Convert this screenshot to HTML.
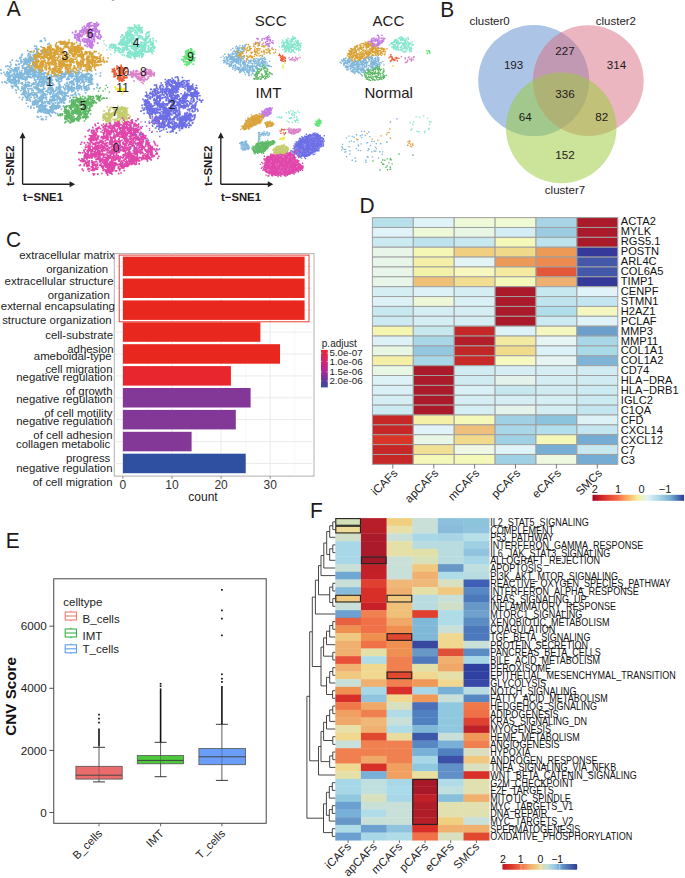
<!DOCTYPE html>
<html><head><meta charset="utf-8"><style>
html,body{margin:0;padding:0;background:#fff;}
body{width:685px;height:878px;overflow:hidden;}
svg{display:block;font-family:"Liberation Sans",sans-serif;}
</style></head><body>
<svg width="685" height="878" viewBox="0 0 685 878">
<text transform="translate(6.8 15.9) scale(0.93 1)" font-size="22.5" fill="#1e1a1a">A</text>
<text transform="translate(440.2 16.5) scale(0.93 1)" font-size="22.5" fill="#1e1a1a">B</text>
<text transform="translate(6.1 247.4) scale(0.93 1)" font-size="22.5" fill="#1e1a1a">C</text>
<text transform="translate(359.4 213.3) scale(0.93 1)" font-size="22.5" fill="#1e1a1a">D</text>
<text transform="translate(5.8 547.8) scale(0.93 1)" font-size="22.5" fill="#1e1a1a">E</text>
<text transform="translate(310.1 517.7) scale(0.93 1)" font-size="22.5" fill="#1e1a1a">F</text>
<path stroke="#80b8dc" stroke-width="1.65" stroke-linecap="square" fill="none" d="M33.2 54.5h0M33.3 52.2h0M34.8 54.4h0M34.7 55.1h0M9.7 81.0h0M13.7 80.4h0M12.0 79.8h0M10.4 79.5h0M8.9 76.8h0M9.5 74.4h0M9.8 75.2h0M8.7 73.3h0M45.1 102.8h0M42.2 103.6h0M44.3 101.5h0M44.6 101.6h0M34.0 101.9h0M32.5 103.6h0M30.2 100.8h0M34.5 100.7h0M22.1 82.9h0M22.5 83.5h0M22.1 83.4h0M22.2 84.2h0M65.9 72.6h0M66.5 72.0h0M62.7 73.4h0M64.2 73.8h0M34.7 84.0h0M32.8 84.6h0M32.3 84.6h0M33.7 84.2h0M27.4 84.6h0M27.8 85.1h0M27.7 82.0h0M26.2 85.0h0M52.4 107.0h0M53.8 106.6h0M51.7 105.7h0M52.7 104.5h0M43.5 95.8h0M43.8 98.0h0M40.0 98.4h0M42.6 97.9h0M19.1 77.4h0M22.1 76.8h0M15.9 76.3h0M18.1 77.7h0M73.4 83.7h0M72.4 84.5h0M71.7 85.6h0M72.6 82.5h0M67.6 85.9h0M66.0 86.1h0M64.6 84.6h0M68.8 85.5h0M55.6 75.3h0M57.3 74.7h0M55.0 74.9h0M56.6 76.6h0M48.9 89.8h0M47.0 90.9h0M50.2 89.3h0M49.1 87.5h0M40.9 90.0h0M42.1 90.8h0M38.9 90.2h0M40.6 91.1h0M7.8 74.2h0M7.7 78.5h0M7.1 76.0h0M6.6 76.1h0M40.4 106.5h0M41.9 105.1h0M41.9 104.4h0M40.5 104.9h0M12.0 74.7h0M13.6 76.8h0M9.9 75.6h0M13.5 73.8h0M55.6 106.6h0M54.7 105.3h0M56.0 106.2h0M52.6 105.6h0M30.6 72.0h0M30.2 72.3h0M31.1 71.4h0M30.4 70.9h0M38.4 106.4h0M40.1 109.0h0M36.8 106.9h0M37.1 106.2h0M23.6 59.4h0M19.7 58.4h0M21.1 59.6h0M21.1 59.5h0M29.6 76.9h0M26.0 78.3h0M26.9 77.1h0M24.3 76.8h0M4.0 72.3h0M6.5 73.7h0M7.2 71.7h0M5.0 74.6h0M37.3 84.5h0M38.1 84.9h0M38.7 84.2h0M39.1 82.7h0M50.5 87.5h0M50.7 87.5h0M52.3 87.3h0M52.9 89.5h0M39.6 71.6h0M40.8 71.8h0M40.9 71.1h0M41.0 69.7h0M15.7 69.1h0M15.1 69.5h0M15.9 68.2h0M14.0 69.8h0M28.4 67.0h0M27.7 70.0h0M26.4 69.6h0M29.5 70.7h0M37.8 52.0h0M37.2 51.4h0M36.9 50.6h0M40.8 50.7h0M46.8 78.1h0M46.8 76.2h0M47.2 77.0h0M46.1 76.8h0M36.1 62.9h0M34.5 62.2h0M35.2 61.8h0M36.9 62.2h0M30.0 70.4h0M27.7 70.0h0M31.2 70.5h0M28.6 69.7h0M53.0 99.4h0M52.8 99.7h0M53.7 99.9h0M52.6 100.4h0M36.0 58.4h0M36.7 57.0h0M35.8 59.3h0M36.6 59.1h0M25.4 78.1h0M25.4 80.6h0M27.0 79.4h0M25.6 79.8h0M28.3 92.4h0M32.1 94.6h0M28.3 90.9h0M28.4 93.0h0M90.9 74.8h0M90.1 76.3h0M91.5 74.6h0M89.4 73.7h0M25.6 58.0h0M25.6 58.9h0M24.5 59.3h0M24.8 59.8h0M81.0 75.6h0M79.4 76.8h0M81.2 75.5h0M81.1 77.7h0M64.7 100.4h0M64.4 103.2h0M63.1 99.1h0M63.9 99.4h0M71.7 75.9h0M71.9 77.7h0M72.9 76.2h0M73.6 75.9h0M34.3 98.1h0M35.5 100.2h0M38.3 101.4h0M35.4 101.0h0M41.8 110.9h0M41.0 111.0h0M40.8 109.3h0M41.0 112.0h0M39.1 81.7h0M36.0 82.1h0M38.5 82.4h0M35.8 81.6h0M51.5 111.0h0M52.1 108.8h0M53.2 110.8h0M51.7 109.5h0M44.3 105.4h0M43.7 107.8h0M44.6 106.4h0M44.7 106.5h0M26.9 63.9h0M29.0 65.0h0M26.3 63.5h0M28.4 62.5h0M28.0 85.2h0M27.3 85.2h0M27.9 86.0h0M28.6 86.4h0M29.1 73.4h0M29.0 73.8h0M28.8 73.5h0M29.6 73.0h0M38.7 75.5h0M39.0 75.8h0M38.7 75.9h0M38.4 76.2h0M56.9 107.8h0M58.0 107.5h0M57.8 106.4h0M56.1 106.2h0M42.5 107.4h0M43.2 108.8h0M44.6 109.1h0M43.2 108.2h0M50.5 81.9h0M51.5 79.9h0M52.1 83.0h0M50.7 79.5h0M21.7 77.7h0M20.9 75.9h0M20.2 78.1h0M20.6 77.8h0M71.2 82.8h0M70.1 82.0h0M70.5 82.4h0M71.6 81.1h0M34.6 80.0h0M35.7 79.9h0M35.6 80.3h0M34.9 79.8h0M52.3 99.8h0M54.4 99.5h0M55.2 99.9h0M55.6 99.5h0M16.2 80.6h0M16.3 82.0h0M16.0 84.2h0M14.1 83.1h0M27.3 62.5h0M26.9 60.4h0M28.0 61.8h0M28.4 64.9h0M74.2 78.6h0M74.9 79.5h0M73.8 79.8h0M76.2 77.8h0M58.5 94.9h0M57.3 96.7h0M55.9 96.4h0M54.8 96.7h0M86.3 74.6h0M87.9 73.4h0M86.0 74.1h0M84.8 76.1h0M60.6 79.4h0M60.1 78.8h0M61.5 80.9h0M58.6 81.0h0M50.0 93.6h0M50.3 92.2h0M51.2 93.2h0M53.4 91.8h0M47.5 82.3h0M46.4 81.3h0M45.3 81.0h0M45.5 81.6h0M47.8 111.4h0M49.2 111.8h0M48.5 110.2h0M49.2 110.6h0M16.0 76.0h0M16.5 74.1h0M17.4 73.1h0M17.6 74.0h0M43.2 79.4h0M40.8 78.7h0M42.9 78.2h0M40.4 76.7h0M20.0 72.7h0M21.6 74.1h0M21.4 73.6h0M21.3 74.2h0M23.7 64.8h0M24.2 63.3h0M23.9 63.9h0M26.3 64.1h0M55.1 76.0h0M54.0 75.2h0M54.8 73.1h0M55.8 74.6h0M60.3 75.9h0M61.2 79.4h0M60.2 79.2h0M61.3 78.3h0M44.1 110.1h0M42.8 107.3h0M44.1 109.3h0M44.7 107.5h0M57.2 93.3h0M56.5 95.0h0M55.9 94.8h0M56.2 93.8h0M66.3 74.1h0M67.0 72.4h0M65.6 71.0h0M66.5 73.9h0M62.1 100.8h0M59.9 100.4h0M62.2 100.2h0M61.7 102.6h0M53.9 107.0h0M54.7 108.8h0M55.3 108.5h0M55.5 108.7h0M34.4 64.8h0M33.6 66.4h0M32.9 64.4h0M35.0 65.9h0M69.6 81.8h0M70.5 83.4h0M73.1 81.1h0M70.5 82.3h0M20.8 76.9h0M23.3 78.3h0M23.2 74.9h0M22.8 78.7h0M77.7 75.3h0M75.7 72.4h0M78.0 74.3h0M77.2 72.7h0M51.6 101.1h0M49.0 101.7h0M48.5 103.6h0M50.1 99.2h0M41.7 78.0h0M39.8 80.1h0M40.3 76.5h0M40.7 78.4h0M35.6 102.1h0M37.3 102.8h0M34.5 104.4h0M35.5 103.3h0M68.5 90.1h0M67.2 88.7h0M70.0 89.2h0M68.3 88.4h0M28.5 53.8h0M28.4 54.6h0M27.9 56.0h0M29.0 53.7h0M32.2 58.2h0M32.7 59.4h0M30.2 60.4h0M29.1 59.5h0M30.4 77.5h0M30.5 76.5h0M33.0 76.5h0M33.1 75.6h0M19.9 74.2h0M21.4 76.1h0M19.7 74.0h0M20.1 74.1h0M90.3 82.2h0M91.4 81.1h0M92.5 79.5h0M91.4 81.5h0M34.4 65.3h0M32.5 67.9h0M34.5 69.3h0M35.2 66.1h0M48.2 79.3h0M46.7 79.2h0M46.9 77.8h0M47.6 78.7h0M25.8 80.2h0M25.7 79.1h0M23.1 79.1h0M24.1 79.2h0M14.2 70.9h0M15.8 71.0h0M14.7 70.7h0M13.2 70.0h0M33.3 60.0h0M33.6 59.5h0M34.0 59.3h0M34.2 58.8h0M56.8 80.6h0M55.7 79.2h0M56.4 80.5h0M58.2 80.0h0M71.8 89.4h0M72.1 88.1h0M71.6 87.1h0M71.8 90.6h0M67.4 89.1h0M69.9 88.6h0M68.2 89.6h0M70.5 87.4h0M84.7 87.8h0M85.8 86.7h0M84.3 88.1h0M85.9 87.9h0M18.0 80.4h0M18.5 79.9h0M19.3 81.4h0M19.1 78.0h0M49.9 103.8h0M51.2 101.7h0M52.4 103.3h0M49.9 100.7h0M57.6 105.5h0M56.1 108.8h0M58.2 108.2h0M60.0 106.9h0M65.2 93.4h0M67.7 93.0h0M65.1 93.4h0M68.0 91.6h0M18.3 69.3h0M18.6 68.7h0M17.3 70.0h0M18.4 68.1h0M53.8 91.0h0M56.0 90.1h0M56.4 89.2h0M56.3 87.2h0M60.8 90.2h0M60.0 91.9h0M60.0 91.5h0M61.9 93.1h0M50.2 80.8h0M48.1 79.8h0M51.6 83.1h0M49.0 83.0h0M49.4 92.6h0M49.9 89.0h0M47.9 92.3h0M50.2 94.3h0M74.2 87.7h0M74.2 88.2h0M74.4 87.5h0M72.8 87.5h0M64.4 94.1h0M65.0 89.8h0M64.8 92.3h0M65.7 94.3h0M51.1 75.0h0M49.9 76.9h0M51.4 75.8h0M55.4 76.7h0M46.2 52.6h0M48.8 52.0h0M48.9 52.1h0M47.6 52.1h0M8.5 77.1h0M7.6 76.0h0M7.5 76.0h0M8.6 74.6h0M25.7 86.3h0M25.7 82.9h0M24.4 85.0h0M25.7 84.7h0M19.1 80.5h0M18.2 81.4h0M18.9 81.6h0M18.9 79.0h0M77.7 78.1h0M77.1 76.1h0M79.5 79.0h0M77.3 80.7h0M15.8 69.5h0M17.0 67.5h0M18.8 67.6h0M18.9 67.3h0M32.4 101.6h0M33.5 104.4h0M33.6 103.2h0M34.5 104.7h0M39.0 69.1h0M39.1 70.7h0M38.8 69.6h0M38.2 69.9h0M36.9 76.7h0M39.7 72.6h0M37.8 72.8h0M35.1 71.3h0M27.6 62.9h0M28.1 60.3h0M27.8 61.2h0M27.3 61.8h0M88.3 80.6h0M88.4 82.1h0M89.8 84.2h0M88.8 84.5h0M69.0 76.0h0M69.3 76.1h0M71.1 75.4h0M71.7 73.6h0M70.7 88.7h0M74.0 87.9h0M73.7 90.7h0M70.8 89.7h0M32.3 94.5h0M33.8 95.8h0M31.1 97.2h0M33.1 95.1h0M36.9 50.0h0M36.9 49.9h0M36.9 48.3h0M35.4 48.9h0M24.4 63.9h0M27.1 59.2h0M24.8 62.5h0M27.6 59.8h0M55.4 105.8h0M56.4 107.4h0M55.5 107.0h0M57.3 106.1h0M73.4 73.7h0M72.7 73.3h0M72.2 71.0h0M70.8 73.0h0M43.2 80.8h0M39.8 79.6h0M43.3 82.2h0M43.5 79.1h0M50.5 88.4h0M49.2 88.2h0M50.4 86.9h0M48.4 87.9h0M30.8 59.9h0M29.2 60.6h0M31.2 59.9h0M30.5 61.1h0M39.5 77.1h0M41.5 74.8h0M40.1 73.3h0M41.1 75.3h0M86.4 74.7h0M86.0 76.7h0M84.0 76.9h0M85.6 74.9h0M38.2 110.6h0M38.8 110.4h0M40.2 109.7h0M39.1 108.7h0M50.8 92.1h0M51.4 91.3h0M53.1 90.2h0M53.7 92.8h0M64.5 98.0h0M64.9 97.7h0M63.4 96.4h0M64.3 97.3h0M46.1 81.1h0M48.5 82.5h0M44.4 82.4h0M48.3 82.4h0M63.0 92.3h0M61.8 94.1h0M66.1 93.0h0M62.1 94.0h0M52.8 84.8h0M52.9 83.4h0M50.1 85.3h0M53.8 84.9h0M36.0 75.2h0M34.5 76.1h0M33.4 75.3h0M32.8 75.8h0M82.0 77.1h0M83.4 76.9h0M84.1 75.9h0M85.4 75.8h0M27.7 61.1h0M25.1 60.3h0M25.0 59.5h0M26.0 62.0h0M50.1 92.7h0M51.0 90.0h0M47.7 92.1h0M48.0 92.0h0M37.6 72.9h0M36.5 72.0h0M36.1 71.6h0M35.2 73.4h0M27.1 97.5h0M25.3 95.7h0M25.4 96.6h0M26.1 97.1h0M26.6 72.1h0M26.6 72.5h0M26.2 71.9h0M25.9 69.4h0M17.2 71.6h0M19.9 72.7h0M18.6 69.7h0M19.7 71.5h0M13.2 71.3h0M10.9 71.9h0M10.2 70.8h0M10.7 71.1h0M31.1 67.7h0M31.5 67.3h0M32.7 65.3h0M30.2 68.4h0M36.1 102.5h0M37.9 103.2h0M39.6 101.4h0M37.3 101.4h0M78.1 73.5h0M79.5 72.6h0M81.4 72.6h0M79.2 72.3h0M9.9 77.7h0M10.8 76.6h0M11.9 75.6h0M9.3 77.4h0M39.0 108.1h0M39.2 109.3h0M39.7 111.3h0M40.4 108.8h0M23.2 68.1h0M22.3 66.4h0M21.8 70.6h0M22.6 68.2h0M41.8 103.4h0M42.4 102.5h0M43.2 103.2h0M41.8 101.2h0M34.7 62.4h0M34.8 62.5h0M34.5 62.8h0M37.8 62.3h0M30.3 94.9h0M29.5 95.7h0M28.4 94.6h0M29.4 93.8h0M34.9 64.4h0M32.9 64.9h0M35.5 61.2h0M34.4 63.6h0M86.9 89.0h0M85.7 88.7h0M86.3 89.5h0M87.5 89.7h0M26.2 77.1h0M26.9 78.3h0M27.1 76.7h0M26.4 78.9h0M42.2 76.8h0M45.2 79.0h0M42.3 79.9h0M41.8 77.3h0M34.3 70.6h0M35.7 70.2h0M34.8 69.5h0M32.9 68.7h0M15.3 78.6h0M13.7 78.9h0M13.4 77.5h0M14.6 77.5h0M69.0 76.3h0M69.1 75.8h0M66.9 73.6h0M68.9 74.4h0M27.2 72.1h0M27.3 71.5h0M27.5 71.0h0M26.4 72.6h0M61.1 92.9h0M60.5 91.4h0M60.8 90.9h0M60.6 92.0h0M27.7 62.5h0M29.7 60.3h0M27.4 60.3h0M28.6 57.8h0M76.9 87.8h0M78.0 90.7h0M78.5 88.5h0M79.1 89.0h0M47.1 101.4h0M49.4 101.8h0M49.5 102.0h0M49.9 99.8h0M92.8 84.0h0M91.2 83.6h0M90.7 84.4h0M91.8 82.4h0M82.5 74.3h0M83.7 74.4h0M82.9 75.2h0M83.3 74.5h0M28.2 100.2h0M29.8 98.9h0M29.6 99.1h0M27.5 98.8h0M58.5 86.5h0M57.3 88.0h0M58.7 86.9h0M60.3 86.3h0M24.7 68.4h0M24.1 67.8h0M24.5 69.8h0M26.6 67.9h0M29.6 86.0h0M28.6 86.3h0M28.6 84.6h0M27.9 84.9h0M32.7 59.0h0M33.5 57.7h0M33.2 55.9h0M34.6 56.8h0M76.1 81.3h0M76.1 81.2h0M76.9 83.7h0M77.6 82.5h0M41.1 81.9h0M42.3 80.8h0M41.2 84.6h0M39.5 79.9h0M32.5 84.5h0M35.6 84.0h0M33.3 83.6h0M33.8 83.3h0M36.7 72.5h0M39.2 74.3h0M35.7 72.5h0M38.3 72.7h0M38.8 57.3h0M38.9 57.1h0M36.8 57.9h0M39.8 56.0h0M44.9 102.3h0M41.4 101.9h0M41.9 102.6h0M42.2 101.4h0M41.6 106.8h0M43.2 105.8h0M39.8 107.5h0M44.1 106.0h0M38.5 77.7h0M37.7 79.5h0M40.2 77.6h0M37.9 78.5h0M19.3 64.0h0M22.0 61.8h0M19.4 64.4h0M18.6 64.3h0M50.9 109.5h0M51.2 109.6h0M51.0 108.6h0M50.2 110.0h0M17.1 77.1h0M15.4 76.1h0M12.6 79.4h0M16.8 76.5h0M85.4 87.2h0M84.1 86.2h0M85.4 87.2h0M86.6 87.7h0M43.1 103.2h0M42.1 103.1h0M42.4 104.3h0M41.3 105.0h0M27.8 70.9h0M26.8 71.5h0M25.5 70.9h0M24.8 73.1h0M58.6 84.0h0M59.1 82.6h0M59.8 81.8h0M59.9 84.7h0M41.8 85.6h0M43.2 83.1h0M43.4 85.0h0M43.3 83.6h0M42.3 89.7h0M43.2 89.2h0M41.9 91.1h0M42.5 89.6h0M44.9 72.7h0M45.4 73.2h0M45.7 73.1h0M44.8 76.2h0M47.5 50.7h0M49.8 49.8h0M48.6 47.8h0M45.9 51.2h0M18.2 75.1h0M16.3 71.5h0M17.2 72.5h0M17.3 73.3h0M16.8 74.6h0M13.2 76.4h0M14.5 74.0h0M15.9 77.7h0M47.3 110.7h0M49.1 110.0h0M49.9 110.5h0M50.7 111.9h0M8.7 69.4h0M10.0 66.4h0M11.1 68.7h0M12.3 69.6h0M50.3 106.9h0M50.0 109.5h0M51.6 107.3h0M52.1 108.8h0M25.2 59.7h0M23.9 59.7h0M25.2 63.2h0M24.3 61.1h0M16.3 81.0h0M15.2 79.6h0M16.2 81.0h0M16.7 81.4h0M82.7 80.1h0M82.1 82.0h0M84.1 82.0h0M82.9 81.7h0M56.9 106.1h0M57.6 105.9h0M58.6 106.1h0M54.4 105.2h0M40.1 99.3h0M39.2 98.3h0M37.0 96.9h0M37.9 98.5h0M58.3 92.7h0M57.7 91.9h0M58.4 89.3h0M59.4 90.4h0M61.5 75.0h0M60.8 72.9h0M59.3 72.6h0M59.5 72.4h0M49.9 107.1h0M51.2 109.3h0M51.7 106.2h0M52.2 107.2h0M16.0 68.0h0M15.3 69.0h0M14.8 68.7h0M15.2 67.8h0M26.0 85.7h0M25.2 84.6h0M26.7 85.8h0M25.7 85.0h0M60.3 78.7h0M62.1 78.1h0M59.3 75.7h0M63.3 77.1h0M65.1 73.1h0M61.8 73.1h0M63.1 74.4h0M65.2 75.3h0M8.8 79.1h0M10.9 81.8h0M10.8 82.5h0M10.4 80.1h0M24.5 87.5h0M23.2 88.1h0M24.8 85.1h0M23.6 85.7h0M52.0 90.8h0M48.0 89.3h0M52.1 88.5h0M48.9 88.3h0M34.6 64.1h0M32.6 63.7h0M34.3 65.1h0M36.4 64.6h0M70.8 73.5h0M73.1 75.5h0M72.1 75.0h0M71.9 73.8h0M71.4 76.3h0M72.1 76.5h0M70.7 76.4h0M72.1 73.6h0M35.3 97.5h0M36.8 95.6h0M36.7 96.4h0M33.7 95.1h0M72.4 81.1h0M76.8 80.3h0M76.2 78.8h0M76.6 81.2h0M30.5 88.5h0M28.0 88.8h0M28.5 89.0h0M29.2 89.0h0M28.9 59.7h0M29.7 60.4h0M29.4 57.5h0M29.9 61.0h0M62.0 92.1h0M63.4 93.2h0M61.4 92.0h0M62.1 95.5h0M48.3 103.2h0M47.5 101.3h0M46.6 101.7h0M47.9 103.3h0M47.1 94.5h0M45.1 93.8h0M43.3 96.3h0M45.2 94.9h0M26.5 86.8h0M25.7 86.6h0M24.8 88.1h0M25.2 87.0h0M37.9 52.6h0M38.0 54.4h0M37.0 53.1h0M38.1 53.3h0M67.9 87.4h0M68.7 87.1h0M64.9 88.7h0M65.6 87.5h0M65.3 95.1h0M68.0 96.0h0M66.5 95.7h0M68.3 96.1h0M38.1 100.5h0M39.4 100.8h0M38.1 100.9h0M37.9 101.7h0M61.1 102.6h0M63.9 102.8h0M60.7 101.4h0M61.9 100.6h0M34.4 72.7h0M33.5 74.4h0M33.1 72.7h0M31.4 71.0h0M30.3 93.5h0M31.6 94.4h0M31.7 92.8h0M30.3 94.2h0M89.9 80.5h0M89.6 77.2h0M90.6 77.1h0M92.4 78.5h0M80.9 86.9h0M80.1 85.8h0M78.8 88.6h0M81.7 89.7h0M8.8 73.0h0M9.0 72.5h0M9.0 73.0h0M10.5 72.5h0M46.4 99.2h0M46.4 97.4h0M45.5 95.6h0M45.0 97.9h0M36.1 93.8h0M36.9 92.9h0M38.3 92.1h0M37.1 95.0h0M50.6 97.0h0M50.7 99.3h0M51.2 101.7h0M49.3 102.5h0M22.2 78.1h0M22.1 79.0h0M21.1 78.7h0M20.1 77.3h0M34.8 104.0h0M36.0 99.8h0M37.7 103.3h0M35.8 104.0h0M30.9 57.9h0M30.6 54.6h0M31.4 58.9h0M30.7 56.9h0M68.1 77.1h0M68.3 78.7h0M69.5 79.0h0M67.3 78.8h0M43.2 70.7h0M39.6 69.9h0M41.2 70.6h0M41.5 72.1h0M24.1 61.5h0M24.7 61.7h0M24.7 62.6h0M26.9 59.7h0M85.2 79.6h0M85.4 78.3h0M86.6 79.3h0M85.0 77.3h0M39.0 105.6h0M40.6 107.0h0M39.9 107.0h0M39.3 105.7h0M27.7 73.4h0M28.7 74.9h0M27.7 75.4h0M27.0 74.8h0M52.9 95.6h0M52.5 96.5h0M52.5 97.5h0M53.8 97.1h0M71.4 88.1h0M72.7 90.1h0M73.9 89.9h0M73.5 90.9h0M63.4 97.4h0M64.1 96.8h0M64.3 97.6h0M63.5 96.9h0M20.2 76.0h0M21.4 75.1h0M21.5 74.0h0M21.0 75.2h0M74.1 84.8h0M72.1 82.7h0M73.9 83.5h0M73.4 82.2h0M18.9 76.4h0M16.2 75.9h0M16.8 76.7h0M17.3 76.7h0M22.3 65.7h0M23.0 65.7h0M23.8 64.3h0M22.4 65.8h0M29.6 65.5h0M29.0 67.4h0M28.6 65.1h0M30.0 63.3h0M35.5 55.5h0M36.7 55.4h0M35.4 56.2h0M36.1 55.2h0M16.0 71.0h0M16.1 69.7h0M15.9 70.9h0M13.4 70.0h0M71.4 75.9h0M70.0 74.3h0M71.7 75.1h0M70.6 73.3h0M22.0 86.8h0M25.5 88.5h0M24.7 87.7h0M23.9 90.1h0M40.7 99.3h0M41.9 100.7h0M42.6 99.1h0M41.8 98.1h0M67.3 79.3h0M68.6 79.5h0M67.7 78.4h0M66.7 79.3h0M61.2 77.1h0M62.7 77.3h0M58.2 74.7h0M61.1 76.4h0M21.8 86.7h0M17.9 87.1h0M16.6 86.4h0M15.8 86.2h0M41.1 95.3h0M42.2 94.8h0M43.3 95.8h0M42.5 98.2h0M85.7 74.5h0M85.6 75.1h0M87.5 73.6h0M86.9 75.0h0M57.3 96.5h0M57.3 98.1h0M54.7 96.2h0M57.6 96.3h0M76.3 95.0h0M75.0 93.6h0M71.9 91.7h0M75.6 92.6h0M63.4 76.6h0M61.7 74.0h0M61.6 76.4h0M61.9 73.9h0M35.1 88.2h0M33.9 86.7h0M36.0 88.6h0M34.4 87.9h0M14.7 74.8h0M17.8 73.1h0M14.5 72.9h0M16.0 71.3h0M42.2 73.9h0M44.2 75.1h0M43.1 74.5h0M44.0 73.1h0M23.4 89.9h0M24.5 90.0h0M20.9 90.7h0M21.8 88.8h0M48.3 113.3h0M47.4 113.1h0M49.2 112.8h0M48.3 111.8h0M8.4 79.9h0M9.9 82.0h0M9.8 80.4h0M9.0 82.0h0M90.8 78.9h0M88.6 80.7h0M89.4 80.5h0M86.2 81.3h0M15.9 82.9h0M14.9 83.4h0M15.0 81.4h0M16.2 84.3h0M54.7 95.4h0M55.5 94.6h0M52.7 94.4h0M54.1 95.2h0M52.8 88.7h0M50.5 89.0h0M50.5 88.8h0M51.2 89.1h0M79.6 79.8h0M76.0 81.4h0M78.0 77.8h0M77.4 79.2h0M41.5 109.1h0M43.6 112.3h0M42.7 111.7h0M43.2 110.5h0M25.3 90.2h0M25.2 91.1h0M26.2 92.1h0M24.4 90.4h0M40.5 97.0h0M42.1 99.1h0M41.9 96.9h0M40.9 99.2h0M31.3 70.9h0M32.7 73.7h0M32.1 70.7h0M29.1 71.5h0M7.7 74.0h0M7.0 72.3h0M8.7 73.8h0M7.8 73.0h0M42.8 92.1h0M43.9 94.4h0M43.3 91.8h0M42.3 92.8h0M38.2 61.4h0M37.6 61.9h0M36.4 60.0h0M37.9 60.4h0M27.7 94.9h0M25.8 96.4h0M26.4 97.5h0M26.5 94.0h0M89.5 80.9h0M88.6 79.0h0M88.8 81.8h0M88.2 79.7h0M76.7 88.4h0M77.2 88.9h0M76.1 88.5h0M78.8 88.4h0M47.4 85.5h0M46.4 82.9h0M45.8 81.9h0M46.5 84.0h0M37.0 87.8h0M37.5 88.4h0M36.7 86.9h0M36.4 86.1h0M31.2 59.1h0M30.0 62.7h0M31.7 60.4h0M31.1 59.7h0M31.7 77.6h0M35.3 76.3h0M34.1 77.8h0M34.4 77.5h0M43.6 89.4h0M43.5 88.4h0M43.5 87.4h0M44.8 88.5h0M26.5 98.0h0M26.6 96.8h0M26.4 100.2h0M26.3 97.1h0M36.6 53.7h0M38.1 52.5h0M36.6 53.0h0M34.8 54.6h0M59.0 99.0h0M61.8 99.1h0M60.2 99.2h0M60.3 97.8h0M25.7 93.1h0M23.5 91.4h0M24.4 93.2h0M24.3 93.9h0M53.7 95.8h0M52.7 96.9h0M54.3 96.7h0M53.7 96.9h0M45.9 105.4h0M45.1 108.1h0M43.4 106.2h0M46.2 105.8h0M49.9 78.5h0M49.5 79.3h0M51.0 76.9h0M48.1 79.5h0M52.6 104.8h0M52.5 105.1h0M53.5 104.1h0M53.6 106.8h0M49.4 85.1h0M48.1 83.5h0M47.7 82.8h0M47.8 82.3h0M40.3 71.1h0M39.4 73.6h0M39.1 73.8h0M37.1 74.7h0M63.2 86.9h0M64.1 88.5h0M61.0 87.3h0M64.4 88.8h0M51.8 76.4h0M51.5 77.9h0M50.0 77.7h0M49.3 78.2h0M69.5 90.5h0M67.8 88.4h0M71.0 87.1h0M69.6 89.3h0M38.4 102.3h0M36.6 104.0h0M37.2 104.3h0M35.8 104.3h0M37.9 76.8h0M37.0 76.8h0M38.3 76.3h0M39.3 76.6h0M53.0 98.1h0M53.4 97.3h0M51.8 96.7h0M54.1 98.2h0M24.3 73.4h0M23.5 75.6h0M24.8 71.8h0M24.8 74.3h0M43.3 82.5h0M42.6 82.9h0M43.4 81.0h0M43.5 82.8h0M79.1 71.2h0M78.1 72.2h0M79.4 68.8h0M78.8 72.7h0M51.7 112.6h0M52.6 112.7h0M49.6 114.6h0M50.7 111.8h0M61.4 99.1h0M62.2 99.0h0M62.4 101.0h0M63.9 98.9h0M34.6 65.9h0M37.1 63.8h0M36.6 67.4h0M36.2 65.6h0M31.2 85.8h0M31.9 84.4h0M32.3 84.1h0M33.9 82.9h0M62.4 100.6h0M63.4 99.6h0M64.9 96.4h0M60.6 99.1h0M83.1 79.8h0M83.8 82.5h0M84.1 84.1h0M83.4 82.5h0M85.4 87.2h0M88.5 89.5h0M88.6 87.3h0M86.8 85.7h0M65.7 99.1h0M63.1 97.3h0M62.7 101.6h0M63.7 100.7h0M84.1 87.5h0M88.4 85.3h0M83.6 85.8h0M86.1 86.9h0M59.8 86.2h0M58.6 88.2h0M60.2 88.6h0M60.0 87.8h0M66.7 86.0h0M68.9 86.9h0M67.4 83.4h0M66.9 85.9h0M64.3 75.6h0M63.1 73.9h0M65.1 76.8h0M64.9 74.0h0M32.0 70.7h0M33.5 74.8h0M33.1 72.8h0M34.5 72.4h0M34.7 73.7h0M35.1 71.6h0M35.1 75.1h0M32.8 71.3h0M76.7 86.4h0M77.8 85.5h0M77.2 84.3h0M77.2 83.3h0M87.0 74.8h0M88.3 74.4h0M86.5 75.0h0M87.2 77.1h0M91.3 77.5h0M89.3 78.0h0M91.2 75.9h0M92.1 75.9h0M41.9 50.9h0M41.3 46.8h0M41.9 50.3h0M42.4 50.3h0M62.0 93.4h0M63.7 96.0h0M61.4 94.0h0M62.4 91.5h0M45.2 111.4h0M46.3 108.9h0M45.2 110.1h0M44.8 109.5h0M33.3 92.5h0M33.7 94.6h0M34.8 93.0h0M32.2 94.6h0M37.9 86.5h0M38.5 82.9h0M39.2 85.4h0M40.3 82.3h0M45.9 91.2h0M43.3 92.1h0M43.3 92.3h0M43.7 93.5h0M39.0 88.8h0M37.4 89.9h0M37.0 89.4h0M38.0 87.7h0M41.0 100.1h0M38.6 101.7h0M39.8 99.0h0M39.6 101.0h0M37.0 88.5h0M36.0 86.3h0M37.1 87.6h0M36.2 87.3h0M45.2 106.5h0M43.9 105.8h0M46.5 105.8h0M41.6 105.7h0M40.8 93.0h0M38.8 91.4h0M40.1 89.5h0M39.2 92.6h0M44.3 82.6h0M41.7 83.5h0M43.6 85.6h0M44.1 84.5h0M36.4 46.3h0M37.1 49.8h0M36.9 50.4h0M34.7 46.1h0M53.7 103.2h0M54.3 100.9h0M55.9 99.4h0M57.1 100.7h0M60.8 91.2h0M59.9 92.1h0M58.6 92.4h0M60.7 91.8h0M29.0 96.9h0M27.7 97.7h0M27.2 97.0h0M28.2 95.9h0M75.4 76.2h0M78.7 74.4h0M76.2 74.7h0M76.4 76.6h0M56.1 108.7h0M58.6 107.0h0M57.5 105.3h0M59.1 107.1h0M83.1 80.4h0M82.2 79.2h0M81.6 81.0h0M86.0 78.8h0M47.8 84.9h0M47.6 85.5h0M49.1 83.5h0M48.5 82.7h0M23.1 93.1h0M21.5 94.4h0M21.7 94.5h0M22.9 94.5h0M37.5 83.7h0M39.0 82.7h0M40.4 81.9h0M39.1 85.4h0M41.1 78.9h0M40.6 79.1h0M41.4 79.6h0M41.5 78.9h0M82.9 77.6h0M84.0 77.3h0M82.5 76.5h0M81.8 75.0h0M75.8 73.8h0M74.8 72.2h0M74.5 71.7h0M71.9 75.2h0M59.2 102.3h0M54.8 105.7h0M55.7 102.9h0M52.7 106.3h0M44.1 112.3h0M46.0 112.1h0M47.1 109.6h0M46.1 109.9h0M29.4 82.8h0M29.5 82.8h0M28.7 82.4h0M28.7 85.1h0M29.9 69.3h0M31.5 69.1h0M29.4 66.6h0M27.7 69.6h0M57.4 96.1h0M57.6 98.9h0M58.3 97.5h0M58.9 96.8h0M17.0 67.7h0M15.3 67.9h0M16.5 65.1h0M15.7 64.6h0M19.0 74.4h0M20.3 73.1h0M19.5 74.0h0M17.6 74.2h0M80.4 87.9h0M81.7 89.0h0M80.7 87.1h0M80.3 87.2h0M76.4 77.5h0M80.9 76.2h0M79.3 77.2h0M77.2 77.3h0M70.0 82.9h0M66.5 83.7h0M68.7 84.9h0M67.1 82.5h0M28.9 72.7h0M31.1 71.0h0M33.2 73.2h0M30.5 72.5h0M21.2 61.6h0M18.3 61.2h0M20.9 61.3h0M21.3 62.9h0M20.1 77.8h0M22.0 77.9h0M18.7 79.6h0M20.6 76.7h0M29.9 56.3h0M29.0 58.9h0M28.4 59.4h0M28.3 60.7h0M80.5 79.3h0M79.2 80.3h0M79.2 80.7h0M80.0 79.2h0M21.7 72.5h0M24.0 73.5h0M23.0 74.2h0M23.9 74.4h0M61.4 78.8h0M59.7 78.1h0M58.2 78.3h0M57.8 76.9h0M31.2 57.2h0M32.6 59.5h0M32.5 60.1h0M30.2 59.2h0M59.9 94.0h0M61.6 94.1h0M59.7 92.9h0M61.0 91.2h0M79.4 85.0h0M77.1 84.4h0M77.7 86.2h0M80.7 83.0h0M71.4 71.5h0M70.3 70.7h0M70.3 71.4h0M69.2 73.7h0M84.9 77.3h0M86.4 77.0h0M83.8 75.9h0M86.2 77.6h0M36.5 53.7h0M38.0 54.5h0M39.1 53.5h0M38.2 55.0h0M38.7 85.2h0M38.7 84.8h0M40.8 86.1h0M37.6 86.7h0M45.8 78.9h0M43.5 77.0h0M43.4 80.9h0M46.8 78.6h0M35.3 95.0h0M34.8 94.6h0M34.8 94.8h0M34.8 93.4h0M37.5 96.2h0M39.8 97.4h0M39.7 98.1h0M41.4 96.5h0M90.0 79.1h0M90.1 78.6h0M90.6 76.6h0M91.9 79.6h0M52.5 80.0h0M51.0 81.7h0M51.2 78.9h0M51.6 80.6h0M56.2 79.3h0M56.5 80.5h0M57.3 80.2h0M56.9 81.1h0M50.8 78.9h0M48.8 74.8h0M49.4 79.7h0M50.0 78.2h0M41.0 53.5h0M42.0 53.8h0M43.2 52.4h0M44.5 52.2h0M59.6 105.8h0M57.7 104.5h0M57.9 102.9h0M58.7 103.4h0M21.2 83.2h0M18.6 83.2h0M18.8 83.5h0M18.6 82.8h0M38.6 70.8h0M42.5 74.1h0M41.3 72.6h0M40.3 74.2h0M78.4 78.8h0M79.1 81.9h0M78.3 80.9h0M80.6 83.2h0M41.4 110.2h0M41.5 111.2h0M42.8 109.0h0M41.2 112.0h0M27.2 66.2h0M25.8 67.5h0M27.4 67.2h0M26.3 68.8h0M45.4 112.1h0M44.9 112.7h0M45.9 112.9h0M45.9 112.0h0M12.0 79.7h0M12.3 80.8h0M9.9 79.5h0M10.8 81.2h0M26.6 73.3h0M27.5 73.3h0M26.3 72.5h0M29.2 73.9h0M42.8 78.4h0M44.6 77.6h0M44.3 76.8h0M44.1 80.8h0M51.9 109.3h0M52.8 109.2h0M54.3 108.0h0M53.1 109.5h0M33.2 90.3h0M31.8 90.4h0M32.3 90.4h0M32.0 88.5h0M18.1 88.0h0M16.6 84.0h0M16.0 84.6h0M17.0 86.4h0M89.6 78.4h0M90.0 78.8h0M88.1 77.7h0M91.0 78.9h0M30.0 76.6h0M30.5 74.3h0M28.7 76.9h0M29.6 77.3h0M32.3 70.4h0M33.1 70.4h0M30.6 72.3h0M31.2 74.3h0M32.0 60.8h0M29.8 61.8h0M32.2 59.1h0M32.4 58.2h0M14.4 82.1h0M13.9 80.7h0M15.0 83.7h0M12.6 82.9h0M79.9 86.4h0M81.6 86.6h0M78.8 86.6h0M79.2 86.9h0M54.9 91.4h0M56.1 89.8h0M58.2 89.7h0M56.0 89.4h0M24.6 95.5h0M24.8 93.2h0M24.3 92.7h0M23.0 93.3h0M96.0 74.0h0M7.4 80.4h0M27.7 50.6h0M31.0 106.4h0M94.0 88.9h0M22.3 54.3h0M33.9 107.9h0M26.3 103.2h0M30.8 108.1h0M12.2 60.2h0M20.1 57.5h0M18.5 89.3h0M85.5 92.9h0M97.9 85.2h0M96.8 87.6h0M11.6 83.5h0M89.3 88.5h0M69.6 102.0h0M72.9 95.1h0M4.7 81.8h0M37.3 116.6h0M10.3 62.2h0M12.4 87.8h0M32.8 105.0h0M100.3 75.8h0M87.1 69.9h0M49.2 43.6h0M37.8 112.4h0M2.2 82.3h0M46.0 119.4h0M65.5 106.6h0M90.8 68.7h0M21.4 57.2h0M86.8 90.5h0M55.5 113.1h0M41.1 40.6h0M7.8 65.8h0M21.6 55.5h0M80.6 69.4h0M46.3 116.8h0M8.2 69.4h0M73.3 99.2h0M6.8 83.1h0M41.3 119.5h0M15.7 90.0h0M9.6 66.9h0M42.2 118.7h0M43.1 119.6h0M70.2 97.8h0M69.9 100.7h0M5.7 82.2h0M61.5 109.2h0M63.4 105.8h0M16.2 90.5h0M50.8 115.9h0M47.8 44.3h0M45.4 40.3h0M11.0 64.4h0M79.6 95.0h0M72.6 71.2h0M97.6 85.4h0M16.4 60.6h0M12.8 86.6h0M57.5 113.6h0M29.5 51.7h0M41.5 41.4h0M44.7 38.4h0M22.2 99.6h0M14.2 85.3h0M16.4 92.7h0M5.9 66.3h0M97.2 84.1h0M84.7 90.4h0M78.6 93.7h0M38.5 117.2h0M0.9 69.9h0M91.5 70.8h0M44.4 38.4h0M86.7 89.7h0M71.1 95.3h0M41.0 116.5h0M11.6 86.1h0M19.4 97.5h0M75.0 94.3h0M66.5 106.3h0M100.6 73.0h0M28.1 106.5h0M22.9 97.6h0M1.4 73.3h0M40.3 41.4h0M31.4 51.6h0M54.4 112.2h0"/>
<path stroke="#5cb864" stroke-width="1.65" stroke-linecap="square" fill="none" d="M73.8 112.5h0M74.9 110.1h0M75.7 112.2h0M75.8 112.4h0M78.8 120.1h0M80.7 117.7h0M77.4 118.2h0M79.9 114.6h0M84.6 114.7h0M84.7 115.2h0M84.1 116.0h0M84.2 114.1h0M85.2 116.4h0M84.0 113.4h0M85.2 114.3h0M85.9 115.6h0M78.6 99.0h0M77.3 98.6h0M77.0 100.4h0M77.0 98.0h0M75.6 103.3h0M74.5 106.5h0M73.4 105.3h0M75.8 104.5h0M82.7 107.7h0M81.7 108.9h0M80.0 105.6h0M83.2 109.1h0M93.2 96.5h0M90.4 96.4h0M91.4 99.5h0M89.4 97.0h0M65.4 115.5h0M66.9 114.0h0M66.0 113.1h0M66.2 116.4h0M77.4 106.2h0M74.6 106.3h0M74.9 106.1h0M76.1 107.4h0M83.3 107.1h0M85.0 106.0h0M86.2 107.3h0M84.5 105.3h0M83.6 110.7h0M84.1 110.7h0M85.8 108.8h0M86.2 109.7h0M65.0 110.1h0M66.4 109.8h0M66.1 110.2h0M64.2 111.3h0M95.5 102.3h0M92.9 100.8h0M96.3 103.0h0M95.2 102.2h0M92.1 102.3h0M91.0 102.8h0M90.6 104.3h0M91.0 103.3h0M87.7 117.3h0M86.3 115.3h0M85.0 116.0h0M88.0 117.1h0M84.4 103.9h0M83.9 99.8h0M83.1 103.6h0M82.6 102.4h0M77.1 110.2h0M76.7 109.9h0M73.4 110.3h0M75.1 110.0h0M93.8 98.0h0M92.5 101.6h0M92.6 100.0h0M92.6 101.5h0M89.8 108.4h0M89.9 106.6h0M86.1 106.3h0M87.9 105.3h0M77.0 111.1h0M77.4 112.2h0M76.4 111.7h0M76.5 112.4h0M68.0 110.6h0M69.1 111.0h0M67.9 113.1h0M68.0 110.3h0M88.4 102.6h0M87.5 101.6h0M87.7 103.4h0M88.2 100.2h0M88.3 98.8h0M88.9 99.0h0M89.2 97.7h0M88.4 101.0h0M69.7 113.8h0M71.3 112.1h0M72.6 116.7h0M68.6 116.2h0M87.8 104.8h0M85.5 106.0h0M88.0 103.6h0M86.5 105.7h0M90.6 100.0h0M90.1 102.5h0M91.8 101.9h0M88.7 101.8h0M77.3 118.5h0M78.8 121.0h0M78.9 119.2h0M78.2 121.0h0M82.8 96.4h0M83.1 99.3h0M79.5 99.2h0M80.5 97.1h0M72.9 115.0h0M71.2 115.1h0M73.1 114.3h0M69.3 115.7h0M79.3 114.1h0M77.9 113.7h0M79.6 111.4h0M77.1 113.8h0M70.9 109.3h0M69.8 107.5h0M71.1 109.2h0M73.2 107.3h0M73.0 121.7h0M73.1 120.2h0M74.3 119.7h0M73.1 119.2h0M75.6 110.2h0M77.0 108.9h0M76.2 109.9h0M76.8 109.8h0M66.7 106.1h0M67.2 106.0h0M64.4 107.1h0M66.2 107.4h0M68.3 113.0h0M65.3 111.7h0M66.4 113.1h0M64.9 113.2h0M85.0 106.8h0M84.5 106.5h0M83.2 107.8h0M83.9 103.7h0M90.8 102.1h0M91.7 102.6h0M90.7 99.6h0M93.4 100.9h0M87.1 107.7h0M86.7 106.3h0M85.3 107.0h0M85.6 107.5h0M67.1 115.5h0M65.4 116.8h0M68.2 116.5h0M67.5 114.4h0M67.8 116.6h0M66.2 117.7h0M69.3 117.2h0M67.9 115.9h0M79.1 102.9h0M80.9 101.4h0M80.2 99.9h0M80.2 102.2h0M66.9 114.3h0M66.9 113.9h0M68.0 114.2h0M67.0 113.6h0M78.1 111.7h0M76.6 111.8h0M78.9 111.6h0M77.7 110.9h0M77.7 101.4h0M74.5 103.5h0M77.7 102.4h0M76.0 99.9h0M68.0 116.2h0M68.2 116.2h0M69.3 117.1h0M68.7 114.8h0M78.1 99.7h0M79.5 99.6h0M81.8 99.1h0M79.2 98.9h0M98.9 98.3h0M99.0 100.0h0M97.5 98.3h0M99.1 100.4h0M85.8 113.0h0M83.3 117.7h0M86.0 114.7h0M86.8 117.3h0M78.4 107.6h0M77.2 104.8h0M79.3 108.2h0M78.7 105.9h0M99.2 99.2h0M101.6 99.0h0M100.1 100.6h0M100.4 97.3h0M77.1 118.7h0M79.0 116.5h0M78.6 118.5h0M79.8 119.0h0M73.7 100.7h0M75.3 103.0h0M75.2 102.6h0M73.4 101.7h0M83.4 102.7h0M84.4 102.0h0M85.0 101.7h0M86.3 101.4h0M72.8 113.5h0M72.3 112.2h0M71.7 113.1h0M72.1 110.6h0M69.5 118.2h0M67.0 115.7h0M67.4 117.3h0M68.5 116.9h0M65.4 110.3h0M66.3 109.9h0M65.9 109.6h0M66.5 111.5h0M72.9 102.1h0M72.3 102.0h0M71.7 103.0h0M74.1 102.6h0M76.6 113.7h0M74.5 112.0h0M76.3 111.2h0M74.5 111.7h0M70.8 106.1h0M69.3 107.4h0M70.1 107.9h0M72.5 107.5h0M86.9 105.4h0M85.7 103.5h0M87.2 103.1h0M86.1 101.9h0M83.9 108.8h0M88.0 110.8h0M87.2 111.2h0M85.4 111.1h0M78.5 100.3h0M80.7 98.3h0M78.1 99.5h0M78.1 99.0h0M83.4 110.0h0M83.7 110.5h0M85.4 111.6h0M85.2 111.4h0M87.7 113.6h0M86.7 117.3h0M86.9 115.4h0M85.7 114.6h0M66.2 119.3h0M66.2 117.6h0M65.0 119.0h0M65.2 118.9h0M76.8 99.0h0M81.0 100.1h0M75.5 101.1h0M80.4 100.4h0M81.1 113.9h0M81.3 115.0h0M78.6 114.4h0M81.9 113.6h0M81.4 109.9h0M80.3 110.4h0M78.7 112.9h0M80.5 111.6h0M92.9 102.3h0M93.6 103.4h0M94.3 100.7h0M94.2 101.4h0M62.4 114.7h0M62.4 113.7h0M62.0 114.8h0M60.3 115.6h0M69.1 118.6h0M71.5 117.3h0M69.4 117.8h0M69.1 117.7h0M85.5 101.1h0M87.1 99.9h0M84.9 97.3h0M85.2 98.4h0M80.1 117.2h0M85.2 115.9h0M82.7 117.0h0M82.9 117.5h0M72.1 121.6h0M68.8 121.4h0M71.1 121.3h0M70.0 122.5h0M85.8 113.9h0M86.2 114.0h0M83.9 113.6h0M86.1 113.7h0M83.2 104.4h0M83.7 105.6h0M83.9 104.4h0M83.7 105.4h0M77.8 105.6h0M77.6 104.8h0M76.2 106.0h0M76.9 106.7h0M90.5 110.2h0M89.5 109.9h0M89.4 110.5h0M88.5 111.5h0M72.4 119.2h0M74.3 120.9h0M74.2 119.0h0M71.9 117.4h0M71.7 101.5h0M73.3 102.4h0M72.0 103.9h0M71.3 105.3h0M68.1 113.7h0M69.1 112.2h0M70.1 115.7h0M69.9 114.6h0M91.4 105.3h0M89.4 103.7h0M89.3 104.5h0M91.3 104.9h0M66.1 109.7h0M64.9 108.7h0M64.8 109.5h0M65.5 110.8h0M74.9 108.5h0M74.5 110.4h0M74.0 110.7h0M75.8 109.2h0M98.5 99.2h0M97.1 98.8h0M98.6 97.0h0M98.2 99.1h0M71.1 108.4h0M71.2 107.8h0M69.3 107.4h0M70.8 109.3h0M76.7 119.9h0M77.5 119.4h0M77.7 119.3h0M75.9 118.8h0M70.9 105.2h0M71.7 105.9h0M71.6 104.3h0M69.1 105.9h0M79.4 100.9h0M77.9 98.9h0M79.5 101.7h0M79.1 98.7h0M72.7 120.3h0M74.1 117.0h0M71.8 116.8h0M72.2 117.5h0M73.8 119.8h0M75.0 118.8h0M72.9 119.3h0M73.2 121.0h0M67.0 119.1h0M66.8 118.6h0M67.5 116.9h0M64.8 118.0h0M73.7 120.0h0M72.4 119.8h0M74.6 119.7h0M73.7 120.1h0M80.8 104.5h0M79.9 104.6h0M80.5 105.5h0M78.7 105.8h0M91.5 102.2h0M89.8 103.6h0M90.6 103.1h0M90.9 103.4h0M73.2 101.7h0M72.2 103.0h0M72.2 102.0h0M71.9 99.9h0M85.0 104.0h0M86.2 100.8h0M85.6 103.6h0M85.6 104.8h0M70.4 118.2h0M70.6 119.6h0M72.6 119.0h0M70.2 117.9h0M89.2 110.8h0M88.6 108.3h0M88.3 112.5h0M88.2 108.7h0M72.3 118.1h0M70.9 119.7h0M68.8 117.6h0M70.2 118.2h0M77.5 110.1h0M76.5 110.0h0M74.9 109.1h0M77.5 108.3h0M78.1 114.0h0M78.4 116.5h0M76.9 118.2h0M77.4 117.6h0M79.0 110.8h0M79.6 112.2h0M79.4 111.2h0M79.5 108.4h0M97.9 97.6h0M99.1 100.5h0M96.8 96.5h0M98.3 96.8h0M83.6 111.4h0M81.4 112.4h0M83.8 112.8h0M83.0 112.0h0M75.2 111.8h0M75.4 111.4h0M75.0 113.1h0M72.4 110.7h0M89.1 104.0h0M88.5 104.0h0M90.8 106.7h0M88.7 105.5h0M91.3 105.6h0M92.3 105.8h0M92.1 105.9h0M91.7 104.3h0M87.3 98.6h0M86.0 101.9h0M83.0 99.8h0M84.1 100.9h0M74.0 103.4h0M73.8 102.7h0M73.5 104.3h0M74.4 104.6h0M75.9 105.8h0M76.0 105.1h0M76.5 107.5h0M78.4 107.9h0M84.2 107.0h0M85.3 107.3h0M83.9 107.2h0M83.5 105.7h0M85.1 117.4h0M84.9 116.2h0M82.8 116.8h0M83.6 117.0h0M84.2 109.8h0M83.7 109.5h0M82.2 109.0h0M85.0 108.5h0M74.6 100.4h0M77.1 100.7h0M77.0 100.8h0M75.8 100.2h0M80.1 111.0h0M78.8 110.0h0M78.1 110.3h0M78.8 110.7h0M66.0 116.8h0M67.6 112.4h0M65.0 116.0h0M67.3 113.2h0M81.7 113.2h0M80.1 113.0h0M80.2 111.0h0M80.3 110.5h0M80.6 118.0h0M78.6 114.9h0M79.8 116.4h0M77.9 116.9h0M90.4 97.6h0M89.0 98.1h0M92.9 98.7h0M90.6 98.1h0M106.7 98.1h0M73.3 97.4h0M65.9 121.6h0M74.0 97.2h0M70.5 122.9h0M60.3 114.0h0M60.3 115.6h0M91.8 96.7h0M76.1 97.3h0M100.8 95.5h0M58.1 115.3h0M84.4 121.0h0M99.9 96.8h0M103.3 98.1h0M85.7 118.8h0M68.0 120.9h0M104.3 98.2h0M96.2 96.3h0M90.5 114.0h0M88.3 96.0h0M65.0 122.6h0M59.7 114.6h0"/>
<path stroke="#d9a338" stroke-width="1.65" stroke-linecap="square" fill="none" d="M77.9 65.9h0M78.4 66.1h0M78.7 67.2h0M77.9 66.8h0M62.5 65.5h0M56.2 67.0h0M58.9 66.2h0M60.1 67.0h0M75.3 52.0h0M74.7 50.2h0M74.4 47.1h0M71.0 50.1h0M42.8 63.1h0M43.1 62.6h0M44.5 61.6h0M42.9 62.5h0M74.3 48.9h0M75.8 51.2h0M74.8 50.7h0M71.9 50.6h0M55.0 69.9h0M53.7 68.6h0M57.2 72.2h0M56.4 68.6h0M54.4 57.3h0M52.9 56.6h0M52.0 56.9h0M52.5 58.4h0M90.1 69.9h0M88.5 68.2h0M88.2 67.1h0M87.6 66.7h0M89.0 60.3h0M88.2 61.3h0M88.2 61.2h0M88.8 61.7h0M92.8 65.3h0M95.0 65.9h0M94.7 67.5h0M94.6 65.7h0M40.2 67.4h0M41.4 67.6h0M39.9 67.3h0M38.6 67.4h0M65.6 58.8h0M68.0 60.4h0M66.0 57.9h0M67.4 59.9h0M71.8 59.9h0M71.9 59.7h0M73.7 61.9h0M71.8 58.8h0M72.0 43.7h0M68.3 42.1h0M71.6 44.5h0M71.3 46.2h0M70.8 48.7h0M68.6 47.5h0M69.9 49.1h0M68.5 47.0h0M63.6 66.1h0M64.2 63.9h0M64.2 65.6h0M64.7 65.2h0M54.3 73.3h0M53.6 73.1h0M54.8 74.3h0M53.1 73.2h0M77.7 49.4h0M76.7 49.9h0M79.5 49.2h0M76.2 46.7h0M75.4 50.7h0M75.4 49.8h0M77.5 50.0h0M77.7 49.2h0M42.1 64.4h0M41.0 63.0h0M37.6 65.2h0M40.0 63.7h0M41.3 64.8h0M38.1 67.4h0M40.6 65.0h0M40.7 66.7h0M37.3 52.0h0M34.7 55.2h0M37.3 56.1h0M40.8 56.7h0M56.3 47.7h0M58.3 47.1h0M56.1 49.5h0M57.6 48.0h0M78.8 46.2h0M77.7 46.3h0M77.4 46.3h0M78.9 45.8h0M51.3 57.2h0M52.1 58.7h0M51.7 55.8h0M52.5 55.5h0M72.9 46.2h0M72.3 45.8h0M71.9 42.7h0M70.9 47.0h0M80.5 62.0h0M80.5 65.0h0M82.2 64.3h0M80.3 63.6h0M72.1 53.3h0M74.8 55.4h0M72.9 54.9h0M74.8 55.7h0M73.2 59.7h0M70.1 60.3h0M69.8 59.9h0M71.8 59.1h0M51.2 53.9h0M52.7 52.9h0M50.7 53.5h0M50.5 55.6h0M75.3 54.3h0M74.7 54.9h0M76.5 53.9h0M74.4 51.6h0M66.2 45.1h0M66.3 45.7h0M65.1 43.8h0M66.4 44.6h0M87.6 62.9h0M89.1 59.6h0M86.7 62.1h0M86.8 59.9h0M53.9 64.9h0M56.1 65.0h0M53.2 64.2h0M56.2 63.0h0M50.1 55.8h0M51.1 53.4h0M50.6 55.2h0M50.7 52.4h0M71.9 50.4h0M76.2 51.8h0M76.0 48.0h0M75.6 51.9h0M71.8 60.4h0M72.3 61.3h0M73.2 59.4h0M72.8 62.3h0M66.7 60.5h0M66.4 61.2h0M65.5 60.7h0M66.2 61.3h0M46.4 50.2h0M48.8 47.6h0M47.6 48.8h0M49.1 48.3h0M74.1 53.7h0M74.7 53.1h0M73.8 55.2h0M73.5 56.3h0M68.7 72.6h0M68.5 72.8h0M67.5 70.9h0M69.1 71.4h0M66.1 67.2h0M66.7 66.1h0M67.2 65.3h0M65.4 65.7h0M39.3 57.2h0M39.3 57.2h0M38.0 57.0h0M39.1 56.7h0M47.0 56.2h0M46.0 55.7h0M47.3 55.7h0M48.9 53.1h0M55.7 52.3h0M55.3 51.3h0M54.6 52.4h0M54.4 52.6h0M39.0 53.6h0M38.1 53.4h0M39.8 55.4h0M39.8 53.9h0M88.6 59.6h0M89.8 60.7h0M87.8 57.9h0M89.7 61.3h0M96.6 62.5h0M94.8 62.8h0M97.6 61.6h0M94.8 62.1h0M77.9 55.3h0M78.0 56.2h0M77.3 54.6h0M79.0 54.3h0M92.0 55.8h0M93.2 56.7h0M91.3 54.2h0M92.4 58.3h0M42.8 47.7h0M43.9 49.4h0M44.5 49.9h0M44.0 49.7h0M45.9 63.3h0M45.9 63.2h0M48.0 63.3h0M45.8 62.7h0M80.9 55.6h0M81.5 58.1h0M81.0 56.3h0M80.9 56.7h0M77.7 56.3h0M80.1 54.9h0M78.3 55.8h0M81.0 54.3h0M74.7 53.2h0M74.5 52.8h0M71.8 52.2h0M73.4 51.1h0M66.3 55.1h0M66.4 54.7h0M64.7 53.9h0M67.3 56.6h0M52.1 63.1h0M48.1 62.4h0M48.3 63.6h0M50.0 62.9h0M54.6 51.3h0M53.7 55.1h0M55.2 54.3h0M55.4 54.0h0M90.4 54.3h0M91.4 55.8h0M89.9 53.8h0M88.1 56.1h0M96.1 58.2h0M96.8 57.0h0M97.5 57.0h0M96.2 59.0h0M62.8 44.2h0M63.3 42.7h0M61.9 44.0h0M61.2 43.5h0M66.4 56.8h0M67.2 55.1h0M66.0 57.1h0M68.0 58.0h0M57.7 46.0h0M55.5 45.2h0M56.0 44.4h0M57.0 46.7h0M69.7 66.4h0M67.6 66.8h0M69.7 66.0h0M70.5 65.9h0M92.0 63.9h0M92.1 62.6h0M93.3 62.4h0M91.3 63.4h0M43.5 62.4h0M41.2 63.4h0M41.1 61.2h0M41.7 64.0h0M94.0 57.8h0M94.7 57.4h0M94.5 57.7h0M93.9 56.0h0M62.3 64.4h0M64.8 64.1h0M63.7 62.3h0M63.3 62.9h0M47.6 47.1h0M48.5 49.4h0M47.7 49.4h0M47.8 48.7h0M43.3 62.8h0M43.7 65.9h0M42.3 63.9h0M41.0 65.6h0M66.9 43.6h0M69.2 40.0h0M68.7 42.1h0M67.9 43.4h0M46.8 50.8h0M45.8 49.6h0M44.5 50.2h0M44.4 51.1h0M60.7 61.8h0M60.3 62.5h0M60.2 63.9h0M57.1 60.3h0M71.9 61.2h0M74.0 62.7h0M73.2 61.6h0M70.8 60.5h0M72.6 60.3h0M73.5 59.3h0M71.2 64.4h0M69.9 62.2h0M60.6 49.7h0M61.0 48.2h0M60.4 48.3h0M63.5 48.9h0M81.4 64.1h0M79.9 64.0h0M83.4 64.8h0M82.0 64.1h0M73.4 68.8h0M73.4 68.1h0M73.7 71.0h0M72.0 69.7h0M69.0 68.9h0M68.6 68.2h0M70.4 68.6h0M70.5 67.6h0M46.8 56.3h0M48.7 54.9h0M47.6 53.2h0M46.6 55.0h0M70.9 61.1h0M72.5 62.2h0M71.9 59.5h0M70.4 62.3h0M91.5 56.5h0M92.9 58.8h0M89.6 54.7h0M91.7 57.2h0M94.6 64.1h0M96.3 62.7h0M96.0 65.0h0M96.0 65.0h0M60.7 63.5h0M61.2 61.4h0M62.1 60.7h0M62.0 63.8h0M66.1 42.5h0M68.5 42.5h0M66.2 43.9h0M69.8 42.9h0M54.3 70.5h0M53.9 69.6h0M55.7 70.6h0M54.5 69.6h0M44.3 53.3h0M44.1 54.1h0M45.6 53.3h0M46.5 53.4h0M63.9 47.0h0M64.9 46.2h0M65.4 45.6h0M67.1 46.4h0M70.2 50.6h0M71.4 49.9h0M72.4 48.3h0M71.2 50.7h0M67.3 70.6h0M68.0 71.4h0M67.9 70.2h0M68.8 71.9h0M81.9 49.2h0M82.7 49.0h0M79.6 47.5h0M79.1 49.0h0M66.9 64.7h0M66.8 66.3h0M68.5 65.3h0M67.7 64.4h0M77.7 46.8h0M79.6 49.9h0M77.8 51.1h0M76.5 49.6h0M86.2 68.1h0M87.0 69.1h0M87.8 69.4h0M89.0 67.3h0M87.2 71.4h0M88.9 68.8h0M89.2 69.2h0M90.8 70.5h0M60.4 64.7h0M61.7 64.7h0M60.5 65.5h0M61.3 66.1h0M33.8 63.5h0M36.1 63.8h0M36.5 65.4h0M37.2 63.0h0M89.2 57.1h0M88.7 57.7h0M86.9 57.3h0M88.6 56.6h0M81.3 61.8h0M81.1 60.2h0M83.5 61.4h0M80.9 61.1h0M50.2 51.7h0M51.1 50.6h0M49.9 49.6h0M47.7 50.3h0M78.5 64.3h0M80.7 68.4h0M77.9 67.2h0M75.5 68.1h0M80.2 45.5h0M79.5 47.7h0M77.9 48.1h0M78.8 47.7h0M52.6 61.8h0M52.5 61.1h0M52.1 60.3h0M49.3 59.9h0M85.0 53.2h0M87.7 56.8h0M87.6 58.5h0M86.2 54.4h0M81.6 53.1h0M81.8 54.8h0M83.3 54.5h0M83.0 55.0h0M57.2 48.8h0M55.8 46.2h0M56.3 46.7h0M55.5 45.3h0M62.1 61.2h0M62.3 58.2h0M62.8 63.2h0M62.7 59.9h0M59.3 72.6h0M59.3 73.1h0M60.0 72.0h0M59.6 72.6h0M82.6 54.5h0M82.5 57.2h0M80.5 55.2h0M81.2 53.9h0M91.9 62.7h0M91.9 64.1h0M89.3 64.7h0M92.3 64.6h0M64.8 61.4h0M65.5 64.5h0M63.8 62.5h0M64.6 63.6h0M82.1 54.9h0M79.4 52.3h0M80.8 54.5h0M81.9 51.8h0M48.0 62.1h0M46.7 63.3h0M49.2 63.6h0M46.1 64.0h0M72.1 42.7h0M73.2 44.0h0M74.4 43.6h0M74.0 44.4h0M45.5 56.8h0M46.3 54.7h0M42.5 56.5h0M44.3 54.7h0M41.9 58.1h0M40.8 58.8h0M39.3 57.1h0M42.2 56.8h0M61.7 53.1h0M61.2 52.7h0M61.6 51.8h0M61.1 51.5h0M86.2 67.3h0M85.4 64.6h0M84.4 65.4h0M85.7 64.7h0M38.1 62.1h0M39.1 61.3h0M38.8 61.4h0M38.5 61.5h0M48.9 53.2h0M51.1 54.4h0M48.2 54.3h0M49.7 51.1h0M48.8 48.0h0M50.5 45.9h0M49.5 47.7h0M50.0 48.4h0M52.7 55.7h0M51.1 58.1h0M51.1 58.4h0M49.7 58.8h0M88.5 67.3h0M88.9 66.5h0M88.7 67.8h0M90.9 68.3h0M36.3 66.6h0M38.0 67.8h0M37.0 67.1h0M40.2 66.4h0M77.3 48.2h0M76.3 51.9h0M78.7 49.6h0M79.2 51.5h0M41.6 51.0h0M43.3 50.7h0M43.4 50.6h0M43.2 49.8h0M55.4 68.7h0M55.4 67.4h0M54.6 67.8h0M56.3 68.5h0M67.2 43.2h0M66.3 42.7h0M65.2 42.3h0M65.2 44.5h0M49.0 46.7h0M50.7 45.0h0M50.7 45.8h0M51.3 47.2h0M54.8 70.4h0M53.2 71.0h0M54.3 69.3h0M54.7 70.2h0M49.1 60.3h0M51.9 58.7h0M52.4 57.4h0M50.7 58.0h0M84.9 59.5h0M86.8 59.0h0M83.3 60.6h0M83.7 58.5h0M99.4 61.3h0M100.5 59.2h0M100.5 59.0h0M100.5 61.2h0M77.2 48.3h0M79.8 51.3h0M77.0 49.7h0M75.2 49.8h0M36.5 65.1h0M35.9 64.3h0M36.2 65.1h0M37.6 66.5h0M36.4 61.3h0M38.2 60.1h0M36.8 60.7h0M38.2 60.8h0M55.6 51.3h0M54.2 55.6h0M55.8 53.1h0M55.7 52.2h0M94.8 60.5h0M93.6 60.5h0M93.4 59.0h0M92.0 59.8h0M40.1 64.0h0M42.2 64.6h0M43.6 64.6h0M43.1 66.0h0M83.8 59.7h0M82.4 60.9h0M83.4 60.9h0M83.8 59.9h0M98.1 58.4h0M99.8 56.8h0M100.6 58.3h0M99.7 58.8h0M55.4 52.3h0M54.1 52.7h0M54.1 50.6h0M54.6 51.0h0M65.0 57.8h0M62.8 56.0h0M63.2 58.1h0M63.0 58.8h0M39.5 65.5h0M41.3 65.9h0M42.9 61.6h0M41.5 64.0h0M57.9 68.5h0M58.4 70.0h0M56.3 66.8h0M55.0 66.6h0M84.1 54.3h0M83.6 55.6h0M82.7 55.9h0M85.4 51.7h0M46.3 66.5h0M46.7 65.9h0M45.9 66.9h0M45.9 66.1h0M63.7 59.1h0M64.7 59.9h0M63.3 57.9h0M62.6 59.3h0M91.0 62.8h0M91.1 59.3h0M90.1 61.3h0M90.1 62.9h0M81.0 61.3h0M80.8 64.2h0M79.8 65.0h0M81.2 65.1h0M56.3 49.9h0M55.1 52.8h0M54.1 49.2h0M55.9 50.7h0M59.0 68.6h0M60.6 67.0h0M60.5 69.9h0M60.3 65.9h0M75.5 52.7h0M76.9 51.0h0M73.7 49.0h0M74.7 50.6h0M97.2 58.5h0M95.3 60.8h0M97.8 58.2h0M95.5 56.9h0M102.1 61.4h0M104.3 62.4h0M100.4 64.7h0M101.1 64.7h0M85.5 53.0h0M86.0 52.5h0M85.3 52.8h0M86.4 51.8h0M79.6 56.4h0M82.4 56.1h0M80.6 55.4h0M79.5 55.9h0M68.7 48.3h0M71.1 50.0h0M69.7 48.3h0M71.9 45.1h0M59.1 54.5h0M58.4 56.9h0M58.6 54.8h0M59.9 57.0h0M46.1 64.4h0M48.3 60.3h0M47.5 63.2h0M48.6 63.9h0M67.4 71.4h0M66.4 69.1h0M66.1 69.4h0M68.1 71.1h0M36.2 55.1h0M34.2 55.8h0M35.1 57.9h0M34.9 56.1h0M90.2 66.0h0M92.7 66.5h0M91.3 67.0h0M90.3 67.1h0M57.6 58.7h0M58.9 61.1h0M60.2 59.3h0M57.9 58.3h0M60.7 43.9h0M60.4 43.0h0M60.7 43.1h0M60.6 41.4h0M54.7 60.1h0M54.3 59.0h0M52.5 59.5h0M54.6 59.0h0M82.9 62.6h0M80.5 66.1h0M82.5 62.4h0M83.3 62.3h0M57.2 53.2h0M54.5 52.5h0M56.2 52.5h0M55.4 53.5h0M62.3 50.2h0M58.6 51.5h0M60.1 50.6h0M60.6 52.4h0M48.5 59.0h0M47.0 57.2h0M48.9 58.5h0M48.9 59.1h0M46.9 50.8h0M44.8 53.6h0M45.3 54.5h0M43.3 51.9h0M70.5 50.2h0M69.9 50.6h0M70.6 52.1h0M70.7 52.2h0M41.2 71.8h0M42.2 69.0h0M42.2 70.2h0M41.9 71.0h0M39.5 55.5h0M41.4 54.6h0M38.1 55.3h0M36.1 55.7h0M55.0 58.0h0M53.6 54.4h0M53.9 56.3h0M55.1 55.4h0M81.0 50.5h0M83.1 49.0h0M80.7 50.4h0M82.5 48.0h0M60.3 72.6h0M61.2 72.2h0M58.8 69.8h0M62.3 71.9h0M74.7 56.7h0M79.4 54.2h0M81.1 54.8h0M76.4 57.8h0M50.0 68.2h0M49.6 66.5h0M48.5 68.2h0M50.0 68.0h0M92.9 53.0h0M92.1 54.6h0M94.5 51.9h0M93.8 56.6h0M65.1 43.1h0M68.2 43.7h0M66.9 42.7h0M67.3 42.9h0M51.0 49.1h0M52.6 49.1h0M50.6 49.3h0M52.2 50.3h0M49.0 68.1h0M45.3 68.9h0M46.3 69.9h0M49.9 70.0h0M74.8 50.2h0M76.2 49.5h0M75.9 47.0h0M74.3 48.2h0M93.7 58.1h0M97.5 57.6h0M100.1 58.6h0M96.6 59.4h0M74.6 66.2h0M74.6 67.5h0M74.5 68.3h0M74.1 65.7h0M70.7 58.9h0M71.5 58.7h0M68.8 57.6h0M70.9 58.3h0M82.5 59.0h0M83.1 57.7h0M81.5 57.6h0M83.3 56.5h0M73.5 50.2h0M72.5 50.4h0M73.7 50.9h0M74.0 54.5h0M45.7 51.3h0M44.2 48.5h0M47.2 50.2h0M45.2 48.5h0M100.5 61.6h0M100.3 60.3h0M99.8 61.1h0M100.5 60.8h0M73.0 56.4h0M75.3 59.2h0M74.3 56.9h0M72.6 56.4h0M39.5 69.0h0M40.1 69.8h0M37.4 66.7h0M39.7 67.8h0M77.2 63.7h0M77.5 64.6h0M77.3 63.5h0M78.2 63.3h0M88.4 65.0h0M87.8 65.0h0M87.4 63.8h0M89.0 66.0h0M90.3 51.9h0M91.5 53.3h0M89.8 51.9h0M92.6 54.2h0M89.2 63.7h0M87.4 60.1h0M89.3 62.4h0M88.0 62.5h0M76.0 72.8h0M76.6 70.2h0M77.8 70.3h0M76.4 68.8h0M86.4 65.3h0M86.7 64.5h0M87.3 64.0h0M87.0 64.5h0M55.5 60.1h0M55.9 63.5h0M55.6 62.2h0M55.9 65.4h0M36.1 61.7h0M36.5 64.4h0M35.5 62.6h0M37.0 64.0h0M53.6 60.4h0M54.2 60.7h0M54.0 60.5h0M54.4 60.0h0M92.2 62.9h0M91.6 61.9h0M92.3 62.1h0M91.9 60.5h0M96.8 64.8h0M98.7 65.3h0M96.6 65.7h0M98.2 65.1h0M43.6 51.4h0M44.2 55.6h0M41.9 52.6h0M44.8 54.1h0M50.6 57.1h0M49.6 56.8h0M50.7 55.9h0M48.5 58.2h0M52.7 68.7h0M54.7 69.3h0M53.6 69.2h0M54.5 67.8h0M61.0 71.6h0M59.1 70.2h0M59.4 71.1h0M59.8 70.8h0M59.5 61.3h0M58.9 60.9h0M59.7 63.2h0M59.2 63.2h0M86.8 52.3h0M87.2 52.6h0M86.1 52.7h0M86.6 54.4h0M67.0 44.1h0M66.0 42.7h0M68.0 43.9h0M68.2 43.6h0M44.8 67.5h0M45.4 68.6h0M45.4 68.1h0M46.0 68.3h0M54.7 63.8h0M54.0 64.5h0M55.9 64.3h0M55.6 67.4h0M63.4 64.3h0M63.9 64.2h0M63.2 63.7h0M65.7 64.6h0M80.4 49.0h0M80.7 48.6h0M82.3 48.8h0M79.2 51.0h0M49.4 54.4h0M47.5 58.5h0M48.5 55.1h0M48.4 58.1h0M68.1 73.2h0M67.7 72.1h0M70.1 71.7h0M68.6 71.8h0M81.8 55.4h0M81.8 56.4h0M82.0 54.3h0M80.8 56.6h0M66.5 61.8h0M65.3 61.2h0M63.0 60.7h0M66.6 59.0h0M45.3 49.9h0M45.4 54.7h0M44.3 51.7h0M44.0 51.1h0M75.4 48.8h0M72.8 50.2h0M74.8 46.9h0M75.7 49.5h0M50.2 53.8h0M48.9 53.6h0M48.3 54.2h0M48.2 53.8h0M34.7 66.8h0M37.9 66.4h0M36.3 65.9h0M36.7 68.0h0M50.0 70.0h0M50.2 68.8h0M48.8 68.7h0M49.4 67.4h0M84.9 70.4h0M83.3 63.4h0M85.2 66.3h0M85.3 65.9h0M73.0 50.2h0M71.5 49.7h0M75.0 49.9h0M73.2 47.8h0M35.7 62.1h0M38.4 60.9h0M37.4 62.9h0M35.7 58.9h0M36.5 57.8h0M34.7 58.7h0M34.7 59.5h0M34.9 58.6h0M63.5 59.5h0M65.5 59.4h0M64.1 60.5h0M65.4 61.1h0M74.6 47.0h0M75.9 47.1h0M77.0 48.2h0M77.8 45.3h0M45.4 49.9h0M44.2 47.9h0M45.4 49.4h0M44.8 48.5h0M41.8 61.3h0M40.6 63.5h0M42.3 60.9h0M42.7 62.1h0M60.8 44.2h0M61.6 42.0h0M63.4 44.0h0M62.6 42.2h0M51.2 61.9h0M54.3 62.1h0M52.0 64.6h0M51.0 62.8h0M51.2 52.6h0M52.1 52.7h0M55.2 53.9h0M54.5 52.5h0M44.0 58.1h0M43.5 57.4h0M42.3 57.4h0M43.8 55.9h0M56.6 52.4h0M55.8 52.3h0M57.9 53.3h0M56.5 53.8h0M62.7 44.0h0M63.2 42.1h0M63.5 41.7h0M63.4 43.3h0M60.9 69.2h0M60.7 70.6h0M58.3 69.5h0M59.9 68.1h0M65.3 43.5h0M62.5 44.1h0M63.3 43.5h0M66.2 44.8h0M52.8 48.8h0M52.1 49.4h0M50.4 50.0h0M51.4 50.5h0M57.6 54.1h0M53.9 50.0h0M57.2 53.2h0M58.2 51.4h0M81.0 64.2h0M80.4 64.5h0M79.8 64.1h0M79.5 64.5h0M78.7 49.9h0M78.6 49.6h0M80.2 47.7h0M78.5 49.0h0M67.4 68.8h0M69.6 65.7h0M65.8 65.6h0M66.5 64.7h0M78.4 62.5h0M79.8 62.5h0M76.8 63.6h0M78.0 62.0h0M59.4 62.6h0M58.8 63.0h0M59.1 63.2h0M58.1 66.4h0M44.0 55.5h0M42.1 56.7h0M43.4 58.1h0M45.3 57.5h0M80.9 55.4h0M78.4 55.6h0M81.1 53.7h0M80.5 56.5h0M48.7 71.6h0M47.6 73.2h0M48.4 73.1h0M48.3 73.9h0M54.6 58.1h0M56.3 57.5h0M54.2 60.8h0M55.2 61.7h0M68.6 46.5h0M67.6 47.4h0M68.6 48.5h0M70.3 48.6h0M40.7 65.5h0M40.9 62.8h0M42.4 67.0h0M39.9 64.7h0M36.6 56.5h0M37.0 56.1h0M38.1 55.7h0M38.9 54.9h0M58.4 64.0h0M59.4 64.4h0M60.6 64.9h0M59.0 66.5h0M36.5 65.3h0M35.5 66.0h0M37.0 65.2h0M36.4 65.0h0M61.7 65.9h0M62.2 67.9h0M61.8 65.6h0M62.2 64.4h0M55.4 71.0h0M55.3 71.0h0M55.6 69.2h0M54.6 69.2h0M67.4 46.1h0M65.3 47.4h0M67.1 46.1h0M66.2 47.0h0M72.4 54.3h0M70.9 53.2h0M72.5 54.2h0M71.9 54.0h0M91.1 53.8h0M89.5 53.2h0M92.2 54.3h0M91.1 56.7h0M59.6 70.7h0M57.7 72.3h0M57.2 70.9h0M56.8 71.7h0M69.8 55.7h0M67.6 56.1h0M67.1 54.6h0M68.7 54.1h0M76.4 61.7h0M76.8 62.0h0M76.5 61.5h0M77.1 60.0h0M53.6 70.4h0M53.7 69.5h0M52.1 69.4h0M51.7 71.3h0M65.5 66.9h0M65.3 68.5h0M65.5 66.7h0M66.0 65.6h0M69.0 61.2h0M70.6 59.8h0M70.3 60.8h0M67.8 61.3h0M81.6 64.4h0M81.3 66.1h0M83.3 66.5h0M81.2 66.6h0M95.3 61.5h0M92.3 63.8h0M92.9 61.9h0M94.3 64.7h0M98.0 61.4h0M97.7 62.4h0M98.5 60.9h0M99.5 62.1h0M44.1 60.0h0M47.9 57.7h0M45.1 60.6h0M44.3 60.7h0M82.1 52.9h0M80.1 55.4h0M81.7 51.5h0M80.5 54.9h0M49.4 63.9h0M48.7 64.7h0M49.8 65.1h0M49.8 65.0h0M72.8 50.3h0M75.4 51.0h0M75.6 51.8h0M75.5 50.3h0M57.6 48.8h0M57.4 51.5h0M56.8 49.5h0M57.5 50.5h0M69.5 52.1h0M73.5 49.8h0M68.9 50.6h0M69.9 49.6h0M69.6 52.1h0M71.7 51.4h0M72.1 50.7h0M71.2 51.9h0M43.8 64.6h0M42.2 63.6h0M42.6 62.6h0M42.3 64.4h0M54.5 72.4h0M52.5 71.9h0M51.7 72.8h0M52.4 71.7h0M63.3 51.7h0M62.9 51.5h0M61.4 48.9h0M61.9 49.7h0M61.2 66.9h0M60.0 66.3h0M59.2 64.7h0M59.2 66.3h0M32.7 62.4h0M35.7 57.8h0M34.3 58.4h0M36.0 57.6h0M79.2 50.5h0M76.5 53.4h0M77.8 52.2h0M77.1 52.2h0M64.6 53.0h0M63.6 53.7h0M62.6 55.7h0M60.4 54.6h0M58.6 49.1h0M60.1 48.1h0M58.1 47.9h0M61.5 49.0h0M70.7 63.3h0M71.0 65.1h0M72.2 61.9h0M69.5 64.6h0M51.4 57.9h0M51.5 57.7h0M50.8 56.2h0M54.1 56.4h0M49.8 64.0h0M49.0 62.9h0M49.3 63.8h0M48.7 64.8h0M62.4 60.7h0M61.0 61.2h0M63.2 61.7h0M62.1 62.2h0M64.0 58.5h0M63.5 57.5h0M62.8 57.0h0M62.8 58.7h0M64.3 54.0h0M61.5 54.4h0M65.8 55.6h0M63.7 52.5h0M89.4 70.3h0M32.7 62.3h0M94.6 67.8h0M107.1 61.6h0M59.0 41.9h0M63.2 41.8h0M64.6 41.2h0M30.9 51.8h0M34.1 70.2h0M98.9 53.5h0M103.2 59.5h0M107.9 58.0h0M38.7 49.4h0M94.4 51.2h0M95.4 69.8h0M75.6 72.4h0M53.6 76.5h0M30.6 58.0h0M81.5 47.2h0M50.4 45.9h0M35.6 68.0h0M56.7 42.7h0M29.8 68.0h0M96.1 51.5h0M106.3 61.4h0M103.9 60.9h0M33.4 61.9h0M103.4 57.6h0M34.5 69.8h0M82.6 70.7h0M90.7 68.6h0M31.4 65.8h0M30.8 51.9h0M34.2 51.1h0M57.0 74.7h0M29.1 65.0h0M60.1 75.5h0M64.6 41.2h0M89.0 51.7h0M100.3 55.7h0M76.6 42.3h0M47.2 74.6h0M49.2 46.2h0M101.1 54.7h0M69.9 72.4h0M57.6 74.9h0M32.9 64.5h0"/>
<path stroke="#c47ce2" stroke-width="1.65" stroke-linecap="square" fill="none" d="M89.9 28.5h0M91.6 29.6h0M88.9 31.9h0M88.5 30.8h0M90.2 35.3h0M89.1 34.4h0M90.5 35.0h0M89.3 35.9h0M86.2 31.2h0M85.7 29.0h0M85.6 30.9h0M86.1 32.3h0M99.2 32.1h0M98.9 32.5h0M95.4 32.0h0M98.5 31.4h0M78.9 39.5h0M78.8 36.5h0M77.7 37.1h0M78.7 35.9h0M84.5 29.9h0M85.1 27.6h0M84.0 29.1h0M83.4 30.7h0M100.1 39.0h0M99.0 38.5h0M98.2 37.4h0M97.9 38.1h0M85.8 45.6h0M84.8 45.5h0M85.5 45.2h0M87.3 43.3h0M95.2 27.0h0M94.1 29.8h0M94.0 28.5h0M93.7 29.4h0M93.0 30.3h0M94.0 30.1h0M91.9 29.6h0M91.9 31.9h0M79.3 41.0h0M79.8 40.3h0M79.1 40.5h0M78.0 37.6h0M94.7 26.8h0M96.3 27.8h0M95.8 30.0h0M95.9 28.0h0M88.2 32.0h0M88.3 29.4h0M86.9 31.4h0M90.1 28.6h0M95.1 33.2h0M96.9 31.9h0M92.2 34.9h0M95.4 33.5h0M80.3 34.6h0M78.5 36.9h0M80.0 35.7h0M79.5 34.3h0M78.6 39.6h0M78.7 37.5h0M76.9 39.9h0M79.4 39.0h0M79.7 36.6h0M79.4 36.0h0M79.1 34.7h0M79.2 36.5h0M85.9 28.3h0M84.3 26.3h0M87.1 25.1h0M86.8 26.4h0M93.6 35.8h0M90.0 35.4h0M93.2 35.2h0M90.3 33.8h0M87.2 42.5h0M90.9 42.0h0M89.1 42.4h0M88.0 39.7h0M96.0 29.0h0M95.8 27.4h0M94.8 29.9h0M97.3 29.8h0M86.8 39.3h0M87.8 41.6h0M89.0 39.4h0M86.7 40.5h0M96.8 36.9h0M101.0 36.3h0M98.2 36.0h0M100.4 37.1h0M89.2 33.1h0M89.4 30.8h0M89.9 33.5h0M91.3 31.7h0M84.2 31.2h0M81.6 32.4h0M84.2 31.9h0M84.2 29.8h0M87.5 29.4h0M85.8 33.3h0M88.4 30.6h0M86.8 30.1h0M91.9 25.3h0M89.7 24.9h0M89.8 25.6h0M89.9 25.7h0M89.7 40.6h0M90.7 42.4h0M86.6 42.0h0M90.4 40.5h0M93.8 39.9h0M94.6 39.2h0M94.5 39.6h0M93.5 39.4h0M94.6 30.3h0M94.9 30.8h0M95.4 31.9h0M95.3 30.5h0M94.2 37.1h0M88.6 38.8h0M87.8 39.0h0M89.5 38.4h0M79.4 34.2h0M82.4 30.2h0M80.6 31.9h0M82.6 32.3h0M93.1 35.8h0M93.6 38.3h0M93.9 37.0h0M91.9 36.3h0M89.1 27.5h0M89.9 25.5h0M88.5 26.0h0M86.7 26.4h0M86.9 41.6h0M84.9 40.0h0M85.4 41.9h0M84.4 41.9h0M91.6 38.9h0M89.4 37.0h0M88.5 37.4h0M87.2 36.1h0M90.8 44.5h0M91.1 46.6h0M89.5 46.1h0M90.8 44.3h0M91.7 37.0h0M90.0 36.3h0M91.7 36.5h0M90.8 36.8h0M92.0 41.0h0M92.3 41.9h0M91.3 41.4h0M94.4 41.6h0M81.0 36.4h0M82.0 35.9h0M83.9 38.6h0M82.4 39.4h0M80.6 31.2h0M80.0 30.7h0M80.0 31.9h0M82.0 29.9h0M88.1 29.5h0M86.4 33.3h0M87.5 31.5h0M85.7 30.9h0M90.1 47.1h0M91.0 45.3h0M91.2 47.8h0M91.2 43.5h0M88.7 41.1h0M89.5 41.5h0M89.4 40.5h0M88.9 40.6h0M95.7 27.3h0M97.7 24.3h0M97.1 25.2h0M97.2 25.9h0M88.8 34.1h0M88.7 36.5h0M85.5 39.0h0M88.5 38.0h0M89.9 31.8h0M91.9 34.4h0M90.9 31.2h0M91.3 34.0h0M75.8 31.7h0M76.3 34.5h0M75.9 31.1h0M75.5 32.1h0M83.8 41.0h0M82.8 40.8h0M84.6 42.2h0M82.7 40.7h0M89.8 45.6h0M91.7 45.5h0M89.7 45.5h0M90.4 46.3h0M93.4 45.4h0M89.9 45.5h0M91.2 45.7h0M90.6 47.2h0M88.7 33.0h0M88.9 36.6h0M89.8 36.2h0M89.3 35.9h0M81.3 31.4h0M83.2 32.9h0M82.7 32.9h0M84.0 34.3h0M90.0 44.9h0M88.7 45.1h0M89.0 45.3h0M87.7 44.7h0M93.1 28.7h0M91.3 31.4h0M92.6 31.1h0M93.9 29.4h0M77.8 33.9h0M75.9 34.7h0M76.7 35.6h0M76.6 35.5h0M80.2 31.7h0M83.0 29.6h0M79.5 33.0h0M82.8 32.8h0M92.3 43.3h0M90.6 44.0h0M91.0 41.6h0M91.9 43.4h0M92.6 44.4h0M92.2 47.8h0M92.4 45.2h0M92.7 45.2h0M89.7 25.0h0M90.3 23.0h0M88.7 26.7h0M88.0 24.6h0M91.5 43.0h0M91.1 44.3h0M90.5 43.1h0M89.8 43.3h0M79.9 35.3h0M74.7 37.9h0M74.5 34.5h0M76.3 38.0h0M78.0 35.1h0M82.3 35.1h0M79.7 36.4h0M81.6 36.6h0M80.8 35.5h0M79.3 36.0h0M79.0 36.2h0M78.4 35.7h0M95.5 35.9h0M99.0 34.1h0M100.3 35.1h0M99.1 33.6h0M79.1 35.8h0M80.8 35.3h0M76.7 34.5h0M77.9 35.8h0M93.9 23.7h0M97.2 25.7h0M95.3 23.8h0M96.8 24.5h0M77.9 37.7h0M78.2 38.0h0M79.2 38.2h0M78.7 38.9h0M98.5 24.2h0M95.5 25.7h0M94.4 25.0h0M98.1 25.2h0M94.4 33.8h0M92.8 34.5h0M93.3 35.1h0M95.7 34.7h0M88.3 26.4h0M91.0 26.1h0M89.6 26.0h0M88.9 24.5h0M92.8 25.7h0M94.4 26.6h0M92.7 28.8h0M91.9 25.4h0M91.6 22.5h0M82.5 27.6h0M80.5 41.7h0M91.8 46.8h0M74.9 36.3h0M87.8 23.8h0M87.4 46.7h0M101.2 36.9h0M78.6 40.5h0M89.9 23.2h0M98.6 24.4h0M89.3 22.9h0M96.9 22.6h0M72.6 32.6h0M99.5 30.9h0M80.2 43.8h0M97.6 43.1h0"/>
<path stroke="#84e6cc" stroke-width="1.65" stroke-linecap="square" fill="none" d="M127.5 34.8h0M129.1 33.0h0M127.6 33.3h0M130.1 34.3h0M114.5 46.7h0M113.6 45.7h0M115.4 48.7h0M114.2 45.2h0M115.5 45.8h0M117.7 48.3h0M116.6 47.5h0M115.6 46.6h0M136.2 49.2h0M137.6 47.4h0M139.5 47.1h0M137.7 46.3h0M123.9 45.1h0M124.3 45.1h0M122.2 44.9h0M123.8 44.2h0M148.7 50.6h0M148.5 51.3h0M148.1 49.1h0M147.7 51.8h0M130.2 28.4h0M128.1 30.2h0M129.6 28.0h0M129.0 27.6h0M139.4 30.8h0M135.9 26.7h0M136.1 26.2h0M137.2 28.4h0M152.3 43.8h0M151.7 42.0h0M150.4 42.1h0M150.0 40.1h0M137.1 56.2h0M139.2 55.7h0M139.0 56.7h0M138.8 54.7h0M139.4 35.5h0M138.8 37.6h0M139.6 37.6h0M138.5 37.2h0M128.1 41.9h0M127.0 43.5h0M126.2 43.1h0M127.7 42.5h0M129.9 27.9h0M130.6 31.8h0M131.9 29.3h0M129.9 30.9h0M124.2 50.4h0M123.0 51.7h0M125.4 48.9h0M124.2 48.6h0M142.5 51.4h0M139.9 54.0h0M142.3 53.4h0M139.3 53.9h0M148.9 47.5h0M148.8 45.3h0M145.7 46.0h0M148.7 46.2h0M148.7 47.9h0M150.0 49.7h0M151.1 48.1h0M151.3 47.8h0M133.1 31.0h0M131.5 32.0h0M131.2 28.0h0M132.6 30.7h0M112.3 48.2h0M112.7 47.6h0M110.9 46.8h0M115.3 47.6h0M132.4 45.6h0M133.7 43.0h0M133.4 42.2h0M134.8 45.0h0M122.8 38.7h0M122.0 39.6h0M121.2 39.9h0M122.8 40.6h0M129.0 55.2h0M128.6 51.9h0M126.5 55.6h0M126.4 55.9h0M133.0 53.7h0M130.8 54.4h0M131.9 54.7h0M133.3 53.1h0M135.4 38.5h0M132.7 37.4h0M133.3 38.3h0M132.6 37.0h0M140.1 28.0h0M138.2 27.5h0M137.2 29.1h0M138.1 25.3h0M124.9 48.4h0M126.2 47.1h0M125.1 47.1h0M124.1 47.6h0M136.2 50.1h0M133.4 49.2h0M133.2 49.2h0M134.3 48.8h0M128.0 34.5h0M127.2 32.6h0M129.4 32.3h0M127.5 31.7h0M127.0 55.8h0M129.7 55.2h0M128.0 55.8h0M127.6 52.8h0M127.6 32.2h0M125.8 33.0h0M125.9 35.2h0M127.6 35.5h0M140.6 35.9h0M139.2 37.9h0M140.4 37.8h0M142.3 38.8h0M132.3 53.4h0M136.8 52.9h0M137.4 51.5h0M135.0 52.1h0M115.0 48.2h0M113.7 46.0h0M114.3 47.1h0M114.3 47.5h0M144.7 49.9h0M143.2 47.9h0M145.2 51.7h0M142.4 49.5h0M140.4 45.5h0M138.1 45.7h0M137.2 43.7h0M139.1 45.4h0M137.2 34.6h0M140.6 35.8h0M138.1 36.0h0M139.2 36.2h0M121.3 43.6h0M124.1 41.6h0M123.8 39.9h0M123.8 40.5h0M140.5 32.5h0M142.1 32.6h0M140.2 32.3h0M142.2 30.8h0M128.1 27.9h0M129.5 30.2h0M130.0 30.8h0M129.8 29.9h0M134.8 26.4h0M133.7 28.3h0M132.2 27.6h0M132.5 27.8h0M115.6 47.0h0M115.7 45.5h0M117.1 48.1h0M114.8 47.6h0M137.9 46.5h0M135.0 46.6h0M134.9 49.1h0M134.6 47.6h0M146.0 44.3h0M147.6 42.8h0M146.0 42.0h0M145.5 40.8h0M125.8 46.4h0M127.3 47.1h0M126.9 47.2h0M127.1 45.4h0M137.4 30.6h0M136.3 32.3h0M136.6 32.2h0M137.6 33.1h0M144.9 47.4h0M144.0 45.5h0M142.1 45.0h0M143.5 46.6h0M144.3 50.9h0M144.0 49.4h0M143.7 47.7h0M143.0 48.4h0M143.9 44.1h0M140.8 43.4h0M141.5 42.7h0M140.5 42.2h0M150.0 51.3h0M151.7 52.0h0M150.5 50.5h0M150.9 48.0h0M131.5 45.5h0M131.6 48.1h0M130.9 46.3h0M131.3 45.6h0M129.8 38.9h0M131.6 38.4h0M129.1 36.6h0M130.5 39.7h0M135.7 53.4h0M137.5 54.8h0M140.3 52.6h0M138.6 53.5h0M138.6 30.8h0M139.9 28.0h0M138.1 28.3h0M138.2 28.2h0M126.4 40.7h0M126.2 41.2h0M126.8 42.0h0M128.1 38.6h0M128.4 43.6h0M126.3 44.7h0M128.7 43.5h0M129.2 46.1h0M128.4 49.3h0M128.9 49.4h0M127.1 49.5h0M126.6 50.1h0M120.7 44.4h0M119.0 44.3h0M121.4 45.3h0M120.6 42.6h0M141.6 49.4h0M141.7 51.3h0M144.9 51.1h0M142.0 50.5h0M145.5 41.3h0M144.9 44.0h0M141.8 42.2h0M144.9 41.0h0M122.8 43.1h0M122.0 39.4h0M122.4 40.4h0M124.0 39.1h0M139.0 29.6h0M141.4 29.9h0M138.7 29.3h0M140.2 29.5h0M143.4 54.5h0M143.5 54.2h0M145.5 52.1h0M145.9 51.5h0M127.3 32.0h0M131.5 31.7h0M128.8 33.6h0M126.8 32.4h0M139.4 52.4h0M138.6 51.9h0M138.4 51.8h0M139.6 51.8h0M141.8 30.1h0M138.5 29.7h0M140.1 28.6h0M138.7 28.9h0M114.6 45.6h0M115.5 45.0h0M114.0 44.5h0M114.3 44.8h0M150.6 49.1h0M148.1 49.3h0M152.2 49.8h0M152.3 53.4h0M133.3 44.5h0M134.2 42.2h0M134.8 45.2h0M138.1 44.9h0M129.4 52.9h0M129.6 53.1h0M131.1 54.2h0M130.3 51.1h0M127.8 53.1h0M127.5 53.1h0M130.7 53.8h0M129.7 57.2h0M128.9 42.3h0M128.0 41.7h0M127.3 43.1h0M130.4 41.2h0M153.3 48.2h0M153.9 47.6h0M152.2 47.1h0M148.2 46.0h0M126.9 35.9h0M127.4 34.2h0M128.7 35.4h0M126.4 34.0h0M127.3 39.3h0M126.7 37.6h0M124.3 36.9h0M126.3 36.6h0M143.8 39.0h0M142.0 36.7h0M147.3 37.7h0M142.4 37.2h0M141.4 46.6h0M140.7 43.7h0M140.9 44.5h0M141.1 44.7h0M134.5 50.8h0M134.4 50.3h0M136.4 51.7h0M135.4 54.1h0M134.8 27.1h0M134.6 29.8h0M134.9 27.6h0M136.2 26.8h0M127.0 40.1h0M127.5 39.7h0M128.4 39.1h0M128.1 41.3h0M121.2 49.5h0M122.7 47.8h0M122.3 50.4h0M120.3 52.6h0M132.9 42.3h0M131.5 41.6h0M131.9 43.1h0M131.4 41.8h0M143.4 50.7h0M142.2 49.2h0M143.0 49.3h0M144.7 48.1h0M144.1 43.1h0M144.7 44.3h0M144.4 42.9h0M145.4 43.8h0M142.0 31.1h0M139.5 30.2h0M138.5 30.8h0M141.0 30.5h0M136.2 39.9h0M135.6 39.2h0M134.2 40.5h0M138.1 39.5h0M151.2 50.1h0M148.6 51.9h0M150.1 51.4h0M150.6 50.2h0M132.2 47.4h0M133.0 46.9h0M130.2 45.8h0M134.0 46.4h0M139.7 54.6h0M142.9 55.9h0M141.9 55.6h0M141.7 55.2h0M130.7 57.6h0M132.3 55.3h0M130.4 56.6h0M132.0 54.6h0M148.7 51.0h0M148.9 51.9h0M145.5 51.3h0M146.1 51.3h0M115.5 51.1h0M115.1 50.0h0M114.8 50.1h0M114.5 52.7h0M136.8 28.4h0M141.2 27.8h0M139.3 26.9h0M139.2 27.5h0M128.1 43.3h0M126.6 44.4h0M127.4 41.3h0M125.1 43.1h0M123.6 44.1h0M124.5 42.0h0M125.1 42.9h0M125.5 43.3h0M120.8 43.8h0M122.1 41.6h0M122.2 43.7h0M121.9 44.8h0M149.8 41.2h0M149.6 42.1h0M148.0 42.0h0M149.5 41.4h0M127.4 48.1h0M126.9 48.1h0M124.3 48.4h0M125.3 47.7h0M149.4 35.0h0M147.1 38.8h0M148.2 37.5h0M149.3 36.2h0M124.9 38.4h0M125.7 35.5h0M122.7 34.9h0M122.1 35.1h0M144.1 45.6h0M143.0 46.9h0M143.4 45.6h0M145.8 46.6h0M136.2 53.9h0M134.1 54.1h0M135.0 51.3h0M133.7 54.9h0M137.7 48.7h0M134.7 47.1h0M136.1 48.0h0M136.1 46.4h0M123.5 52.5h0M121.3 52.4h0M122.4 54.7h0M124.2 55.4h0M135.4 45.3h0M137.3 43.3h0M137.3 47.7h0M137.1 44.3h0M121.4 44.7h0M121.7 43.4h0M123.1 43.3h0M123.3 43.4h0M122.0 35.9h0M120.5 41.0h0M123.3 38.2h0M123.8 37.1h0M150.7 42.0h0M150.9 42.6h0M150.2 38.9h0M150.3 41.6h0M118.9 49.6h0M119.5 51.1h0M118.8 47.5h0M119.1 48.5h0M118.5 48.1h0M116.6 48.5h0M117.4 50.5h0M120.2 48.8h0M129.8 40.4h0M130.5 40.3h0M129.3 40.9h0M129.1 39.5h0M134.9 57.8h0M134.9 57.0h0M133.8 56.3h0M134.9 58.7h0M135.4 30.9h0M135.7 32.6h0M133.3 36.2h0M134.8 32.8h0M135.7 56.5h0M136.8 55.1h0M136.0 54.7h0M136.9 55.2h0M146.1 39.3h0M144.5 39.0h0M145.1 40.4h0M145.9 38.3h0M134.3 44.6h0M132.8 46.6h0M133.8 45.9h0M132.7 47.3h0M152.6 43.7h0M152.8 45.5h0M153.1 45.0h0M153.0 42.4h0M134.1 44.7h0M135.4 43.1h0M134.6 46.2h0M131.9 46.7h0M129.7 35.2h0M131.7 34.3h0M131.1 35.6h0M130.1 36.3h0M131.0 36.3h0M130.2 34.4h0M130.0 34.9h0M130.3 33.0h0M136.1 34.7h0M134.4 36.0h0M133.6 35.3h0M132.5 34.7h0M128.9 56.5h0M127.5 55.4h0M128.1 54.2h0M128.2 57.4h0M127.6 36.4h0M127.4 37.9h0M128.7 39.1h0M129.1 36.4h0M125.9 42.7h0M125.8 43.7h0M126.0 41.8h0M127.7 42.2h0M124.1 44.5h0M123.8 43.9h0M122.8 47.5h0M125.0 43.9h0M143.4 53.7h0M142.6 55.5h0M141.8 54.1h0M141.2 53.1h0M127.0 45.8h0M129.4 43.3h0M127.2 44.7h0M126.7 45.2h0M133.1 39.7h0M131.9 39.6h0M131.8 37.3h0M132.5 38.8h0M153.2 43.5h0M150.8 44.6h0M151.1 44.9h0M154.4 46.6h0M146.8 32.9h0M147.3 32.8h0M148.1 32.3h0M148.8 33.0h0M121.0 43.8h0M118.6 43.9h0M119.6 42.6h0M119.2 44.0h0M124.5 47.5h0M123.8 49.9h0M124.3 47.9h0M122.3 49.8h0M130.1 50.9h0M130.4 52.6h0M134.7 52.9h0M131.9 52.0h0M134.6 40.8h0M133.7 42.4h0M133.6 38.1h0M130.6 38.3h0M141.8 50.2h0M144.0 49.9h0M141.0 48.3h0M145.2 48.6h0M138.2 55.3h0M133.9 54.7h0M135.8 55.1h0M134.7 55.7h0M122.7 50.8h0M122.5 50.2h0M121.6 52.3h0M123.4 50.5h0M143.6 39.9h0M143.3 45.0h0M146.2 40.0h0M142.4 42.4h0M138.0 47.2h0M139.3 49.9h0M139.5 50.0h0M139.3 50.5h0M137.5 53.4h0M135.9 53.0h0M140.1 51.0h0M138.1 52.6h0M111.6 45.5h0M113.0 45.1h0M110.5 45.8h0M111.8 44.4h0M125.1 43.5h0M125.7 42.2h0M124.2 42.0h0M125.2 44.3h0M146.0 36.5h0M147.5 36.4h0M146.4 37.3h0M145.8 34.3h0M120.6 37.2h0M149.1 31.7h0M153.6 51.1h0M148.6 31.7h0M155.2 47.5h0M134.4 24.9h0M151.1 50.8h0M119.0 52.1h0M139.4 25.3h0M153.4 40.1h0M110.2 45.1h0M156.2 41.0h0M141.7 57.3h0M154.0 48.6h0M153.0 38.2h0M109.6 47.6h0M142.1 27.5h0"/>
<path stroke="#62e47a" stroke-width="1.65" stroke-linecap="square" fill="none" d="M192.4 57.7h0M192.8 59.9h0M194.1 57.7h0M192.3 58.3h0M189.1 57.8h0M187.4 57.4h0M188.2 55.1h0M188.1 56.9h0M187.4 55.6h0M190.0 56.3h0M186.5 55.9h0M187.5 54.1h0M188.4 49.9h0M188.2 51.8h0M187.3 50.2h0M189.5 51.5h0M186.5 58.5h0M186.8 58.8h0M185.7 59.4h0M186.2 59.0h0M183.6 59.3h0M189.6 57.8h0M187.1 57.2h0M185.4 57.0h0M189.2 64.0h0M187.0 63.7h0M187.2 64.8h0M188.2 64.1h0M183.3 56.7h0M185.0 56.1h0M184.9 57.2h0M184.7 57.8h0M190.1 57.6h0M189.5 59.1h0M188.6 56.4h0M189.7 57.3h0M189.6 61.6h0M192.6 59.4h0M191.7 59.1h0M190.9 60.1h0M193.9 51.6h0M191.3 51.0h0M192.4 52.1h0M192.9 54.1h0M184.6 61.2h0M185.9 61.8h0M183.8 61.8h0M183.4 60.7h0M191.0 52.7h0M194.5 54.1h0M192.8 53.3h0M192.5 52.7h0M188.8 58.3h0M188.1 59.2h0M189.8 60.1h0M188.2 59.2h0M190.2 59.9h0M190.9 61.4h0M193.3 59.0h0M189.9 58.2h0M190.3 52.3h0M189.5 51.6h0M191.1 53.3h0M191.6 53.9h0M188.1 59.1h0M187.7 57.3h0M188.6 56.4h0M188.9 58.8h0M190.4 56.1h0M189.2 59.1h0M189.3 58.3h0M192.3 55.8h0M187.8 63.9h0M186.7 65.3h0M187.5 64.8h0M188.5 63.8h0M193.6 58.8h0M192.4 57.9h0M194.9 57.9h0M193.5 59.4h0M191.2 62.3h0M188.4 62.3h0M187.4 61.8h0M189.7 63.1h0M188.3 52.7h0M188.1 51.2h0M186.0 51.3h0M187.4 51.5h0M190.8 49.3h0M191.5 49.0h0M191.1 50.1h0M190.5 48.7h0M187.0 53.2h0M186.6 54.7h0M186.1 53.8h0M185.9 52.9h0M194.3 60.4h0M193.3 58.4h0M192.6 60.8h0M193.1 58.2h0M184.9 64.4h0M191.8 49.9h0M194.4 54.0h0M193.3 64.1h0M181.9 59.6h0"/>
<path stroke="#ea5e36" stroke-width="1.65" stroke-linecap="square" fill="none" d="M124.1 76.8h0M125.7 77.8h0M124.2 80.2h0M123.0 76.8h0M114.0 76.7h0M114.2 72.8h0M114.4 75.0h0M115.2 76.3h0M119.1 72.3h0M119.3 73.4h0M117.1 69.4h0M118.6 71.1h0M117.7 79.0h0M118.2 78.2h0M117.6 78.9h0M117.8 77.0h0M121.4 80.0h0M121.7 78.8h0M120.7 77.5h0M121.5 78.8h0M120.8 67.2h0M118.1 67.0h0M119.5 67.6h0M121.2 65.4h0M120.2 69.5h0M120.4 68.4h0M120.3 69.3h0M122.2 67.8h0M124.1 70.2h0M123.4 69.2h0M125.5 68.8h0M126.7 68.2h0M119.8 70.3h0M120.0 69.7h0M122.0 71.6h0M119.2 70.4h0M119.4 80.6h0M121.7 79.4h0M122.6 79.5h0M121.4 80.0h0M125.3 72.8h0M123.7 73.8h0M123.0 70.6h0M122.0 73.7h0M118.3 76.9h0M119.8 75.7h0M120.1 74.2h0M120.7 75.2h0M114.9 74.1h0M116.2 74.1h0M116.6 73.4h0M116.4 74.7h0M119.7 69.5h0M121.3 66.8h0M119.0 67.5h0M119.7 68.6h0M122.0 68.2h0M123.9 68.4h0M122.2 69.3h0M122.0 69.1h0M123.9 78.2h0M121.7 80.6h0M120.5 80.4h0M122.7 80.2h0M121.5 78.3h0M120.9 78.3h0M119.2 80.8h0M121.8 81.1h0M119.8 71.5h0M119.5 70.6h0M122.3 72.7h0M121.7 71.0h0M119.8 79.2h0M120.7 76.6h0M119.8 77.3h0M121.7 80.1h0M123.0 75.0h0M125.7 75.7h0M123.9 74.5h0M124.2 73.7h0M119.3 73.4h0M120.0 69.2h0M119.8 71.9h0M122.6 71.2h0M115.3 73.0h0M114.6 74.2h0M114.6 75.2h0M114.2 74.5h0M114.6 71.0h0M113.1 70.2h0M114.4 71.1h0M115.3 70.8h0M114.3 68.6h0M114.2 69.4h0M116.9 68.0h0M115.0 70.7h0M112.2 71.7h0M112.4 69.4h0M113.9 71.8h0M113.2 71.3h0M125.6 71.7h0M125.4 72.9h0M125.9 71.7h0M125.6 71.9h0M119.5 73.7h0M120.7 72.7h0M121.6 73.1h0M119.4 74.7h0M122.5 71.2h0M122.6 72.4h0M122.4 72.7h0M121.5 71.8h0M123.2 79.1h0M122.4 80.8h0M119.5 79.7h0M119.7 78.5h0M116.9 66.0h0M127.1 77.4h0M127.1 71.5h0"/>
<path stroke="#dc80c8" stroke-width="1.65" stroke-linecap="square" fill="none" d="M150.4 69.9h0M151.6 71.6h0M151.4 71.1h0M149.0 70.8h0M143.0 76.5h0M143.7 75.8h0M144.3 75.1h0M141.8 75.9h0M142.6 79.9h0M141.4 79.8h0M141.8 79.9h0M140.1 78.8h0M150.1 72.9h0M148.8 74.1h0M150.1 74.3h0M148.3 73.8h0M145.1 79.0h0M141.6 76.2h0M143.8 80.4h0M144.4 77.1h0M139.6 79.5h0M139.6 79.8h0M139.0 78.4h0M139.9 77.2h0M131.1 73.4h0M132.9 74.4h0M134.2 74.5h0M130.8 74.4h0M136.6 70.6h0M136.4 73.5h0M135.8 71.3h0M135.7 74.3h0M148.0 77.1h0M149.8 73.0h0M147.2 73.9h0M149.0 73.4h0M148.7 73.8h0M146.8 71.8h0M146.5 72.4h0M147.7 72.9h0M150.8 74.0h0M154.2 75.7h0M151.7 72.1h0M152.5 73.8h0M154.1 73.8h0M154.3 72.5h0M153.9 75.1h0M153.1 74.4h0M141.2 78.6h0M141.1 78.8h0M143.7 77.7h0M140.9 77.7h0M138.4 76.8h0M137.4 78.6h0M136.5 77.4h0M135.9 76.4h0M153.0 73.8h0M152.1 74.2h0M150.3 73.4h0M151.5 74.0h0M143.5 70.4h0M143.4 72.2h0M144.5 72.4h0M144.4 70.2h0M151.2 73.2h0M150.7 73.2h0M150.1 71.7h0M149.4 71.8h0M137.0 74.1h0M137.6 76.4h0M138.7 74.5h0M138.9 73.6h0M142.1 77.9h0M143.0 83.3h0M144.2 81.2h0M143.6 80.1h0M131.5 76.4h0M132.7 77.4h0M130.4 74.8h0M131.8 77.0h0M141.7 74.9h0M145.5 74.7h0M141.9 73.9h0M142.0 74.9h0M135.5 75.9h0M136.1 75.8h0M138.1 73.7h0M134.5 76.0h0M146.2 69.9h0M146.4 72.0h0M144.3 72.2h0M145.1 71.9h0M149.5 76.0h0M151.4 76.1h0M150.1 75.6h0M148.1 77.6h0M139.7 75.0h0M137.6 71.4h0M139.7 74.1h0M140.4 72.1h0M145.1 72.8h0M148.8 72.6h0M146.5 72.9h0M149.6 72.8h0M146.1 73.7h0M144.6 75.0h0M145.9 75.5h0M147.0 73.5h0M131.7 72.8h0M130.7 71.6h0M133.3 72.4h0M130.7 72.9h0M135.7 73.6h0M136.6 70.7h0M136.0 71.6h0M135.0 73.9h0M145.1 72.9h0M143.4 72.0h0M147.7 72.6h0M143.9 71.5h0M138.3 79.4h0M139.4 78.1h0M141.5 80.0h0M140.2 80.3h0M134.5 73.6h0M132.2 72.5h0M132.9 75.4h0M133.5 72.6h0M132.5 74.4h0M130.7 74.0h0M131.8 72.8h0M131.7 73.8h0M148.5 70.0h0M147.0 79.4h0M133.9 81.0h0M133.5 70.8h0M146.8 69.4h0M128.9 74.9h0M141.7 82.2h0M150.3 70.0h0M146.1 79.6h0M148.4 78.0h0"/>
<path stroke="#ecec3c" stroke-width="1.65" stroke-linecap="square" fill="none" d="M116.4 89.1h0M115.2 86.9h0M117.7 90.4h0M119.2 89.1h0M120.7 90.4h0M119.4 90.7h0M120.3 91.4h0M120.9 89.7h0M117.3 88.5h0M116.7 89.1h0M115.1 87.5h0M118.5 88.7h0M123.8 90.9h0M124.6 89.3h0M124.1 88.8h0M124.0 90.2h0M120.9 89.1h0M121.0 87.0h0M120.9 88.5h0M122.2 89.1h0M123.9 91.0h0M123.7 91.7h0M122.6 90.5h0M122.2 93.3h0"/>
<path stroke="#c4cc6e" stroke-width="1.65" stroke-linecap="square" fill="none" d="M111.6 114.1h0M110.7 116.2h0M110.8 115.3h0M111.3 117.6h0M118.4 116.9h0M120.0 115.3h0M119.1 117.2h0M117.9 117.4h0M106.0 113.4h0M105.6 116.6h0M106.7 113.1h0M108.9 115.6h0M123.3 109.4h0M124.5 108.7h0M126.2 111.3h0M126.5 109.8h0M123.0 115.0h0M123.7 115.4h0M119.9 116.6h0M121.5 117.6h0M115.2 119.6h0M119.4 120.1h0M118.0 121.5h0M114.8 120.7h0M110.8 115.4h0M110.1 116.1h0M111.6 117.7h0M111.2 115.0h0M113.5 114.5h0M112.3 113.2h0M111.6 113.6h0M113.5 115.5h0M105.3 114.3h0M106.6 113.8h0M104.4 116.8h0M107.4 115.0h0M122.3 108.4h0M120.6 109.8h0M120.2 108.7h0M121.9 108.9h0M122.3 118.9h0M121.1 117.1h0M122.4 116.9h0M121.2 116.0h0M120.2 111.9h0M118.3 110.1h0M121.3 114.5h0M119.5 114.5h0M105.9 120.8h0M106.7 119.7h0M107.4 119.5h0M106.7 118.9h0M124.5 117.9h0M123.5 118.5h0M125.6 116.0h0M123.2 117.4h0M120.1 107.6h0M120.8 108.2h0M119.6 109.9h0M122.7 108.5h0M123.9 118.2h0M129.5 118.3h0M124.5 115.7h0M125.9 118.7h0M126.1 113.0h0M128.5 114.8h0M126.9 112.0h0M126.9 111.9h0M105.1 118.4h0M104.4 117.4h0M105.0 119.2h0M103.2 120.2h0M121.8 107.6h0M118.9 108.7h0M118.0 106.3h0M120.7 108.3h0M111.8 115.0h0M110.6 113.6h0M111.3 113.8h0M110.6 115.7h0M108.0 121.3h0M106.3 118.0h0M109.3 120.2h0M108.0 119.3h0M102.9 116.8h0M104.1 115.4h0M106.2 114.0h0M102.9 116.2h0M120.6 117.4h0M118.7 115.7h0M121.4 115.2h0M120.7 114.4h0M109.4 115.0h0M112.1 115.8h0M110.6 114.8h0M110.8 115.1h0M109.5 116.4h0M107.6 118.2h0M108.0 117.9h0M107.6 120.5h0M123.0 114.1h0M123.5 112.4h0M120.6 113.9h0M122.2 112.3h0M108.8 112.1h0M109.9 110.1h0M112.2 113.1h0M109.3 110.5h0M114.4 113.5h0M115.6 113.6h0M114.2 114.5h0M114.6 114.1h0M108.4 114.6h0M106.8 114.8h0M107.4 113.7h0M108.4 113.3h0M116.4 112.5h0M114.0 114.9h0M113.6 112.3h0M115.7 112.1h0M117.9 115.0h0M120.1 116.9h0M118.5 116.2h0M116.7 119.1h0M116.7 109.8h0M115.1 110.7h0M115.6 110.7h0M115.3 111.3h0M125.2 111.2h0M125.7 109.8h0M126.3 108.5h0M126.7 110.6h0M125.2 107.8h0M122.7 108.6h0M122.3 106.7h0M124.3 107.5h0M125.0 111.6h0M122.9 112.5h0M123.4 111.9h0M123.3 113.7h0M121.7 109.6h0M121.7 109.1h0M121.1 109.4h0M119.9 110.3h0M126.5 115.2h0M127.4 114.2h0M125.2 113.5h0M126.5 115.2h0M118.2 114.3h0M119.1 115.5h0M118.3 115.8h0M118.4 113.2h0M104.2 114.2h0M103.3 118.1h0M103.5 114.3h0M104.1 114.4h0M117.6 109.8h0M117.0 110.2h0M116.2 108.3h0M116.9 108.2h0M118.8 112.6h0M118.1 113.2h0M119.0 114.1h0M121.1 115.6h0M122.2 109.8h0M126.3 109.9h0M124.2 110.7h0M123.8 110.0h0M118.1 109.9h0M117.7 111.6h0M119.0 110.0h0M118.9 111.1h0M108.9 110.1h0M110.1 108.0h0M107.3 107.0h0M108.7 109.6h0M114.1 108.4h0M113.3 108.4h0M114.8 109.7h0M114.1 109.6h0M107.4 118.5h0M109.6 118.4h0M108.4 120.2h0M109.6 120.3h0M123.2 112.9h0M124.7 112.3h0M122.3 115.5h0M123.9 116.8h0M125.6 109.4h0M126.0 110.6h0M124.4 114.6h0M126.2 112.4h0M127.3 120.4h0M126.9 118.1h0M124.6 120.4h0M126.7 119.1h0M119.3 120.9h0M122.2 121.8h0M120.2 119.7h0M120.1 119.4h0M108.3 118.4h0M110.3 118.2h0M108.1 117.4h0M110.1 118.3h0M124.4 115.6h0M123.7 115.2h0M122.1 112.7h0M122.9 114.2h0M124.7 120.0h0M125.4 117.5h0M124.4 118.6h0M124.9 117.6h0M111.0 117.4h0M109.6 118.8h0M109.3 118.1h0M110.4 119.9h0M121.1 117.6h0M123.8 116.6h0M124.7 116.8h0M123.5 116.0h0M117.1 120.6h0M115.0 119.8h0M116.6 118.9h0M113.2 119.6h0M124.0 113.8h0M123.7 113.8h0M124.4 113.0h0M125.7 112.7h0M110.9 116.7h0M111.5 115.7h0M110.0 113.6h0M110.4 115.1h0M125.5 109.5h0M126.4 114.1h0M126.7 112.6h0M123.7 111.8h0M106.8 124.1h0M109.5 121.8h0M109.1 120.2h0M106.5 121.2h0M118.2 117.8h0M119.1 116.2h0M118.9 116.6h0M121.0 116.6h0M116.6 122.9h0M114.9 119.5h0M119.7 122.3h0M116.8 120.5h0M109.6 118.9h0M108.1 119.4h0M110.7 120.8h0M109.2 119.3h0M121.1 113.2h0M119.5 112.7h0M122.0 114.4h0M121.1 112.2h0M125.9 116.7h0M126.8 115.6h0M125.2 116.4h0M127.5 121.1h0M106.8 123.3h0M105.8 121.1h0M122.5 121.7h0M111.3 107.4h0M130.0 116.4h0M104.1 110.8h0M122.4 121.6h0M127.6 108.2h0"/>
<path stroke="#6c6ee6" stroke-width="1.65" stroke-linecap="square" fill="none" d="M181.9 101.7h0M180.9 101.6h0M184.3 102.4h0M182.1 100.3h0M191.2 98.8h0M190.8 101.0h0M190.8 103.8h0M192.7 102.0h0M152.2 109.0h0M152.7 110.1h0M153.2 109.0h0M153.2 110.4h0M163.6 129.4h0M164.5 127.1h0M163.9 127.3h0M166.3 129.0h0M152.0 114.6h0M152.2 114.0h0M149.7 115.9h0M152.4 116.5h0M181.0 119.6h0M179.6 120.5h0M181.0 120.0h0M181.2 122.1h0M179.4 85.2h0M177.5 85.0h0M178.4 83.0h0M177.4 86.1h0M186.7 104.6h0M184.8 107.0h0M187.1 104.6h0M188.2 106.6h0M166.8 125.3h0M168.4 125.1h0M168.1 122.3h0M169.7 122.8h0M182.6 118.3h0M181.1 118.6h0M182.5 117.2h0M182.7 120.0h0M174.3 100.3h0M174.3 101.3h0M172.9 101.6h0M171.9 99.2h0M165.6 109.2h0M165.3 107.4h0M164.6 108.4h0M166.2 109.9h0M155.5 91.2h0M157.7 91.9h0M158.3 92.9h0M158.7 93.1h0M186.1 85.2h0M183.6 87.1h0M185.1 88.6h0M185.2 86.4h0M168.9 110.0h0M166.4 113.6h0M168.7 113.0h0M168.6 111.7h0M177.7 104.0h0M177.9 102.1h0M178.9 106.1h0M178.9 103.1h0M178.2 113.3h0M178.2 113.5h0M176.7 111.4h0M178.7 114.3h0M176.5 123.1h0M179.9 122.7h0M177.3 124.3h0M175.7 122.9h0M175.2 110.4h0M174.8 109.3h0M175.5 112.5h0M176.6 110.3h0M185.1 117.0h0M187.1 118.6h0M187.2 116.8h0M185.3 118.7h0M177.3 88.3h0M175.3 88.5h0M176.5 88.1h0M176.8 91.1h0M189.0 119.2h0M186.9 119.2h0M187.5 119.0h0M190.0 119.8h0M190.1 113.7h0M191.3 114.5h0M191.3 114.6h0M189.8 116.0h0M177.1 116.6h0M175.8 116.6h0M175.0 116.6h0M176.7 116.8h0M168.6 127.3h0M168.8 125.1h0M167.8 123.9h0M169.9 126.0h0M179.9 98.9h0M183.0 99.2h0M182.1 97.5h0M182.8 101.5h0M156.4 109.1h0M157.2 109.4h0M157.6 109.3h0M157.1 109.0h0M169.1 93.9h0M170.6 91.7h0M169.1 93.3h0M169.6 92.3h0M197.7 95.1h0M194.4 96.1h0M197.6 95.4h0M196.4 96.3h0M179.4 109.8h0M177.7 110.6h0M179.1 108.6h0M178.8 106.7h0M185.0 116.9h0M185.5 115.7h0M187.4 116.3h0M187.7 116.6h0M178.5 115.2h0M179.2 113.3h0M178.4 114.6h0M179.4 112.0h0M191.5 106.3h0M191.7 106.9h0M193.2 105.9h0M190.2 103.7h0M180.0 100.9h0M179.4 103.3h0M180.5 100.2h0M182.7 101.3h0M156.7 93.5h0M156.8 94.2h0M155.2 94.0h0M156.1 93.3h0M190.1 103.7h0M187.1 103.8h0M188.5 101.3h0M186.2 101.9h0M167.6 104.2h0M163.6 104.9h0M166.5 103.9h0M163.3 102.1h0M185.0 119.4h0M181.2 120.0h0M184.0 118.6h0M183.3 118.9h0M146.8 101.2h0M146.9 102.7h0M147.5 102.7h0M149.3 101.9h0M169.9 90.5h0M169.1 90.8h0M171.6 93.3h0M169.7 91.1h0M173.7 124.0h0M174.2 125.7h0M174.1 121.8h0M172.1 123.6h0M149.9 114.4h0M151.8 111.4h0M149.7 111.3h0M149.8 111.4h0M167.7 89.5h0M168.3 88.6h0M166.8 88.2h0M168.7 91.2h0M164.5 91.8h0M166.6 93.8h0M167.3 94.4h0M164.8 92.9h0M155.6 92.3h0M155.6 89.7h0M157.1 90.5h0M154.6 91.0h0M160.2 100.4h0M159.8 99.4h0M161.9 98.3h0M159.8 101.0h0M166.8 95.2h0M165.6 96.7h0M163.4 97.6h0M167.0 97.7h0M192.5 89.1h0M191.7 88.4h0M189.9 88.1h0M193.8 89.4h0M195.3 106.8h0M195.3 108.8h0M193.2 107.0h0M195.5 104.3h0M160.4 97.0h0M160.2 98.8h0M157.7 98.1h0M158.5 96.0h0M168.3 82.1h0M168.9 81.6h0M171.8 84.4h0M172.1 85.6h0M186.9 97.2h0M186.5 97.6h0M182.8 96.7h0M186.5 97.8h0M184.1 125.8h0M186.6 125.6h0M184.7 124.6h0M186.0 125.6h0M173.1 92.2h0M173.3 93.0h0M174.4 92.1h0M175.9 92.8h0M196.8 91.4h0M197.0 93.1h0M197.1 91.2h0M195.2 89.7h0M173.5 110.1h0M172.4 110.1h0M171.2 111.4h0M171.9 110.1h0M185.1 95.2h0M183.6 96.3h0M185.0 96.2h0M184.1 96.2h0M165.4 108.6h0M162.2 106.4h0M163.4 108.2h0M165.5 108.5h0M156.5 111.3h0M154.3 113.0h0M155.0 113.2h0M156.2 112.4h0M156.1 93.8h0M157.6 93.1h0M159.3 95.3h0M157.7 96.3h0M167.1 109.0h0M169.0 110.2h0M167.9 109.7h0M166.8 108.6h0M181.4 81.5h0M181.9 82.4h0M180.0 84.4h0M180.0 82.9h0M164.8 115.9h0M166.3 114.6h0M163.7 115.7h0M163.4 112.7h0M154.9 100.0h0M154.2 98.6h0M155.9 100.6h0M156.0 100.8h0M195.3 109.7h0M192.8 111.7h0M193.4 111.7h0M194.7 111.0h0M172.5 120.4h0M171.8 121.7h0M171.4 119.5h0M170.1 119.9h0M183.5 107.4h0M183.4 108.3h0M184.1 107.3h0M181.8 106.1h0M182.4 86.5h0M180.6 84.4h0M180.0 85.2h0M179.9 86.9h0M169.9 94.5h0M170.3 94.0h0M173.0 95.2h0M170.7 94.2h0M172.4 88.5h0M171.5 85.1h0M172.3 87.1h0M171.5 89.1h0M148.7 112.2h0M149.9 109.7h0M149.1 108.2h0M146.8 109.3h0M154.5 109.6h0M154.2 108.5h0M155.7 108.2h0M152.2 109.9h0M184.7 115.6h0M186.8 116.0h0M185.5 116.6h0M182.3 116.4h0M184.2 107.6h0M183.4 107.2h0M184.6 105.5h0M185.4 107.9h0M163.1 107.5h0M162.5 106.0h0M163.9 105.6h0M161.7 105.1h0M187.6 94.9h0M185.2 94.4h0M186.8 94.8h0M184.6 94.0h0M146.5 107.1h0M148.9 105.1h0M148.2 107.5h0M147.9 107.3h0M153.8 109.2h0M153.0 111.1h0M153.1 111.6h0M154.4 110.9h0M177.3 118.6h0M177.4 119.9h0M178.0 118.9h0M177.6 119.0h0M167.8 81.0h0M169.5 85.1h0M168.9 80.3h0M168.4 79.9h0M178.6 102.7h0M177.4 104.4h0M173.6 102.1h0M177.5 102.2h0M190.5 114.0h0M187.2 112.6h0M190.6 113.6h0M190.5 115.9h0M144.3 101.3h0M145.2 102.6h0M144.8 101.1h0M148.2 101.7h0M190.5 90.7h0M189.5 90.7h0M189.3 87.9h0M189.7 89.7h0M178.9 109.9h0M176.2 110.1h0M179.8 111.9h0M175.8 110.5h0M172.4 100.6h0M172.3 101.4h0M171.1 100.4h0M171.1 101.8h0M177.2 111.7h0M176.1 109.1h0M175.8 110.2h0M175.5 109.0h0M157.6 120.2h0M154.9 119.9h0M156.1 118.9h0M154.5 121.0h0M164.9 122.6h0M164.8 124.2h0M163.8 123.9h0M163.1 123.3h0M188.8 115.4h0M191.9 115.6h0M190.9 115.6h0M192.3 116.6h0M160.7 113.8h0M160.5 114.3h0M164.4 112.1h0M163.8 113.3h0M176.4 95.7h0M177.8 96.0h0M175.2 96.2h0M178.9 96.7h0M172.1 96.7h0M172.2 98.8h0M174.5 101.2h0M173.1 98.1h0M166.6 87.0h0M167.5 84.0h0M166.7 84.3h0M169.5 83.9h0M160.6 105.8h0M161.2 105.7h0M159.9 106.0h0M160.8 106.3h0M165.1 112.8h0M167.3 113.8h0M165.3 113.0h0M168.2 112.5h0M159.1 105.8h0M156.3 104.7h0M157.4 103.9h0M154.4 105.1h0M156.7 118.6h0M158.0 118.4h0M156.8 120.4h0M156.6 116.2h0M158.1 119.4h0M160.6 118.6h0M156.6 121.1h0M160.9 119.1h0M162.7 104.4h0M167.9 103.7h0M167.4 105.1h0M166.1 103.8h0M171.5 109.1h0M171.0 110.4h0M172.5 110.0h0M170.6 110.6h0M191.0 103.2h0M191.6 103.7h0M189.9 102.8h0M189.1 105.0h0M178.6 102.3h0M177.2 102.6h0M175.6 101.6h0M175.9 101.0h0M163.1 102.3h0M161.7 103.8h0M159.4 102.3h0M161.6 104.5h0M147.1 105.8h0M146.5 105.2h0M146.9 106.2h0M144.7 104.1h0M161.9 106.9h0M161.3 105.3h0M159.7 106.4h0M161.2 105.4h0M162.8 118.6h0M164.3 116.5h0M165.0 118.8h0M164.8 116.5h0M168.7 82.9h0M170.5 84.2h0M169.6 83.7h0M166.9 81.0h0M166.0 111.1h0M165.0 111.3h0M164.5 111.1h0M165.6 111.4h0M152.7 109.7h0M154.3 112.1h0M154.3 110.8h0M154.2 109.5h0M157.9 126.1h0M159.3 124.4h0M158.9 123.6h0M160.0 126.4h0M172.6 124.6h0M171.4 127.3h0M170.8 126.7h0M170.3 126.9h0M152.8 94.0h0M152.4 94.3h0M154.4 95.8h0M151.6 93.7h0M168.7 92.4h0M168.3 91.5h0M169.1 89.0h0M169.0 90.8h0M164.8 97.2h0M162.7 94.7h0M166.2 93.4h0M164.0 95.1h0M187.7 93.2h0M187.1 94.1h0M187.0 93.6h0M186.8 94.2h0M190.6 120.2h0M191.0 120.9h0M189.7 117.6h0M190.0 119.8h0M160.3 89.0h0M164.3 89.5h0M162.9 90.6h0M161.4 89.8h0M176.9 126.1h0M178.0 125.7h0M175.7 126.1h0M175.7 125.4h0M169.9 101.8h0M172.8 99.8h0M169.2 100.5h0M172.1 101.2h0M158.0 91.5h0M154.8 92.1h0M155.4 91.0h0M155.3 89.1h0M191.7 85.9h0M188.8 85.7h0M190.3 86.4h0M188.2 88.1h0M170.4 79.7h0M173.6 80.2h0M172.3 78.4h0M170.9 81.3h0M177.9 104.3h0M179.1 103.9h0M178.8 104.0h0M179.7 105.1h0M154.0 89.4h0M155.0 89.4h0M154.9 91.1h0M152.9 91.3h0M172.4 80.7h0M171.8 82.2h0M171.0 81.6h0M172.2 81.3h0M177.1 90.1h0M177.9 88.5h0M176.6 87.5h0M175.6 89.4h0M175.7 117.2h0M174.1 118.6h0M174.7 117.8h0M172.9 118.7h0M174.3 103.3h0M177.2 105.4h0M176.6 105.1h0M177.6 105.0h0M143.3 110.1h0M143.4 110.0h0M146.7 107.9h0M144.6 109.7h0M197.1 98.1h0M197.4 99.2h0M195.5 96.4h0M197.6 96.4h0M158.7 103.5h0M158.9 104.9h0M159.8 103.8h0M157.8 105.3h0M181.6 122.2h0M180.5 122.2h0M180.6 123.0h0M179.8 121.0h0M166.3 88.3h0M166.1 90.7h0M165.0 90.2h0M165.5 88.5h0M186.3 98.4h0M185.2 95.5h0M184.7 97.6h0M187.0 100.8h0M158.7 96.1h0M160.2 92.5h0M161.8 98.4h0M160.5 96.7h0M185.1 102.9h0M184.0 104.7h0M181.9 101.6h0M183.2 103.3h0M144.2 108.2h0M144.4 109.5h0M146.3 108.1h0M144.2 108.5h0M156.2 120.4h0M152.6 121.2h0M155.7 116.7h0M156.6 118.3h0M172.3 90.0h0M173.7 86.1h0M172.7 88.1h0M173.3 88.2h0M153.6 113.0h0M154.8 112.9h0M155.0 113.7h0M153.6 112.2h0M178.5 96.1h0M178.3 95.4h0M179.0 96.1h0M176.7 95.9h0M179.2 84.4h0M181.4 84.9h0M182.1 86.9h0M182.4 85.1h0M167.9 115.7h0M166.4 118.1h0M167.0 117.4h0M166.0 115.5h0M183.0 116.2h0M185.9 113.6h0M184.8 113.6h0M184.9 113.4h0M167.0 111.8h0M166.4 110.5h0M166.6 110.3h0M166.8 108.7h0M147.4 109.6h0M147.7 110.0h0M150.3 108.9h0M150.4 110.6h0M169.6 99.8h0M168.3 100.2h0M166.1 100.6h0M168.5 101.6h0M154.4 102.9h0M156.8 103.5h0M155.1 100.4h0M154.7 103.2h0M184.9 99.2h0M184.8 99.2h0M182.6 100.9h0M182.8 98.3h0M161.0 116.8h0M163.1 113.6h0M161.7 115.9h0M161.8 115.7h0M193.7 106.0h0M193.0 105.9h0M193.7 108.0h0M195.8 105.0h0M188.7 116.5h0M189.0 114.8h0M188.2 117.9h0M188.2 116.2h0M186.4 85.5h0M186.4 84.6h0M187.2 84.7h0M187.6 86.1h0M149.8 103.7h0M151.0 104.1h0M151.7 105.6h0M151.5 105.8h0M173.9 118.7h0M174.1 119.7h0M174.2 117.3h0M173.9 118.4h0M182.9 95.9h0M181.1 93.7h0M185.6 94.2h0M184.8 92.3h0M172.5 105.2h0M172.4 105.1h0M172.6 105.3h0M172.4 107.5h0M165.7 119.0h0M162.6 118.0h0M163.0 116.3h0M165.4 119.7h0M180.5 118.6h0M182.1 116.7h0M184.8 115.7h0M184.8 119.0h0M162.5 121.7h0M162.1 123.0h0M160.8 123.6h0M161.9 124.1h0M147.1 96.0h0M146.3 96.4h0M147.0 97.0h0M146.8 94.3h0M178.9 102.8h0M179.3 103.1h0M179.0 102.3h0M177.9 102.2h0M189.0 109.4h0M189.3 109.6h0M187.6 109.6h0M190.1 108.9h0M154.7 119.6h0M157.0 117.2h0M154.9 120.7h0M154.2 119.1h0M183.6 122.4h0M182.2 121.0h0M182.5 120.7h0M183.2 122.6h0M173.0 103.5h0M172.0 104.2h0M173.9 103.3h0M172.4 103.3h0M168.9 112.8h0M169.4 112.0h0M168.5 115.2h0M169.6 112.2h0M163.3 86.7h0M160.9 89.2h0M162.7 89.4h0M162.8 88.5h0M169.5 84.4h0M170.7 86.1h0M169.0 83.8h0M170.9 86.3h0M154.7 120.9h0M155.2 117.5h0M154.6 118.3h0M153.4 120.5h0M181.9 124.8h0M180.1 123.4h0M181.1 123.7h0M183.7 124.0h0M181.2 106.8h0M180.9 106.8h0M181.3 107.1h0M179.8 107.7h0M180.3 117.4h0M181.3 118.5h0M181.8 118.2h0M180.7 118.7h0M185.8 94.3h0M185.8 95.8h0M186.0 97.8h0M184.9 94.8h0M165.9 93.7h0M165.6 90.2h0M165.6 91.4h0M165.6 92.4h0M152.1 108.8h0M152.3 108.0h0M153.5 109.3h0M150.9 108.1h0M164.3 121.6h0M163.6 121.6h0M162.9 120.2h0M166.2 119.8h0M146.5 104.1h0M144.7 104.8h0M144.4 104.5h0M146.4 102.7h0M180.1 114.6h0M179.5 117.8h0M180.1 119.2h0M179.0 116.5h0M177.0 88.1h0M175.1 89.1h0M175.3 90.5h0M176.7 89.8h0M147.3 101.6h0M146.0 103.6h0M145.1 105.2h0M146.5 104.6h0M187.1 83.0h0M186.1 81.2h0M186.7 81.7h0M184.5 83.2h0M189.9 118.7h0M189.1 117.1h0M189.8 117.6h0M188.5 118.1h0M169.4 121.7h0M169.0 119.1h0M170.8 119.3h0M169.9 118.7h0M184.3 120.1h0M185.5 120.1h0M186.2 121.1h0M185.4 122.1h0M170.2 107.7h0M168.9 107.9h0M170.4 109.0h0M170.9 106.5h0M195.6 104.5h0M194.8 108.5h0M192.9 105.2h0M193.3 106.7h0M195.0 104.3h0M196.0 102.9h0M195.6 104.4h0M195.5 105.3h0M192.2 111.2h0M192.3 110.2h0M189.5 111.0h0M191.9 108.5h0M167.7 96.4h0M166.1 99.1h0M168.3 98.4h0M166.3 99.4h0M175.7 95.4h0M175.3 96.6h0M177.8 94.7h0M176.6 95.2h0M178.4 87.6h0M176.0 88.3h0M178.8 86.6h0M176.4 85.5h0M185.2 122.8h0M186.2 118.7h0M186.1 119.0h0M186.9 120.7h0M175.0 109.8h0M174.7 108.8h0M176.0 111.0h0M176.5 110.5h0M182.9 105.9h0M183.5 106.6h0M186.4 106.2h0M186.7 105.4h0M172.0 87.3h0M171.7 90.6h0M174.3 91.9h0M173.2 88.6h0M162.8 115.4h0M163.8 115.7h0M161.1 117.7h0M160.9 115.5h0M148.2 101.5h0M145.8 101.5h0M147.9 99.3h0M145.4 99.8h0M178.7 82.6h0M176.3 83.7h0M175.8 83.5h0M176.9 82.9h0M187.9 85.2h0M188.7 87.7h0M188.4 84.5h0M187.3 87.2h0M199.6 99.2h0M201.5 102.2h0M197.1 101.5h0M199.6 100.1h0M155.9 121.3h0M154.0 123.3h0M154.9 120.2h0M155.1 123.2h0M166.1 91.2h0M167.1 91.2h0M165.9 92.9h0M166.2 91.8h0M172.8 129.8h0M173.0 126.9h0M171.8 127.5h0M172.7 127.2h0M156.3 109.7h0M158.4 109.4h0M158.9 109.9h0M158.2 109.0h0M150.5 94.0h0M148.7 95.4h0M150.3 96.6h0M149.8 93.2h0M188.5 115.2h0M186.9 113.8h0M185.9 115.2h0M184.8 113.5h0M149.4 110.2h0M147.7 112.2h0M148.8 108.4h0M150.6 112.3h0M187.4 88.3h0M189.7 87.8h0M187.4 86.0h0M188.6 88.5h0M172.1 108.5h0M171.9 106.9h0M173.9 105.2h0M171.3 107.6h0M177.9 91.8h0M176.3 92.0h0M175.6 87.9h0M178.7 89.5h0M183.5 106.9h0M181.9 107.0h0M182.7 106.2h0M181.2 105.9h0M181.8 98.0h0M180.6 98.5h0M178.8 99.7h0M180.3 100.4h0M174.2 112.3h0M174.4 113.2h0M173.3 113.5h0M173.1 112.0h0M153.4 109.8h0M152.4 110.6h0M152.1 111.2h0M152.4 112.9h0M150.2 116.6h0M149.0 113.9h0M150.7 113.8h0M151.6 114.0h0M192.8 87.6h0M192.7 86.3h0M190.6 87.9h0M192.2 88.8h0M176.9 84.9h0M174.8 88.9h0M174.6 86.7h0M175.8 85.2h0M185.2 98.3h0M183.1 99.9h0M181.6 100.9h0M184.6 99.4h0M154.4 96.0h0M153.0 95.4h0M153.3 95.3h0M152.2 97.1h0M182.9 120.5h0M179.9 119.1h0M182.5 119.8h0M181.1 121.3h0M159.1 112.6h0M157.0 111.3h0M160.0 113.1h0M159.3 112.6h0M164.3 110.8h0M164.4 112.6h0M165.7 111.3h0M164.6 109.0h0M171.5 91.1h0M171.9 90.4h0M172.8 88.8h0M174.2 91.3h0M196.2 91.4h0M195.4 92.6h0M197.6 92.5h0M196.6 93.0h0M182.2 124.7h0M181.4 124.0h0M182.1 124.0h0M179.1 123.9h0M167.4 118.1h0M164.4 119.4h0M164.0 118.4h0M162.9 119.5h0M157.4 112.2h0M157.6 111.8h0M155.3 113.9h0M155.6 113.6h0M175.9 108.2h0M176.4 107.9h0M177.3 105.5h0M175.9 105.5h0M187.5 83.3h0M188.1 84.0h0M188.8 83.3h0M188.7 84.3h0M165.0 115.4h0M163.9 115.6h0M166.1 116.9h0M164.9 117.5h0M182.5 85.7h0M181.7 85.0h0M182.3 85.9h0M180.2 85.3h0M167.7 89.0h0M166.6 85.4h0M167.8 86.3h0M166.6 86.5h0M165.2 108.4h0M164.4 108.0h0M164.4 110.5h0M164.8 108.1h0M162.7 119.2h0M162.9 119.4h0M160.8 118.4h0M164.9 117.7h0M155.9 116.2h0M157.3 120.8h0M158.9 119.1h0M159.2 120.7h0M148.7 107.1h0M147.7 107.9h0M147.2 108.5h0M145.7 107.2h0M196.6 94.3h0M195.0 90.5h0M194.8 91.4h0M194.0 92.4h0M163.6 109.8h0M165.2 110.3h0M163.0 109.4h0M162.9 106.7h0M161.5 111.7h0M163.0 112.7h0M163.5 111.5h0M163.8 111.4h0M172.9 90.3h0M174.0 91.2h0M172.1 91.4h0M173.6 91.7h0M162.2 124.0h0M162.6 123.0h0M163.2 125.4h0M163.2 125.8h0M183.5 126.7h0M182.4 125.7h0M184.1 123.5h0M181.7 126.0h0M197.1 91.1h0M194.6 95.6h0M196.0 93.4h0M192.1 93.9h0M154.5 109.7h0M151.4 108.8h0M153.0 106.1h0M150.9 107.2h0M190.2 87.3h0M188.1 88.0h0M187.6 90.8h0M188.9 88.9h0M167.6 81.2h0M166.6 83.1h0M165.9 84.4h0M165.4 82.2h0M189.0 94.7h0M189.8 95.0h0M190.5 96.0h0M190.4 94.5h0M168.9 115.7h0M166.5 115.7h0M167.1 114.3h0M167.4 113.6h0M145.8 99.8h0M145.0 100.7h0M147.3 100.9h0M146.7 102.0h0M161.8 123.1h0M162.3 123.7h0M158.7 123.2h0M161.2 125.7h0M147.9 110.1h0M147.4 111.5h0M147.3 112.8h0M148.6 113.3h0M171.9 89.7h0M174.2 89.4h0M175.6 90.1h0M173.6 92.0h0M174.9 113.1h0M175.6 113.3h0M176.9 115.1h0M175.7 114.4h0M166.2 89.5h0M166.0 88.3h0M165.6 91.3h0M166.9 88.2h0M168.7 102.2h0M169.0 101.5h0M168.9 103.2h0M169.3 101.2h0M169.7 121.7h0M169.4 123.6h0M169.8 119.8h0M169.0 121.6h0M154.2 123.8h0M152.7 121.6h0M154.1 120.6h0M155.2 119.9h0M171.7 97.0h0M170.9 97.7h0M171.6 99.2h0M169.7 96.1h0M166.2 121.5h0M164.8 119.4h0M166.8 117.2h0M165.3 118.8h0M174.5 98.3h0M173.5 97.6h0M172.7 99.0h0M175.1 97.7h0M158.6 101.6h0M158.0 101.0h0M155.8 103.1h0M156.8 102.2h0M175.7 98.2h0M174.0 101.0h0M177.3 98.9h0M175.5 98.9h0M165.9 104.3h0M165.6 105.0h0M165.9 107.0h0M164.2 103.7h0M169.7 115.1h0M169.0 114.6h0M169.1 115.0h0M168.9 114.7h0M159.9 96.6h0M159.2 97.8h0M156.7 97.4h0M159.5 97.9h0M185.2 98.9h0M188.0 95.6h0M185.8 97.1h0M186.8 95.9h0M179.2 125.1h0M181.0 123.8h0M177.4 124.6h0M180.2 126.3h0M170.1 85.2h0M167.9 83.3h0M170.8 86.2h0M169.1 83.2h0M184.0 98.3h0M183.4 95.1h0M184.2 96.3h0M185.7 96.6h0M185.8 119.8h0M185.8 120.4h0M184.9 118.9h0M188.2 119.5h0M187.3 119.4h0M189.0 119.5h0M189.4 120.8h0M187.8 118.3h0M158.4 121.7h0M157.5 122.9h0M157.5 123.0h0M158.4 123.8h0M161.4 107.3h0M161.4 107.4h0M160.4 105.5h0M163.0 106.3h0M173.2 94.2h0M171.2 92.4h0M169.9 90.1h0M172.6 91.2h0M171.0 89.5h0M172.9 91.7h0M173.7 87.7h0M169.7 89.9h0M164.9 113.5h0M163.4 111.8h0M163.0 116.8h0M166.7 115.3h0M160.3 104.4h0M161.8 105.5h0M161.9 103.6h0M161.8 105.5h0M175.8 84.3h0M175.2 83.1h0M177.5 83.6h0M175.0 82.6h0M180.9 105.5h0M180.2 100.8h0M180.4 104.5h0M179.8 102.6h0M185.9 85.4h0M182.7 84.6h0M183.4 84.2h0M183.8 84.7h0M157.0 88.2h0M156.6 86.9h0M156.5 86.3h0M158.2 89.2h0M159.3 124.7h0M160.0 123.2h0M159.3 121.9h0M162.5 123.3h0M189.5 91.8h0M187.4 90.0h0M188.4 89.7h0M189.3 91.3h0M160.2 91.9h0M162.1 92.0h0M162.2 90.5h0M160.6 91.9h0M181.5 128.7h0M178.7 127.1h0M181.8 127.1h0M180.9 125.2h0M162.7 119.9h0M162.7 116.9h0M160.4 117.8h0M163.7 118.4h0M161.0 95.0h0M162.7 92.6h0M162.7 97.5h0M162.4 93.8h0M160.4 89.9h0M159.7 87.5h0M160.3 88.1h0M161.0 85.2h0M192.6 120.0h0M190.7 120.0h0M190.7 118.6h0M191.5 120.2h0M193.9 94.9h0M194.6 95.7h0M192.1 97.6h0M193.0 94.8h0M174.0 81.9h0M173.4 79.9h0M173.0 83.2h0M175.0 81.0h0M159.2 116.8h0M159.8 118.0h0M159.7 115.6h0M156.7 112.7h0M191.4 94.1h0M191.7 93.5h0M189.7 94.8h0M192.7 94.0h0M189.3 113.3h0M190.8 115.7h0M189.3 115.6h0M189.7 116.0h0M190.9 89.7h0M191.6 87.3h0M191.6 87.7h0M188.8 86.9h0M175.0 128.5h0M174.4 128.3h0M174.5 126.8h0M174.3 129.2h0M194.4 95.6h0M192.1 95.1h0M194.9 94.8h0M194.1 95.3h0M156.3 99.0h0M156.6 99.2h0M154.5 100.4h0M153.7 100.3h0M185.6 126.9h0M182.5 124.2h0M183.3 124.7h0M183.3 125.2h0M159.8 109.9h0M158.7 109.1h0M158.8 109.4h0M159.4 109.0h0M168.0 123.1h0M170.2 122.8h0M169.6 123.1h0M169.0 123.7h0M156.6 111.0h0M154.6 110.9h0M157.5 112.8h0M154.5 110.6h0M179.3 120.4h0M180.4 119.7h0M180.5 119.0h0M180.2 120.2h0M185.0 119.3h0M186.8 116.6h0M184.9 117.6h0M187.0 119.7h0M148.3 105.2h0M149.9 106.3h0M150.6 107.2h0M151.4 105.6h0M157.0 100.0h0M157.1 103.0h0M155.3 101.4h0M156.3 101.5h0M160.8 109.7h0M160.2 109.1h0M160.5 109.0h0M160.0 109.9h0M183.1 117.0h0M181.6 118.4h0M181.9 118.1h0M183.3 117.2h0M176.2 84.6h0M174.6 86.2h0M175.8 85.9h0M174.6 87.9h0M160.1 123.2h0M161.6 124.5h0M159.4 123.8h0M159.2 123.9h0M179.5 126.6h0M179.0 127.8h0M176.5 127.3h0M177.1 126.4h0M168.0 111.2h0M167.8 109.5h0M166.5 111.9h0M168.4 110.7h0M172.3 128.4h0M174.3 126.8h0M170.4 127.5h0M174.0 127.7h0M153.0 95.3h0M154.2 95.3h0M153.3 94.3h0M155.1 95.4h0M186.5 105.1h0M187.2 105.7h0M186.3 105.4h0M184.8 105.7h0M198.7 93.0h0M198.8 93.1h0M198.1 93.7h0M195.1 94.2h0M181.6 123.9h0M181.5 123.9h0M179.4 122.0h0M181.6 123.1h0M167.9 119.5h0M167.7 119.7h0M168.6 120.4h0M170.1 117.5h0M167.0 115.5h0M168.1 116.2h0M169.4 116.8h0M167.5 116.5h0M190.5 118.1h0M188.2 117.3h0M189.9 119.3h0M189.7 117.3h0M193.9 99.9h0M193.5 100.1h0M193.7 100.6h0M193.3 97.8h0M186.9 115.9h0M186.7 115.8h0M188.5 115.5h0M188.0 116.4h0M148.5 97.5h0M149.8 98.0h0M150.2 99.0h0M150.5 98.5h0M149.3 122.9h0M152.4 121.2h0M150.4 118.2h0M151.7 122.2h0M177.3 76.8h0M178.3 79.4h0M178.6 80.4h0M177.9 77.6h0M174.0 95.4h0M170.6 96.2h0M170.7 96.4h0M173.1 95.2h0M180.4 100.6h0M179.8 100.6h0M181.9 100.5h0M179.5 99.8h0M152.7 92.7h0M150.7 92.3h0M153.1 95.3h0M152.7 95.8h0M190.8 94.0h0M191.7 96.2h0M191.5 95.3h0M193.2 96.3h0M193.7 93.3h0M195.4 92.4h0M195.6 92.2h0M196.0 93.4h0M166.3 125.6h0M165.1 126.1h0M168.2 126.0h0M164.6 125.2h0M152.3 120.1h0M156.8 121.5h0M155.4 122.7h0M157.0 121.0h0M181.6 83.8h0M183.0 81.6h0M182.8 81.8h0M184.5 82.7h0M179.9 103.8h0M182.0 103.2h0M178.3 102.7h0M179.5 104.9h0M184.4 100.4h0M182.1 101.1h0M183.4 100.3h0M183.4 101.0h0M164.2 109.5h0M163.2 112.2h0M165.0 107.8h0M166.2 110.1h0M175.4 81.7h0M178.1 80.9h0M174.8 83.0h0M174.8 82.0h0M163.9 110.1h0M163.9 110.2h0M164.2 107.1h0M163.4 107.2h0M188.1 116.1h0M187.3 118.0h0M185.8 118.1h0M185.3 117.2h0M174.9 125.0h0M171.9 123.1h0M175.2 126.2h0M174.7 123.6h0M177.2 97.5h0M174.7 97.4h0M174.1 99.7h0M174.6 98.8h0M183.8 99.8h0M184.1 99.9h0M185.6 99.2h0M186.4 101.2h0M193.2 100.0h0M193.7 98.7h0M194.0 101.1h0M191.1 101.0h0M169.7 112.6h0M170.8 113.5h0M169.1 114.7h0M171.9 115.0h0M170.7 97.3h0M171.9 96.9h0M171.3 95.2h0M170.4 96.2h0M186.8 124.3h0M185.7 125.4h0M187.4 125.2h0M189.2 123.1h0M190.8 92.9h0M192.4 92.7h0M192.8 93.9h0M192.0 93.6h0M169.8 108.0h0M172.5 108.2h0M170.9 110.3h0M167.9 109.9h0M170.9 114.2h0M167.1 113.9h0M170.6 113.8h0M169.4 113.1h0M157.6 96.6h0M158.5 98.0h0M157.7 97.0h0M157.1 95.7h0M157.7 117.6h0M158.9 117.2h0M159.2 118.3h0M158.1 117.7h0M182.8 123.5h0M183.2 122.8h0M182.1 124.4h0M183.7 124.6h0M162.4 85.1h0M160.1 86.1h0M160.7 88.0h0M161.1 85.5h0M173.0 107.5h0M172.3 105.1h0M174.0 106.4h0M175.1 106.7h0M160.9 127.5h0M161.0 126.9h0M161.6 127.4h0M162.4 127.3h0M176.0 114.7h0M179.4 114.0h0M179.8 113.5h0M178.2 114.6h0M183.7 98.2h0M183.1 100.7h0M183.9 97.1h0M184.7 100.8h0M145.8 102.6h0M145.7 101.6h0M147.4 103.2h0M146.3 102.4h0M173.5 110.5h0M175.4 107.0h0M175.1 108.1h0M175.0 105.8h0M171.0 105.8h0M171.3 108.2h0M171.7 107.0h0M171.2 105.4h0M149.5 105.5h0M149.1 103.5h0M147.7 105.2h0M150.3 106.0h0M159.9 107.1h0M157.6 107.2h0M161.4 105.0h0M159.4 105.2h0M187.1 81.0h0M193.9 115.3h0M192.3 123.3h0M186.2 81.1h0M191.0 125.5h0M196.5 85.5h0M159.1 126.3h0M144.1 113.5h0M151.3 89.4h0M201.1 100.7h0M155.7 128.0h0M186.0 127.3h0M190.0 124.8h0M176.3 132.9h0M184.3 80.5h0M146.2 92.3h0M156.5 85.1h0M187.4 80.9h0M167.4 132.2h0M195.1 114.9h0M202.7 100.2h0M183.1 80.6h0M194.0 119.3h0M188.5 123.1h0M161.2 83.0h0M142.3 108.0h0M143.0 99.3h0M194.6 117.6h0M159.3 127.4h0M199.9 95.7h0M182.5 128.4h0M189.3 125.5h0M179.6 130.4h0M192.7 84.3h0M161.6 130.5h0M195.4 108.7h0M194.9 116.8h0M154.7 85.1h0M150.7 89.2h0M188.8 127.3h0M171.0 131.6h0M179.5 127.9h0M158.8 129.1h0M192.9 122.5h0M195.6 87.8h0M159.9 131.2h0M145.5 95.8h0M197.3 109.2h0M170.3 132.0h0M171.9 131.1h0M175.5 77.4h0M197.9 110.8h0M141.0 111.1h0M165.3 79.5h0M182.4 77.5h0M189.0 80.6h0M173.2 131.4h0M156.9 126.3h0M196.9 88.1h0M142.1 105.4h0"/>
<path stroke="#e046aa" stroke-width="1.65" stroke-linecap="square" fill="none" d="M109.1 131.1h0M107.6 129.9h0M108.3 127.9h0M108.5 130.3h0M126.6 135.5h0M123.8 134.5h0M125.3 134.7h0M125.3 135.2h0M104.9 150.3h0M104.7 147.8h0M104.1 146.4h0M107.6 146.7h0M112.1 166.3h0M110.4 165.0h0M110.1 167.0h0M111.7 168.1h0M108.5 155.5h0M109.5 152.2h0M108.6 152.9h0M109.0 153.0h0M124.1 134.8h0M124.6 132.1h0M126.2 133.8h0M124.8 133.6h0M129.1 136.2h0M126.0 138.1h0M130.9 135.1h0M130.6 134.7h0M95.3 144.4h0M95.7 144.6h0M93.0 144.2h0M92.0 146.3h0M125.3 123.7h0M127.0 123.7h0M127.5 124.3h0M125.0 124.3h0M138.0 160.4h0M139.6 160.8h0M138.9 158.4h0M138.4 159.5h0M126.2 140.5h0M127.6 139.0h0M127.1 139.9h0M126.5 139.5h0M90.9 149.9h0M90.4 150.0h0M91.4 151.0h0M93.0 151.0h0M142.1 138.0h0M141.9 139.7h0M141.7 139.7h0M141.3 138.3h0M133.9 158.5h0M131.9 158.5h0M130.9 158.0h0M133.3 158.1h0M139.2 143.4h0M139.4 142.7h0M141.9 144.1h0M138.5 144.8h0M112.5 167.7h0M113.7 167.6h0M110.5 169.1h0M111.6 169.8h0M119.1 134.0h0M116.8 132.6h0M118.4 135.7h0M117.9 135.1h0M137.4 155.3h0M135.4 153.1h0M136.2 154.5h0M136.1 150.4h0M126.7 157.9h0M123.4 156.9h0M125.0 158.9h0M125.9 159.4h0M111.6 152.8h0M112.1 149.1h0M111.5 150.1h0M110.7 153.8h0M111.0 139.0h0M113.1 138.1h0M111.3 139.0h0M111.4 137.9h0M133.3 159.4h0M134.9 159.4h0M134.5 159.7h0M134.4 158.8h0M102.5 155.0h0M104.8 154.8h0M105.9 154.0h0M102.8 153.6h0M116.9 126.4h0M119.7 125.0h0M117.5 129.0h0M116.7 124.0h0M96.2 128.9h0M99.1 127.9h0M100.5 128.7h0M98.8 127.8h0M147.2 144.0h0M146.0 144.4h0M147.9 143.2h0M148.0 144.5h0M150.5 148.9h0M150.0 149.2h0M152.2 146.6h0M150.3 149.0h0M118.7 160.8h0M118.8 158.9h0M120.0 159.3h0M119.4 160.5h0M122.3 133.2h0M122.2 130.8h0M120.7 130.3h0M121.7 131.9h0M96.2 140.8h0M96.7 140.1h0M96.4 139.8h0M96.3 140.5h0M103.2 126.6h0M103.1 127.5h0M104.7 125.8h0M105.1 127.2h0M107.6 170.3h0M108.3 170.0h0M109.0 171.3h0M107.8 169.4h0M95.6 150.1h0M94.3 148.9h0M95.1 151.7h0M95.5 151.2h0M88.1 155.5h0M88.5 154.7h0M85.7 153.8h0M87.2 153.4h0M127.7 141.3h0M130.0 139.1h0M130.9 138.7h0M129.8 138.0h0M135.4 143.2h0M137.3 143.8h0M136.1 143.4h0M139.7 145.2h0M98.6 158.2h0M97.1 158.5h0M99.4 159.8h0M97.8 157.5h0M118.2 148.0h0M116.3 145.0h0M115.6 146.4h0M117.2 147.1h0M104.2 164.7h0M103.5 166.6h0M103.2 167.5h0M106.5 166.8h0M111.5 162.9h0M112.9 161.1h0M111.5 163.5h0M109.8 162.3h0M120.3 141.1h0M118.9 142.0h0M118.7 141.9h0M119.6 141.3h0M135.6 148.2h0M134.1 151.1h0M134.1 148.7h0M135.3 149.0h0M134.0 129.1h0M131.2 131.7h0M132.0 130.5h0M135.6 131.1h0M113.9 169.6h0M112.2 167.7h0M111.6 169.2h0M112.1 169.4h0M131.0 134.2h0M132.6 134.5h0M132.4 134.9h0M131.3 135.9h0M109.6 144.2h0M109.3 143.2h0M107.7 145.6h0M109.9 143.9h0M105.6 137.9h0M106.9 137.5h0M108.2 137.8h0M106.4 137.4h0M115.4 162.8h0M118.2 164.5h0M115.1 160.5h0M115.5 163.4h0M128.2 130.7h0M127.8 130.0h0M130.9 128.5h0M127.2 129.4h0M147.1 155.3h0M145.9 155.9h0M147.4 154.6h0M146.3 157.5h0M152.2 149.2h0M155.8 151.1h0M156.5 148.7h0M154.0 148.6h0M113.2 142.3h0M115.5 143.0h0M111.8 142.3h0M112.1 140.7h0M116.5 147.8h0M115.5 148.1h0M114.3 149.7h0M115.3 149.8h0M143.1 140.0h0M141.9 141.8h0M144.4 138.7h0M139.9 140.5h0M138.1 129.3h0M139.4 129.2h0M139.7 129.5h0M136.8 131.9h0M129.3 147.4h0M128.8 147.2h0M130.3 146.7h0M129.0 149.5h0M129.3 132.2h0M129.1 128.8h0M131.1 128.1h0M128.8 131.7h0M114.6 147.3h0M114.8 146.9h0M113.5 147.4h0M113.6 146.0h0M130.1 162.2h0M129.0 159.7h0M131.9 163.8h0M130.0 161.7h0M123.6 126.8h0M124.1 124.5h0M124.6 126.5h0M124.0 125.6h0M127.9 154.6h0M128.5 154.5h0M127.9 153.0h0M129.6 153.7h0M104.7 130.2h0M105.0 130.8h0M104.6 131.9h0M108.6 132.0h0M98.3 152.6h0M100.0 153.5h0M98.9 154.3h0M99.8 155.5h0M124.8 164.0h0M125.6 161.8h0M126.2 162.2h0M127.0 163.0h0M122.0 140.3h0M118.7 139.6h0M119.8 140.8h0M119.8 143.1h0M105.9 161.3h0M106.6 160.5h0M107.7 159.4h0M105.9 162.5h0M110.4 173.2h0M111.0 172.5h0M109.3 172.7h0M110.5 171.0h0M106.3 161.0h0M104.8 160.2h0M107.9 160.2h0M107.1 159.8h0M132.0 138.6h0M131.2 138.5h0M130.8 136.9h0M133.9 138.0h0M124.8 155.3h0M124.4 154.4h0M126.9 156.5h0M126.5 155.9h0M112.7 171.1h0M113.2 169.3h0M109.0 170.8h0M112.6 170.2h0M116.4 155.2h0M118.2 155.6h0M113.2 153.2h0M115.8 156.0h0M94.6 164.9h0M92.7 163.9h0M92.8 165.6h0M93.4 167.4h0M114.2 160.3h0M115.7 158.5h0M114.5 160.5h0M113.5 157.8h0M127.2 134.9h0M125.8 133.9h0M126.6 137.4h0M125.8 135.8h0M106.4 170.1h0M108.6 171.5h0M110.6 167.2h0M108.8 170.3h0M93.2 162.1h0M92.4 164.9h0M94.0 163.5h0M93.2 164.6h0M122.6 127.3h0M124.7 128.7h0M127.6 127.5h0M125.5 127.4h0M124.9 166.1h0M123.5 168.1h0M122.6 167.0h0M123.9 167.5h0M106.5 130.6h0M104.2 128.9h0M105.4 131.4h0M104.4 129.5h0M150.3 151.2h0M150.3 153.0h0M150.4 154.9h0M150.8 152.1h0M102.5 166.0h0M103.2 170.3h0M101.8 166.0h0M102.7 168.5h0M124.2 143.8h0M122.8 142.9h0M125.2 145.4h0M123.7 144.0h0M111.0 161.6h0M108.6 159.6h0M109.6 158.1h0M107.9 159.4h0M143.0 158.9h0M146.7 158.2h0M145.3 158.6h0M141.6 158.4h0M101.5 167.0h0M99.8 165.1h0M101.1 163.6h0M102.0 165.6h0M131.9 153.7h0M129.3 151.2h0M129.0 154.1h0M129.3 151.1h0M113.0 126.3h0M112.7 128.4h0M110.2 128.1h0M112.2 128.9h0M100.1 140.3h0M102.7 142.0h0M99.9 141.6h0M101.1 141.8h0M107.1 164.1h0M111.0 165.4h0M111.1 165.7h0M111.9 168.2h0M116.1 149.1h0M114.5 148.8h0M113.6 150.3h0M113.7 147.1h0M126.3 122.5h0M127.7 124.0h0M126.6 122.0h0M127.3 124.4h0M152.4 149.5h0M154.5 149.7h0M152.1 147.6h0M149.9 148.6h0M142.4 139.3h0M142.5 139.7h0M145.6 138.6h0M143.1 139.8h0M132.5 145.0h0M133.3 145.7h0M132.1 146.2h0M130.6 147.7h0M139.7 140.9h0M139.8 140.2h0M138.4 140.4h0M138.2 140.1h0M130.8 141.7h0M132.1 145.1h0M130.1 144.1h0M131.1 144.7h0M131.1 120.5h0M132.2 119.7h0M129.5 122.2h0M131.8 121.9h0M109.6 132.2h0M110.0 135.0h0M110.2 131.3h0M109.7 133.0h0M136.0 157.7h0M136.7 159.5h0M135.1 158.0h0M133.1 156.8h0M141.2 134.2h0M140.8 136.3h0M142.9 133.7h0M142.8 135.1h0M139.0 144.5h0M140.3 143.0h0M141.3 143.9h0M142.3 145.0h0M123.7 120.1h0M123.5 123.4h0M124.9 121.9h0M126.8 122.1h0M111.2 151.2h0M108.6 150.4h0M112.0 152.1h0M111.9 151.6h0M114.7 128.5h0M113.3 128.3h0M112.6 126.7h0M114.3 128.2h0M116.2 150.5h0M118.3 151.2h0M116.6 153.2h0M119.3 152.2h0M109.7 132.3h0M110.9 134.0h0M108.6 133.0h0M106.8 133.0h0M140.2 141.5h0M140.1 142.4h0M141.9 142.0h0M139.2 142.9h0M89.0 162.4h0M92.1 161.8h0M91.7 162.7h0M89.3 160.8h0M88.2 145.3h0M86.0 145.0h0M87.6 142.6h0M89.0 146.0h0M108.4 166.6h0M111.6 166.1h0M109.7 167.7h0M105.9 166.8h0M136.8 137.1h0M135.4 137.3h0M138.4 138.3h0M136.6 136.5h0M130.2 131.4h0M129.1 131.6h0M129.6 130.9h0M130.7 132.8h0M126.5 166.2h0M127.1 164.5h0M126.3 162.1h0M126.7 166.0h0M84.7 154.7h0M87.4 153.4h0M88.5 154.4h0M86.9 154.0h0M134.0 126.3h0M134.9 129.3h0M136.1 128.8h0M133.5 129.1h0M113.7 150.8h0M113.7 152.9h0M112.4 151.0h0M114.2 150.7h0M93.2 143.4h0M94.7 144.0h0M93.8 144.2h0M93.7 143.9h0M123.2 151.2h0M123.8 149.6h0M124.5 150.3h0M123.0 150.0h0M138.7 148.3h0M136.8 148.0h0M139.2 146.7h0M136.5 149.0h0M121.4 135.1h0M125.2 133.6h0M125.3 133.7h0M126.5 133.5h0M147.3 152.2h0M146.5 151.1h0M148.1 150.4h0M148.2 149.4h0M115.8 148.7h0M116.7 148.5h0M117.8 147.8h0M116.3 147.0h0M145.0 135.7h0M143.5 135.1h0M145.2 137.1h0M144.6 138.5h0M94.6 156.3h0M94.4 154.6h0M95.2 154.7h0M92.3 156.2h0M106.3 126.4h0M106.4 126.5h0M105.3 128.4h0M105.9 128.5h0M129.0 132.2h0M126.9 132.5h0M127.8 133.1h0M128.3 133.4h0M84.0 158.8h0M84.0 160.4h0M85.8 163.4h0M85.4 161.1h0M135.7 135.3h0M135.2 138.0h0M136.7 135.6h0M138.5 137.1h0M105.1 163.7h0M104.9 163.4h0M104.9 162.6h0M102.7 162.5h0M111.5 165.7h0M109.5 167.5h0M110.4 166.1h0M111.4 165.6h0M126.6 127.4h0M126.3 127.1h0M126.9 126.9h0M126.6 126.5h0M124.0 147.4h0M121.3 146.4h0M124.6 147.5h0M122.6 146.6h0M109.4 155.4h0M109.8 156.4h0M110.1 156.2h0M110.5 157.9h0M123.4 166.1h0M121.3 165.7h0M121.7 167.8h0M119.1 168.6h0M105.2 162.8h0M106.5 162.9h0M106.3 164.9h0M107.0 165.1h0M96.0 142.8h0M95.4 143.1h0M95.7 144.6h0M95.3 145.7h0M101.8 140.5h0M102.6 141.3h0M103.1 141.9h0M102.3 142.4h0M90.8 154.7h0M92.2 153.8h0M92.5 154.1h0M92.4 156.8h0M131.1 123.0h0M132.7 123.1h0M132.4 121.6h0M131.6 121.5h0M81.2 160.6h0M82.4 161.2h0M82.7 159.6h0M81.8 158.7h0M126.6 122.5h0M125.6 124.0h0M126.5 123.1h0M125.7 124.2h0M98.0 167.5h0M95.9 166.9h0M96.1 165.4h0M95.9 168.2h0M137.5 131.3h0M136.0 132.5h0M135.6 132.9h0M135.2 133.3h0M111.9 140.6h0M109.9 142.4h0M110.2 140.6h0M112.1 139.5h0M107.5 131.9h0M107.6 132.6h0M107.3 134.2h0M106.0 131.2h0M124.2 123.8h0M123.4 125.0h0M122.6 125.9h0M124.5 123.5h0M97.4 147.9h0M97.7 148.8h0M96.9 149.4h0M96.1 147.1h0M128.1 148.3h0M128.6 151.0h0M130.6 152.5h0M128.4 151.0h0M117.3 158.8h0M115.5 159.5h0M116.4 159.3h0M113.8 159.2h0M130.1 160.3h0M130.4 159.4h0M128.7 161.3h0M131.6 158.9h0M100.5 146.8h0M101.9 147.1h0M103.8 147.3h0M101.5 145.0h0M125.7 153.6h0M126.4 153.6h0M125.9 157.7h0M127.3 156.3h0M95.9 133.7h0M93.9 132.3h0M93.8 134.8h0M94.3 135.5h0M90.0 139.7h0M90.8 140.7h0M89.9 143.3h0M90.9 138.8h0M112.0 130.2h0M111.8 130.5h0M111.0 130.6h0M110.9 132.3h0M131.2 162.1h0M130.5 163.3h0M129.1 163.2h0M129.3 164.7h0M107.5 159.5h0M106.6 160.0h0M107.5 159.1h0M107.1 158.7h0M115.7 143.1h0M113.0 142.1h0M115.2 143.6h0M116.2 141.3h0M123.3 157.1h0M123.1 154.8h0M123.8 155.7h0M122.7 157.8h0M118.4 152.4h0M120.7 150.6h0M118.4 151.6h0M115.4 150.2h0M126.8 125.8h0M127.3 130.4h0M128.0 129.5h0M127.7 128.4h0M102.1 159.5h0M99.5 158.1h0M99.4 157.1h0M100.2 158.7h0M115.3 143.9h0M115.4 142.8h0M114.9 144.6h0M117.2 145.3h0M149.0 151.8h0M146.9 152.1h0M148.3 152.2h0M145.7 150.8h0M97.8 145.8h0M97.9 147.8h0M96.9 147.8h0M98.6 148.6h0M134.6 156.7h0M133.0 156.7h0M135.0 158.1h0M133.6 158.6h0M142.6 148.4h0M142.1 150.0h0M145.5 146.3h0M144.7 149.5h0M114.5 126.8h0M114.3 125.6h0M114.3 124.6h0M113.2 125.5h0M94.1 156.0h0M93.5 154.0h0M94.2 154.1h0M95.1 153.2h0M150.2 154.2h0M151.1 151.1h0M149.1 151.8h0M147.9 154.1h0M135.6 154.6h0M135.8 157.3h0M135.3 154.6h0M135.8 154.2h0M102.7 150.9h0M104.5 150.7h0M103.6 148.3h0M104.3 147.8h0M99.6 160.4h0M99.9 160.8h0M100.5 158.2h0M99.6 161.8h0M148.0 145.6h0M150.5 146.9h0M148.9 148.0h0M148.1 146.6h0M104.2 133.0h0M103.7 134.1h0M103.8 135.4h0M106.6 136.2h0M130.9 162.5h0M131.4 163.3h0M131.5 164.5h0M132.9 163.7h0M111.0 144.1h0M111.3 146.8h0M109.7 142.8h0M110.0 144.0h0M97.9 129.0h0M95.9 132.5h0M96.8 130.1h0M94.7 130.6h0M112.6 130.9h0M111.2 132.5h0M113.2 132.3h0M114.3 130.6h0M110.9 125.6h0M109.6 123.6h0M109.2 123.4h0M110.5 123.2h0M135.3 130.1h0M134.6 132.1h0M133.8 131.4h0M134.7 131.3h0M137.2 157.6h0M137.9 158.1h0M136.0 157.4h0M139.7 157.2h0M149.7 151.1h0M151.1 150.7h0M146.3 150.2h0M148.1 149.5h0M113.8 165.8h0M114.1 164.8h0M111.9 165.1h0M113.9 165.4h0M106.8 166.4h0M104.9 163.4h0M103.9 162.3h0M105.8 163.2h0M132.1 135.3h0M132.9 133.0h0M131.2 133.9h0M132.0 133.7h0M102.6 143.2h0M104.2 143.8h0M106.0 143.4h0M104.8 143.3h0M134.4 153.7h0M136.4 154.2h0M135.6 152.2h0M136.3 152.6h0M130.0 139.1h0M131.3 142.6h0M131.6 140.6h0M131.7 141.8h0M110.1 134.3h0M107.0 135.3h0M109.2 134.9h0M109.0 134.5h0M136.4 131.2h0M136.2 130.5h0M134.2 131.2h0M136.7 130.4h0M95.1 164.2h0M96.1 166.2h0M95.3 164.4h0M94.2 165.1h0M121.3 163.7h0M120.3 165.8h0M122.1 164.6h0M121.0 164.3h0M94.1 155.9h0M91.9 158.2h0M91.9 160.8h0M91.0 156.4h0M133.8 138.6h0M136.3 138.2h0M135.8 140.4h0M134.7 141.9h0M90.0 146.6h0M90.1 147.2h0M89.2 149.0h0M88.4 148.2h0M122.2 167.0h0M118.6 167.2h0M120.2 168.7h0M122.1 165.6h0M96.1 152.6h0M95.4 153.7h0M94.8 151.8h0M91.1 152.7h0M122.9 130.2h0M124.3 131.6h0M125.1 132.5h0M122.9 129.9h0M120.3 132.9h0M119.3 134.2h0M121.2 134.7h0M121.3 132.2h0M131.4 156.2h0M129.3 156.7h0M129.7 159.4h0M130.0 156.6h0M117.5 157.8h0M117.3 157.0h0M117.3 157.7h0M116.8 157.7h0M149.4 157.8h0M150.7 157.9h0M151.6 155.2h0M149.8 158.8h0M129.8 127.2h0M131.3 129.9h0M131.1 128.5h0M131.1 127.2h0M140.9 132.3h0M136.7 129.8h0M138.5 130.6h0M138.6 129.9h0M132.0 155.8h0M128.6 155.0h0M131.9 154.0h0M129.9 155.8h0M127.3 149.0h0M127.5 147.4h0M126.1 148.1h0M128.6 147.5h0M112.7 149.3h0M111.7 149.5h0M109.9 151.3h0M109.8 147.9h0M123.7 128.1h0M125.4 127.1h0M125.7 127.6h0M124.4 129.5h0M136.0 128.2h0M136.5 128.5h0M136.0 129.4h0M136.6 129.6h0M96.8 155.0h0M98.0 153.4h0M99.3 150.7h0M98.2 154.9h0M117.9 121.7h0M118.5 123.3h0M119.1 123.0h0M118.6 121.6h0M98.0 139.0h0M97.7 137.9h0M98.1 138.0h0M96.4 138.3h0M119.3 125.6h0M118.8 127.7h0M116.4 125.9h0M118.0 126.3h0M98.2 151.6h0M99.2 154.8h0M96.5 153.8h0M97.7 152.8h0M97.5 164.5h0M97.5 165.5h0M97.4 163.6h0M97.5 163.6h0M114.8 124.2h0M115.0 122.3h0M115.8 125.1h0M115.9 122.9h0M138.9 151.3h0M137.2 154.0h0M136.9 150.6h0M135.2 154.0h0M107.5 148.8h0M107.2 149.8h0M105.6 148.3h0M106.9 150.4h0M101.6 160.6h0M100.0 159.9h0M98.1 158.3h0M98.6 159.1h0M147.4 156.8h0M146.9 155.1h0M145.1 158.0h0M147.6 157.2h0M133.1 163.4h0M134.3 161.6h0M133.3 161.6h0M132.0 160.6h0M118.9 142.3h0M114.4 140.7h0M116.1 142.8h0M118.7 142.1h0M130.9 124.4h0M130.9 126.1h0M130.2 126.0h0M130.4 125.7h0M123.2 149.0h0M122.3 147.0h0M124.9 146.7h0M125.0 148.4h0M93.4 139.5h0M94.3 138.4h0M93.3 140.3h0M92.9 139.9h0M129.2 150.7h0M130.0 149.1h0M126.9 150.0h0M130.7 147.7h0M143.6 158.2h0M145.0 158.7h0M145.8 158.8h0M143.7 158.8h0M148.3 140.6h0M146.6 141.0h0M148.5 143.0h0M146.3 141.7h0M94.1 136.3h0M95.0 137.8h0M93.5 138.7h0M94.9 136.8h0M134.6 151.7h0M133.3 150.7h0M134.5 153.3h0M133.4 153.0h0M134.2 147.3h0M134.5 147.4h0M132.4 145.4h0M134.2 145.6h0M111.6 161.5h0M111.5 160.8h0M112.2 158.6h0M110.0 162.0h0M108.6 150.2h0M108.7 150.7h0M107.3 152.2h0M108.6 150.0h0M137.4 159.0h0M136.1 157.0h0M137.0 157.9h0M137.2 157.1h0M122.7 128.3h0M123.2 126.9h0M121.7 128.1h0M122.2 128.0h0M112.1 143.7h0M112.5 145.9h0M112.0 144.9h0M112.0 145.6h0M106.3 154.0h0M103.7 155.5h0M104.1 154.2h0M107.6 155.5h0M145.6 135.9h0M143.2 136.9h0M141.4 136.9h0M142.8 136.6h0M118.5 142.4h0M120.0 142.7h0M118.9 141.9h0M116.6 143.2h0M103.1 132.7h0M104.6 133.2h0M102.5 130.4h0M101.0 132.0h0M117.9 134.2h0M118.4 134.5h0M118.0 135.1h0M118.1 133.4h0M128.9 129.6h0M128.6 130.0h0M128.0 127.8h0M128.2 129.7h0M127.9 140.4h0M126.5 139.5h0M128.1 141.4h0M126.5 138.1h0M111.4 142.5h0M110.6 142.9h0M111.3 143.5h0M109.6 142.9h0M105.1 169.7h0M107.3 170.6h0M108.0 172.3h0M106.4 172.8h0M85.6 157.4h0M85.8 156.4h0M86.1 158.0h0M84.5 158.0h0M90.6 154.2h0M87.5 156.4h0M89.3 155.6h0M90.5 155.4h0M134.8 132.3h0M133.3 130.5h0M134.2 129.5h0M135.9 131.0h0M112.7 127.5h0M110.4 125.4h0M109.5 127.3h0M108.1 126.2h0M108.4 170.5h0M107.9 171.3h0M109.3 172.5h0M111.0 170.5h0M123.3 160.3h0M126.6 161.0h0M123.8 160.1h0M124.1 160.8h0M116.8 134.9h0M116.5 135.3h0M116.4 134.8h0M116.2 135.9h0M94.0 168.5h0M92.9 170.3h0M95.2 168.7h0M95.1 169.3h0M106.0 162.1h0M106.5 162.4h0M107.8 163.0h0M107.7 161.0h0M109.7 142.1h0M110.5 143.0h0M110.1 144.4h0M113.0 144.7h0M95.8 169.2h0M97.5 169.2h0M96.4 168.6h0M94.1 169.7h0M123.4 148.4h0M123.9 148.3h0M123.2 148.0h0M125.0 148.5h0M149.7 146.0h0M148.9 145.1h0M148.3 143.7h0M149.3 142.8h0M121.3 137.1h0M123.6 137.2h0M122.9 136.0h0M123.8 138.1h0M113.8 155.5h0M112.0 156.7h0M113.1 156.9h0M111.8 159.3h0M146.6 156.8h0M148.2 155.1h0M149.1 156.7h0M149.0 157.6h0M119.3 151.1h0M118.4 150.0h0M119.5 149.0h0M120.3 149.3h0M139.1 138.8h0M141.8 139.1h0M140.6 138.7h0M138.0 138.0h0M119.8 148.6h0M118.6 149.0h0M118.3 147.0h0M117.4 146.4h0M137.0 130.5h0M135.3 128.8h0M135.7 128.2h0M135.0 129.8h0M113.6 163.8h0M119.0 161.1h0M114.4 162.9h0M115.7 164.0h0M95.8 147.5h0M97.1 146.6h0M97.5 145.4h0M95.7 145.6h0M134.5 130.5h0M136.9 128.3h0M136.0 128.4h0M135.1 130.0h0M126.1 147.6h0M124.4 147.4h0M126.6 147.6h0M127.1 147.7h0M103.1 146.8h0M103.5 147.8h0M103.1 146.7h0M102.5 149.5h0M141.2 153.0h0M138.9 152.2h0M136.3 150.9h0M137.5 152.8h0M97.6 146.3h0M99.8 148.3h0M98.0 146.4h0M98.5 146.7h0M100.7 161.3h0M101.1 163.6h0M100.5 165.4h0M100.3 161.7h0M135.0 135.2h0M135.6 135.8h0M133.7 132.7h0M133.4 135.2h0M105.5 145.7h0M106.5 149.3h0M106.4 146.3h0M104.3 144.3h0M143.1 147.1h0M140.7 147.1h0M144.3 147.7h0M142.1 145.1h0M119.2 125.8h0M120.5 127.8h0M119.8 129.4h0M119.9 127.5h0M127.4 153.4h0M127.7 155.2h0M128.8 152.8h0M129.0 154.8h0M133.7 160.1h0M131.2 161.1h0M132.8 161.7h0M132.9 161.7h0M90.8 138.6h0M93.5 139.3h0M89.3 138.5h0M92.1 139.2h0M127.8 155.5h0M128.7 158.4h0M128.3 157.6h0M128.6 156.2h0M124.6 139.1h0M123.8 141.7h0M124.1 138.4h0M124.4 138.9h0M120.8 162.3h0M120.7 163.0h0M120.7 162.3h0M121.4 161.1h0M117.0 123.5h0M118.0 125.1h0M119.8 124.1h0M118.2 123.5h0M132.8 159.7h0M131.4 161.5h0M133.6 159.9h0M132.8 160.0h0M156.1 154.1h0M152.9 155.2h0M156.9 153.7h0M156.7 152.5h0M128.9 124.7h0M129.0 125.2h0M130.2 123.4h0M132.5 122.6h0M107.9 155.6h0M107.0 154.9h0M107.0 157.7h0M107.9 155.9h0M111.7 129.9h0M111.4 128.9h0M111.5 130.6h0M113.9 128.2h0M135.2 153.0h0M136.3 152.6h0M136.3 153.4h0M137.0 153.9h0M120.3 144.7h0M120.2 145.5h0M119.9 145.1h0M118.2 147.1h0M86.1 154.6h0M85.6 155.0h0M86.7 155.5h0M84.2 156.3h0M133.1 140.1h0M130.6 142.2h0M133.4 140.7h0M133.5 140.3h0M88.9 164.3h0M84.1 165.7h0M87.3 164.2h0M86.9 166.3h0M125.4 164.4h0M128.1 163.9h0M127.3 166.4h0M128.0 165.9h0M102.7 138.4h0M105.3 140.9h0M102.1 140.6h0M103.6 139.0h0M89.1 150.6h0M88.7 147.1h0M89.8 148.4h0M89.2 148.5h0M119.5 136.3h0M117.6 136.4h0M119.8 137.0h0M119.1 138.8h0M106.5 129.6h0M107.6 132.0h0M106.4 130.8h0M106.2 131.5h0M136.6 148.2h0M134.6 148.8h0M137.6 151.6h0M137.5 149.8h0M106.4 143.5h0M105.1 144.2h0M106.9 145.4h0M103.6 146.9h0M114.7 166.6h0M112.9 164.6h0M112.3 161.8h0M113.7 164.3h0M121.9 127.2h0M121.2 124.7h0M124.0 125.2h0M123.4 125.2h0M110.2 137.0h0M108.1 134.8h0M110.6 136.9h0M110.6 137.6h0M134.8 124.3h0M135.4 124.8h0M134.0 124.3h0M134.6 124.6h0M131.4 142.3h0M129.4 142.9h0M131.1 142.5h0M133.7 142.6h0M119.7 128.1h0M121.8 132.0h0M122.5 130.9h0M123.0 128.7h0M119.1 132.9h0M117.7 132.6h0M119.7 131.7h0M120.8 133.3h0M117.1 130.6h0M115.5 130.3h0M114.9 129.1h0M112.5 131.0h0M127.6 139.1h0M128.1 139.5h0M126.3 138.2h0M126.1 141.0h0M127.8 141.4h0M125.8 141.6h0M126.9 142.8h0M124.7 140.1h0M93.0 133.3h0M95.6 134.1h0M97.4 131.6h0M96.3 134.3h0M141.0 142.2h0M141.6 143.4h0M142.8 142.6h0M142.8 142.9h0M88.9 157.3h0M90.5 157.5h0M88.6 157.3h0M89.4 157.8h0M116.3 154.6h0M116.6 153.7h0M114.8 152.7h0M116.2 151.9h0M87.4 156.3h0M86.6 157.9h0M84.8 157.2h0M86.3 157.4h0M94.1 149.1h0M94.3 147.4h0M92.9 148.1h0M95.3 149.0h0M147.8 156.1h0M145.4 155.8h0M147.3 154.1h0M147.3 156.6h0M99.7 145.7h0M95.4 147.1h0M98.1 147.6h0M99.6 145.7h0M128.3 121.9h0M125.9 124.2h0M127.8 122.0h0M126.9 122.1h0M87.3 150.4h0M90.3 151.0h0M88.2 152.4h0M88.2 151.1h0M95.8 169.0h0M95.5 169.5h0M95.1 168.5h0M95.1 168.8h0M125.0 154.4h0M125.0 155.9h0M124.5 155.3h0M126.2 153.8h0M125.3 143.9h0M124.9 144.8h0M123.3 142.7h0M123.3 144.1h0M102.6 146.1h0M100.5 148.6h0M100.9 145.0h0M104.0 146.7h0M143.5 158.6h0M141.3 157.5h0M143.1 157.9h0M142.9 156.2h0M108.3 169.3h0M108.7 172.0h0M107.0 173.3h0M108.1 170.5h0M114.8 138.4h0M115.3 135.7h0M114.9 137.7h0M113.5 136.5h0M130.2 154.4h0M130.4 156.5h0M130.0 153.8h0M130.3 154.8h0M130.1 142.2h0M127.8 140.4h0M130.2 142.2h0M128.9 141.3h0M85.1 152.8h0M84.2 151.3h0M88.5 150.1h0M87.1 151.2h0M110.3 125.5h0M110.9 127.8h0M110.4 124.3h0M111.2 125.8h0M132.4 155.6h0M133.7 155.7h0M134.0 158.3h0M132.0 158.5h0M85.7 162.2h0M83.9 161.5h0M82.9 160.7h0M82.5 161.6h0M95.2 135.9h0M92.4 136.9h0M93.7 135.9h0M93.4 136.9h0M127.0 143.4h0M126.4 145.4h0M125.4 144.7h0M128.6 145.1h0M136.4 158.4h0M135.2 157.9h0M137.0 159.1h0M140.2 157.7h0M133.1 129.4h0M135.5 128.9h0M136.2 125.0h0M133.7 126.6h0M118.6 167.6h0M118.4 168.5h0M119.6 170.4h0M118.4 166.7h0M111.1 166.1h0M111.0 166.0h0M112.5 163.1h0M109.8 163.9h0M116.3 125.4h0M114.6 126.5h0M117.7 126.2h0M118.1 126.1h0M139.5 135.1h0M139.8 133.5h0M137.2 130.6h0M138.0 132.5h0M125.3 131.1h0M129.3 129.8h0M127.8 127.2h0M129.4 129.2h0M113.5 162.9h0M114.0 164.4h0M112.4 162.6h0M114.2 165.4h0M116.5 158.0h0M114.6 156.5h0M115.7 159.2h0M117.2 158.0h0M131.4 157.2h0M130.7 156.4h0M130.9 156.7h0M132.8 155.3h0M95.9 134.9h0M96.5 134.4h0M95.3 135.8h0M94.8 135.6h0M130.1 157.2h0M128.3 156.9h0M127.8 156.6h0M128.6 157.0h0M92.5 167.7h0M92.9 168.2h0M92.6 169.3h0M93.9 170.4h0M150.8 148.5h0M150.2 150.6h0M150.8 149.5h0M151.3 150.5h0M86.7 162.5h0M85.6 163.4h0M86.5 163.6h0M84.4 164.1h0M102.5 158.3h0M98.7 156.5h0M98.4 158.0h0M99.7 158.2h0M99.9 156.5h0M101.5 154.3h0M101.0 155.0h0M99.9 154.1h0M102.0 145.2h0M101.8 144.3h0M101.3 144.8h0M103.1 142.9h0M102.8 160.6h0M102.5 160.8h0M102.7 158.8h0M101.3 159.5h0M104.7 162.7h0M103.7 163.1h0M104.4 163.5h0M106.1 161.4h0M112.4 153.8h0M109.9 151.5h0M110.9 151.1h0M112.0 152.6h0M134.3 133.8h0M133.3 137.0h0M135.2 135.4h0M132.9 134.2h0M112.7 163.3h0M111.3 165.7h0M112.7 164.5h0M112.0 163.4h0M88.9 163.3h0M88.8 163.9h0M88.7 163.3h0M89.0 165.1h0M154.3 155.8h0M153.2 156.6h0M152.2 154.1h0M151.7 155.2h0M104.5 164.5h0M106.2 163.1h0M108.0 164.4h0M106.9 165.4h0M132.7 139.7h0M136.9 139.1h0M133.5 139.7h0M134.5 137.8h0M91.3 142.5h0M90.3 141.2h0M91.4 140.8h0M92.0 142.7h0M144.3 147.7h0M145.0 149.6h0M143.5 148.0h0M145.4 149.6h0M115.3 130.5h0M111.5 131.1h0M115.6 131.1h0M113.5 131.9h0M109.8 167.1h0M109.9 169.3h0M109.2 169.8h0M108.6 166.7h0M124.3 135.3h0M125.6 134.7h0M124.3 136.1h0M125.5 135.5h0M106.3 134.8h0M106.2 136.3h0M106.6 136.0h0M106.6 135.1h0M97.1 159.1h0M95.1 161.8h0M96.6 161.6h0M96.0 159.5h0M138.6 124.6h0M138.2 127.2h0M135.0 123.4h0M137.9 125.3h0M142.1 152.1h0M142.2 152.2h0M141.3 152.3h0M141.3 150.0h0M103.3 147.2h0M102.9 147.6h0M102.5 149.4h0M101.7 149.3h0M101.2 137.6h0M104.4 137.8h0M104.8 136.3h0M104.1 137.9h0M142.8 146.2h0M146.1 142.9h0M145.7 145.4h0M143.6 146.9h0M106.9 167.1h0M106.8 167.3h0M108.8 167.1h0M104.1 169.2h0M89.8 148.9h0M90.0 149.7h0M88.7 150.7h0M89.4 150.2h0M99.3 151.5h0M96.2 148.1h0M97.5 149.1h0M95.8 149.2h0M136.3 163.8h0M134.5 159.5h0M134.0 159.7h0M137.1 159.7h0M89.2 143.3h0M92.4 140.4h0M88.8 139.2h0M90.1 144.7h0M106.7 139.7h0M106.4 139.3h0M107.0 138.1h0M108.3 139.7h0M97.6 136.0h0M98.7 136.1h0M95.3 139.2h0M97.2 137.4h0M123.3 137.5h0M125.6 137.0h0M123.9 135.5h0M122.4 134.9h0M126.7 140.9h0M126.8 141.1h0M127.5 141.2h0M126.2 142.5h0M106.2 145.7h0M104.2 143.8h0M105.2 143.5h0M107.1 142.7h0M115.2 140.1h0M117.1 141.1h0M115.5 141.2h0M114.1 141.7h0M113.1 152.1h0M113.2 152.2h0M116.6 152.6h0M112.5 152.7h0M138.9 137.5h0M137.1 138.8h0M138.8 138.8h0M135.8 138.2h0M132.3 143.2h0M133.0 144.2h0M132.2 143.3h0M132.5 143.8h0M138.9 143.0h0M141.0 145.0h0M140.5 141.9h0M142.0 142.9h0M85.6 147.0h0M86.1 147.2h0M85.3 147.0h0M85.3 149.2h0M107.4 132.7h0M107.1 132.2h0M109.4 134.4h0M108.0 136.7h0M125.5 151.9h0M123.4 148.8h0M124.3 151.2h0M125.1 150.6h0M90.9 139.9h0M91.1 139.4h0M90.9 138.3h0M92.2 138.6h0M120.8 156.5h0M118.8 156.8h0M120.9 157.6h0M117.8 157.0h0M88.4 149.5h0M87.9 146.8h0M88.4 150.5h0M90.1 149.1h0M93.4 154.2h0M92.4 153.6h0M91.0 152.7h0M92.8 154.7h0M137.5 138.7h0M138.6 139.1h0M134.7 138.9h0M137.8 138.8h0M134.9 133.9h0M131.8 135.3h0M133.5 137.4h0M137.5 137.4h0M108.2 164.5h0M110.2 164.3h0M107.5 165.0h0M110.4 162.7h0M93.9 134.9h0M92.0 135.6h0M93.2 135.2h0M94.8 133.4h0M130.1 141.3h0M130.7 141.6h0M131.7 142.3h0M128.9 141.4h0M140.5 144.1h0M140.6 143.5h0M141.6 143.7h0M142.3 146.4h0M141.3 141.5h0M143.5 141.4h0M143.3 141.1h0M143.9 137.9h0M87.9 161.3h0M85.5 161.2h0M88.1 162.1h0M86.9 159.4h0M147.9 143.3h0M146.1 142.3h0M146.5 141.6h0M147.5 141.7h0M108.0 164.9h0M108.5 167.9h0M108.8 165.3h0M107.4 166.9h0M117.0 164.5h0M116.9 164.3h0M117.9 165.0h0M116.1 163.2h0M103.8 150.4h0M101.7 150.2h0M102.4 150.2h0M102.2 151.7h0M145.2 136.2h0M142.0 137.5h0M145.8 135.9h0M142.3 136.4h0M90.9 135.7h0M91.0 136.3h0M93.0 133.0h0M92.7 132.9h0M126.8 161.1h0M127.9 164.1h0M127.3 162.3h0M126.5 162.8h0M117.1 145.8h0M117.9 145.4h0M115.8 146.3h0M115.6 146.2h0M113.8 167.5h0M116.5 170.9h0M114.1 168.2h0M111.4 171.9h0M150.6 153.4h0M152.3 152.0h0M150.7 150.5h0M152.1 149.9h0M142.7 155.2h0M144.0 155.1h0M143.3 156.4h0M145.4 156.6h0M107.0 170.5h0M108.0 172.2h0M106.8 171.6h0M107.4 168.3h0M91.1 151.1h0M92.3 151.1h0M92.2 149.8h0M95.6 152.4h0M129.9 133.1h0M131.7 133.1h0M132.2 133.3h0M133.4 133.8h0M132.3 143.9h0M131.7 141.9h0M129.9 144.1h0M129.3 143.4h0M129.7 151.6h0M128.2 152.7h0M128.7 152.2h0M128.8 154.1h0M132.9 156.7h0M134.7 158.6h0M134.7 157.8h0M133.7 157.2h0M131.2 160.4h0M131.1 159.7h0M131.6 157.4h0M132.0 159.2h0M147.1 151.6h0M145.2 153.7h0M148.4 152.3h0M147.8 152.2h0M114.9 156.8h0M119.1 157.4h0M113.9 157.5h0M115.5 159.5h0M92.6 138.9h0M94.1 140.3h0M93.5 140.2h0M92.4 139.1h0M124.3 149.5h0M126.7 149.2h0M124.1 151.3h0M125.4 147.6h0M121.2 166.6h0M120.8 165.1h0M121.0 164.8h0M121.8 161.5h0M120.5 166.4h0M120.6 163.1h0M119.5 164.1h0M119.1 164.5h0M116.3 134.7h0M117.1 133.4h0M117.8 133.2h0M115.9 132.0h0M95.4 155.3h0M94.8 155.7h0M94.5 153.2h0M92.6 153.4h0M107.1 164.9h0M107.9 164.3h0M106.2 164.1h0M108.4 163.9h0M97.4 157.0h0M97.8 158.0h0M95.3 156.5h0M98.3 158.6h0M109.7 126.1h0M112.8 127.0h0M113.1 126.8h0M112.7 127.0h0M131.5 161.5h0M131.3 162.3h0M130.8 162.0h0M132.7 163.4h0M126.2 142.3h0M125.0 144.5h0M125.5 144.4h0M125.1 144.8h0M106.2 124.0h0M106.3 124.2h0M106.1 124.7h0M106.4 125.6h0M107.4 172.0h0M106.8 170.5h0M105.4 171.4h0M108.6 170.1h0M135.8 149.7h0M134.6 148.1h0M134.1 149.3h0M135.6 149.6h0M105.5 162.4h0M104.8 160.9h0M104.7 160.3h0M104.3 162.5h0M114.3 134.1h0M113.8 136.1h0M113.8 137.6h0M115.5 136.9h0M136.1 148.3h0M136.9 149.2h0M136.7 147.6h0M135.7 147.8h0M98.8 143.3h0M98.1 143.1h0M98.7 143.7h0M98.9 143.8h0M151.7 152.8h0M151.6 156.1h0M151.5 156.7h0M150.7 153.5h0M98.0 142.4h0M97.2 142.9h0M99.8 141.5h0M100.1 142.3h0M93.6 131.6h0M91.5 132.1h0M92.0 132.9h0M94.1 130.9h0M138.8 161.0h0M135.9 160.8h0M136.2 161.2h0M137.2 160.7h0M122.5 150.0h0M123.3 148.9h0M121.9 146.4h0M122.7 146.4h0M95.6 156.0h0M95.0 157.5h0M95.6 155.1h0M95.9 156.4h0M122.6 129.8h0M123.6 128.9h0M126.0 128.3h0M124.8 126.6h0M85.9 156.2h0M87.3 158.2h0M86.9 157.3h0M86.6 156.6h0M140.5 152.5h0M141.2 152.8h0M140.4 153.6h0M139.6 149.7h0M143.0 153.1h0M140.7 149.8h0M141.0 149.7h0M140.7 151.1h0M135.5 159.2h0M134.8 161.4h0M135.8 160.4h0M135.8 159.1h0M89.2 139.4h0M90.9 137.5h0M89.9 139.5h0M90.7 139.0h0M92.8 154.5h0M93.3 155.2h0M91.4 154.7h0M92.8 154.9h0M97.7 152.0h0M97.8 150.4h0M98.4 151.1h0M100.1 152.1h0M111.0 153.7h0M109.5 156.6h0M108.2 153.0h0M110.7 155.5h0M124.6 163.8h0M123.6 166.3h0M122.8 162.9h0M123.6 165.0h0M123.6 148.8h0M123.2 149.4h0M122.4 147.6h0M122.1 147.4h0M107.7 149.9h0M106.5 145.4h0M109.7 148.2h0M109.0 147.6h0M109.7 164.9h0M108.2 164.3h0M106.9 162.5h0M107.3 163.6h0M114.0 151.9h0M113.8 154.3h0M110.9 152.3h0M112.4 152.3h0M101.2 150.8h0M100.0 153.6h0M99.6 152.0h0M101.6 153.9h0M102.2 137.7h0M103.1 136.7h0M101.7 136.6h0M104.3 137.1h0M103.5 156.9h0M104.5 157.5h0M104.2 159.8h0M105.5 157.2h0M129.9 159.7h0M128.8 156.5h0M128.5 157.9h0M131.1 158.4h0M132.0 133.6h0M135.8 132.1h0M134.2 131.9h0M133.4 133.4h0M123.6 135.6h0M122.0 136.8h0M122.6 137.3h0M124.7 137.2h0M120.2 128.9h0M122.6 129.0h0M123.7 129.6h0M126.2 127.4h0M141.5 147.3h0M139.2 147.7h0M141.5 148.3h0M141.6 145.3h0M114.4 167.0h0M112.2 166.3h0M109.4 166.3h0M114.0 166.8h0M86.8 165.6h0M91.2 166.9h0M87.9 165.9h0M87.9 169.3h0M107.4 167.3h0M106.6 170.2h0M106.7 167.0h0M107.4 168.8h0M108.4 157.9h0M107.5 157.1h0M105.9 158.6h0M107.9 156.4h0M136.9 128.8h0M138.7 127.0h0M136.1 126.1h0M141.2 128.2h0M137.0 145.6h0M138.9 144.3h0M137.4 145.5h0M137.9 142.9h0M130.0 130.6h0M130.8 129.0h0M129.0 128.5h0M132.6 128.2h0M134.4 134.8h0M133.2 134.1h0M133.6 133.2h0M131.0 136.2h0M91.6 166.8h0M92.4 167.4h0M89.3 165.7h0M89.6 168.8h0M92.4 154.6h0M91.1 154.1h0M96.6 154.9h0M94.4 152.3h0M116.4 164.1h0M114.8 164.7h0M115.8 165.1h0M115.0 164.6h0M149.7 145.7h0M150.1 145.4h0M149.2 145.1h0M150.8 148.0h0M147.0 159.4h0M147.2 157.0h0M148.5 158.5h0M147.2 159.4h0M123.7 149.5h0M125.9 150.5h0M123.4 149.0h0M124.6 150.6h0M139.3 143.1h0M141.1 138.8h0M139.9 140.8h0M140.3 142.6h0M136.3 134.7h0M134.8 132.3h0M135.0 131.0h0M136.4 130.9h0M94.4 152.3h0M94.3 153.6h0M94.6 152.6h0M96.2 155.3h0M119.3 145.8h0M121.0 150.0h0M122.3 146.7h0M120.3 147.5h0M122.2 132.8h0M122.8 133.6h0M123.2 131.7h0M123.3 133.4h0M105.4 166.4h0M106.1 167.1h0M106.0 165.4h0M104.5 165.2h0M112.0 174.0h0M135.8 120.7h0M79.6 165.5h0M80.7 144.2h0M107.7 175.1h0M155.4 145.0h0M136.4 162.7h0M121.0 173.0h0M115.4 170.9h0M146.9 138.5h0M95.6 125.7h0M102.0 173.5h0M80.4 152.8h0M89.1 171.2h0M138.9 160.8h0M79.0 159.4h0M91.3 170.2h0M137.7 119.3h0M128.6 118.0h0M118.9 122.3h0M89.4 135.5h0M80.5 160.9h0M101.7 125.2h0M112.0 174.2h0M83.8 150.2h0M122.5 118.1h0M93.6 174.8h0M151.1 159.8h0M98.1 123.2h0M157.4 145.6h0M147.5 161.1h0M140.8 127.0h0M92.8 127.6h0M99.2 127.1h0M134.5 163.6h0M97.8 174.1h0M85.3 136.6h0M154.0 141.6h0M82.3 169.1h0M93.3 173.8h0M103.5 124.0h0M158.8 156.3h0M80.4 165.0h0M95.1 124.3h0M109.8 123.0h0M78.8 152.6h0M124.3 170.6h0M91.8 130.3h0M93.1 130.4h0M84.4 142.9h0M142.8 133.5h0M82.7 152.7h0M154.9 143.4h0M83.3 170.6h0M141.6 159.8h0M157.3 153.9h0M157.7 158.4h0M135.2 164.3h0M97.4 128.0h0M94.5 174.0h0M91.8 130.4h0M81.7 142.4h0M89.3 129.6h0M88.1 130.9h0M158.1 149.7h0M118.7 173.6h0M139.2 163.8h0M88.5 168.3h0"/>
<path stroke="#6c6ee6" stroke-width="1.35" stroke-linecap="square" fill="none" d="M149.2 121.1h0M130.7 148.1h0M159.8 136.5h0M157.1 131.6h0M156.6 149.6h0M149.6 130.3h0M133.0 128.4h0M135.5 143.9h0M146.2 140.3h0M138.6 123.9h0M152.8 123.5h0M147.9 139.9h0M152.3 125.5h0M138.1 138.8h0M145.3 122.0h0M135.5 144.1h0M135.4 148.5h0M134.7 134.2h0M141.0 132.6h0M140.8 134.7h0M152.7 126.3h0M136.5 120.8h0M156.8 123.7h0M159.6 149.0h0M142.5 126.5h0"/>
<path stroke="#e046aa" stroke-width="1.35" stroke-linecap="square" fill="none" d="M140.4 132.4h0M149.7 123.2h0M141.0 121.9h0M138.0 119.0h0M152.2 118.0h0M136.1 130.6h0M158.2 120.5h0M151.7 132.4h0M136.4 124.4h0M152.2 131.5h0M155.2 122.9h0M159.7 123.8h0M146.5 126.0h0M156.9 118.1h0M149.5 128.6h0"/>
<path stroke="#5cb864" stroke-width="1.35" stroke-linecap="square" fill="none" d="M105.3 88.9h0M109.4 92.2h0M96.4 95.6h0M106.3 85.3h0M100.0 87.7h0M107.5 87.4h0M99.3 88.6h0M103.1 91.0h0M98.6 91.2h0M98.1 95.4h0"/>
<path stroke="#84e6cc" stroke-width="1.35" stroke-linecap="square" fill="none" d="M110.8 54.5h0M110.4 49.8h0M104.2 43.9h0M106.0 45.5h0M106.7 49.8h0M103.9 40.7h0"/>
<text x="90.0" y="37.8" font-size="12" text-anchor="middle" font-weight="normal" fill="#1e1a1a" >6</text>
<text x="64.8" y="60.2" font-size="12" text-anchor="middle" font-weight="normal" fill="#1e1a1a" >3</text>
<text x="49.7" y="85.8" font-size="12" text-anchor="middle" font-weight="normal" fill="#1e1a1a" >1</text>
<text x="136.0" y="47.2" font-size="12" text-anchor="middle" font-weight="normal" fill="#1e1a1a" >4</text>
<text x="190.7" y="60.6" font-size="12" text-anchor="middle" font-weight="normal" fill="#1e1a1a" >9</text>
<text x="122.6" y="75.7" font-size="12" text-anchor="middle" font-weight="normal" fill="#1e1a1a" >10</text>
<text x="143.4" y="76.2" font-size="12" text-anchor="middle" font-weight="normal" fill="#1e1a1a" >8</text>
<text x="122.6" y="92.2" font-size="12" text-anchor="middle" font-weight="normal" fill="#1e1a1a" >11</text>
<text x="83.0" y="110.2" font-size="12" text-anchor="middle" font-weight="normal" fill="#1e1a1a" >5</text>
<text x="115.0" y="116.2" font-size="12" text-anchor="middle" font-weight="normal" fill="#1e1a1a" >7</text>
<text x="172.0" y="109.2" font-size="12" text-anchor="middle" font-weight="normal" fill="#1e1a1a" >2</text>
<text x="116.0" y="152.2" font-size="12" text-anchor="middle" font-weight="normal" fill="#1e1a1a" >0</text>
<path d="M22.6 184.2 V136.2 M22.6 184.2 H71.6" stroke="#222" stroke-width="1.35" fill="none"/>
<path d="M19.6 138.2 L22.6 132.2 L25.6 138.2z M69.6 181.2 L75.1 184.2 L69.6 187.2z" fill="#222"/>
<path d="M220.8 184.2 V136.2 M220.8 184.2 H269.8" stroke="#222" stroke-width="1.35" fill="none"/>
<path d="M217.8 138.2 L220.8 132.2 L223.8 138.2z M267.8 181.2 L273.3 184.2 L267.8 187.2z" fill="#222"/>
<text x="14.3" y="165.8" font-size="11.5" text-anchor="middle" font-weight="bold" fill="#1e1a1a" transform="rotate(-90 14.3 165.8)">t−SNE2</text>
<text x="43.0" y="200.7" font-size="11.3" text-anchor="middle" font-weight="bold" fill="#1e1a1a" >t−SNE1</text>
<text x="212.5" y="165.8" font-size="11.5" text-anchor="middle" font-weight="bold" fill="#1e1a1a" transform="rotate(-90 212.5 165.8)">t−SNE2</text>
<text x="241.0" y="200.7" font-size="11.3" text-anchor="middle" font-weight="bold" fill="#1e1a1a" >t−SNE1</text>
<text x="270.7" y="25.8" font-size="15" text-anchor="middle" font-weight="normal" fill="#1e1a1a" >SCC</text>
<text x="388.4" y="25.8" font-size="15" text-anchor="middle" font-weight="normal" fill="#1e1a1a" >ACC</text>
<text x="268.5" y="98.2" font-size="15" text-anchor="middle" font-weight="normal" fill="#1e1a1a" >IMT</text>
<text x="388.7" y="98.3" font-size="15" text-anchor="middle" font-weight="normal" fill="#1e1a1a" >Normal</text>
<path stroke="#80b8dc" stroke-width="1.35" stroke-linecap="square" fill="none" d="M240.1 58.5h0M237.1 51.2h0M252.6 67.3h0M252.8 67.8h0M243.9 64.6h0M236.6 66.8h0M231.6 60.1h0M249.9 67.3h0M247.3 71.6h0M248.9 75.9h0M230.8 59.4h0M238.6 59.5h0M246.9 58.7h0M262.8 63.1h0M229.9 62.1h0M241.1 65.5h0M255.6 67.5h0M244.2 62.1h0M230.4 61.7h0M238.4 58.7h0M259.0 62.8h0M250.4 68.2h0M242.5 47.8h0M249.8 67.1h0M230.8 54.3h0M236.7 55.7h0M259.3 60.4h0M240.8 72.1h0M257.4 64.4h0M252.9 60.9h0M246.3 61.0h0M245.1 63.2h0M239.5 68.9h0M238.2 60.9h0M240.7 62.2h0M232.8 67.6h0M243.6 68.2h0M265.4 67.2h0M239.5 58.8h0M255.1 61.4h0M231.6 65.2h0M243.1 47.0h0M237.1 59.9h0M232.0 59.1h0M237.6 55.0h0M252.3 68.9h0M262.9 61.5h0M255.9 60.8h0M262.9 59.1h0M241.1 65.1h0M236.7 63.3h0M263.3 58.4h0M226.0 60.9h0M244.5 45.7h0M258.9 62.1h0M235.7 66.3h0M233.2 67.2h0M243.9 62.9h0M248.3 72.7h0M234.5 56.6h0M242.5 69.3h0M234.1 54.0h0M238.7 70.1h0M244.4 56.3h0M257.3 63.5h0M228.2 60.1h0M229.7 56.5h0M240.5 71.3h0M253.2 69.0h0M253.1 70.6h0M231.6 63.0h0M237.6 56.2h0M263.3 64.9h0M242.6 56.4h0M245.0 46.3h0M259.8 64.7h0M262.5 62.0h0M252.7 66.8h0M229.9 65.1h0M244.8 63.3h0M244.4 56.7h0M233.6 60.4h0M249.4 71.6h0M241.8 59.1h0M234.0 57.7h0M261.0 59.2h0M242.2 70.1h0M248.9 61.6h0M238.0 67.5h0M238.2 53.1h0M262.1 63.4h0M262.6 64.4h0M255.0 63.4h0M233.1 62.0h0M242.5 51.6h0M250.9 61.3h0M228.3 57.1h0M242.5 45.8h0M231.8 63.1h0M266.4 65.9h0M257.6 58.8h0M231.7 57.0h0M260.9 63.4h0M246.6 65.4h0M239.1 67.3h0M227.0 64.0h0M230.1 59.4h0M245.5 68.9h0M235.3 58.9h0M263.9 62.6h0M237.3 59.5h0M242.8 64.1h0M229.3 66.6h0M231.3 62.3h0M232.5 54.1h0M255.1 61.4h0M248.6 70.0h0M245.7 67.0h0M253.3 69.4h0M236.1 51.9h0M229.8 56.1h0M248.6 73.9h0M247.2 72.2h0M231.3 63.9h0M234.3 61.9h0M233.8 54.0h0M245.0 68.4h0M261.3 57.9h0M243.3 50.6h0M238.5 49.7h0M248.0 71.0h0M231.9 61.9h0M229.8 64.1h0M246.0 61.8h0M247.4 67.0h0M236.9 54.0h0M271.4 66.6h0M239.5 53.7h0M241.3 58.0h0M240.2 70.2h0M236.3 69.4h0M243.7 68.9h0M263.3 62.3h0M265.0 62.4h0M254.1 66.1h0M258.5 60.4h0M238.3 61.0h0M244.1 57.3h0M236.3 58.6h0M232.4 58.8h0M233.1 62.9h0M237.2 57.6h0M232.0 58.2h0M262.1 60.9h0M253.3 73.9h0M239.8 50.3h0M256.5 62.4h0M225.9 62.9h0M251.4 60.1h0M249.7 68.4h0M241.6 70.3h0M254.2 69.9h0M240.6 54.6h0M234.1 58.4h0M226.5 59.2h0M248.0 65.8h0M227.6 61.2h0M234.4 50.3h0M241.8 53.1h0M245.4 66.4h0M235.7 61.7h0M241.9 67.8h0M261.4 62.5h0M268.3 66.3h0M242.8 70.1h0M258.6 62.5h0M244.3 61.4h0M259.3 60.3h0M238.2 55.3h0M253.5 71.6h0M242.8 49.0h0M267.1 63.1h0M256.0 68.3h0M245.7 70.0h0M238.9 63.9h0M239.0 52.1h0M258.6 64.9h0M232.6 59.2h0M262.2 60.5h0M258.9 68.7h0M244.6 72.6h0M239.6 71.7h0M235.4 59.9h0M257.4 63.9h0M241.4 52.6h0M250.6 60.4h0M237.7 59.4h0M236.2 62.5h0M234.0 53.8h0M241.3 60.0h0M260.0 66.2h0M257.5 67.7h0M252.5 70.5h0M255.6 60.2h0M242.7 46.9h0M238.9 50.0h0M262.3 63.6h0M259.2 59.1h0M256.1 58.3h0M232.0 62.8h0M251.1 63.1h0M262.3 55.5h0M236.8 63.3h0M235.2 64.6h0M242.2 68.5h0M260.6 59.2h0M254.6 61.6h0M233.0 56.6h0M240.6 51.9h0M228.7 63.7h0M244.1 62.6h0M238.2 61.0h0M246.8 65.7h0M258.8 64.0h0M260.7 66.6h0M252.4 72.8h0M253.2 60.3h0M268.9 65.3h0M226.0 56.7h0M245.9 49.8h0M242.6 58.3h0M255.7 67.4h0M258.5 60.2h0M228.7 60.4h0M247.7 70.0h0M237.7 69.0h0M239.8 56.4h0M239.3 57.1h0M247.6 64.7h0M248.1 67.7h0M230.9 66.2h0M237.2 62.5h0M249.0 69.8h0M242.5 48.1h0M243.6 56.5h0M235.2 60.7h0M263.9 62.5h0M237.7 67.4h0M239.5 54.3h0M252.4 69.5h0M254.9 61.5h0M232.5 54.0h0M258.4 61.4h0M240.8 59.2h0M253.6 60.0h0M235.5 61.0h0M242.3 70.0h0M265.0 64.7h0M254.2 71.3h0M242.2 52.0h0M237.1 68.7h0M259.1 65.9h0M246.7 70.8h0M229.3 55.2h0M237.5 68.4h0M255.7 63.6h0M242.7 62.8h0M236.7 55.0h0M244.4 66.0h0M238.5 57.3h0M231.1 65.5h0M238.2 50.7h0M236.7 51.6h0M239.7 48.1h0M243.0 62.2h0M237.2 49.9h0M235.5 53.7h0M237.1 61.9h0M268.8 65.7h0M233.6 65.9h0M243.6 63.7h0M260.1 64.7h0M250.8 70.0h0M244.9 64.2h0M233.5 65.5h0M251.7 63.5h0M250.4 66.9h0M238.1 51.0h0M235.6 56.0h0M259.5 65.1h0M261.0 58.2h0M239.1 47.3h0M249.2 72.8h0M232.3 59.3h0M245.8 68.8h0M239.4 57.9h0M244.0 65.5h0M265.1 68.2h0M243.0 70.9h0M239.0 48.2h0M233.5 57.9h0M243.1 67.5h0M248.9 60.5h0M258.8 59.4h0M267.1 65.0h0M238.4 62.8h0M255.8 61.0h0M244.5 70.2h0M250.2 67.5h0M245.1 68.1h0M260.8 66.4h0M256.5 66.8h0M238.5 64.1h0M239.5 59.5h0M257.2 65.4h0M235.6 52.2h0M256.7 67.3h0M260.2 66.5h0M237.6 48.8h0M261.0 61.9h0M257.5 65.1h0M238.4 61.2h0M259.0 62.1h0M250.1 66.1h0M235.0 70.5h0M242.9 61.3h0M251.2 67.2h0M240.1 67.9h0M234.4 60.0h0M238.1 50.8h0M263.7 60.8h0M256.4 65.5h0M258.9 61.2h0M239.3 61.8h0M238.1 49.4h0M235.5 65.6h0M249.7 71.0h0M257.9 59.1h0M232.3 53.4h0M256.6 68.9h0M263.1 64.5h0M235.3 67.1h0M265.8 61.8h0M236.1 51.4h0M256.3 72.4h0M224.2 60.7h0M231.7 58.3h0M262.8 65.5h0M231.7 62.0h0M236.4 60.5h0M245.0 62.5h0M235.0 59.5h0M234.9 51.6h0M248.0 67.4h0M233.9 58.4h0M242.8 61.6h0M254.5 63.9h0M254.3 66.0h0M237.3 61.0h0M242.9 49.5h0M227.6 57.6h0M255.2 66.8h0M245.4 64.6h0M236.9 56.2h0M243.8 71.4h0M252.7 63.9h0M239.0 62.0h0M260.8 65.1h0M250.3 62.3h0M249.4 61.0h0M264.7 59.6h0M239.4 68.4h0M238.3 67.2h0M256.7 66.1h0M237.7 57.4h0M237.5 48.7h0M264.4 58.1h0M249.4 66.0h0M252.5 73.3h0M264.9 68.5h0M238.3 68.3h0M243.8 62.1h0M251.8 67.3h0M252.6 65.5h0M240.8 66.3h0M229.5 65.3h0M231.6 57.4h0M247.9 65.1h0M236.1 58.3h0M233.0 57.9h0M238.7 63.0h0M237.2 57.2h0M259.8 65.1h0M253.6 61.7h0M241.4 51.8h0M227.4 57.3h0M244.7 48.3h0M234.7 68.6h0M251.2 65.9h0M248.9 74.5h0M266.8 65.2h0M230.1 57.1h0M241.1 71.2h0M243.5 48.0h0M237.7 51.6h0M254.5 61.1h0M250.7 60.1h0M257.5 61.0h0M240.2 64.8h0M252.9 70.8h0M246.3 61.2h0M244.8 64.7h0M240.3 54.6h0M236.4 59.9h0M245.0 47.9h0M237.0 48.3h0M233.8 60.6h0M264.4 57.3h0M228.6 55.8h0M267.5 65.4h0M231.2 58.8h0M241.1 51.3h0M253.7 69.3h0M240.5 64.0h0M232.7 53.7h0M234.6 58.8h0M243.6 67.1h0M248.9 63.2h0M254.4 59.0h0M233.3 65.9h0M228.1 53.9h0M240.7 69.6h0M232.9 61.6h0M231.1 61.8h0M240.3 60.4h0M233.0 56.7h0M237.7 52.4h0M232.5 60.0h0M238.8 58.1h0M232.1 55.8h0M237.1 59.1h0M237.0 53.2h0M243.1 48.9h0M228.8 54.6h0M233.4 54.3h0M252.8 68.9h0M230.5 58.1h0M241.7 49.1h0M230.6 58.5h0M228.2 57.8h0M261.0 66.2h0M230.5 56.6h0M261.3 62.0h0M243.6 69.3h0M249.9 70.0h0M249.6 69.1h0M233.4 59.0h0M227.2 63.0h0M232.9 69.2h0M238.7 57.5h0M252.5 63.4h0M257.2 68.4h0M244.1 60.5h0M235.7 59.2h0M247.0 68.6h0M262.6 67.0h0M227.7 61.0h0M259.1 64.0h0M246.8 71.7h0M265.6 61.6h0M227.3 59.1h0M254.8 71.0h0M240.7 47.8h0M264.0 62.9h0M241.5 57.0h0M249.7 67.1h0M240.8 60.7h0M228.1 63.8h0M265.1 63.4h0M233.9 65.4h0M241.2 60.2h0M242.8 63.1h0M234.1 51.5h0M241.9 68.4h0M244.3 48.1h0M247.7 62.8h0M241.3 60.2h0M253.2 70.2h0M235.9 52.0h0M263.9 67.4h0M247.6 65.2h0M247.8 65.8h0M228.8 56.5h0M243.8 71.2h0M259.7 64.4h0M262.8 66.4h0M254.6 71.1h0M226.7 57.9h0M232.3 53.2h0M238.6 68.7h0M224.9 60.1h0M227.9 61.3h0M240.4 55.7h0M230.4 64.4h0M254.9 63.1h0M262.8 58.3h0M231.4 55.9h0M236.6 59.2h0M255.1 66.4h0M236.0 52.9h0M233.2 51.9h0M252.0 71.3h0M235.5 61.0h0M264.6 61.8h0M230.7 55.9h0M262.6 62.2h0M251.4 75.0h0M265.0 66.7h0M241.5 69.7h0M235.3 56.2h0M250.8 60.2h0M262.9 59.2h0M259.9 65.5h0M235.5 67.6h0M265.6 59.2h0M229.7 58.8h0M237.3 55.0h0M223.9 62.7h0M259.9 69.6h0M224.3 57.8h0M224.5 61.4h0M239.7 72.6h0M249.2 75.1h0M237.6 47.1h0M258.3 69.4h0M225.0 61.7h0M245.5 44.9h0M245.3 45.0h0M240.0 45.6h0M232.7 48.3h0M245.3 74.5h0M270.0 66.0h0M231.0 49.8h0M262.1 56.1h0M224.2 58.3h0M224.8 54.2h0M235.6 47.8h0M221.1 57.4h0M255.5 74.5h0M223.2 56.1h0M236.3 46.2h0M223.2 60.5h0M269.5 61.3h0"/>
<path stroke="#d9a338" stroke-width="1.35" stroke-linecap="square" fill="none" d="M272.0 48.9h0M258.8 44.9h0M246.8 56.1h0M257.5 48.8h0M243.7 47.7h0M254.5 51.8h0M255.0 50.1h0M259.0 50.6h0M251.0 52.2h0M267.0 50.0h0M259.2 53.1h0M257.2 50.1h0M249.4 47.7h0M250.7 48.3h0M251.5 53.2h0M259.4 45.3h0M247.6 50.3h0M239.2 55.4h0M240.0 54.6h0M242.5 53.0h0M249.5 50.0h0M246.7 55.9h0M249.1 46.1h0M258.0 46.1h0M264.0 54.4h0M259.6 43.7h0M250.1 46.5h0M251.1 57.5h0M238.7 55.5h0M251.3 48.4h0M237.5 51.9h0M251.0 56.7h0M258.6 48.4h0M252.1 56.8h0M264.4 52.9h0M257.0 55.9h0M269.2 52.0h0M257.4 50.2h0M270.2 50.5h0M252.2 56.5h0M244.0 51.3h0M247.9 56.4h0M257.0 51.0h0M240.6 55.5h0M246.5 58.8h0M252.1 52.5h0M240.8 54.2h0M250.8 55.3h0M242.2 53.6h0M248.4 50.6h0M258.2 45.0h0M241.9 47.9h0M252.5 56.3h0M261.9 46.2h0M269.1 50.7h0M266.1 52.6h0M239.6 54.2h0M249.1 46.1h0M257.1 52.6h0M236.2 55.8h0M255.1 47.1h0M256.5 55.4h0M254.4 56.4h0M243.3 58.7h0M270.2 53.6h0M241.0 55.2h0M248.9 57.3h0M263.8 50.5h0M255.5 51.7h0M238.3 56.1h0M256.6 48.6h0M261.4 51.4h0M263.3 51.7h0M268.2 48.5h0M254.4 50.7h0M254.7 49.0h0M263.3 46.0h0M255.5 52.8h0M240.3 54.9h0M238.9 52.3h0M249.7 49.3h0M269.0 49.5h0M243.1 51.8h0M240.8 54.2h0M259.2 56.0h0M240.6 53.0h0M254.5 54.6h0M253.8 58.6h0M257.0 52.5h0M261.3 52.0h0M244.5 55.6h0M244.0 56.0h0M241.0 56.5h0M256.5 43.4h0M246.9 48.9h0M264.6 46.9h0M256.8 43.1h0M255.4 43.7h0M253.8 44.0h0M247.9 57.3h0M252.2 52.6h0M264.4 51.3h0M255.8 54.4h0M254.0 45.8h0M263.6 46.9h0M249.1 50.1h0M264.9 45.9h0M263.4 46.4h0M247.0 50.9h0M263.4 43.0h0M255.6 44.3h0M260.7 55.4h0M246.4 52.5h0M245.0 48.5h0M267.9 52.1h0M253.4 46.4h0M266.1 49.5h0M263.3 46.5h0M251.2 57.3h0M260.0 49.0h0M266.5 44.3h0M252.6 57.9h0M240.0 53.7h0M240.1 53.0h0M258.2 53.7h0M244.5 49.5h0M262.5 56.4h0M250.6 49.1h0M247.4 47.5h0M269.6 52.6h0M249.7 56.1h0M241.6 57.3h0M259.1 48.8h0M247.1 50.3h0M258.2 43.0h0M248.3 44.5h0M268.1 46.4h0M243.1 53.6h0M246.4 44.4h0M266.7 52.8h0M247.6 59.1h0M275.7 49.7h0M273.3 49.3h0M237.0 50.9h0M256.9 42.6h0M246.8 60.0h0M275.5 52.2h0M274.0 53.1h0"/>
<path stroke="#c47ce2" stroke-width="1.35" stroke-linecap="square" fill="none" d="M263.0 38.4h0M258.9 43.0h0M262.3 44.3h0M255.2 44.1h0M262.0 40.2h0M262.0 39.1h0M256.9 38.5h0M255.6 42.4h0M257.9 39.6h0M258.2 38.6h0M260.0 41.8h0"/>
<path stroke="#c47ce2" stroke-width="1.35" stroke-linecap="square" fill="none" d="M268.5 37.7h0M268.2 45.1h0M267.5 36.6h0M270.0 43.2h0M267.4 39.9h0M268.9 45.5h0M269.4 46.5h0M266.8 37.7h0M270.4 39.3h0M269.3 43.8h0M265.4 42.8h0M265.2 38.1h0M267.9 45.0h0M265.9 41.8h0M265.5 38.1h0M268.6 35.9h0M268.2 45.1h0M266.4 44.0h0M264.5 39.0h0M270.4 39.7h0M266.8 39.6h0M269.6 39.6h0M267.9 43.4h0M267.6 41.4h0M268.3 39.9h0M267.5 37.8h0M272.9 40.7h0M267.6 43.9h0M269.6 37.5h0M267.1 41.4h0M269.9 40.8h0M269.8 40.1h0M270.5 41.1h0M271.7 42.4h0M272.7 42.7h0M266.2 45.0h0M268.3 44.1h0M267.6 39.0h0M272.2 47.9h0M273.3 43.3h0"/>
<path stroke="#84e6cc" stroke-width="1.35" stroke-linecap="square" fill="none" d="M294.9 47.2h0M283.4 42.2h0M286.0 46.8h0M290.6 45.8h0M293.7 44.5h0M291.5 41.4h0M290.5 51.8h0M283.8 43.5h0M289.3 43.8h0M293.4 50.9h0M295.5 38.1h0M294.4 48.5h0M289.5 49.8h0M283.6 46.6h0M287.3 46.4h0M294.3 44.1h0M287.3 49.9h0M282.0 47.2h0M286.6 49.9h0M296.4 49.7h0M292.4 49.9h0M291.4 49.6h0M288.4 49.6h0M295.9 40.9h0M292.6 38.3h0M291.6 47.2h0M290.4 45.8h0M283.8 47.1h0M288.8 50.1h0M288.6 46.5h0M292.0 44.3h0M296.4 48.7h0M294.4 48.3h0M284.9 48.4h0M292.4 45.5h0M293.0 47.1h0M289.7 43.9h0M298.5 47.5h0M284.1 44.3h0M297.7 48.2h0M289.7 46.7h0M286.5 48.9h0M282.7 40.2h0M297.9 40.5h0M287.2 47.7h0M282.4 46.2h0M290.6 41.0h0M281.7 42.8h0M287.2 40.4h0M292.3 40.9h0M292.6 47.2h0M297.8 44.4h0M282.8 45.1h0M294.1 47.6h0M286.1 39.6h0M295.5 41.2h0M297.7 43.5h0M291.0 42.7h0M291.2 52.5h0M293.6 44.4h0M286.0 50.9h0M300.8 45.8h0M294.8 38.7h0M282.9 46.3h0M285.3 50.6h0M286.2 51.9h0M294.5 44.0h0M298.2 41.3h0M284.1 43.7h0M296.6 42.4h0M298.5 43.6h0M283.0 45.4h0M293.4 39.2h0M289.2 50.9h0M297.2 45.4h0M297.7 45.4h0M292.3 51.4h0M294.4 48.5h0M284.0 42.2h0M297.4 46.1h0M288.7 47.6h0M292.3 40.7h0M286.2 49.7h0M298.3 42.4h0M292.3 44.0h0M290.7 41.0h0M295.4 40.9h0M298.6 50.1h0M282.4 42.2h0M289.0 50.1h0M291.2 39.2h0M284.3 45.5h0M293.7 51.9h0M287.3 42.5h0M290.8 48.6h0M293.1 49.7h0M286.6 40.1h0M287.1 41.7h0M288.1 44.1h0M289.9 41.7h0M284.5 46.6h0M285.1 51.1h0M286.0 46.5h0M295.8 45.4h0M286.2 42.8h0M288.7 44.9h0M299.4 45.8h0M287.7 41.9h0M294.5 42.8h0M290.4 47.5h0M289.9 46.7h0M294.9 52.7h0M290.7 41.4h0M294.9 44.0h0M296.1 47.1h0M297.0 42.6h0M294.6 43.8h0M289.9 44.6h0M294.6 38.6h0M285.6 46.9h0M300.2 44.4h0M295.4 45.2h0M284.2 46.7h0M291.6 44.8h0M283.7 45.0h0M293.2 46.2h0M298.1 48.3h0M293.7 38.5h0M292.1 39.0h0M289.4 50.1h0M285.4 42.9h0M291.1 42.5h0M286.7 45.7h0M286.3 39.8h0M295.2 47.8h0M291.1 45.8h0M298.2 44.6h0M299.0 43.2h0M297.6 40.2h0M287.8 38.5h0M289.8 44.0h0M288.1 42.7h0M297.6 48.4h0M287.0 47.6h0M292.4 46.2h0M283.4 45.6h0M296.8 42.0h0M296.3 43.4h0M287.9 41.0h0M286.9 45.1h0M291.6 46.4h0M298.5 48.7h0M299.0 43.9h0M298.6 45.1h0M298.7 48.2h0M292.5 39.2h0M296.1 49.6h0M294.5 44.6h0M282.1 45.6h0M297.9 48.5h0M289.3 48.3h0M285.8 50.6h0M287.0 43.9h0M286.3 40.6h0M288.7 51.7h0M284.6 49.2h0M299.1 48.4h0M288.9 38.9h0M295.5 45.4h0M295.2 47.7h0M299.1 50.2h0M289.1 49.5h0M298.4 50.7h0M284.5 47.1h0M284.5 51.7h0M289.9 40.9h0M282.5 44.9h0M288.9 48.3h0M283.6 44.5h0M285.9 47.8h0M279.3 46.9h0M285.4 46.2h0M288.0 48.3h0M292.9 41.5h0M291.1 51.9h0M294.1 45.0h0M282.8 49.6h0M287.3 46.7h0M298.1 44.1h0M300.1 45.0h0M291.9 50.3h0M286.0 41.9h0M291.1 42.2h0M291.2 52.1h0M292.6 46.6h0M292.7 39.1h0M292.7 36.5h0M300.6 47.2h0M295.1 37.6h0M301.2 43.1h0M293.9 37.2h0M300.4 49.7h0"/>
<path stroke="#ea5e36" stroke-width="1.35" stroke-linecap="square" fill="none" d="M281.6 58.5h0M282.5 60.6h0M281.0 59.3h0M284.5 57.1h0M285.3 60.4h0M279.5 54.2h0M283.7 59.2h0M284.9 57.3h0M285.0 57.4h0M283.3 61.4h0M280.3 55.4h0M282.8 58.0h0M283.3 59.4h0M282.1 59.1h0M282.8 57.6h0M285.4 58.5h0M282.4 56.2h0M281.9 60.1h0M280.4 57.5h0M282.7 55.3h0M280.7 60.3h0M281.9 60.9h0M281.7 59.6h0M284.8 60.8h0M281.7 56.5h0M284.2 57.5h0M280.7 56.9h0M283.0 57.0h0M278.9 55.5h0M285.1 61.5h0"/>
<path stroke="#dc80c8" stroke-width="1.35" stroke-linecap="square" fill="none" d="M298.0 58.1h0M291.3 59.1h0M291.4 59.9h0M298.0 58.3h0M300.1 57.5h0M290.0 59.7h0M294.2 59.4h0M293.0 60.2h0M295.6 57.1h0M297.1 59.9h0M297.2 59.0h0M294.9 61.1h0M292.2 58.5h0M289.2 57.7h0M292.7 57.4h0M296.1 58.3h0M295.2 59.9h0M292.5 57.9h0"/>
<path stroke="#ecec3c" stroke-width="1.35" stroke-linecap="square" fill="none" d="M283.3 67.5h0M283.1 65.2h0M283.3 65.3h0M284.9 63.3h0M282.3 67.3h0"/>
<path stroke="#5cb864" stroke-width="1.35" stroke-linecap="square" fill="none" d="M262.1 75.2h0M254.6 75.6h0M261.8 74.4h0M269.2 76.2h0M266.8 68.4h0M266.6 71.2h0M269.8 73.8h0M269.4 72.3h0M258.4 72.9h0M265.5 77.4h0M256.3 77.8h0M260.1 78.8h0M258.0 79.0h0M258.7 73.4h0M263.4 69.0h0M256.1 73.5h0M271.7 73.8h0M266.0 78.3h0M266.1 72.0h0M264.0 68.2h0M260.2 70.9h0M266.9 71.4h0M263.3 77.3h0M258.3 78.2h0M257.4 75.0h0M267.2 76.6h0M259.2 72.1h0M258.7 71.6h0M272.2 74.4h0M261.2 69.9h0M267.1 69.1h0M266.0 73.4h0M256.1 77.2h0M256.6 73.2h0M261.4 74.0h0M265.0 67.2h0M266.3 76.6h0M266.9 74.6h0M265.1 78.7h0M266.3 76.4h0M260.9 69.3h0M255.9 74.9h0M256.9 79.3h0M263.2 76.3h0M261.5 78.1h0M265.0 71.4h0M256.7 72.2h0M257.9 73.5h0M260.3 78.8h0M260.9 79.2h0M266.9 73.2h0M255.8 76.4h0M265.1 72.1h0M261.1 70.2h0M267.6 75.0h0M259.9 76.7h0M257.5 71.2h0M267.7 71.0h0M264.8 68.3h0M257.4 75.8h0M257.2 73.8h0M262.5 77.4h0M260.4 79.1h0M261.8 76.6h0M268.4 74.1h0M265.8 74.2h0M264.7 78.9h0M267.7 69.3h0M255.0 74.7h0M258.0 77.7h0M256.7 76.8h0M270.3 73.0h0M259.3 72.0h0M264.8 70.5h0M260.9 69.5h0M260.4 78.9h0M255.1 78.4h0M268.1 77.4h0M260.0 78.9h0M264.8 76.0h0M265.2 72.6h0M261.6 68.5h0M253.8 78.7h0M257.4 69.4h0M259.3 69.1h0M257.6 70.2h0M262.4 66.4h0M263.8 65.2h0M264.0 65.4h0M254.7 79.3h0"/>
<path stroke="#d9a338" stroke-width="1.35" stroke-linecap="square" fill="none" d="M350.5 48.4h0M369.5 54.1h0M363.0 53.5h0M354.2 55.9h0M371.0 57.0h0M355.1 55.9h0M360.3 54.5h0M366.8 48.9h0M370.6 52.1h0M365.2 57.9h0M358.8 60.4h0M380.0 54.2h0M378.3 47.9h0M378.7 50.3h0M372.5 52.3h0M370.5 44.0h0M349.4 53.1h0M373.5 49.3h0M368.7 52.8h0M359.6 48.4h0M368.6 47.4h0M352.6 55.9h0M368.6 53.2h0M358.5 56.8h0M377.9 48.0h0M367.8 45.0h0M369.0 55.7h0M357.7 61.0h0M359.5 55.8h0M372.9 45.0h0M374.5 46.1h0M381.8 49.3h0M369.8 50.1h0M360.0 52.5h0M369.5 52.9h0M375.4 50.4h0M377.7 49.9h0M372.8 48.8h0M366.3 51.6h0M361.9 58.5h0M353.4 56.9h0M372.2 43.2h0M372.6 49.2h0M350.2 57.9h0M356.4 53.3h0M378.3 55.4h0M354.9 59.9h0M362.1 55.1h0M378.2 50.7h0M370.7 53.0h0M361.4 51.9h0M372.4 43.8h0M350.7 51.0h0M375.1 53.2h0M367.3 57.1h0M360.8 45.3h0M349.9 51.5h0M360.2 46.0h0M379.0 44.1h0M353.9 55.0h0M364.6 58.9h0M350.5 57.1h0M362.9 55.5h0M351.6 52.3h0M369.2 54.8h0M385.4 51.7h0M356.0 52.5h0M352.6 60.6h0M370.0 45.4h0M366.7 54.4h0M359.5 58.1h0M376.4 49.2h0M376.0 51.7h0M356.9 54.2h0M365.9 44.0h0M370.9 53.6h0M364.2 51.6h0M382.0 47.9h0M372.5 51.8h0M365.9 51.7h0M365.9 47.8h0M365.3 57.3h0M377.9 54.7h0M383.6 49.1h0M349.2 58.4h0M367.9 54.7h0M368.1 57.8h0M357.0 58.4h0M375.2 52.1h0M374.5 45.2h0M364.4 54.0h0M382.2 49.4h0M363.0 45.5h0M374.5 51.4h0M368.3 58.5h0M360.8 48.6h0M367.4 44.9h0M375.8 49.0h0M367.1 52.1h0M352.0 56.0h0M369.0 45.9h0M352.5 50.1h0M363.5 50.9h0M362.5 58.4h0M356.6 51.0h0M372.3 55.2h0M355.0 48.4h0M359.1 57.6h0M350.9 50.5h0M379.9 50.4h0M352.2 58.6h0M355.4 56.9h0M362.9 57.9h0M360.2 47.2h0M385.1 51.7h0M358.0 54.4h0M373.3 45.2h0M360.6 49.1h0M369.5 46.0h0M362.9 54.8h0M376.0 48.6h0M378.8 51.7h0M358.3 61.7h0M355.7 61.1h0M355.2 48.3h0M361.3 58.5h0M355.7 55.1h0M370.1 49.5h0M370.7 51.4h0M366.8 53.7h0M368.0 41.7h0M361.1 47.7h0M353.9 53.6h0M362.6 57.2h0M373.6 51.2h0M370.2 48.8h0M354.7 52.3h0M359.8 58.5h0M349.8 54.3h0M381.3 53.3h0M365.8 42.4h0M362.8 50.2h0M375.8 50.6h0M360.7 57.0h0M367.0 42.8h0M349.3 56.8h0M376.1 55.6h0M356.8 45.6h0M382.5 51.6h0M365.9 44.9h0M372.3 51.6h0M380.6 52.3h0M372.2 47.9h0M369.8 48.8h0M366.9 52.7h0M370.5 53.9h0M360.9 45.8h0M356.1 50.4h0M378.5 53.8h0M356.0 52.4h0M371.3 42.1h0M375.6 54.7h0M383.6 51.6h0M362.5 49.8h0M348.9 56.5h0M356.5 53.2h0M376.9 51.2h0M353.6 52.4h0M357.6 56.2h0M373.1 46.6h0M371.0 44.7h0M355.5 52.2h0M368.0 45.8h0M366.2 46.0h0M369.1 43.8h0M378.3 48.2h0M372.0 43.1h0M365.6 52.4h0M377.7 52.3h0M356.3 57.1h0M355.3 57.9h0M352.2 49.4h0M360.1 44.9h0M361.1 53.4h0M367.6 46.5h0M359.5 48.4h0M350.8 50.7h0M376.2 48.2h0M367.1 47.2h0M383.5 50.3h0M360.9 59.1h0M358.4 53.3h0M367.0 46.0h0M380.9 51.4h0M376.4 52.8h0M365.2 42.1h0M354.2 59.7h0M360.7 56.5h0M350.2 53.0h0M354.2 55.5h0M353.3 55.4h0M374.9 52.1h0M367.0 55.0h0M360.5 46.4h0M361.6 56.9h0M371.5 48.7h0M362.0 55.2h0M366.8 49.1h0M359.4 55.3h0M367.2 46.6h0M368.9 51.7h0M366.4 44.7h0M373.8 51.7h0M359.2 50.6h0M365.8 60.2h0M355.4 54.8h0M353.0 57.0h0M363.7 46.9h0M361.0 58.0h0M373.9 55.6h0M367.9 56.0h0M374.7 48.5h0M356.4 55.8h0M361.3 56.1h0M353.3 49.2h0M357.0 57.5h0M366.2 46.9h0M350.3 55.2h0M371.3 42.5h0M354.6 55.3h0M367.7 43.8h0M357.6 58.1h0M369.1 44.6h0M365.7 53.4h0M375.3 48.3h0M360.6 57.2h0M355.3 60.1h0M357.6 49.7h0M370.9 42.2h0M358.3 59.6h0M360.4 52.5h0M365.7 50.5h0M381.1 53.0h0M362.7 43.3h0M373.5 48.3h0M348.3 53.6h0M349.6 53.9h0M371.3 45.6h0M353.4 50.0h0M372.8 54.5h0M356.4 47.0h0M363.8 49.8h0M357.6 56.3h0M365.9 46.0h0M373.3 52.2h0M370.2 44.3h0M350.6 57.3h0M350.2 52.8h0M365.4 57.5h0M359.8 60.3h0M371.3 50.7h0M376.1 45.7h0M363.6 47.2h0M359.6 44.9h0M367.3 57.2h0M356.8 54.0h0M355.3 49.1h0M359.2 50.9h0M372.8 47.7h0M352.3 56.6h0M370.1 43.4h0M382.8 49.0h0M369.3 54.3h0M350.7 53.3h0M360.0 57.8h0M354.9 52.7h0M369.5 52.2h0M357.4 46.2h0M371.7 56.0h0M373.1 55.1h0M354.6 59.0h0M380.3 53.7h0M361.9 47.5h0M359.8 59.3h0M365.1 44.3h0M350.1 50.3h0M367.1 53.9h0M373.7 46.9h0M369.4 57.4h0M370.0 49.6h0M385.2 51.8h0M360.8 54.6h0M376.2 44.8h0M361.6 48.7h0M371.1 44.0h0M359.8 48.0h0M363.9 50.9h0M353.9 52.0h0M351.4 56.8h0M363.6 59.0h0M356.5 58.3h0M370.8 52.4h0M350.7 54.2h0M371.3 47.0h0M366.7 57.4h0M382.1 48.5h0M350.3 54.6h0M379.7 48.4h0M381.7 48.4h0M373.0 54.9h0M377.7 53.6h0M375.9 47.8h0M355.4 61.7h0M363.2 47.8h0M371.7 47.1h0M355.1 51.2h0M382.1 51.9h0M374.7 48.5h0M367.7 45.6h0M366.1 45.8h0M368.7 55.8h0M348.6 54.5h0M358.3 59.3h0M364.1 44.2h0M371.7 48.7h0M364.7 57.8h0M383.6 51.3h0M368.0 51.4h0M381.4 53.1h0M384.8 49.9h0M363.7 56.3h0M354.9 50.0h0M363.4 53.2h0M372.4 50.3h0M361.8 53.5h0M355.9 56.9h0M355.3 55.8h0M354.3 59.0h0M366.1 43.4h0M374.1 45.7h0M376.7 50.1h0M374.2 47.7h0M367.7 45.4h0M352.2 51.2h0M381.3 55.4h0M375.8 54.1h0M380.5 50.5h0M361.7 53.9h0M356.7 58.6h0M363.0 53.0h0M367.8 53.3h0M358.4 61.1h0M368.1 57.4h0M350.7 53.7h0M359.3 44.8h0M378.0 53.3h0M357.9 47.8h0M362.3 56.2h0M357.2 54.9h0M364.6 55.4h0M362.2 53.4h0M350.9 51.2h0M376.1 54.7h0M376.5 49.0h0M361.2 56.6h0M368.3 46.7h0M357.8 48.1h0M382.7 54.0h0M369.3 49.5h0M357.4 45.3h0M354.5 48.3h0M350.2 55.0h0M352.6 57.5h0M380.2 48.2h0M361.6 49.1h0M363.6 43.3h0M348.9 50.9h0M355.0 55.0h0M366.4 56.6h0M368.4 57.7h0M376.9 45.7h0M352.1 58.1h0M355.6 51.5h0M351.8 53.7h0M361.7 51.7h0M368.0 50.7h0M349.6 56.3h0M371.5 49.7h0M372.8 52.0h0M360.2 57.1h0M382.7 54.1h0M354.3 47.8h0M364.7 45.0h0M358.7 54.0h0M351.0 50.7h0M359.0 49.3h0M357.0 54.5h0M351.9 55.2h0M352.9 53.2h0M366.3 46.5h0M366.0 50.9h0M369.3 43.8h0M353.6 49.5h0M368.0 44.4h0M365.3 53.8h0M375.8 46.9h0M355.1 48.1h0M383.0 49.1h0M369.0 51.9h0M353.0 57.4h0M351.7 49.4h0M368.5 42.5h0M381.1 53.1h0M353.7 62.4h0M356.3 46.6h0M384.6 49.1h0M383.6 48.6h0M377.9 43.7h0M348.9 57.3h0M361.2 43.6h0M384.7 54.8h0M351.7 60.0h0M378.3 43.5h0M351.1 60.3h0M347.6 53.9h0M354.9 46.5h0M347.3 55.8h0M357.5 61.6h0M380.0 43.6h0M354.9 47.2h0M387.0 48.7h0M351.7 48.7h0M385.1 53.6h0M350.1 58.5h0"/>
<path stroke="#80b8dc" stroke-width="1.35" stroke-linecap="square" fill="none" d="M364.3 60.4h0M372.5 61.9h0M365.4 60.2h0M357.0 64.6h0M375.5 65.5h0M344.3 64.5h0M359.9 69.5h0M354.1 64.1h0M346.6 63.9h0M345.2 58.4h0M374.9 62.7h0M354.4 62.4h0M357.8 66.2h0M372.9 59.1h0M352.9 71.3h0M367.9 57.4h0M364.8 72.1h0M353.5 69.3h0M353.7 69.5h0M356.8 67.9h0M361.1 61.6h0M367.5 62.3h0M351.3 59.2h0M362.0 70.0h0M362.5 63.9h0M357.3 69.0h0M371.8 66.7h0M348.0 68.0h0M365.2 66.1h0M377.3 68.1h0M352.0 62.0h0M377.9 59.4h0M375.0 67.6h0M368.5 69.8h0M372.5 57.5h0M343.5 60.7h0M376.8 61.3h0M377.6 64.0h0M371.9 66.0h0M375.2 63.5h0M371.3 59.7h0M345.9 67.2h0M343.8 65.2h0M374.2 60.7h0M343.4 60.9h0M353.0 66.9h0M363.3 68.8h0M365.8 63.2h0M353.1 69.2h0M357.6 67.3h0M358.7 68.9h0M372.0 58.4h0M361.4 64.8h0M351.1 66.4h0M364.2 62.3h0M348.0 61.6h0M370.6 69.5h0M375.2 61.9h0M359.4 72.2h0M345.7 65.8h0M349.3 62.2h0M358.5 66.9h0M360.8 69.2h0M351.5 64.8h0M357.9 70.4h0M377.2 65.4h0M374.7 58.5h0M371.2 61.8h0M371.3 61.6h0M375.5 60.4h0M349.4 60.1h0M372.9 61.7h0M358.6 64.2h0M347.1 67.7h0M366.0 61.7h0M355.4 65.4h0M358.1 67.7h0M345.1 62.8h0M355.1 68.5h0M359.4 63.8h0M347.9 59.5h0M353.6 63.9h0M356.3 70.0h0M377.9 58.1h0M362.7 69.7h0M372.7 67.7h0M357.8 72.3h0M375.8 62.6h0M373.9 64.9h0M362.6 70.2h0M374.1 64.3h0M359.3 64.4h0M355.1 72.2h0M350.2 61.4h0M356.0 62.9h0M348.8 59.0h0M379.7 62.8h0M358.9 66.4h0M378.1 66.6h0M367.4 62.9h0M362.9 70.2h0M373.3 59.8h0M362.4 65.1h0M349.1 66.6h0M354.9 67.5h0M374.7 61.3h0M353.0 66.5h0M361.4 68.4h0M368.6 65.4h0M356.9 69.7h0M363.5 60.6h0M375.4 58.7h0M348.0 64.1h0M364.0 64.6h0M347.5 67.4h0M353.3 65.5h0M356.0 65.8h0M375.5 66.3h0M358.9 69.1h0M362.3 63.2h0M363.7 71.7h0M363.3 62.2h0M354.6 60.5h0M359.5 68.8h0M363.5 64.8h0M369.5 66.1h0M379.0 64.0h0M371.1 63.0h0M347.5 63.0h0M371.4 63.7h0M351.9 71.1h0M363.9 59.5h0M357.0 61.6h0M379.2 63.9h0M362.1 64.8h0M360.7 70.4h0M379.1 65.6h0M372.7 62.3h0M371.5 60.2h0M372.8 61.8h0M341.1 62.8h0M343.5 60.5h0M354.0 72.8h0M347.0 60.7h0M345.5 66.6h0M358.5 63.9h0M350.4 66.4h0M348.1 59.3h0M375.4 62.3h0M344.0 63.1h0M362.6 60.8h0M376.4 63.6h0M357.3 62.0h0M341.3 63.0h0M364.0 60.7h0M373.3 63.5h0M370.5 58.2h0M362.0 61.8h0M352.6 63.7h0M372.6 57.4h0M350.8 68.5h0M356.4 61.4h0M364.6 62.6h0M378.2 60.5h0M340.1 62.4h0M377.6 59.3h0M355.4 65.4h0M363.7 64.2h0M377.7 66.5h0M360.3 73.7h0M353.1 72.1h0M377.5 67.8h0M342.2 61.4h0M372.7 66.1h0M364.0 70.5h0M362.4 72.2h0M371.4 64.0h0M343.8 63.7h0M347.1 67.4h0M376.5 63.1h0M364.7 65.4h0M360.1 62.9h0M350.9 64.2h0M369.2 57.2h0M379.1 59.8h0M360.8 62.8h0M361.6 70.3h0M367.1 70.1h0M371.3 56.2h0M361.4 71.7h0M363.1 61.0h0M375.3 63.9h0M346.1 58.0h0M361.8 68.7h0M349.6 60.3h0M354.3 71.1h0M377.6 67.0h0M357.4 63.5h0M352.8 62.8h0M348.8 61.5h0M352.1 65.6h0M360.8 64.4h0M349.7 66.6h0M348.7 62.4h0M362.5 67.0h0M375.1 63.4h0M370.7 58.4h0M342.3 61.0h0M371.3 63.3h0M364.7 63.4h0M365.9 67.4h0M355.8 71.5h0M371.3 61.0h0M354.1 63.3h0M371.5 57.3h0M363.5 72.2h0M354.8 69.4h0M361.7 63.9h0M348.2 69.8h0M356.5 63.5h0M353.5 64.5h0M351.2 68.3h0M361.1 68.6h0M378.4 61.4h0M371.4 67.7h0M345.0 59.9h0M372.5 64.0h0M372.3 65.3h0M365.6 58.9h0M372.8 65.3h0M367.3 62.1h0M358.5 72.7h0M376.4 67.2h0M372.4 67.8h0M373.8 63.4h0M362.3 63.3h0M355.3 64.7h0M352.2 65.7h0M343.9 59.7h0M352.8 70.2h0M369.6 65.4h0M356.9 69.3h0M357.0 67.2h0M363.9 67.8h0M367.7 62.4h0M348.8 60.1h0M360.9 61.1h0M351.9 66.6h0M361.9 68.2h0M369.4 59.5h0M372.4 69.8h0M358.6 67.8h0M360.7 69.6h0M344.1 63.9h0M368.3 68.0h0M358.0 65.4h0M378.8 57.7h0M342.3 61.3h0M357.6 65.1h0M345.5 67.0h0M380.0 64.9h0M343.1 60.6h0M351.8 62.5h0M362.1 65.9h0M352.0 64.1h0M358.5 61.7h0M371.0 66.1h0M377.9 64.2h0M375.9 58.9h0M359.6 64.6h0M375.7 57.8h0M375.5 66.7h0M368.7 59.2h0M357.9 70.4h0M345.6 61.7h0M365.1 59.2h0M361.8 69.2h0M369.4 59.7h0M378.5 59.3h0M371.0 67.3h0M354.1 61.6h0M350.1 61.1h0M346.5 63.0h0M379.1 63.9h0M365.8 62.4h0M345.6 62.7h0M362.6 68.7h0M350.1 66.5h0M344.8 60.8h0M367.3 69.5h0M363.7 69.5h0M366.9 61.3h0M350.1 64.8h0M373.2 67.8h0M373.0 69.4h0M349.4 60.6h0M350.3 66.4h0M354.6 64.8h0M350.2 69.2h0M360.2 67.0h0M361.2 71.8h0M351.1 71.6h0M355.7 65.8h0M344.1 62.6h0M374.0 61.9h0M364.2 67.4h0M348.1 66.2h0M380.6 62.8h0M372.1 66.1h0M379.1 64.3h0M352.8 67.6h0M364.6 69.9h0M360.2 64.6h0M349.8 62.9h0M346.8 69.3h0M373.4 62.9h0M378.0 64.4h0M372.0 68.3h0M375.3 66.1h0M373.0 66.9h0M352.1 71.1h0M351.3 66.3h0M368.3 69.5h0M353.8 67.5h0M374.4 64.0h0M371.6 61.5h0M358.8 72.5h0M365.9 63.8h0M371.0 61.3h0M356.8 71.0h0M366.5 63.5h0M347.4 60.7h0M359.6 69.2h0M371.9 59.9h0M345.6 61.1h0M366.7 66.2h0M352.5 61.8h0M351.4 70.8h0M375.7 59.6h0M354.1 61.9h0M371.9 63.2h0M378.2 60.1h0M378.3 62.0h0M352.3 62.7h0M360.6 60.7h0M349.2 60.7h0M366.8 64.7h0M376.7 61.2h0M352.8 72.0h0M358.0 71.4h0M370.8 64.2h0M372.5 66.5h0M357.4 62.0h0M355.1 65.3h0M358.9 65.4h0M351.7 63.7h0M352.4 67.2h0M349.9 66.1h0M350.8 66.7h0M376.4 65.2h0M353.7 69.2h0M351.5 64.8h0M365.4 70.9h0M361.6 69.0h0M360.2 61.3h0M369.7 65.5h0M346.8 66.1h0M345.2 63.4h0M351.5 59.4h0M347.6 62.0h0M375.6 62.0h0M364.4 66.0h0M365.1 59.7h0M356.0 64.4h0M368.9 61.2h0M368.2 71.8h0M366.4 58.3h0M369.6 71.4h0M361.6 74.7h0M382.9 61.4h0M384.0 64.8h0M377.6 68.4h0M346.9 69.7h0M381.1 62.5h0M354.7 73.5h0M377.5 56.9h0M341.5 59.8h0M343.6 58.7h0"/>
<path stroke="#c47ce2" stroke-width="1.35" stroke-linecap="square" fill="none" d="M372.9 45.0h0M381.6 38.1h0M377.5 45.7h0M382.8 41.5h0M382.2 42.5h0M382.4 40.2h0M370.4 41.5h0M374.3 45.5h0M373.4 38.6h0M377.0 40.0h0M371.4 41.1h0M383.6 41.0h0M376.1 40.8h0M379.2 38.7h0M372.0 38.5h0M378.7 45.2h0M369.9 41.4h0M377.5 43.7h0M380.6 43.5h0M373.6 40.4h0M371.8 40.0h0M371.4 41.8h0M379.0 38.0h0M381.0 42.6h0M372.1 41.3h0M373.5 43.2h0M378.4 42.0h0M382.6 40.4h0M381.2 41.0h0M382.0 35.2h0M384.4 38.6h0M378.8 36.7h0M381.2 38.4h0M383.8 39.3h0M378.4 39.8h0M378.4 43.5h0M381.8 40.5h0M378.0 39.3h0M371.8 42.3h0M382.3 41.3h0M375.8 45.8h0M378.0 42.1h0M370.8 42.0h0M379.4 42.8h0M372.2 41.4h0M374.6 44.0h0M376.5 40.3h0M378.7 36.5h0M368.9 41.3h0M378.8 44.2h0M377.7 41.7h0M383.0 38.2h0M379.8 40.8h0M375.3 41.4h0M373.8 40.7h0M373.3 40.8h0M374.3 44.6h0M378.1 40.1h0M375.7 39.1h0M376.3 44.3h0M379.5 41.5h0M373.2 40.6h0M375.8 40.2h0M377.6 44.6h0M378.5 45.0h0M378.3 47.4h0M377.9 40.2h0M376.2 38.3h0M377.3 35.4h0M372.0 45.0h0M368.7 43.6h0M376.2 40.6h0M379.4 42.4h0M378.6 37.2h0M374.6 39.7h0M379.0 44.7h0M378.3 35.4h0M374.0 38.0h0M372.4 46.5h0M384.7 38.5h0M371.3 39.8h0"/>
<path stroke="#84e6cc" stroke-width="1.35" stroke-linecap="square" fill="none" d="M399.1 44.0h0M402.4 40.0h0M396.2 39.6h0M404.8 46.3h0M402.5 43.2h0M402.1 50.2h0M396.3 46.9h0M404.4 43.6h0M411.4 46.9h0M396.8 41.5h0M404.9 44.3h0M400.9 49.5h0M402.6 37.7h0M404.4 40.7h0M405.7 41.7h0M395.5 45.3h0M412.6 44.5h0M407.4 41.4h0M408.2 38.1h0M398.0 46.8h0M406.7 48.4h0M402.0 40.0h0M405.4 41.3h0M397.3 43.2h0M405.4 40.7h0M395.4 45.0h0M401.4 46.8h0M397.7 44.6h0M399.6 43.2h0M408.2 43.0h0M404.7 48.6h0M394.8 44.4h0M394.0 45.0h0M393.5 42.5h0M391.8 46.7h0M390.9 44.2h0M404.7 47.4h0M402.0 37.9h0M397.6 47.0h0M401.8 47.8h0M400.4 50.1h0M410.4 48.3h0M402.3 44.4h0M398.0 50.3h0M396.8 46.8h0M395.0 41.8h0M406.1 46.9h0M398.5 38.1h0M405.2 52.2h0M397.2 47.4h0M400.7 39.1h0M401.2 42.3h0M401.5 36.9h0M396.9 41.3h0M400.4 40.5h0M395.9 47.3h0M404.3 44.2h0M397.3 42.1h0M405.8 50.2h0M402.2 39.8h0M403.4 51.9h0M410.1 48.1h0M400.0 49.8h0M398.1 41.2h0M407.0 45.7h0M395.8 40.6h0M404.7 40.2h0M391.3 43.6h0M411.2 48.5h0M412.2 44.8h0M401.7 39.6h0M406.5 48.0h0M403.1 39.0h0M400.2 47.4h0M398.5 49.1h0M409.3 43.1h0M401.4 45.9h0M398.8 42.3h0M397.8 49.3h0M409.7 43.5h0M394.8 44.6h0M408.2 43.4h0M411.6 48.7h0M397.9 43.1h0M401.2 38.6h0M392.6 44.3h0M412.1 41.9h0M391.3 42.7h0M399.1 38.7h0M392.2 43.1h0M399.9 42.9h0M407.2 48.0h0M409.7 50.2h0M403.1 48.4h0M410.7 49.6h0M393.2 48.0h0M403.0 49.8h0M410.4 43.7h0M392.9 44.3h0M409.3 44.4h0M400.6 47.5h0M406.2 48.3h0M405.7 41.9h0M412.9 44.4h0M393.4 47.0h0M409.0 47.4h0M404.9 43.7h0M394.6 48.8h0M401.4 45.9h0M410.6 43.0h0M403.1 48.4h0M395.5 49.4h0M408.3 39.4h0M397.8 45.7h0M396.4 39.7h0M394.4 40.5h0M409.9 47.5h0M402.2 50.9h0M404.8 45.3h0M402.6 39.5h0M393.5 42.0h0M402.6 44.0h0M394.7 42.4h0M394.3 46.3h0M402.6 40.0h0M409.7 49.3h0M409.8 47.4h0M394.3 42.0h0M398.1 43.6h0M404.5 46.9h0M398.1 47.7h0M406.1 43.0h0M406.4 39.9h0M409.6 50.0h0M407.6 49.3h0M411.9 44.7h0M404.2 42.6h0M409.5 43.6h0M395.8 40.0h0M410.2 48.5h0M404.0 44.8h0M403.8 39.0h0M403.6 46.1h0M396.4 42.1h0M396.4 48.3h0M394.9 45.9h0M397.4 40.8h0M403.9 43.5h0M408.5 45.2h0M402.8 40.4h0M406.6 44.2h0M409.7 47.7h0M395.0 46.2h0M400.3 43.4h0M403.2 46.0h0M402.8 38.4h0M404.3 51.5h0M408.9 45.0h0M397.9 41.8h0M405.8 38.5h0M405.9 47.8h0M408.3 46.2h0M396.2 39.5h0M402.7 49.9h0M410.8 51.6h0M401.1 47.8h0M409.5 44.3h0M409.7 49.8h0M401.3 39.1h0M396.5 43.5h0M407.8 41.6h0M394.4 47.3h0M393.1 46.5h0M406.6 51.1h0M401.0 37.1h0M410.7 42.8h0M397.5 40.4h0M404.5 51.9h0M399.8 37.3h0M413.3 45.1h0M411.4 51.1h0M395.0 39.8h0M409.8 51.6h0M407.8 37.5h0M396.2 49.8h0M394.0 49.0h0M394.9 49.0h0M389.3 45.4h0M392.4 42.8h0"/>
<path stroke="#ea5e36" stroke-width="1.35" stroke-linecap="square" fill="none" d="M389.0 57.8h0M395.2 59.8h0M390.0 56.9h0M392.0 57.0h0M394.5 60.0h0M392.0 56.8h0M396.6 58.5h0M394.0 59.5h0M395.4 57.9h0M393.6 59.4h0M391.2 60.3h0M391.1 60.7h0M397.2 58.1h0M392.4 58.9h0M390.9 54.7h0M392.0 59.7h0M391.9 58.0h0M395.5 57.9h0M393.5 59.6h0M397.4 60.7h0M390.4 61.3h0M390.9 56.4h0M394.0 60.5h0M391.0 60.3h0M390.4 56.7h0M398.9 58.3h0M392.6 58.2h0M396.8 57.4h0M394.4 60.0h0"/>
<path stroke="#dc80c8" stroke-width="1.35" stroke-linecap="square" fill="none" d="M405.4 58.7h0M413.5 57.6h0M407.5 61.1h0M407.7 60.1h0M409.7 59.1h0M413.0 59.7h0M411.7 58.3h0M405.4 62.5h0M405.1 57.9h0M409.0 57.0h0M408.3 57.6h0M411.3 61.1h0M409.9 58.9h0M411.2 59.7h0M414.1 56.7h0M401.3 56.6h0M406.7 62.2h0"/>
<path stroke="#ecec3c" stroke-width="1.35" stroke-linecap="square" fill="none" d="M393.1 66.1h0M392.5 65.8h0M392.9 65.8h0"/>
<path stroke="#5cb864" stroke-width="1.35" stroke-linecap="square" fill="none" d="M366.4 78.1h0M373.9 68.4h0M369.0 80.0h0M368.6 74.8h0M383.4 72.3h0M375.4 73.3h0M370.6 72.7h0M367.9 70.4h0M381.3 79.0h0M377.4 79.9h0M372.6 70.2h0M376.8 76.5h0M368.7 70.0h0M379.4 68.4h0M371.7 78.4h0M372.6 74.2h0M372.5 78.8h0M377.5 73.6h0M378.2 68.7h0M371.9 76.0h0M371.7 78.4h0M383.3 78.4h0M369.2 70.8h0M377.2 73.2h0M373.6 73.2h0M380.4 69.6h0M364.7 75.1h0M373.3 77.0h0M378.6 75.3h0M367.5 72.9h0M371.5 70.9h0M379.5 69.6h0M378.4 70.9h0M379.6 79.3h0M384.0 70.5h0M380.8 75.9h0M381.3 69.4h0M367.9 73.9h0M379.9 78.2h0M364.4 73.8h0M374.4 79.6h0M365.4 77.1h0M368.2 72.1h0M380.4 74.1h0M378.8 68.1h0M374.5 80.2h0M371.3 73.4h0M378.1 69.9h0M374.8 74.1h0M376.7 67.9h0M380.8 77.4h0M379.6 73.5h0M374.2 74.0h0M384.1 76.8h0M380.0 73.5h0M378.0 77.3h0M366.5 75.8h0M366.3 73.1h0M369.6 79.9h0M371.9 77.8h0M375.5 76.8h0M365.9 74.1h0M374.5 72.6h0M382.8 73.8h0M369.1 72.9h0M382.3 77.4h0M375.2 72.2h0M383.9 71.5h0M368.6 76.7h0M378.3 72.3h0M381.8 79.3h0M377.6 73.8h0M366.5 79.1h0M376.1 77.5h0M382.1 73.3h0M366.3 79.1h0M384.7 76.0h0M367.7 79.2h0M379.1 73.5h0M376.6 67.5h0M368.1 72.1h0M365.1 76.1h0M380.4 70.5h0M378.7 68.7h0M368.8 71.5h0M375.2 72.7h0M377.5 69.6h0M370.4 77.3h0M377.2 76.1h0M365.2 72.1h0M371.9 73.1h0M379.7 78.3h0M383.1 75.8h0M383.7 75.1h0M375.7 68.4h0M370.1 77.0h0M377.2 77.0h0M379.1 77.7h0M373.5 79.2h0M379.1 72.1h0M373.4 71.0h0M376.0 76.0h0M378.4 74.3h0M372.3 72.7h0M373.8 68.7h0M379.3 69.3h0M370.6 74.7h0M378.2 79.9h0M375.6 68.8h0M370.9 77.6h0M366.2 76.3h0M372.6 79.8h0M383.6 76.7h0M368.9 69.7h0M370.7 80.4h0M375.4 69.2h0M372.5 79.8h0M375.8 73.3h0M367.3 77.6h0M374.7 68.7h0M373.8 68.6h0M375.0 80.2h0M374.8 68.2h0M375.5 71.1h0M365.9 73.0h0M383.5 68.9h0M369.9 71.0h0M369.3 71.1h0M379.3 68.6h0M379.4 67.0h0M374.7 76.4h0M370.0 74.5h0M373.8 69.5h0M369.1 77.8h0M376.7 78.8h0M378.9 69.4h0M383.3 71.3h0M383.5 77.3h0M386.4 75.3h0M362.4 75.9h0M367.1 69.2h0M377.4 66.0h0M384.6 77.6h0"/>
<path stroke="#62e47a" stroke-width="1.35" stroke-linecap="square" fill="none" d="M429.8 52.1h0M426.6 50.6h0M429.5 51.7h0M429.3 50.7h0M429.9 53.4h0M427.7 52.1h0M428.6 50.6h0M428.6 51.0h0M427.1 53.6h0"/>
<polygon points="260.0,113.9 265.5,109.0 270.4,106.9 272.4,109.7 270.4,113.9 266.9,116.6 262.7,117.3" fill="#c47ce2" fill-opacity="0.75"/>
<path stroke="#c47ce2" stroke-width="1.35" stroke-linecap="square" fill="none" d="M269.8 112.6h0M268.0 112.5h0M262.6 113.7h0M270.6 107.8h0M271.0 108.8h0M263.3 113.1h0M269.2 110.5h0M262.5 116.2h0M268.2 112.3h0M264.8 116.1h0M270.0 108.3h0M271.0 112.9h0M269.9 114.4h0M266.3 112.5h0M266.9 114.3h0M269.9 109.6h0M264.8 111.9h0M265.9 115.3h0M262.7 112.0h0M263.6 117.4h0M262.5 117.2h0M265.8 112.8h0M268.6 111.7h0M267.3 110.2h0M268.0 115.9h0M265.3 112.5h0M271.1 109.7h0M262.2 113.9h0M267.4 108.7h0M263.5 115.8h0M262.0 116.2h0M261.6 114.8h0M268.3 114.9h0M266.5 114.7h0M267.6 115.5h0M263.8 113.9h0M268.4 114.5h0M270.5 108.5h0M264.1 112.0h0M269.1 112.3h0M265.2 109.2h0M267.6 110.8h0M269.5 111.2h0M266.4 113.1h0M267.1 112.2h0M268.0 112.2h0M264.1 114.7h0M270.5 113.4h0M271.0 113.5h0M269.9 108.2h0M269.5 110.6h0M262.6 114.5h0M263.2 112.9h0M262.5 114.7h0M264.5 110.5h0M265.2 112.6h0M263.1 114.3h0M269.1 109.3h0M265.2 113.9h0M269.7 107.9h0M267.7 110.1h0M269.2 113.9h0M271.1 110.2h0M264.0 111.5h0M268.6 114.3h0M266.8 115.0h0M261.8 111.0h0M267.1 115.9h0M262.0 115.1h0M269.4 111.1h0M266.4 109.3h0M262.4 112.8h0M267.7 114.5h0M262.1 116.0h0M265.5 112.6h0M268.4 108.5h0M262.3 113.8h0M264.0 113.0h0M266.7 108.3h0M261.5 116.3h0M272.4 108.1h0M261.3 116.1h0"/>
<polygon points="241.9,127.7 246.1,120.8 251.6,116.0 257.2,114.6 262.0,116.0 262.7,119.4 258.6,123.6 253.0,126.4 247.5,129.1 243.3,129.8" fill="#d9a338" fill-opacity="0.75"/>
<path stroke="#d9a338" stroke-width="1.35" stroke-linecap="square" fill="none" d="M255.5 118.4h0M258.0 119.8h0M252.5 116.8h0M261.7 120.4h0M244.1 126.3h0M252.8 119.4h0M254.1 125.3h0M247.0 125.3h0M243.8 126.6h0M255.1 117.9h0M252.3 125.8h0M259.7 116.2h0M248.5 119.8h0M254.9 119.8h0M253.3 119.4h0M259.4 120.9h0M247.5 121.4h0M261.7 117.5h0M254.0 120.2h0M258.1 121.0h0M251.4 117.3h0M258.6 122.9h0M247.9 119.2h0M249.1 128.4h0M257.1 123.0h0M244.7 123.3h0M257.6 115.6h0M246.1 129.0h0M252.4 116.4h0M260.2 117.0h0M251.0 123.3h0M257.3 123.3h0M254.0 119.6h0M247.1 120.7h0M244.4 127.8h0M244.7 125.4h0M257.4 123.7h0M245.1 128.2h0M258.1 118.6h0M255.1 120.7h0M246.0 124.7h0M255.0 121.0h0M259.4 119.3h0M259.8 117.8h0M248.8 129.0h0M246.3 121.8h0M254.2 119.6h0M247.2 126.8h0M249.5 119.6h0M255.1 115.5h0M243.4 127.2h0M256.8 118.0h0M258.4 118.2h0M254.4 121.8h0M245.3 123.5h0M253.5 121.4h0M246.8 121.6h0M255.7 120.6h0M260.1 122.0h0M254.7 122.0h0M252.9 121.6h0M248.9 119.6h0M253.1 124.1h0M256.7 119.1h0M247.5 125.4h0M245.9 126.6h0M259.8 122.0h0M249.0 125.8h0M252.0 121.5h0M253.6 123.3h0M253.1 124.9h0M244.0 129.6h0M249.6 119.4h0M253.9 117.5h0M256.7 115.4h0M249.6 124.3h0M255.8 120.5h0M252.7 124.0h0M256.7 120.8h0M252.0 126.9h0M256.5 118.1h0M249.6 128.3h0M261.5 117.2h0M259.9 115.4h0M246.6 121.5h0M251.9 126.7h0M245.9 125.5h0M248.7 120.8h0M252.4 120.2h0M253.3 123.2h0M244.7 128.1h0M250.6 121.4h0M248.7 126.1h0M249.2 123.2h0M247.9 120.8h0M259.5 117.0h0M252.4 118.9h0M246.7 122.2h0M248.5 118.4h0M253.0 121.9h0M258.5 117.5h0M251.8 120.5h0M252.6 124.2h0M250.3 124.1h0M250.7 125.9h0M256.1 116.0h0M249.4 128.5h0M257.9 116.7h0M249.2 122.8h0M249.8 119.1h0M245.6 124.7h0M243.4 125.8h0M248.4 120.1h0M252.6 118.6h0M247.8 121.5h0M246.5 121.1h0M249.7 123.4h0M244.9 129.6h0M256.3 114.6h0M245.9 125.3h0M249.3 124.8h0M245.0 123.4h0M258.6 120.5h0M249.7 126.7h0M251.5 118.1h0M254.1 115.9h0M257.7 122.1h0M250.8 122.9h0M260.7 117.1h0M252.7 120.7h0M248.0 117.9h0M256.4 118.9h0M243.9 127.8h0M247.0 121.2h0M244.5 127.8h0M251.3 124.8h0M249.1 126.1h0M250.2 124.7h0M252.5 119.9h0M247.4 126.9h0M254.8 115.8h0M243.5 126.5h0M249.7 125.0h0M245.9 122.9h0M260.5 120.4h0M258.8 120.0h0M257.3 118.8h0M261.7 116.0h0M251.0 119.6h0M245.0 127.8h0M242.4 128.4h0M254.3 123.3h0M244.9 129.5h0M249.9 118.9h0M253.9 121.9h0M253.6 124.2h0M255.9 124.1h0M248.4 126.4h0M248.3 123.6h0M244.9 128.4h0M259.0 116.6h0M252.9 120.9h0M243.3 127.0h0M249.5 121.3h0M259.1 115.3h0M247.1 121.2h0M254.9 121.8h0M249.2 126.0h0M256.2 123.2h0M245.5 125.7h0M255.1 123.5h0M250.8 125.7h0M248.9 127.5h0M254.5 118.9h0M261.0 122.0h0M261.9 119.7h0M253.7 116.7h0M252.1 126.1h0M260.1 120.8h0M258.4 122.0h0M247.2 126.6h0M244.4 128.7h0M259.1 119.9h0M255.4 118.8h0M262.5 115.9h0M257.3 120.8h0M263.1 118.4h0M262.6 114.8h0M240.8 129.3h0M251.5 114.9h0M259.2 113.7h0M263.6 116.1h0M259.8 123.5h0M241.9 126.2h0M255.8 125.1h0M245.8 120.2h0"/>
<polygon points="264.1,122.2 268.3,121.5 273.1,122.2 273.8,125.7 271.1,127.0 266.2,127.0" fill="#d9a338" fill-opacity="0.75"/>
<path stroke="#d9a338" stroke-width="1.35" stroke-linecap="square" fill="none" d="M267.8 123.6h0M268.1 125.7h0M269.0 122.6h0M269.6 123.1h0M269.0 123.0h0M267.2 121.8h0M267.2 124.5h0M266.7 124.4h0M265.6 124.0h0M272.4 122.5h0M272.1 123.8h0M266.9 126.8h0M270.1 121.2h0M270.7 122.3h0M267.7 125.3h0M271.7 126.0h0M270.9 125.0h0M270.8 123.2h0M267.7 126.5h0M267.2 125.1h0M266.7 125.9h0M267.8 123.6h0M268.1 124.1h0M270.0 126.0h0M265.4 122.8h0M266.0 124.3h0M270.0 126.1h0M267.2 126.6h0M265.6 123.7h0M268.1 122.2h0M272.6 124.0h0M271.8 125.1h0M265.9 124.7h0M266.7 127.2h0M273.8 124.0h0"/>
<path stroke="#84e6cc" stroke-width="1.35" stroke-linecap="square" fill="none" d="M291.6 114.1h0M287.0 121.1h0M296.9 119.9h0M299.1 112.4h0M291.0 117.7h0M292.3 113.1h0M295.9 120.8h0M293.0 111.1h0M292.7 115.3h0M286.4 112.8h0M288.9 122.0h0M297.6 110.8h0M294.7 120.5h0M291.6 118.3h0M296.0 113.0h0M294.5 112.6h0M294.2 115.6h0M294.4 117.5h0M298.2 122.6h0M290.8 110.9h0M298.2 120.4h0M296.9 118.8h0M288.5 111.7h0M289.2 112.8h0M289.2 118.6h0M295.4 121.8h0M294.1 114.4h0M296.8 117.0h0M290.2 118.0h0M292.5 122.4h0M281.4 117.4h0M277.3 117.5h0M279.7 117.6h0M279.0 116.6h0M281.7 117.1h0M281.2 117.9h0"/>
<polygon points="316.1,121.5 318.2,119.4 321.7,120.8 320.3,125.7 317.5,127.0 315.4,125.7" fill="#62e47a" fill-opacity="0.75"/>
<path stroke="#62e47a" stroke-width="1.35" stroke-linecap="square" fill="none" d="M319.8 120.7h0M319.1 119.2h0M319.4 121.3h0M319.3 121.5h0M318.0 122.5h0M320.7 120.3h0M318.0 122.1h0M318.0 120.3h0M319.4 123.4h0M317.4 125.8h0M319.6 123.3h0M318.6 119.8h0M321.4 122.8h0M315.0 123.9h0M317.1 125.0h0M318.8 121.4h0M320.4 121.6h0M319.8 122.6h0M317.0 122.9h0M317.6 124.3h0M318.3 122.2h0M319.1 125.8h0M319.1 120.7h0M316.0 123.3h0M316.0 121.2h0M319.2 122.5h0M317.9 123.4h0M319.3 123.5h0M319.1 122.3h0M318.6 125.8h0M315.8 124.7h0M315.3 123.9h0M315.8 121.4h0"/>
<path stroke="#ea5e36" stroke-width="1.35" stroke-linecap="square" fill="none" d="M281.8 129.2h0M285.2 133.4h0M281.6 129.1h0M284.8 129.3h0M283.5 129.9h0M284.3 134.5h0M284.3 129.9h0M281.5 130.8h0M283.3 132.8h0M283.2 129.7h0M285.5 132.6h0M280.1 131.1h0M280.8 133.4h0"/>
<polygon points="287.7,129.1 294.6,129.1 301.6,129.1 300.2,131.9 293.3,134.0 288.4,133.3" fill="#dc80c8" fill-opacity="0.75"/>
<path stroke="#dc80c8" stroke-width="1.35" stroke-linecap="square" fill="none" d="M298.4 132.4h0M288.2 129.5h0M289.8 130.9h0M298.8 131.4h0M289.4 130.2h0M296.0 130.0h0M288.9 128.2h0M295.4 131.7h0M288.9 130.3h0M297.7 131.9h0M294.0 129.3h0M290.3 133.3h0M294.7 130.2h0M291.4 132.7h0M296.1 130.2h0M290.4 133.1h0M297.1 132.4h0M293.3 131.0h0M291.7 132.7h0M292.8 132.3h0M296.6 129.4h0M294.7 133.2h0M296.0 132.8h0M293.8 129.5h0M290.3 132.8h0M296.9 131.6h0M294.4 130.8h0M296.9 131.6h0M298.8 130.4h0M297.5 132.2h0M292.5 129.6h0M289.5 130.6h0M289.0 132.1h0M292.7 132.2h0M290.4 133.2h0M289.1 132.4h0M291.0 128.7h0M299.8 128.8h0M293.6 129.7h0M293.2 130.8h0M298.3 131.1h0M294.8 133.9h0M294.4 130.1h0M293.1 132.2h0M291.7 133.7h0M300.5 130.1h0M291.8 132.0h0M298.4 128.9h0M293.9 129.0h0M293.3 134.0h0M287.3 129.3h0"/>
<path stroke="#ecec3c" stroke-width="1.35" stroke-linecap="square" fill="none" d="M280.2 138.3h0M284.2 137.7h0M283.2 137.4h0M282.4 139.7h0M283.4 138.5h0M284.3 137.4h0M283.6 138.4h0M282.2 138.3h0M280.0 139.4h0M281.4 138.6h0M284.1 139.0h0"/>
<polygon points="257.9,131.9 269.7,131.9 269.7,135.0 262.0,135.5 261.0,141.6 257.9,141.6" fill="#80b8dc" fill-opacity="0.3"/>
<path stroke="#80b8dc" stroke-width="1.35" stroke-linecap="square" fill="none" d="M258.4 141.5h0M263.6 133.7h0M263.0 134.6h0M261.8 133.8h0M262.8 133.6h0M258.6 140.5h0M258.6 135.9h0M267.9 134.8h0M260.0 136.2h0M258.9 137.7h0M259.3 138.9h0M261.7 134.5h0M259.2 136.3h0M267.0 133.1h0M262.4 133.9h0M260.0 143.1h0M269.1 133.4h0M265.2 133.7h0M265.0 133.9h0M259.5 134.4h0M262.8 132.9h0M259.4 132.3h0M264.2 133.5h0M258.7 133.6h0M263.8 135.6h0M269.1 134.7h0M266.8 133.2h0M258.7 139.5h0M268.2 135.5h0M262.0 134.8h0M262.7 133.7h0M260.3 134.6h0M267.1 131.9h0M269.4 132.8h0M259.9 136.2h0M258.5 132.6h0M265.7 135.0h0M258.6 142.0h0M264.1 131.4h0"/>
<polygon points="239.9,142.0 245.0,141.6 248.9,145.0 248.0,149.9 241.0,149.5" fill="#80b8dc" fill-opacity="0.75"/>
<path stroke="#80b8dc" stroke-width="1.35" stroke-linecap="square" fill="none" d="M248.0 145.7h0M245.7 143.9h0M246.0 142.7h0M249.1 146.9h0M242.8 142.5h0M248.5 149.3h0M242.0 143.8h0M244.0 149.7h0M246.0 145.3h0M245.2 148.8h0M245.2 142.2h0M243.2 145.7h0M242.0 141.7h0M246.8 145.0h0M244.7 142.5h0M246.5 141.2h0M244.9 147.7h0M242.8 147.9h0M249.2 148.1h0M248.0 147.6h0M243.4 150.1h0M245.5 143.7h0M241.7 144.8h0M247.3 144.1h0M244.0 144.6h0M244.2 149.9h0M244.5 148.5h0M240.5 142.9h0M239.7 143.3h0M245.6 143.5h0M241.3 148.5h0M246.1 142.9h0M242.9 149.7h0M248.4 145.5h0M241.9 142.5h0M245.3 145.6h0M246.9 146.0h0M246.5 146.8h0M241.8 142.9h0M247.6 148.5h0M245.4 149.8h0M245.3 149.8h0M246.0 141.7h0M245.4 141.2h0"/>
<polygon points="252.3,147.9 257.2,143.0 264.1,141.6 271.1,140.9 275.2,141.6 273.8,144.4 268.3,147.2 264.1,152.0 258.6,153.4 253.0,152.0" fill="#5cb864" fill-opacity="0.75"/>
<path stroke="#5cb864" stroke-width="1.35" stroke-linecap="square" fill="none" d="M263.3 148.1h0M261.1 150.1h0M262.0 141.8h0M257.5 145.2h0M264.2 149.9h0M264.2 146.8h0M255.8 148.9h0M257.0 143.7h0M259.0 146.0h0M257.9 150.1h0M259.6 149.5h0M266.2 145.5h0M273.3 140.6h0M266.8 149.3h0M271.0 142.0h0M269.0 144.4h0M261.1 150.1h0M263.5 144.2h0M268.2 147.1h0M260.5 149.5h0M265.9 141.4h0M256.7 150.0h0M257.2 151.9h0M255.7 145.3h0M268.6 141.8h0M257.9 143.1h0M259.0 151.5h0M263.7 143.0h0M273.0 144.0h0M264.8 146.7h0M261.7 145.2h0M262.2 141.6h0M261.5 143.6h0M259.8 147.7h0M266.6 143.3h0M265.5 148.7h0M265.6 145.2h0M255.2 146.9h0M260.0 151.5h0M259.4 150.7h0M264.4 142.9h0M258.6 151.9h0M256.6 151.1h0M263.7 143.3h0M268.7 144.5h0M270.0 142.7h0M266.3 147.7h0M256.4 150.1h0M256.7 145.6h0M258.1 144.2h0M263.9 151.6h0M262.2 147.1h0M270.6 141.8h0M274.8 142.7h0M266.2 148.3h0M262.0 144.9h0M261.3 151.2h0M259.1 150.1h0M264.6 151.3h0M273.4 141.9h0M254.5 147.4h0M256.9 151.2h0M266.3 143.6h0M256.7 151.9h0M261.6 144.7h0M260.3 143.2h0M258.9 148.2h0M257.4 144.0h0M258.3 145.8h0M257.4 145.2h0M261.8 147.3h0M274.6 141.5h0M258.9 143.1h0M258.5 145.1h0M261.1 148.5h0M253.6 149.6h0M266.9 145.6h0M258.5 147.8h0M266.0 143.8h0M260.4 142.3h0M256.3 147.9h0M272.9 142.3h0M263.0 146.4h0M263.1 152.1h0M263.9 148.2h0M261.1 150.6h0M266.8 145.8h0M266.7 148.1h0M259.5 148.0h0M265.5 144.9h0M257.2 149.8h0M269.6 143.5h0M261.4 151.9h0M259.7 149.9h0M272.2 141.0h0M265.2 143.4h0M258.0 146.8h0M268.2 143.2h0M267.3 142.7h0M259.2 151.9h0M265.9 146.3h0M271.6 143.8h0M256.7 146.1h0M265.8 147.0h0M263.5 144.7h0M255.6 152.3h0M263.0 147.8h0M254.0 150.2h0M256.7 148.1h0M256.3 143.8h0M266.2 144.6h0M261.6 153.0h0M261.3 144.9h0M263.6 153.3h0M263.9 150.9h0M253.7 149.9h0M262.6 142.2h0M264.0 144.4h0M262.1 143.8h0M260.0 147.4h0M266.6 147.5h0M267.9 144.9h0M266.7 146.0h0M273.4 144.0h0M268.8 144.3h0M268.7 144.2h0M262.6 150.5h0M263.3 148.7h0M255.0 151.4h0M263.2 149.0h0M254.2 150.2h0M264.3 148.5h0M253.8 151.0h0M258.9 150.4h0M273.4 140.8h0M257.1 148.9h0M258.3 152.0h0M268.8 145.7h0M265.1 146.7h0M265.5 144.3h0M263.7 145.2h0M265.1 148.7h0M253.5 148.0h0M263.5 146.6h0M261.5 144.1h0M260.7 148.1h0M265.6 143.2h0M256.0 150.8h0M267.7 140.4h0M265.3 148.0h0M265.3 150.4h0M259.2 150.8h0M259.7 146.3h0M266.0 143.0h0M263.7 142.9h0M270.6 144.7h0M254.4 152.7h0M268.7 145.1h0M261.1 145.9h0M258.7 143.6h0M273.2 143.0h0M267.7 148.0h0M264.4 148.2h0M263.9 151.2h0M268.1 143.9h0M265.9 142.9h0M253.8 150.2h0M252.4 149.6h0M255.1 153.7h0M254.1 152.8h0M257.6 153.3h0M252.0 148.0h0M253.0 146.2h0"/>
<polygon points="294.6,144.4 300.2,138.8 308.5,134.7 316.8,133.3 322.4,137.4 323.8,143.0 319.6,148.5 312.7,154.1 305.7,156.9 298.8,156.9 293.3,151.3" fill="#6c6ee6" fill-opacity="0.75"/>
<path stroke="#6c6ee6" stroke-width="1.35" stroke-linecap="square" fill="none" d="M314.3 134.9h0M320.9 146.9h0M313.9 146.8h0M317.4 150.2h0M299.4 141.4h0M297.9 148.8h0M315.5 134.3h0M315.1 135.1h0M296.0 144.0h0M314.4 143.3h0M298.1 150.4h0M310.1 153.3h0M296.4 144.6h0M300.6 146.2h0M309.7 153.7h0M319.0 146.0h0M303.0 140.1h0M295.9 152.8h0M317.3 144.7h0M309.4 153.4h0M299.2 144.3h0M305.4 140.6h0M319.2 145.4h0M307.3 151.8h0M300.4 143.6h0M314.5 140.3h0M301.2 145.9h0M307.4 143.4h0M320.9 142.4h0M308.5 150.5h0M311.7 153.1h0M312.6 144.2h0M294.3 148.1h0M299.1 143.8h0M305.3 154.0h0M299.5 138.4h0M300.0 140.6h0M305.3 154.1h0M320.6 141.3h0M299.4 146.2h0M312.6 150.3h0M319.0 140.9h0M308.3 145.3h0M306.5 145.0h0M308.3 148.8h0M317.3 137.5h0M319.8 145.1h0M300.4 140.1h0M317.5 143.1h0M307.1 138.0h0M296.8 152.3h0M300.9 152.4h0M320.4 140.9h0M313.1 140.3h0M314.1 141.1h0M300.0 146.6h0M318.7 142.5h0M296.5 146.3h0M319.8 138.4h0M309.8 135.7h0M308.4 135.3h0M314.3 138.0h0M299.0 151.2h0M304.3 141.5h0M297.0 141.9h0M304.8 136.6h0M311.5 148.6h0M308.0 146.2h0M310.3 136.2h0M315.2 147.4h0M302.1 152.3h0M306.3 136.4h0M301.2 155.4h0M312.3 152.7h0M309.8 155.1h0M311.0 144.5h0M311.8 149.9h0M303.6 146.5h0M309.0 155.2h0M308.4 143.9h0M299.1 150.5h0M298.8 147.7h0M316.8 145.8h0M308.7 145.9h0M318.1 144.0h0M308.0 155.5h0M306.3 154.4h0M313.6 140.7h0M310.6 145.3h0M316.8 135.7h0M310.4 139.5h0M314.4 151.5h0M300.7 143.5h0M307.5 155.3h0M320.7 143.7h0M304.0 142.4h0M305.1 154.1h0M302.3 140.3h0M309.5 146.8h0M319.7 140.8h0M307.3 146.2h0M317.3 150.5h0M306.8 141.4h0M306.7 142.3h0M309.2 153.9h0M306.9 136.3h0M305.9 142.3h0M318.7 135.6h0M323.3 138.6h0M308.8 145.9h0M322.6 141.0h0M308.4 152.2h0M305.6 139.3h0M312.0 153.3h0M313.6 138.5h0M300.2 143.9h0M306.0 152.8h0M313.0 146.1h0M322.5 138.0h0M295.2 152.3h0M294.8 150.5h0M299.6 153.4h0M299.2 155.6h0M314.8 135.0h0M320.6 144.6h0M303.5 154.5h0M298.9 141.9h0M303.4 147.6h0M305.0 153.1h0M301.1 143.9h0M306.5 149.1h0M312.7 141.2h0M317.7 139.8h0M305.9 136.8h0M297.6 155.7h0M300.3 150.7h0M297.4 144.8h0M308.6 154.2h0M303.1 150.0h0M302.6 142.2h0M297.0 146.7h0M307.5 140.9h0M302.4 139.4h0M313.4 135.6h0M306.3 141.2h0M314.8 141.2h0M307.0 140.9h0M295.0 151.5h0M311.8 143.6h0M314.2 143.0h0M314.5 150.8h0M313.9 146.8h0M310.8 134.8h0M300.5 145.1h0M299.1 145.9h0M301.7 144.8h0M304.8 156.0h0M320.9 137.6h0M296.2 152.4h0M314.0 139.4h0M313.1 133.9h0M308.3 141.7h0M298.6 153.9h0M313.3 146.4h0M317.0 136.7h0M305.3 141.6h0M315.7 150.4h0M303.8 147.7h0M302.1 145.1h0M304.7 155.5h0M315.2 141.3h0M300.3 141.3h0M300.8 140.2h0M302.6 148.3h0M304.1 148.4h0M305.6 154.1h0M305.5 153.3h0M319.2 145.3h0M296.0 141.9h0M303.1 139.5h0M323.1 141.3h0M301.1 152.1h0M300.0 146.8h0M308.0 135.8h0M312.4 143.3h0M308.6 136.5h0M312.4 150.8h0M313.0 138.1h0M303.1 141.9h0M311.2 148.8h0M323.2 143.5h0M311.3 139.5h0M301.1 148.4h0M301.2 143.1h0M316.1 145.6h0M299.3 141.6h0M304.3 149.5h0M306.4 138.1h0M306.2 145.3h0M310.0 148.0h0M316.1 143.6h0M302.5 148.1h0M303.2 147.3h0M315.7 148.6h0M309.0 140.7h0M307.9 144.4h0M311.0 146.4h0M308.7 152.6h0M300.1 150.2h0M298.6 147.8h0M309.5 140.8h0M307.3 144.1h0M310.1 148.7h0M304.8 139.9h0M303.0 142.4h0M321.1 137.7h0M321.5 145.9h0M304.7 141.7h0M301.4 155.9h0M310.3 138.6h0M312.9 147.4h0M311.8 139.4h0M320.4 141.0h0M300.8 152.9h0M310.7 143.4h0M309.3 140.9h0M315.6 147.9h0M311.6 138.2h0M305.9 146.7h0M302.8 137.7h0M316.2 149.3h0M310.0 153.2h0M297.9 142.8h0M316.7 145.6h0M301.1 152.1h0M318.8 143.9h0M300.2 151.5h0M307.9 147.9h0M300.4 138.4h0M307.3 139.5h0M316.3 144.4h0M308.6 149.6h0M305.2 149.0h0M319.6 135.4h0M312.2 143.8h0M309.9 138.3h0M294.6 151.8h0M301.5 154.9h0M303.3 151.5h0M307.6 145.4h0M309.8 153.4h0M312.5 144.0h0M303.0 138.0h0M293.2 148.3h0M294.1 151.9h0M301.4 140.7h0M302.2 141.4h0M312.3 141.2h0M317.4 134.8h0M308.8 152.9h0M301.4 155.3h0M297.1 152.9h0M318.6 136.3h0M305.6 155.4h0M303.9 155.9h0M305.8 137.7h0M317.7 144.6h0M302.9 155.2h0M314.7 149.4h0M311.3 139.0h0M316.4 150.4h0M317.9 138.2h0M311.7 135.9h0M302.2 139.4h0M315.3 151.9h0M313.6 150.7h0M317.1 150.5h0M316.7 150.1h0M309.2 141.9h0M296.3 154.4h0M317.2 141.3h0M304.6 140.4h0M304.6 139.3h0M314.2 145.6h0M311.8 148.7h0M295.3 152.6h0M308.2 136.4h0M295.9 150.4h0M297.9 145.6h0M318.8 146.1h0M311.3 146.4h0M319.8 143.6h0M299.1 144.2h0M311.4 138.5h0M301.3 148.3h0M318.1 145.8h0M302.8 141.8h0M309.1 153.3h0M318.4 138.8h0M301.8 147.5h0M317.0 151.0h0M299.9 145.6h0M305.6 151.2h0M310.4 152.1h0M300.5 150.8h0M307.9 151.6h0M298.9 148.6h0M307.4 149.1h0M306.2 152.7h0M308.3 149.5h0M313.7 134.1h0M304.5 150.3h0M298.1 146.4h0M317.0 134.8h0M318.9 139.4h0M313.6 151.3h0M323.5 139.2h0M303.8 150.1h0M308.1 142.7h0M303.9 152.2h0M324.3 141.1h0M311.6 139.7h0M296.3 144.6h0M317.2 138.2h0M308.0 149.8h0M310.0 149.1h0M314.4 143.7h0M321.2 144.7h0M305.5 143.2h0M321.5 140.8h0M305.1 139.4h0M306.3 134.2h0M315.1 148.6h0M303.5 154.5h0M303.3 150.9h0M316.3 138.6h0M310.4 152.9h0M318.9 148.6h0M317.2 146.5h0M310.8 135.0h0M305.4 140.8h0M313.6 135.2h0M306.4 137.7h0M306.6 156.4h0M303.2 147.2h0M310.2 138.9h0M304.6 136.1h0M309.6 149.7h0M308.2 147.4h0M303.7 151.1h0M300.8 139.5h0M302.4 153.5h0M318.9 141.1h0M293.8 152.3h0M292.5 151.2h0M301.6 144.4h0M308.2 142.5h0M306.2 140.1h0M306.7 148.0h0M301.1 145.0h0M305.6 139.3h0M299.5 153.0h0M299.8 145.3h0M300.7 146.9h0M302.3 148.6h0M308.6 144.4h0M303.2 145.3h0M298.5 151.3h0M307.5 156.0h0M316.5 141.6h0M307.3 149.8h0M302.9 139.6h0M319.1 138.5h0M307.8 136.9h0M318.2 148.3h0M308.5 137.5h0M311.6 141.2h0M315.2 141.7h0M316.4 135.9h0M319.5 145.9h0M311.6 135.3h0M313.6 133.9h0M310.2 142.2h0M308.2 145.6h0M314.9 150.5h0M309.6 140.4h0M307.4 151.2h0M313.7 143.6h0M313.6 148.5h0M309.1 147.2h0M306.3 149.4h0M308.4 153.4h0M311.2 149.4h0M302.0 142.0h0M308.3 141.1h0M295.6 146.7h0M310.9 148.9h0M311.4 150.5h0M305.1 140.8h0M314.1 146.1h0M316.3 137.7h0M298.5 144.9h0M318.7 149.8h0M316.0 144.0h0M306.6 147.6h0M304.5 140.4h0M308.3 146.5h0M311.4 143.2h0M314.8 149.7h0M312.2 152.8h0M314.8 132.9h0M313.4 144.2h0M307.0 136.6h0M298.4 145.0h0M306.3 155.9h0M313.3 147.0h0M305.0 142.2h0M299.7 142.7h0M306.5 136.3h0M310.6 152.5h0M304.4 149.1h0M307.4 140.8h0M295.1 147.0h0M299.9 151.8h0M309.5 147.2h0M315.1 140.8h0M299.2 156.2h0M308.4 154.2h0M306.3 141.0h0M317.5 142.3h0M315.8 139.5h0M308.4 137.0h0M312.9 144.0h0M312.1 152.4h0M298.8 156.7h0M303.1 148.5h0M298.6 142.8h0M294.3 152.0h0M313.9 147.0h0M306.1 154.0h0M318.5 148.3h0M305.4 152.9h0M299.0 155.4h0M296.1 151.9h0M296.7 149.5h0M305.3 149.7h0M303.4 145.4h0M319.7 144.3h0M300.1 147.2h0M307.1 150.2h0M312.6 147.4h0M303.3 138.3h0M314.8 147.0h0M308.2 149.9h0M304.1 143.0h0M301.9 148.9h0M308.3 152.1h0M311.4 152.5h0M317.5 146.5h0M304.7 157.4h0M304.1 152.0h0M310.2 143.0h0M302.5 144.9h0M300.1 145.0h0M314.9 145.5h0M320.3 137.8h0M318.2 134.3h0M306.3 139.5h0M316.8 139.1h0M315.8 136.5h0M311.9 145.4h0M307.7 139.9h0M317.1 147.4h0M300.1 148.3h0M296.9 142.2h0M299.1 140.4h0M313.5 151.9h0M309.5 148.0h0M299.0 147.2h0M318.6 139.5h0M309.7 139.0h0M302.6 139.6h0M312.8 148.7h0M308.3 151.8h0M312.0 138.1h0M307.6 143.2h0M299.3 142.4h0M298.8 147.3h0M311.8 135.3h0M316.8 133.4h0M320.0 136.8h0M316.9 143.8h0M307.3 150.6h0M312.4 149.9h0M312.8 143.0h0M302.3 140.7h0M306.6 155.3h0M316.8 136.3h0M300.6 141.8h0M295.9 145.3h0M296.2 146.2h0M305.9 143.4h0M304.1 141.3h0M303.7 154.1h0M308.2 136.4h0M309.4 138.4h0M310.6 153.5h0M295.2 151.7h0M313.7 140.5h0M308.6 137.5h0M312.6 146.7h0M319.8 141.4h0M300.6 151.1h0M304.9 141.3h0M309.3 144.4h0M299.8 146.4h0M302.4 153.0h0M302.5 144.0h0M306.7 141.0h0M317.6 135.7h0M312.4 153.1h0M307.5 138.6h0M296.5 152.5h0M320.2 135.5h0M296.8 143.9h0M310.6 153.0h0M309.6 134.5h0M320.1 138.8h0M312.1 140.6h0M315.6 136.6h0M298.4 155.9h0M322.1 141.6h0M308.1 149.2h0M308.2 140.7h0M306.5 154.7h0M305.6 153.5h0M309.1 155.5h0M293.6 145.9h0M313.3 133.5h0M292.2 152.9h0M300.5 157.1h0M295.7 157.3h0M301.9 136.7h0M313.3 154.6h0M293.0 153.1h0M318.9 150.7h0M323.5 145.1h0M314.7 154.1h0M294.9 143.9h0M291.0 151.1h0M323.2 145.0h0M294.4 154.7h0M324.2 135.7h0M291.0 150.5h0M301.4 158.1h0M305.4 158.6h0M323.0 146.3h0"/>
<polygon points="266.9,156.9 276.6,153.4 287.7,152.0 293.3,154.8 296.0,159.6 301.6,165.2 303.0,168.0 297.4,172.1 287.7,174.9 276.6,175.6 268.3,174.2 263.4,170.0 264.1,162.4" fill="#e046aa" fill-opacity="0.75"/>
<path stroke="#e046aa" stroke-width="1.35" stroke-linecap="square" fill="none" d="M288.9 170.5h0M277.7 174.0h0M299.8 164.5h0M286.2 172.1h0M266.3 168.1h0M272.6 159.2h0M276.3 175.4h0M273.7 168.3h0M288.7 171.7h0M289.8 169.4h0M269.2 157.9h0M272.1 168.3h0M294.5 170.3h0M282.1 159.0h0M284.4 175.4h0M266.4 159.9h0M292.1 169.9h0M288.1 164.9h0M268.4 167.3h0M267.7 156.5h0M286.7 153.3h0M268.2 166.4h0M273.0 174.9h0M276.7 154.6h0M280.4 158.7h0M284.3 169.3h0M270.6 163.6h0M292.8 166.9h0M266.0 168.6h0M277.0 159.5h0M280.5 164.6h0M273.8 160.3h0M290.6 158.3h0M273.4 168.1h0M289.8 172.1h0M299.1 167.6h0M273.0 168.8h0M266.0 160.5h0M275.6 159.0h0M301.9 167.4h0M280.3 157.1h0M286.1 155.9h0M282.2 158.5h0M297.8 161.4h0M276.4 158.6h0M291.4 167.8h0M269.0 164.6h0M297.3 162.3h0M272.6 167.5h0M287.8 167.2h0M269.3 172.0h0M271.7 172.7h0M299.9 164.1h0M302.7 168.3h0M277.4 167.7h0M284.5 162.0h0M274.7 171.9h0M281.8 167.6h0M281.4 173.1h0M296.9 164.9h0M289.2 168.8h0M279.4 172.7h0M293.5 165.3h0M291.7 162.4h0M291.9 161.0h0M273.0 173.4h0M294.6 167.9h0M286.4 172.7h0M267.8 159.2h0M273.1 156.7h0M285.3 175.0h0M267.8 160.3h0M290.2 170.6h0M267.8 160.8h0M289.3 160.5h0M285.8 161.1h0M271.0 158.6h0M295.7 160.9h0M280.5 158.7h0M272.0 160.3h0M269.8 159.5h0M286.2 163.5h0M270.9 167.6h0M290.0 152.8h0M266.3 169.4h0M276.0 160.8h0M286.6 171.4h0M283.0 152.0h0M279.4 156.9h0M274.0 166.5h0M276.2 159.0h0M285.3 164.8h0M275.1 171.3h0M265.8 164.3h0M289.8 157.8h0M275.5 175.3h0M289.0 168.0h0M298.4 171.8h0M269.4 168.2h0M279.2 154.7h0M301.8 168.4h0M282.5 159.5h0M291.3 163.8h0M268.0 160.1h0M296.8 164.5h0M286.1 171.9h0M274.8 167.2h0M286.7 157.4h0M280.7 174.6h0M267.4 168.6h0M300.1 169.4h0M274.4 173.1h0M272.6 172.0h0M281.9 154.8h0M288.9 160.4h0M295.4 169.4h0M281.1 166.0h0M275.4 158.1h0M289.1 172.8h0M286.6 164.7h0M293.0 168.5h0M285.3 157.2h0M281.4 163.4h0M268.7 166.0h0M263.8 166.8h0M268.4 163.5h0M270.6 162.6h0M283.1 166.2h0M274.1 164.0h0M278.3 162.4h0M297.4 162.9h0M275.2 158.3h0M287.2 162.6h0M280.1 172.6h0M300.2 170.3h0M289.6 154.0h0M292.9 167.7h0M277.5 156.0h0M269.9 160.6h0M298.6 163.7h0M278.1 159.8h0M280.9 176.2h0M290.7 160.2h0M269.5 173.0h0M282.2 161.6h0M296.6 164.9h0M278.9 175.3h0M299.8 165.5h0M289.6 159.3h0M276.6 164.1h0M292.8 169.3h0M285.6 168.4h0M280.2 161.8h0M277.0 167.5h0M289.1 160.6h0M292.3 158.0h0M275.8 167.4h0M294.3 161.5h0M287.7 157.8h0M292.7 156.0h0M289.9 166.1h0M278.8 154.3h0M284.6 172.5h0M278.2 170.7h0M293.3 172.3h0M278.4 159.2h0M282.6 168.8h0M303.2 167.1h0M296.2 169.8h0M284.9 173.1h0M275.2 165.3h0M278.4 161.8h0M285.0 164.2h0M297.4 162.5h0M272.3 163.1h0M288.5 153.7h0M296.6 161.4h0M266.0 158.6h0M281.3 155.9h0M271.2 169.9h0M291.7 170.6h0M285.9 162.5h0M301.0 166.8h0M295.6 164.2h0M281.3 154.9h0M277.6 154.2h0M286.0 161.9h0M285.7 168.8h0M284.4 154.7h0M287.2 158.1h0M281.7 173.0h0M271.0 170.1h0M271.8 158.8h0M263.5 168.9h0M288.8 158.7h0M281.9 160.2h0M278.2 165.9h0M284.7 152.4h0M291.6 166.3h0M289.7 163.0h0M271.3 159.3h0M273.1 173.7h0M274.2 153.0h0M294.2 170.7h0M272.6 167.1h0M294.2 158.6h0M279.9 172.1h0M285.6 164.1h0M267.1 164.8h0M275.7 168.9h0M299.3 168.0h0M273.2 164.5h0M293.6 170.6h0M274.7 168.5h0M268.6 165.7h0M274.3 172.7h0M271.4 166.3h0M263.6 169.1h0M296.8 161.8h0M290.2 166.5h0M267.4 165.8h0M264.5 169.9h0M293.1 164.4h0M292.2 159.5h0M272.0 175.0h0M287.8 162.8h0M274.3 167.3h0M282.6 162.6h0M275.7 168.9h0M276.3 158.0h0M272.2 164.0h0M286.3 152.3h0M271.8 169.9h0M299.9 167.2h0M271.6 167.2h0M275.9 169.2h0M295.2 172.4h0M284.6 170.8h0M275.5 171.8h0M265.8 164.1h0M267.6 171.6h0M289.4 169.8h0M267.4 157.2h0M262.9 170.2h0M273.8 154.9h0M276.6 158.0h0M270.0 160.3h0M294.7 164.1h0M281.0 163.9h0M273.1 161.9h0M300.7 168.0h0M266.7 171.3h0M278.1 159.5h0M273.7 166.4h0M283.8 172.9h0M278.5 157.6h0M287.3 166.7h0M300.0 166.9h0M269.5 160.0h0M289.9 154.8h0M293.0 156.0h0M279.9 165.1h0M285.3 162.5h0M281.9 174.3h0M286.5 158.6h0M279.6 163.0h0M278.5 173.2h0M288.1 154.7h0M266.4 172.0h0M265.2 162.4h0M289.3 165.5h0M275.2 169.6h0M285.2 171.1h0M278.6 173.8h0M269.4 173.5h0M298.5 170.6h0M289.7 173.5h0M270.4 172.0h0M279.6 157.5h0M269.3 166.2h0M266.3 164.8h0M283.4 171.3h0M278.5 159.1h0M287.7 157.3h0M284.2 174.8h0M269.1 162.0h0M273.2 174.3h0M269.2 173.0h0M279.2 160.6h0M266.8 164.2h0M290.7 160.9h0M277.9 154.0h0M279.0 154.8h0M276.5 173.1h0M270.4 157.1h0M288.8 164.1h0M267.9 163.3h0M275.8 161.9h0M292.2 162.8h0M285.7 166.3h0M278.3 156.1h0M273.9 161.4h0M291.8 166.8h0M287.8 174.2h0M288.0 163.3h0M269.8 170.9h0M299.4 168.3h0M297.9 169.5h0M290.8 170.5h0M267.2 165.0h0M265.8 159.9h0M275.4 166.3h0M277.7 165.6h0M289.4 173.9h0M290.6 162.0h0M272.9 173.8h0M274.9 160.7h0M295.5 161.9h0M275.9 159.5h0M270.0 171.9h0M302.0 167.5h0M291.5 162.6h0M272.5 165.3h0M278.4 162.0h0M297.7 167.4h0M293.5 168.2h0M301.6 168.6h0M287.3 166.2h0M270.0 161.0h0M283.0 159.0h0M296.9 162.4h0M293.3 155.5h0M299.8 166.8h0M277.9 168.7h0M273.5 155.4h0M286.4 174.4h0M288.3 172.8h0M272.7 165.8h0M276.6 162.5h0M281.8 157.1h0M272.7 167.6h0M287.8 174.1h0M272.8 162.2h0M294.9 172.5h0M290.3 160.4h0M301.5 165.5h0M286.9 155.6h0M276.2 173.0h0M291.9 168.2h0M291.8 155.0h0M266.2 167.7h0M276.7 167.8h0M276.7 171.4h0M270.0 159.4h0M278.1 166.9h0M270.9 159.4h0M298.4 168.8h0M285.8 162.6h0M289.3 170.1h0M297.9 169.9h0M283.3 165.8h0M284.7 159.6h0M270.3 169.6h0M280.4 169.2h0M285.1 169.4h0M281.4 157.4h0M266.1 170.0h0M274.8 155.9h0M286.8 156.6h0M292.6 162.6h0M290.4 167.6h0M281.4 155.3h0M272.0 154.7h0M289.9 156.0h0M293.6 162.7h0M279.3 169.6h0M276.9 154.6h0M275.0 162.8h0M293.5 157.4h0M282.0 164.7h0M275.7 160.0h0M292.9 170.2h0M266.7 171.8h0M264.6 169.8h0M296.3 164.9h0M268.8 160.6h0M288.6 162.1h0M291.5 166.6h0M268.6 168.6h0M271.0 171.4h0M274.5 164.6h0M268.8 168.3h0M298.6 166.6h0M295.6 169.2h0M273.0 158.8h0M281.7 164.9h0M273.0 162.1h0M292.2 172.2h0M284.8 170.3h0M296.2 169.5h0M276.6 169.7h0M294.7 158.2h0M285.9 152.9h0M275.9 168.1h0M286.4 155.7h0M289.6 160.4h0M289.5 162.5h0M290.9 154.0h0M285.5 161.6h0M279.7 167.3h0M294.5 162.1h0M282.6 165.5h0M286.2 161.3h0M292.0 167.4h0M295.5 167.8h0M271.8 171.4h0M292.3 165.1h0M298.1 164.7h0M272.9 170.9h0M264.7 167.2h0M266.9 157.0h0M280.4 164.6h0M272.2 155.8h0M281.1 172.5h0M294.2 156.1h0M296.9 165.2h0M278.4 168.4h0M277.6 162.0h0M277.7 157.9h0M301.3 169.2h0M272.8 165.5h0M284.5 158.6h0M266.4 171.2h0M292.9 164.3h0M288.9 162.2h0M284.3 160.8h0M284.8 154.0h0M275.7 159.3h0M286.9 161.5h0M272.6 173.5h0M295.5 165.7h0M285.3 159.3h0M289.7 161.4h0M272.7 170.4h0M288.5 172.3h0M272.7 161.6h0M268.4 156.8h0M285.4 168.2h0M277.5 174.5h0M289.7 162.9h0M273.5 172.5h0M267.4 165.3h0M276.8 154.8h0M288.8 173.5h0M270.7 157.1h0M265.5 165.0h0M266.2 167.7h0M292.8 169.2h0M266.3 161.4h0M284.2 158.2h0M272.8 170.6h0M290.4 172.3h0M274.3 162.1h0M282.5 162.9h0M273.1 162.3h0M271.6 163.7h0M277.8 174.9h0M279.4 172.5h0M298.0 169.9h0M280.2 165.9h0M294.0 156.9h0M280.1 163.8h0M288.2 164.6h0M270.5 172.9h0M266.7 158.3h0M265.5 165.0h0M287.5 170.8h0M270.6 157.5h0M272.0 157.7h0M293.6 170.4h0M287.5 172.5h0M284.4 160.1h0M282.6 154.5h0M287.3 164.8h0M275.9 173.2h0M272.9 161.8h0M294.6 164.7h0M278.5 158.4h0M279.7 167.0h0M279.1 158.7h0M298.7 164.2h0M281.1 170.8h0M270.9 156.9h0M287.2 166.6h0M293.0 163.1h0M284.4 155.2h0M273.5 171.1h0M290.0 173.7h0M272.5 169.2h0M294.0 167.5h0M273.0 168.3h0M266.6 162.8h0M285.9 158.9h0M282.0 174.4h0M274.0 165.5h0M278.7 173.4h0M290.5 170.1h0M282.9 171.8h0M277.9 160.6h0M283.6 160.5h0M266.7 160.4h0M284.5 167.7h0M277.2 163.9h0M288.6 155.1h0M292.7 168.8h0M271.0 172.7h0M274.6 166.6h0M281.3 158.0h0M291.2 164.9h0M279.7 167.0h0M278.4 161.3h0M276.6 169.0h0M283.8 173.7h0M282.5 170.1h0M283.1 162.4h0M283.9 166.3h0M276.9 173.2h0M297.4 167.6h0M282.3 153.6h0M277.9 159.3h0M277.8 154.5h0M267.9 172.1h0M288.4 154.4h0M293.7 170.0h0M272.0 159.8h0M273.8 163.3h0M269.9 166.0h0M288.6 155.1h0M277.0 172.8h0M279.2 168.2h0M292.6 162.7h0M293.2 155.5h0M301.1 166.9h0M277.6 172.9h0M274.3 156.2h0M280.4 169.6h0M287.0 163.2h0M284.5 166.4h0M273.3 173.9h0M284.9 152.0h0M291.7 166.2h0M275.0 170.2h0M281.9 158.6h0M270.5 168.9h0M296.5 169.1h0M266.7 162.3h0M285.1 174.6h0M299.7 168.8h0M274.1 160.1h0M273.1 155.6h0M264.4 165.9h0M278.4 168.4h0M277.2 170.6h0M278.8 153.8h0M296.2 164.9h0M285.5 159.8h0M270.5 171.8h0M286.5 167.0h0M293.9 158.2h0M287.4 175.3h0M298.4 167.4h0M282.1 160.0h0M273.8 160.3h0M287.1 156.3h0M269.6 165.1h0M280.3 172.4h0M289.0 155.2h0M293.8 169.3h0M282.7 160.4h0M278.5 160.5h0M275.4 170.9h0M279.6 154.3h0M268.2 165.2h0M264.8 165.2h0M287.5 161.8h0M297.2 170.5h0M286.6 157.0h0M282.7 163.1h0M288.3 173.9h0M284.3 171.7h0M299.0 167.1h0M270.5 167.4h0M270.6 162.2h0M297.0 159.7h0M280.1 171.7h0M285.4 171.8h0M269.4 160.7h0M288.9 160.7h0M285.2 171.6h0M285.8 152.4h0M278.9 161.4h0M286.6 163.4h0M293.9 171.9h0M267.2 160.3h0M271.9 172.5h0M283.7 166.0h0M275.1 172.4h0M283.7 155.2h0M271.5 167.9h0M284.8 156.7h0M300.8 169.1h0M275.7 169.6h0M293.8 156.2h0M267.4 167.2h0M281.2 173.6h0M295.4 168.2h0M277.8 165.1h0M277.4 161.4h0M269.0 164.8h0M291.1 153.6h0M274.7 158.9h0M277.3 160.9h0M294.8 166.3h0M276.1 172.6h0M277.3 156.6h0M283.4 168.1h0M272.3 157.0h0M296.2 170.3h0M290.6 154.8h0M265.1 169.7h0M289.6 171.9h0M280.6 161.1h0M300.7 166.4h0M272.3 168.7h0M286.9 158.1h0M293.8 165.7h0M290.4 172.0h0M274.7 155.7h0M295.3 165.2h0M269.5 159.7h0M288.4 174.0h0M271.4 166.6h0M290.7 155.4h0M271.0 157.9h0M292.8 155.1h0M270.6 155.2h0M281.1 162.0h0M286.3 159.9h0M266.5 158.6h0M267.0 160.9h0M283.9 153.1h0M286.6 171.9h0M287.5 155.3h0M283.5 164.2h0M268.1 162.2h0M272.5 158.3h0M294.9 170.3h0M294.0 166.9h0M297.1 170.0h0M289.4 152.3h0M283.2 158.7h0M286.8 168.7h0M288.0 155.8h0M287.4 172.7h0M275.3 155.9h0M279.7 163.3h0M295.2 159.1h0M290.0 174.0h0M290.3 159.1h0M274.4 156.9h0M271.7 175.6h0M299.2 166.0h0M285.0 165.3h0M280.1 162.6h0M285.9 169.7h0M286.9 157.5h0M300.3 170.1h0M275.4 174.8h0M286.1 157.5h0M286.5 159.2h0M274.7 173.9h0M271.2 162.6h0M272.2 158.5h0M268.5 161.5h0M296.5 169.9h0M302.9 166.0h0M274.8 174.8h0M286.5 158.1h0M294.6 163.7h0M270.2 159.2h0M276.1 157.6h0M272.8 160.6h0M295.0 163.3h0M288.0 166.8h0M271.6 167.2h0M299.4 166.9h0M265.5 167.4h0M286.9 162.5h0M296.8 168.3h0M291.7 158.3h0M271.5 174.1h0M289.7 169.8h0M265.9 167.1h0M293.2 170.8h0M279.6 166.7h0M273.5 174.1h0M279.2 166.0h0M266.8 162.1h0M265.5 171.2h0M274.8 172.0h0M279.5 166.6h0M280.8 174.8h0M296.8 161.5h0M292.9 171.5h0M267.6 157.6h0M284.7 164.8h0M295.9 161.6h0M282.3 159.1h0M292.6 173.3h0M290.1 157.4h0M274.3 164.7h0M285.1 164.1h0M300.6 165.3h0M279.9 153.6h0M298.0 170.4h0M294.0 160.5h0M286.2 161.5h0M277.9 162.1h0M279.0 175.2h0M296.6 169.9h0M295.3 169.0h0M280.9 152.5h0M300.1 168.8h0M269.3 172.4h0M281.5 169.0h0M298.7 167.9h0M271.7 163.8h0M286.2 156.3h0M276.6 159.1h0M272.4 156.0h0M289.6 163.0h0M297.2 168.3h0M290.5 156.9h0M287.3 171.8h0M274.9 157.3h0M268.6 160.0h0M290.6 165.5h0M271.1 172.8h0M268.9 156.3h0M289.0 161.4h0M281.5 160.0h0M267.6 161.4h0M273.9 174.5h0M282.9 166.3h0M279.6 163.5h0M275.2 159.3h0M294.7 161.9h0M282.2 160.3h0M284.4 172.0h0M300.2 164.6h0M284.7 155.0h0M272.2 158.3h0M293.9 155.9h0M263.7 169.2h0M291.0 173.0h0M288.8 155.5h0M272.0 166.2h0M295.6 168.7h0M292.5 160.0h0M281.0 174.5h0M286.7 161.0h0M274.3 168.7h0M279.5 172.2h0M265.5 164.3h0M275.7 171.0h0M296.5 165.0h0M272.5 160.6h0M281.0 172.9h0M295.3 167.4h0M293.7 167.8h0M269.1 161.3h0M287.1 158.7h0M287.0 158.0h0M271.7 157.4h0M295.7 170.4h0M274.7 158.7h0M292.3 168.9h0M281.1 153.8h0M266.1 175.1h0M261.8 162.3h0M290.7 152.2h0M272.6 175.8h0M295.0 153.2h0M264.4 158.9h0M264.4 160.0h0M270.9 154.1h0M261.4 168.2h0M286.0 176.1h0M262.9 163.5h0M278.0 176.5h0M284.6 175.4h0M284.7 175.7h0M268.0 176.0h0M279.3 152.4h0M281.1 152.0h0M272.3 154.4h0M287.3 151.7h0M294.5 156.7h0M302.5 170.2h0M260.5 164.3h0M268.8 175.7h0M302.6 163.2h0M274.4 152.3h0M264.4 156.2h0M262.3 167.1h0M294.1 174.0h0M264.4 158.8h0M263.9 158.9h0"/>
<path stroke="#e046aa" stroke-width="1.35" stroke-linecap="square" fill="none" d="M298.1 161.7h0M293.8 158.2h0M297.5 160.6h0M294.7 151.2h0M294.6 154.0h0M293.0 154.4h0M295.4 160.1h0M293.5 159.5h0M298.7 157.5h0M298.2 151.5h0M297.7 150.4h0M298.9 160.7h0"/>
<polygon points="273.1,147.9 278.0,145.8 284.9,145.1 289.1,147.9 288.4,151.3 283.5,153.4 276.6,154.1 273.1,152.7" fill="#c4cc6e" fill-opacity="0.75"/>
<path stroke="#c4cc6e" stroke-width="1.35" stroke-linecap="square" fill="none" d="M284.6 150.3h0M275.9 152.5h0M285.0 149.5h0M281.9 152.0h0M283.4 153.0h0M276.9 148.6h0M285.7 147.4h0M277.7 153.5h0M274.5 149.4h0M276.2 148.0h0M278.8 153.0h0M276.6 151.3h0M283.1 149.1h0M286.0 150.5h0M283.4 150.7h0M281.7 150.2h0M278.1 150.6h0M276.0 151.4h0M277.5 150.9h0M285.4 149.2h0M280.8 146.9h0M284.7 152.3h0M284.5 153.7h0M287.7 150.5h0M282.7 149.4h0M282.9 150.2h0M280.2 152.4h0M275.4 149.9h0M286.7 147.5h0M280.5 149.7h0M274.7 153.2h0M279.4 147.6h0M276.0 153.3h0M280.9 152.0h0M275.3 150.7h0M281.7 147.5h0M279.2 146.2h0M281.7 151.9h0M280.6 149.9h0M278.8 153.7h0M283.4 147.1h0M276.3 147.3h0M274.9 152.1h0M285.6 146.6h0M286.9 148.9h0M282.1 148.2h0M275.1 150.8h0M276.5 152.0h0M279.5 150.1h0M275.3 153.0h0M282.6 147.9h0M280.6 149.6h0M279.0 149.0h0M287.5 147.4h0M278.3 146.1h0M278.1 149.2h0M281.2 150.1h0M277.9 146.6h0M282.0 152.3h0M281.3 153.0h0M283.2 152.5h0M283.2 152.6h0M277.7 148.9h0M286.6 151.7h0M286.9 147.5h0M275.6 149.0h0M286.5 149.3h0M281.4 152.3h0M283.7 145.2h0M279.4 149.2h0M284.0 144.5h0M275.3 152.0h0M283.4 147.0h0M275.7 150.9h0M277.6 152.6h0M276.3 147.0h0M279.2 147.4h0M279.9 149.1h0M274.8 152.5h0M279.2 151.6h0M284.1 152.5h0M277.0 150.0h0M276.3 151.1h0M285.7 148.2h0M286.5 147.0h0M277.7 149.3h0M279.9 147.2h0M280.5 151.3h0M285.7 146.5h0M283.4 148.3h0M281.6 145.1h0M277.3 146.4h0M282.4 153.5h0M281.7 151.3h0M281.6 146.3h0M275.5 154.0h0M279.9 147.8h0M277.7 152.9h0M275.5 151.8h0M288.5 149.4h0M274.9 150.6h0M287.4 149.0h0M282.1 149.0h0M282.2 148.5h0M282.0 150.8h0M280.6 149.1h0M285.3 149.4h0M288.0 149.9h0M277.8 153.1h0M285.2 151.0h0M282.9 150.4h0M286.9 149.5h0M279.2 148.1h0M281.3 150.9h0M284.0 150.8h0M277.5 146.7h0M281.8 147.4h0M278.3 153.4h0M283.5 148.3h0M286.1 152.3h0M280.6 146.8h0M283.7 145.4h0M280.5 151.8h0M282.6 151.3h0M279.1 147.7h0M278.8 149.9h0M279.8 146.1h0M282.4 150.3h0M276.8 146.7h0M284.4 150.0h0M286.2 150.1h0M282.3 146.1h0M272.8 150.0h0"/>
<path stroke="#80b8dc" stroke-width="1.35" stroke-linecap="square" fill="none" d="M365.4 135.3h0M356.5 148.6h0M367.7 157.1h0M349.5 141.9h0M375.4 147.4h0M350.0 154.0h0M367.7 142.6h0M344.9 152.1h0M352.2 136.3h0M341.8 149.8h0M358.3 145.0h0M378.5 158.0h0M364.5 131.4h0M379.7 151.7h0M345.8 151.8h0M380.5 143.7h0M366.8 142.9h0M374.2 141.4h0M349.9 150.7h0M370.7 145.5h0M368.8 132.0h0M375.8 151.0h0M369.1 149.4h0M358.4 150.4h0M355.7 161.2h0M345.7 149.6h0M360.5 150.6h0M346.4 137.8h0M376.4 148.6h0M374.4 151.2h0M361.1 143.9h0M376.3 143.6h0M362.3 134.8h0M371.8 151.7h0M368.0 157.2h0M382.6 151.9h0M360.4 135.7h0M341.9 146.6h0M358.7 145.8h0M368.0 150.6h0M348.9 136.1h0M356.7 134.7h0M342.5 144.4h0M361.6 131.4h0M342.5 148.0h0M369.8 136.6h0M380.9 143.4h0M351.3 140.9h0M357.5 139.9h0M354.1 137.2h0M354.0 141.7h0M382.3 154.3h0M372.5 156.8h0M349.1 146.7h0M352.2 160.2h0M361.6 137.6h0M355.3 158.0h0M346.5 156.7h0M367.4 156.6h0M342.6 148.0h0M371.8 141.4h0M344.3 149.3h0M368.4 148.6h0M365.8 160.2h0M365.9 162.2h0"/>
<path stroke="#d9a338" stroke-width="1.35" stroke-linecap="square" fill="none" d="M390.5 138.2h0M389.9 129.0h0M381.1 135.9h0M377.8 140.3h0M367.0 133.6h0M387.4 132.9h0M386.6 134.6h0M356.6 139.1h0M388.9 132.3h0M357.8 139.6h0M372.3 139.1h0"/>
<path stroke="#e8963c" stroke-width="1.35" stroke-linecap="square" fill="none" d="M409.4 141.0h0M409.8 141.4h0M408.0 141.8h0M407.7 145.2h0M412.8 145.3h0M410.7 144.1h0M410.5 146.1h0M409.2 143.2h0M411.6 146.9h0M412.8 144.0h0"/>
<path stroke="#c47ce2" stroke-width="1.35" stroke-linecap="square" fill="none" d="M390.4 122.0h0M397.0 118.9h0"/>
<path stroke="#84e6cc" stroke-width="1.35" stroke-linecap="square" fill="none" d="M429.7 124.3h0M428.8 128.5h0M428.9 129.6h0M424.9 131.2h0M424.6 132.8h0M418.8 131.7h0M417.0 131.4h0M411.9 128.9h0M411.0 130.0h0M412.8 124.2h0M410.2 122.5h0M413.5 121.8h0M416.1 116.6h0M419.6 117.1h0M423.7 115.9h0M427.6 118.1h0M429.7 121.5h0M431.1 122.1h0"/>
<path stroke="#5cb864" stroke-width="1.35" stroke-linecap="square" fill="none" d="M381.5 162.3h0M390.5 158.4h0M390.3 167.2h0M390.6 169.2h0M382.7 163.9h0M390.2 159.5h0M390.1 169.4h0M387.5 169.7h0M386.0 167.3h0M392.1 163.8h0M384.8 160.2h0M382.9 164.2h0M383.7 164.3h0M382.8 160.0h0M387.2 165.8h0M387.3 158.8h0M388.9 162.9h0M391.2 159.8h0"/>
<path stroke="#5cb864" stroke-width="1.35" stroke-linecap="square" fill="none" d="M387.0 142.0h0M373.0 161.0h0M399.0 154.0h0M413.0 155.0h0M380.0 170.0h0"/>
<g>
<circle cx="533.7" cy="80.6" r="55.5" fill="#5a8cd0" fill-opacity="0.5"/>
<circle cx="588.3" cy="80.6" r="55.4" fill="#d86e80" fill-opacity="0.5"/>
<circle cx="561.2" cy="127.9" r="55.3" fill="#9ccc3c" fill-opacity="0.52"/>
</g>
<text x="513.6" y="69.2" font-size="11.6" text-anchor="middle" font-weight="normal" fill="#1e1a1a" >193</text>
<text x="565.0" y="54.5" font-size="11.6" text-anchor="middle" font-weight="normal" fill="#1e1a1a" >227</text>
<text x="616.5" y="69.2" font-size="11.6" text-anchor="middle" font-weight="normal" fill="#1e1a1a" >314</text>
<text x="565.0" y="98.2" font-size="11.6" text-anchor="middle" font-weight="normal" fill="#1e1a1a" >336</text>
<text x="525.2" y="121.0" font-size="11.6" text-anchor="middle" font-weight="normal" fill="#1e1a1a" >64</text>
<text x="601.8" y="121.0" font-size="11.6" text-anchor="middle" font-weight="normal" fill="#1e1a1a" >82</text>
<text x="565.0" y="158.9" font-size="11.6" text-anchor="middle" font-weight="normal" fill="#1e1a1a" >152</text>
<text x="489.6" y="24.6" font-size="11.5" text-anchor="middle" font-weight="normal" fill="#1e1a1a" >cluster0</text>
<text x="615.9" y="24.6" font-size="11.5" text-anchor="middle" font-weight="normal" fill="#1e1a1a" >cluster2</text>
<text x="565.0" y="193.7" font-size="11.5" text-anchor="middle" font-weight="normal" fill="#1e1a1a" >cluster7</text>
<rect x="114.3" y="253.6" width="199.7" height="222.50000000000003" fill="#fff" stroke="#b0b0b0" stroke-width="1"/>
<line x1="147.5" y1="253.6" x2="147.5" y2="476.1" stroke="#f4f4f4" stroke-width="0.6"/>
<line x1="196.6" y1="253.6" x2="196.6" y2="476.1" stroke="#f4f4f4" stroke-width="0.6"/>
<line x1="245.7" y1="253.6" x2="245.7" y2="476.1" stroke="#f4f4f4" stroke-width="0.6"/>
<line x1="294.8" y1="253.6" x2="294.8" y2="476.1" stroke="#f4f4f4" stroke-width="0.6"/>
<line x1="122.9" y1="253.6" x2="122.9" y2="476.1" stroke="#ebebeb" stroke-width="1"/>
<line x1="172.0" y1="253.6" x2="172.0" y2="476.1" stroke="#ebebeb" stroke-width="1"/>
<line x1="221.1" y1="253.6" x2="221.1" y2="476.1" stroke="#ebebeb" stroke-width="1"/>
<line x1="270.2" y1="253.6" x2="270.2" y2="476.1" stroke="#ebebeb" stroke-width="1"/>
<line x1="114.3" y1="266.4" x2="314" y2="266.4" stroke="#ebebeb" stroke-width="1"/>
<line x1="114.3" y1="288.2" x2="314" y2="288.2" stroke="#ebebeb" stroke-width="1"/>
<line x1="114.3" y1="310.2" x2="314" y2="310.2" stroke="#ebebeb" stroke-width="1"/>
<line x1="114.3" y1="332.1" x2="314" y2="332.1" stroke="#ebebeb" stroke-width="1"/>
<line x1="114.3" y1="354.0" x2="314" y2="354.0" stroke="#ebebeb" stroke-width="1"/>
<line x1="114.3" y1="375.9" x2="314" y2="375.9" stroke="#ebebeb" stroke-width="1"/>
<line x1="114.3" y1="397.8" x2="314" y2="397.8" stroke="#ebebeb" stroke-width="1"/>
<line x1="114.3" y1="419.6" x2="314" y2="419.6" stroke="#ebebeb" stroke-width="1"/>
<line x1="114.3" y1="441.6" x2="314" y2="441.6" stroke="#ebebeb" stroke-width="1"/>
<line x1="114.3" y1="463.5" x2="314" y2="463.5" stroke="#ebebeb" stroke-width="1"/>
<rect x="122.9" y="256.6" width="181.7" height="19.5" fill="#e8281f"/>
<rect x="122.9" y="278.5" width="181.7" height="19.5" fill="#e8281f"/>
<rect x="122.9" y="300.4" width="181.7" height="19.5" fill="#e8281f"/>
<rect x="122.9" y="322.3" width="137.5" height="19.5" fill="#e8281f"/>
<rect x="122.9" y="344.2" width="157.1" height="19.5" fill="#e8281f"/>
<rect x="122.9" y="366.1" width="108.0" height="19.5" fill="#e8262e"/>
<rect x="122.9" y="388.0" width="127.7" height="19.5" fill="#833797"/>
<rect x="122.9" y="409.9" width="112.9" height="19.5" fill="#833797"/>
<rect x="122.9" y="431.8" width="68.7" height="19.5" fill="#833797"/>
<rect x="122.9" y="453.7" width="122.8" height="19.5" fill="#2f4fa0"/>
<rect x="119.2" y="255.1" width="189.8" height="66.7" fill="none" stroke="#e8281f" stroke-width="0.9"/>
<line x1="122.9" y1="476.1" x2="122.9" y2="478.6" stroke="#666" stroke-width="0.8"/>
<text x="122.9" y="489.0" font-size="12" text-anchor="middle" font-weight="normal" fill="#333" >0</text>
<line x1="172.0" y1="476.1" x2="172.0" y2="478.6" stroke="#666" stroke-width="0.8"/>
<text x="172.0" y="489.0" font-size="12" text-anchor="middle" font-weight="normal" fill="#333" >10</text>
<line x1="221.1" y1="476.1" x2="221.1" y2="478.6" stroke="#666" stroke-width="0.8"/>
<text x="221.1" y="489.0" font-size="12" text-anchor="middle" font-weight="normal" fill="#333" >20</text>
<line x1="270.2" y1="476.1" x2="270.2" y2="478.6" stroke="#666" stroke-width="0.8"/>
<text x="270.2" y="489.0" font-size="12" text-anchor="middle" font-weight="normal" fill="#333" >30</text>
<text x="203.0" y="500.5" font-size="12" text-anchor="middle" font-weight="normal" fill="#222" >count</text>
<line x1="111.8" y1="0" x2="114.3" y2="0" stroke="#666"/>
<text x="114.8" y="259.2" font-size="11.4" text-anchor="end" font-weight="normal" fill="#222" >extracellular matrix</text>
<text x="108.2" y="272.8" font-size="11.4" text-anchor="end" font-weight="normal" fill="#222" >organization</text>
<text x="113.5" y="285.2" font-size="11.4" text-anchor="end" font-weight="normal" fill="#222" >extracellular structure</text>
<text x="109.8" y="298.6" font-size="11.4" text-anchor="end" font-weight="normal" fill="#222" >organization</text>
<text x="114.8" y="310.4" font-size="11.4" text-anchor="end" font-weight="normal" fill="#222" >external encapsulating</text>
<text x="111.7" y="324.0" font-size="11.4" text-anchor="end" font-weight="normal" fill="#222" >structure organization</text>
<text x="113.0" y="339.0" font-size="11.4" text-anchor="end" font-weight="normal" fill="#222" >cell-substrate</text>
<text x="113.5" y="352.9" font-size="11.4" text-anchor="end" font-weight="normal" fill="#222" >adhesion</text>
<text x="111.7" y="360.0" font-size="11.4" text-anchor="end" font-weight="normal" fill="#222" >ameboidal-type</text>
<text x="112.5" y="373.4" font-size="11.4" text-anchor="end" font-weight="normal" fill="#222" >cell migration</text>
<text x="112.5" y="381.2" font-size="11.4" text-anchor="end" font-weight="normal" fill="#222" >negative regulation</text>
<text x="112.5" y="395.4" font-size="11.4" text-anchor="end" font-weight="normal" fill="#222" >of growth</text>
<text x="112.5" y="403.3" font-size="11.4" text-anchor="end" font-weight="normal" fill="#222" >negative regulation</text>
<text x="112.5" y="417.2" font-size="11.4" text-anchor="end" font-weight="normal" fill="#222" >of cell motility</text>
<text x="112.5" y="425.2" font-size="11.4" text-anchor="end" font-weight="normal" fill="#222" >negative regulation</text>
<text x="112.5" y="439.1" font-size="11.4" text-anchor="end" font-weight="normal" fill="#222" >of cell adhesion</text>
<text x="110.3" y="448.0" font-size="11.4" text-anchor="end" font-weight="normal" fill="#222" >collagen metabolic</text>
<text x="110.3" y="461.9" font-size="11.4" text-anchor="end" font-weight="normal" fill="#222" >progress</text>
<text x="112.5" y="471.9" font-size="11.4" text-anchor="end" font-weight="normal" fill="#222" >negative regulation</text>
<text x="112.5" y="485.6" font-size="11.4" text-anchor="end" font-weight="normal" fill="#222" >of cell migration</text>
<text x="321.8" y="346.7" font-size="10" text-anchor="start" font-weight="normal" fill="#222" >p.adjust</text>
<defs><linearGradient id="pg" x1="0" y1="0" x2="0" y2="1"><stop offset="0" stop-color="#e8262e"/><stop offset="0.3" stop-color="#d42670"/><stop offset="0.55" stop-color="#b02898"/><stop offset="0.78" stop-color="#703399"/><stop offset="1" stop-color="#2f4fa0"/></linearGradient></defs>
<rect x="321" y="349.9" width="6.8" height="37.5" fill="url(#pg)"/>
<line x1="321" y1="353.1" x2="322.2" y2="353.1" stroke="#fff" stroke-width="0.5"/><line x1="326.6" y1="353.1" x2="327.8" y2="353.1" stroke="#fff" stroke-width="0.5"/>
<text x="329.4" y="356.4" font-size="9.8" text-anchor="start" font-weight="normal" fill="#222" transform="translate(0 42.8) scale(1 0.88)">5.0e-07</text>
<line x1="321" y1="361.5" x2="322.2" y2="361.5" stroke="#fff" stroke-width="0.5"/><line x1="326.6" y1="361.5" x2="327.8" y2="361.5" stroke="#fff" stroke-width="0.5"/>
<text x="329.4" y="364.8" font-size="9.8" text-anchor="start" font-weight="normal" fill="#222" transform="translate(0 43.8) scale(1 0.88)">1.0e-06</text>
<line x1="321" y1="371.9" x2="322.2" y2="371.9" stroke="#fff" stroke-width="0.5"/><line x1="326.6" y1="371.9" x2="327.8" y2="371.9" stroke="#fff" stroke-width="0.5"/>
<text x="329.4" y="375.2" font-size="9.8" text-anchor="start" font-weight="normal" fill="#222" transform="translate(0 45.0) scale(1 0.88)">1.5e-06</text>
<line x1="321" y1="381.0" x2="322.2" y2="381.0" stroke="#fff" stroke-width="0.5"/><line x1="326.6" y1="381.0" x2="327.8" y2="381.0" stroke="#fff" stroke-width="0.5"/>
<text x="329.4" y="384.3" font-size="9.8" text-anchor="start" font-weight="normal" fill="#222" transform="translate(0 46.1) scale(1 0.88)">2.0e-06</text>
<rect x="372.40" y="217.60" width="40.90" height="9.87" fill="#B8E0EA" stroke="#a0a0a0" stroke-width="1"/>
<rect x="413.30" y="217.60" width="40.90" height="9.87" fill="#DFF3F8" stroke="#a0a0a0" stroke-width="1"/>
<rect x="454.20" y="217.60" width="40.90" height="9.87" fill="#EFFAD8" stroke="#a0a0a0" stroke-width="1"/>
<rect x="495.10" y="217.60" width="40.90" height="9.87" fill="#F0FAD5" stroke="#a0a0a0" stroke-width="1"/>
<rect x="536.00" y="217.60" width="40.90" height="9.87" fill="#A8D4E6" stroke="#a0a0a0" stroke-width="1"/>
<rect x="576.90" y="217.60" width="40.90" height="9.87" fill="#AA1A2A" stroke="#a0a0a0" stroke-width="1"/>
<rect x="372.40" y="227.47" width="40.90" height="9.87" fill="#DFF3F8" stroke="#a0a0a0" stroke-width="1"/>
<rect x="413.30" y="227.47" width="40.90" height="9.87" fill="#EEF9D8" stroke="#a0a0a0" stroke-width="1"/>
<rect x="454.20" y="227.47" width="40.90" height="9.87" fill="#E8F6E6" stroke="#a0a0a0" stroke-width="1"/>
<rect x="495.10" y="227.47" width="40.90" height="9.87" fill="#D4EEF5" stroke="#a0a0a0" stroke-width="1"/>
<rect x="536.00" y="227.47" width="40.90" height="9.87" fill="#9CCCE2" stroke="#a0a0a0" stroke-width="1"/>
<rect x="576.90" y="227.47" width="40.90" height="9.87" fill="#AA1A2A" stroke="#a0a0a0" stroke-width="1"/>
<rect x="372.40" y="237.34" width="40.90" height="9.87" fill="#CCEAF2" stroke="#a0a0a0" stroke-width="1"/>
<rect x="413.30" y="237.34" width="40.90" height="9.87" fill="#BCE3EE" stroke="#a0a0a0" stroke-width="1"/>
<rect x="454.20" y="237.34" width="40.90" height="9.87" fill="#C8E8F0" stroke="#a0a0a0" stroke-width="1"/>
<rect x="495.10" y="237.34" width="40.90" height="9.87" fill="#F4F8B8" stroke="#a0a0a0" stroke-width="1"/>
<rect x="536.00" y="237.34" width="40.90" height="9.87" fill="#BCE3EE" stroke="#a0a0a0" stroke-width="1"/>
<rect x="576.90" y="237.34" width="40.90" height="9.87" fill="#AA1A2A" stroke="#a0a0a0" stroke-width="1"/>
<rect x="372.40" y="247.21" width="40.90" height="9.87" fill="#E8F6EA" stroke="#a0a0a0" stroke-width="1"/>
<rect x="413.30" y="247.21" width="40.90" height="9.87" fill="#F5F8B5" stroke="#a0a0a0" stroke-width="1"/>
<rect x="454.20" y="247.21" width="40.90" height="9.87" fill="#F0D080" stroke="#a0a0a0" stroke-width="1"/>
<rect x="495.10" y="247.21" width="40.90" height="9.87" fill="#F0DA8A" stroke="#a0a0a0" stroke-width="1"/>
<rect x="536.00" y="247.21" width="40.90" height="9.87" fill="#EC9A55" stroke="#a0a0a0" stroke-width="1"/>
<rect x="576.90" y="247.21" width="40.90" height="9.87" fill="#353A9A" stroke="#a0a0a0" stroke-width="1"/>
<rect x="372.40" y="257.08" width="40.90" height="9.87" fill="#E8F6EA" stroke="#a0a0a0" stroke-width="1"/>
<rect x="413.30" y="257.08" width="40.90" height="9.87" fill="#F4F0A8" stroke="#a0a0a0" stroke-width="1"/>
<rect x="454.20" y="257.08" width="40.90" height="9.87" fill="#E2F4F6" stroke="#a0a0a0" stroke-width="1"/>
<rect x="495.10" y="257.08" width="40.90" height="9.87" fill="#EC9A58" stroke="#a0a0a0" stroke-width="1"/>
<rect x="536.00" y="257.08" width="40.90" height="9.87" fill="#EC8A50" stroke="#a0a0a0" stroke-width="1"/>
<rect x="576.90" y="257.08" width="40.90" height="9.87" fill="#4458AA" stroke="#a0a0a0" stroke-width="1"/>
<rect x="372.40" y="266.95" width="40.90" height="9.87" fill="#E8F6EA" stroke="#a0a0a0" stroke-width="1"/>
<rect x="413.30" y="266.95" width="40.90" height="9.87" fill="#F2F2A8" stroke="#a0a0a0" stroke-width="1"/>
<rect x="454.20" y="266.95" width="40.90" height="9.87" fill="#F6F8C0" stroke="#a0a0a0" stroke-width="1"/>
<rect x="495.10" y="266.95" width="40.90" height="9.87" fill="#F4EAA0" stroke="#a0a0a0" stroke-width="1"/>
<rect x="536.00" y="266.95" width="40.90" height="9.87" fill="#E25838" stroke="#a0a0a0" stroke-width="1"/>
<rect x="576.90" y="266.95" width="40.90" height="9.87" fill="#4458AA" stroke="#a0a0a0" stroke-width="1"/>
<rect x="372.40" y="276.82" width="40.90" height="9.87" fill="#E8F6EA" stroke="#a0a0a0" stroke-width="1"/>
<rect x="413.30" y="276.82" width="40.90" height="9.87" fill="#EEC078" stroke="#a0a0a0" stroke-width="1"/>
<rect x="454.20" y="276.82" width="40.90" height="9.87" fill="#F2DE90" stroke="#a0a0a0" stroke-width="1"/>
<rect x="495.10" y="276.82" width="40.90" height="9.87" fill="#F4F8B8" stroke="#a0a0a0" stroke-width="1"/>
<rect x="536.00" y="276.82" width="40.90" height="9.87" fill="#ECB070" stroke="#a0a0a0" stroke-width="1"/>
<rect x="576.90" y="276.82" width="40.90" height="9.87" fill="#353A9A" stroke="#a0a0a0" stroke-width="1"/>
<rect x="372.40" y="286.69" width="40.90" height="9.87" fill="#D4EEF4" stroke="#a0a0a0" stroke-width="1"/>
<rect x="413.30" y="286.69" width="40.90" height="9.87" fill="#DCF2F6" stroke="#a0a0a0" stroke-width="1"/>
<rect x="454.20" y="286.69" width="40.90" height="9.87" fill="#D4EEF4" stroke="#a0a0a0" stroke-width="1"/>
<rect x="495.10" y="286.69" width="40.90" height="9.87" fill="#AA1A2A" stroke="#a0a0a0" stroke-width="1"/>
<rect x="536.00" y="286.69" width="40.90" height="9.87" fill="#C8E8F0" stroke="#a0a0a0" stroke-width="1"/>
<rect x="576.90" y="286.69" width="40.90" height="9.87" fill="#E0F3F8" stroke="#a0a0a0" stroke-width="1"/>
<rect x="372.40" y="296.56" width="40.90" height="9.87" fill="#DCF2F6" stroke="#a0a0a0" stroke-width="1"/>
<rect x="413.30" y="296.56" width="40.90" height="9.87" fill="#EEF8D8" stroke="#a0a0a0" stroke-width="1"/>
<rect x="454.20" y="296.56" width="40.90" height="9.87" fill="#D8F0F6" stroke="#a0a0a0" stroke-width="1"/>
<rect x="495.10" y="296.56" width="40.90" height="9.87" fill="#AA1A2A" stroke="#a0a0a0" stroke-width="1"/>
<rect x="536.00" y="296.56" width="40.90" height="9.87" fill="#C0E4EE" stroke="#a0a0a0" stroke-width="1"/>
<rect x="576.90" y="296.56" width="40.90" height="9.87" fill="#C4E6F0" stroke="#a0a0a0" stroke-width="1"/>
<rect x="372.40" y="306.43" width="40.90" height="9.87" fill="#C8E8F0" stroke="#a0a0a0" stroke-width="1"/>
<rect x="413.30" y="306.43" width="40.90" height="9.87" fill="#D4EEF4" stroke="#a0a0a0" stroke-width="1"/>
<rect x="454.20" y="306.43" width="40.90" height="9.87" fill="#D4EEF4" stroke="#a0a0a0" stroke-width="1"/>
<rect x="495.10" y="306.43" width="40.90" height="9.87" fill="#AA1A2A" stroke="#a0a0a0" stroke-width="1"/>
<rect x="536.00" y="306.43" width="40.90" height="9.87" fill="#B0DEEA" stroke="#a0a0a0" stroke-width="1"/>
<rect x="576.90" y="306.43" width="40.90" height="9.87" fill="#F4F8C0" stroke="#a0a0a0" stroke-width="1"/>
<rect x="372.40" y="316.30" width="40.90" height="9.87" fill="#CCEAF2" stroke="#a0a0a0" stroke-width="1"/>
<rect x="413.30" y="316.30" width="40.90" height="9.87" fill="#D4EEF4" stroke="#a0a0a0" stroke-width="1"/>
<rect x="454.20" y="316.30" width="40.90" height="9.87" fill="#D4EEF4" stroke="#a0a0a0" stroke-width="1"/>
<rect x="495.10" y="316.30" width="40.90" height="9.87" fill="#AA1A2A" stroke="#a0a0a0" stroke-width="1"/>
<rect x="536.00" y="316.30" width="40.90" height="9.87" fill="#CCEAF2" stroke="#a0a0a0" stroke-width="1"/>
<rect x="576.90" y="316.30" width="40.90" height="9.87" fill="#E0F3F8" stroke="#a0a0a0" stroke-width="1"/>
<rect x="372.40" y="326.17" width="40.90" height="9.87" fill="#F4F6B0" stroke="#a0a0a0" stroke-width="1"/>
<rect x="413.30" y="326.17" width="40.90" height="9.87" fill="#C8E8F0" stroke="#a0a0a0" stroke-width="1"/>
<rect x="454.20" y="326.17" width="40.90" height="9.87" fill="#C62828" stroke="#a0a0a0" stroke-width="1"/>
<rect x="495.10" y="326.17" width="40.90" height="9.87" fill="#DCF2F6" stroke="#a0a0a0" stroke-width="1"/>
<rect x="536.00" y="326.17" width="40.90" height="9.87" fill="#F4F8C0" stroke="#a0a0a0" stroke-width="1"/>
<rect x="576.90" y="326.17" width="40.90" height="9.87" fill="#6CA0CC" stroke="#a0a0a0" stroke-width="1"/>
<rect x="372.40" y="336.04" width="40.90" height="9.87" fill="#DCF2F6" stroke="#a0a0a0" stroke-width="1"/>
<rect x="413.30" y="336.04" width="40.90" height="9.87" fill="#A8D8E8" stroke="#a0a0a0" stroke-width="1"/>
<rect x="454.20" y="336.04" width="40.90" height="9.87" fill="#B21E2A" stroke="#a0a0a0" stroke-width="1"/>
<rect x="495.10" y="336.04" width="40.90" height="9.87" fill="#F2EAA0" stroke="#a0a0a0" stroke-width="1"/>
<rect x="536.00" y="336.04" width="40.90" height="9.87" fill="#E6F4F4" stroke="#a0a0a0" stroke-width="1"/>
<rect x="576.90" y="336.04" width="40.90" height="9.87" fill="#A8D8E8" stroke="#a0a0a0" stroke-width="1"/>
<rect x="372.40" y="345.91" width="40.90" height="9.87" fill="#E8F6E4" stroke="#a0a0a0" stroke-width="1"/>
<rect x="413.30" y="345.91" width="40.90" height="9.87" fill="#94C8E0" stroke="#a0a0a0" stroke-width="1"/>
<rect x="454.20" y="345.91" width="40.90" height="9.87" fill="#C02828" stroke="#a0a0a0" stroke-width="1"/>
<rect x="495.10" y="345.91" width="40.90" height="9.87" fill="#F0DA8C" stroke="#a0a0a0" stroke-width="1"/>
<rect x="536.00" y="345.91" width="40.90" height="9.87" fill="#DCF2F6" stroke="#a0a0a0" stroke-width="1"/>
<rect x="576.90" y="345.91" width="40.90" height="9.87" fill="#A8DAE8" stroke="#a0a0a0" stroke-width="1"/>
<rect x="372.40" y="355.78" width="40.90" height="9.87" fill="#F4F0A8" stroke="#a0a0a0" stroke-width="1"/>
<rect x="413.30" y="355.78" width="40.90" height="9.87" fill="#A8D8E8" stroke="#a0a0a0" stroke-width="1"/>
<rect x="454.20" y="355.78" width="40.90" height="9.87" fill="#C82A28" stroke="#a0a0a0" stroke-width="1"/>
<rect x="495.10" y="355.78" width="40.90" height="9.87" fill="#F6FAC0" stroke="#a0a0a0" stroke-width="1"/>
<rect x="536.00" y="355.78" width="40.90" height="9.87" fill="#E6F4F4" stroke="#a0a0a0" stroke-width="1"/>
<rect x="576.90" y="355.78" width="40.90" height="9.87" fill="#80B4D6" stroke="#a0a0a0" stroke-width="1"/>
<rect x="372.40" y="365.65" width="40.90" height="9.87" fill="#E8F6E4" stroke="#a0a0a0" stroke-width="1"/>
<rect x="413.30" y="365.65" width="40.90" height="9.87" fill="#AA1A2A" stroke="#a0a0a0" stroke-width="1"/>
<rect x="454.20" y="365.65" width="40.90" height="9.87" fill="#D0ECF2" stroke="#a0a0a0" stroke-width="1"/>
<rect x="495.10" y="365.65" width="40.90" height="9.87" fill="#D4EEF4" stroke="#a0a0a0" stroke-width="1"/>
<rect x="536.00" y="365.65" width="40.90" height="9.87" fill="#D4EEF4" stroke="#a0a0a0" stroke-width="1"/>
<rect x="576.90" y="365.65" width="40.90" height="9.87" fill="#D0ECF2" stroke="#a0a0a0" stroke-width="1"/>
<rect x="372.40" y="375.52" width="40.90" height="9.87" fill="#DCF2F6" stroke="#a0a0a0" stroke-width="1"/>
<rect x="413.30" y="375.52" width="40.90" height="9.87" fill="#AA1A2A" stroke="#a0a0a0" stroke-width="1"/>
<rect x="454.20" y="375.52" width="40.90" height="9.87" fill="#D0ECF2" stroke="#a0a0a0" stroke-width="1"/>
<rect x="495.10" y="375.52" width="40.90" height="9.87" fill="#E4F4EC" stroke="#a0a0a0" stroke-width="1"/>
<rect x="536.00" y="375.52" width="40.90" height="9.87" fill="#D4EEF4" stroke="#a0a0a0" stroke-width="1"/>
<rect x="576.90" y="375.52" width="40.90" height="9.87" fill="#D0ECF2" stroke="#a0a0a0" stroke-width="1"/>
<rect x="372.40" y="385.39" width="40.90" height="9.87" fill="#D8F0F6" stroke="#a0a0a0" stroke-width="1"/>
<rect x="413.30" y="385.39" width="40.90" height="9.87" fill="#AA1A2A" stroke="#a0a0a0" stroke-width="1"/>
<rect x="454.20" y="385.39" width="40.90" height="9.87" fill="#D8F0F6" stroke="#a0a0a0" stroke-width="1"/>
<rect x="495.10" y="385.39" width="40.90" height="9.87" fill="#C8E8F0" stroke="#a0a0a0" stroke-width="1"/>
<rect x="536.00" y="385.39" width="40.90" height="9.87" fill="#D0ECF2" stroke="#a0a0a0" stroke-width="1"/>
<rect x="576.90" y="385.39" width="40.90" height="9.87" fill="#CCEAF2" stroke="#a0a0a0" stroke-width="1"/>
<rect x="372.40" y="395.26" width="40.90" height="9.87" fill="#D4EEF4" stroke="#a0a0a0" stroke-width="1"/>
<rect x="413.30" y="395.26" width="40.90" height="9.87" fill="#AA1A2A" stroke="#a0a0a0" stroke-width="1"/>
<rect x="454.20" y="395.26" width="40.90" height="9.87" fill="#D4EEF4" stroke="#a0a0a0" stroke-width="1"/>
<rect x="495.10" y="395.26" width="40.90" height="9.87" fill="#D4EEF4" stroke="#a0a0a0" stroke-width="1"/>
<rect x="536.00" y="395.26" width="40.90" height="9.87" fill="#D4EEF4" stroke="#a0a0a0" stroke-width="1"/>
<rect x="576.90" y="395.26" width="40.90" height="9.87" fill="#CCEAF2" stroke="#a0a0a0" stroke-width="1"/>
<rect x="372.40" y="405.13" width="40.90" height="9.87" fill="#CCEAF2" stroke="#a0a0a0" stroke-width="1"/>
<rect x="413.30" y="405.13" width="40.90" height="9.87" fill="#AA1A2A" stroke="#a0a0a0" stroke-width="1"/>
<rect x="454.20" y="405.13" width="40.90" height="9.87" fill="#D4EEF4" stroke="#a0a0a0" stroke-width="1"/>
<rect x="495.10" y="405.13" width="40.90" height="9.87" fill="#E4F4EC" stroke="#a0a0a0" stroke-width="1"/>
<rect x="536.00" y="405.13" width="40.90" height="9.87" fill="#D4EEF4" stroke="#a0a0a0" stroke-width="1"/>
<rect x="576.90" y="405.13" width="40.90" height="9.87" fill="#C4E6F0" stroke="#a0a0a0" stroke-width="1"/>
<rect x="372.40" y="415.00" width="40.90" height="9.87" fill="#C62828" stroke="#a0a0a0" stroke-width="1"/>
<rect x="413.30" y="415.00" width="40.90" height="9.87" fill="#F4F0A8" stroke="#a0a0a0" stroke-width="1"/>
<rect x="454.20" y="415.00" width="40.90" height="9.87" fill="#F4F8B8" stroke="#a0a0a0" stroke-width="1"/>
<rect x="495.10" y="415.00" width="40.90" height="9.87" fill="#A0D0E4" stroke="#a0a0a0" stroke-width="1"/>
<rect x="536.00" y="415.00" width="40.90" height="9.87" fill="#8CC4DE" stroke="#a0a0a0" stroke-width="1"/>
<rect x="576.90" y="415.00" width="40.90" height="9.87" fill="#DCF2F6" stroke="#a0a0a0" stroke-width="1"/>
<rect x="372.40" y="424.87" width="40.90" height="9.87" fill="#C62828" stroke="#a0a0a0" stroke-width="1"/>
<rect x="413.30" y="424.87" width="40.90" height="9.87" fill="#E0F3F8" stroke="#a0a0a0" stroke-width="1"/>
<rect x="454.20" y="424.87" width="40.90" height="9.87" fill="#EEC07C" stroke="#a0a0a0" stroke-width="1"/>
<rect x="495.10" y="424.87" width="40.90" height="9.87" fill="#A8D8E8" stroke="#a0a0a0" stroke-width="1"/>
<rect x="536.00" y="424.87" width="40.90" height="9.87" fill="#B0DEEA" stroke="#a0a0a0" stroke-width="1"/>
<rect x="576.90" y="424.87" width="40.90" height="9.87" fill="#C4E6F0" stroke="#a0a0a0" stroke-width="1"/>
<rect x="372.40" y="434.74" width="40.90" height="9.87" fill="#D83428" stroke="#a0a0a0" stroke-width="1"/>
<rect x="413.30" y="434.74" width="40.90" height="9.87" fill="#E8F6E8" stroke="#a0a0a0" stroke-width="1"/>
<rect x="454.20" y="434.74" width="40.90" height="9.87" fill="#F2DA8C" stroke="#a0a0a0" stroke-width="1"/>
<rect x="495.10" y="434.74" width="40.90" height="9.87" fill="#A0D0E4" stroke="#a0a0a0" stroke-width="1"/>
<rect x="536.00" y="434.74" width="40.90" height="9.87" fill="#F4F8B8" stroke="#a0a0a0" stroke-width="1"/>
<rect x="576.90" y="434.74" width="40.90" height="9.87" fill="#74ACD4" stroke="#a0a0a0" stroke-width="1"/>
<rect x="372.40" y="444.61" width="40.90" height="9.87" fill="#C62828" stroke="#a0a0a0" stroke-width="1"/>
<rect x="413.30" y="444.61" width="40.90" height="9.87" fill="#F0E096" stroke="#a0a0a0" stroke-width="1"/>
<rect x="454.20" y="444.61" width="40.90" height="9.87" fill="#EEF8E4" stroke="#a0a0a0" stroke-width="1"/>
<rect x="495.10" y="444.61" width="40.90" height="9.87" fill="#E0F3F8" stroke="#a0a0a0" stroke-width="1"/>
<rect x="536.00" y="444.61" width="40.90" height="9.87" fill="#78AED4" stroke="#a0a0a0" stroke-width="1"/>
<rect x="576.90" y="444.61" width="40.90" height="9.87" fill="#C8E8F0" stroke="#a0a0a0" stroke-width="1"/>
<rect x="372.40" y="454.48" width="40.90" height="9.87" fill="#C62828" stroke="#a0a0a0" stroke-width="1"/>
<rect x="413.30" y="454.48" width="40.90" height="9.87" fill="#F4F8B8" stroke="#a0a0a0" stroke-width="1"/>
<rect x="454.20" y="454.48" width="40.90" height="9.87" fill="#F4F8B8" stroke="#a0a0a0" stroke-width="1"/>
<rect x="495.10" y="454.48" width="40.90" height="9.87" fill="#A0D0E4" stroke="#a0a0a0" stroke-width="1"/>
<rect x="536.00" y="454.48" width="40.90" height="9.87" fill="#EEF8E0" stroke="#a0a0a0" stroke-width="1"/>
<rect x="576.90" y="454.48" width="40.90" height="9.87" fill="#74ACD4" stroke="#a0a0a0" stroke-width="1"/>
<text transform="translate(620.8 225.2) scale(1.05 1)" font-size="10.6" fill="#111">ACTA2</text>
<text transform="translate(620.8 235.1) scale(1.05 1)" font-size="10.6" fill="#111">MYLK</text>
<text transform="translate(620.8 245.1) scale(1.05 1)" font-size="10.6" fill="#111">RGS5.1</text>
<text transform="translate(620.8 255.0) scale(1.05 1)" font-size="10.6" fill="#111">POSTN</text>
<text transform="translate(620.8 265.0) scale(1.05 1)" font-size="10.6" fill="#111">ARL4C</text>
<text transform="translate(620.8 274.9) scale(1.05 1)" font-size="10.6" fill="#111">COL6A5</text>
<text transform="translate(620.8 284.8) scale(1.05 1)" font-size="10.6" fill="#111">TIMP1</text>
<text transform="translate(620.8 294.8) scale(1.05 1)" font-size="10.6" fill="#111">CENPF</text>
<text transform="translate(620.8 304.7) scale(1.05 1)" font-size="10.6" fill="#111">STMN1</text>
<text transform="translate(620.8 314.7) scale(1.05 1)" font-size="10.6" fill="#111">H2AZ1</text>
<text transform="translate(620.8 324.6) scale(1.05 1)" font-size="10.6" fill="#111">PCLAF</text>
<text transform="translate(620.8 334.5) scale(1.05 1)" font-size="10.6" fill="#111">MMP3</text>
<text transform="translate(620.8 344.5) scale(1.05 1)" font-size="10.6" fill="#111">MMP11</text>
<text transform="translate(620.8 354.4) scale(1.05 1)" font-size="10.6" fill="#111">COL1A1</text>
<text transform="translate(620.8 364.4) scale(1.05 1)" font-size="10.6" fill="#111">COL1A2</text>
<text transform="translate(620.8 374.3) scale(1.05 1)" font-size="10.6" fill="#111">CD74</text>
<text transform="translate(620.8 384.2) scale(1.05 1)" font-size="10.6" fill="#111">HLA−DRA</text>
<text transform="translate(620.8 394.2) scale(1.05 1)" font-size="10.6" fill="#111">HLA−DRB1</text>
<text transform="translate(620.8 404.1) scale(1.05 1)" font-size="10.6" fill="#111">IGLC2</text>
<text transform="translate(620.8 414.1) scale(1.05 1)" font-size="10.6" fill="#111">C1QA</text>
<text transform="translate(620.8 424.0) scale(1.05 1)" font-size="10.6" fill="#111">CFD</text>
<text transform="translate(620.8 433.9) scale(1.05 1)" font-size="10.6" fill="#111">CXCL14</text>
<text transform="translate(620.8 443.9) scale(1.05 1)" font-size="10.6" fill="#111">CXCL12</text>
<text transform="translate(620.8 453.8) scale(1.05 1)" font-size="10.6" fill="#111">C7</text>
<text transform="translate(620.8 463.8) scale(1.05 1)" font-size="10.6" fill="#111">C3</text>
<line x1="392.8" y1="464.3" x2="392.8" y2="468.6" stroke="#555" stroke-width="0.8"/>
<text x="398.3" y="473.8" font-size="11.6" text-anchor="end" font-weight="normal" fill="#222" transform="rotate(-45 398.3 473.8)">iCAFs</text>
<line x1="433.8" y1="464.3" x2="433.8" y2="468.6" stroke="#555" stroke-width="0.8"/>
<text x="439.2" y="473.8" font-size="11.6" text-anchor="end" font-weight="normal" fill="#222" transform="rotate(-45 439.2 473.8)">apCAFs</text>
<line x1="474.6" y1="464.3" x2="474.6" y2="468.6" stroke="#555" stroke-width="0.8"/>
<text x="480.1" y="473.8" font-size="11.6" text-anchor="end" font-weight="normal" fill="#222" transform="rotate(-45 480.1 473.8)">mCAFs</text>
<line x1="515.5" y1="464.3" x2="515.5" y2="468.6" stroke="#555" stroke-width="0.8"/>
<text x="521.0" y="473.8" font-size="11.6" text-anchor="end" font-weight="normal" fill="#222" transform="rotate(-45 521.0 473.8)">pCAFs</text>
<line x1="556.4" y1="464.3" x2="556.4" y2="468.6" stroke="#555" stroke-width="0.8"/>
<text x="561.9" y="473.8" font-size="11.6" text-anchor="end" font-weight="normal" fill="#222" transform="rotate(-45 561.9 473.8)">eCAFs</text>
<line x1="597.3" y1="464.3" x2="597.3" y2="468.6" stroke="#555" stroke-width="0.8"/>
<text x="602.8" y="473.8" font-size="11.6" text-anchor="end" font-weight="normal" fill="#222" transform="rotate(-45 602.8 473.8)">SMCs</text>
<defs><linearGradient id="dg" x1="0" x2="1"><stop offset="0" stop-color="#a50026"/><stop offset="0.12" stop-color="#d73027"/><stop offset="0.28" stop-color="#f46d43"/><stop offset="0.38" stop-color="#fdae61"/><stop offset="0.5" stop-color="#f4f0a0"/><stop offset="0.6" stop-color="#e0f3f8"/><stop offset="0.72" stop-color="#abd9e9"/><stop offset="0.85" stop-color="#74add1"/><stop offset="0.93" stop-color="#4575b4"/><stop offset="1" stop-color="#313695"/></linearGradient></defs>
<rect x="592.5" y="494.8" width="91.6" height="6" fill="url(#dg)"/>
<text x="594.7" y="492.5" font-size="11" text-anchor="middle" font-weight="normal" fill="#222" >2</text>
<text x="618.0" y="492.5" font-size="11" text-anchor="middle" font-weight="normal" fill="#222" >1</text>
<text x="641.6" y="492.5" font-size="11" text-anchor="middle" font-weight="normal" fill="#222" >0</text>
<text x="665.0" y="492.5" font-size="11" text-anchor="middle" font-weight="normal" fill="#222" >−1</text>
<rect x="53.75" y="578.8" width="212.45" height="244.5" fill="#fff" stroke="#444" stroke-width="1"/>
<line x1="49.25" y1="812.5" x2="53.75" y2="812.5" stroke="#444" stroke-width="0.9"/>
<text x="46.8" y="816.6" font-size="11.7" text-anchor="end" font-weight="normal" fill="#222" >0</text>
<line x1="49.25" y1="750.4" x2="53.75" y2="750.4" stroke="#444" stroke-width="0.9"/>
<text x="46.8" y="754.5" font-size="11.7" text-anchor="end" font-weight="normal" fill="#222" >2000</text>
<line x1="49.25" y1="688.3" x2="53.75" y2="688.3" stroke="#444" stroke-width="0.9"/>
<text x="46.8" y="692.4" font-size="11.7" text-anchor="end" font-weight="normal" fill="#222" >4000</text>
<line x1="49.25" y1="626.2" x2="53.75" y2="626.2" stroke="#444" stroke-width="0.9"/>
<text x="46.8" y="630.3" font-size="11.7" text-anchor="end" font-weight="normal" fill="#222" >6000</text>
<text x="15.6" y="696.4" font-size="15.2" text-anchor="middle" font-weight="bold" fill="#111" transform="rotate(-90 15.6 696.4)">CNV Score</text>
<line x1="99" y1="747.3" x2="99" y2="781.9" stroke="#333" stroke-width="0.8"/>
<line x1="93" y1="747.3" x2="105" y2="747.3" stroke="#222" stroke-width="0.9"/><line x1="93" y1="781.9" x2="105" y2="781.9" stroke="#222" stroke-width="0.9"/>
<rect x="75.9" y="766.3" width="46.3" height="12.8" fill="#ea6c6c" stroke="#555" stroke-width="0.8"/>
<line x1="99" y1="766.3" x2="99" y2="779.1" stroke="#333" stroke-width="0.6" stroke-opacity="0.6"/>
<line x1="75.9" y1="775.2" x2="122.2" y2="775.2" stroke="#444" stroke-width="1"/>
<line x1="160.6" y1="742.3" x2="160.6" y2="776.7" stroke="#333" stroke-width="0.8"/>
<line x1="154.6" y1="742.3" x2="166.6" y2="742.3" stroke="#222" stroke-width="0.9"/><line x1="154.6" y1="776.7" x2="166.6" y2="776.7" stroke="#222" stroke-width="0.9"/>
<rect x="137.3" y="755.5" width="46.2" height="8.3" fill="#4cc83c" stroke="#555" stroke-width="0.8"/>
<line x1="160.6" y1="755.5" x2="160.6" y2="763.8" stroke="#333" stroke-width="0.6" stroke-opacity="0.6"/>
<line x1="137.3" y1="760.4" x2="183.5" y2="760.4" stroke="#444" stroke-width="1"/>
<line x1="221.9" y1="724.3" x2="221.9" y2="780.4" stroke="#333" stroke-width="0.8"/>
<line x1="215.9" y1="724.3" x2="227.9" y2="724.3" stroke="#222" stroke-width="0.9"/><line x1="215.9" y1="780.4" x2="227.9" y2="780.4" stroke="#222" stroke-width="0.9"/>
<rect x="198.9" y="748.5" width="46.6" height="16.2" fill="#6a9ef8" stroke="#555" stroke-width="0.8"/>
<line x1="221.9" y1="748.5" x2="221.9" y2="764.7" stroke="#333" stroke-width="0.6" stroke-opacity="0.6"/>
<line x1="198.9" y1="756.8" x2="245.5" y2="756.8" stroke="#444" stroke-width="1"/>
<line x1="99" y1="746.6" x2="99" y2="728.5" stroke="#111" stroke-width="1.6"/>
<rect x="98.15" y="713.75" width="1.7" height="1.7" fill="#111"/>
<rect x="98.15" y="717.75" width="1.7" height="1.7" fill="#111"/>
<rect x="98.15" y="721.75" width="1.7" height="1.7" fill="#111"/>
<line x1="160.6" y1="742.3" x2="160.6" y2="688.4" stroke="#111" stroke-width="1.6"/>
<rect x="159.75" y="682.95" width="1.7" height="1.7" fill="#111"/>
<rect x="159.75" y="685.35" width="1.7" height="1.7" fill="#111"/>
<line x1="221.9" y1="724.3" x2="221.9" y2="686" stroke="#111" stroke-width="1.6"/>
<rect x="221.05" y="681.05" width="1.7" height="1.7" fill="#111"/>
<rect x="221.05" y="677.85" width="1.7" height="1.7" fill="#111"/>
<rect x="221.05" y="673.45" width="1.7" height="1.7" fill="#111"/>
<rect x="221.05" y="634.55" width="1.7" height="1.7" fill="#111"/>
<rect x="221.05" y="617.75" width="1.7" height="1.7" fill="#111"/>
<rect x="221.05" y="609.55" width="1.7" height="1.7" fill="#111"/>
<rect x="221.05" y="588.95" width="1.7" height="1.7" fill="#111"/>
<line x1="99" y1="823.3" x2="99" y2="826.3" stroke="#444" stroke-width="0.8"/>
<text x="103.0" y="834.3" font-size="11.3" text-anchor="end" font-weight="normal" fill="#222" transform="rotate(-45 103 834.3)">B_cells</text>
<line x1="160.6" y1="823.3" x2="160.6" y2="826.3" stroke="#444" stroke-width="0.8"/>
<text x="164.6" y="834.3" font-size="11.3" text-anchor="end" font-weight="normal" fill="#222" transform="rotate(-45 164.6 834.3)">IMT</text>
<line x1="221.9" y1="823.3" x2="221.9" y2="826.3" stroke="#444" stroke-width="0.8"/>
<text x="225.9" y="834.3" font-size="11.3" text-anchor="end" font-weight="normal" fill="#222" transform="rotate(-45 225.9 834.3)">T_cells</text>
<text x="63.3" y="606.3" font-size="11.5" text-anchor="start" font-weight="normal" fill="#222" >celltype</text>
<line x1="70.85" y1="610.8" x2="70.85" y2="621.2" stroke="#ea8070" stroke-width="1.1"/>
<rect x="65.2" y="612" width="11.3" height="8" fill="#fff" stroke="#ea8070" stroke-width="1.1"/>
<line x1="65.2" y1="616" x2="76.5" y2="616" stroke="#ea8070" stroke-width="1.1"/>
<text x="82.6" y="622.5" font-size="11.5" text-anchor="start" font-weight="normal" fill="#222" >B_cells</text>
<line x1="70.85" y1="627.8" x2="70.85" y2="638.2" stroke="#3cb04a" stroke-width="1.1"/>
<rect x="65.2" y="629" width="11.3" height="8" fill="#fff" stroke="#3cb04a" stroke-width="1.1"/>
<line x1="65.2" y1="633" x2="76.5" y2="633" stroke="#3cb04a" stroke-width="1.1"/>
<text x="82.6" y="639.6" font-size="11.5" text-anchor="start" font-weight="normal" fill="#222" >IMT</text>
<line x1="70.85" y1="643.5999999999999" x2="70.85" y2="654.0" stroke="#5ea0e8" stroke-width="1.1"/>
<rect x="65.2" y="644.8" width="11.3" height="8" fill="#fff" stroke="#5ea0e8" stroke-width="1.1"/>
<line x1="65.2" y1="648.8" x2="76.5" y2="648.8" stroke="#5ea0e8" stroke-width="1.1"/>
<text x="82.6" y="652.6" font-size="11.5" text-anchor="start" font-weight="normal" fill="#222" >T_cells</text>
<rect x="335.30" y="518.10" width="25.95" height="7.97" fill="#D4E0B8"/>
<rect x="360.95" y="518.10" width="25.95" height="7.97" fill="#B81E2A"/>
<rect x="386.60" y="518.10" width="25.95" height="7.97" fill="#F0D080"/>
<rect x="412.25" y="518.10" width="25.95" height="7.97" fill="#C8E0D8"/>
<rect x="437.90" y="518.10" width="25.95" height="7.97" fill="#8CC0DC"/>
<rect x="463.55" y="518.10" width="25.95" height="7.97" fill="#8CC4DC"/>
<rect x="335.30" y="525.77" width="25.95" height="7.97" fill="#ECDC98"/>
<rect x="360.95" y="525.77" width="25.95" height="7.97" fill="#B81E2A"/>
<rect x="386.60" y="525.77" width="25.95" height="7.97" fill="#E8E0A8"/>
<rect x="412.25" y="525.77" width="25.95" height="7.97" fill="#C8E0D8"/>
<rect x="437.90" y="525.77" width="25.95" height="7.97" fill="#88BCDA"/>
<rect x="463.55" y="525.77" width="25.95" height="7.97" fill="#90C4DE"/>
<rect x="335.30" y="533.44" width="25.95" height="7.97" fill="#D0E0C8"/>
<rect x="360.95" y="533.44" width="25.95" height="7.97" fill="#AA1A2A"/>
<rect x="386.60" y="533.44" width="25.95" height="7.97" fill="#C8E0D8"/>
<rect x="412.25" y="533.44" width="25.95" height="7.97" fill="#A8D8E8"/>
<rect x="437.90" y="533.44" width="25.95" height="7.97" fill="#A8D4E6"/>
<rect x="463.55" y="533.44" width="25.95" height="7.97" fill="#B8E0E8"/>
<rect x="335.30" y="541.11" width="25.95" height="7.97" fill="#A8D8E8"/>
<rect x="360.95" y="541.11" width="25.95" height="7.97" fill="#AA1A2A"/>
<rect x="386.60" y="541.11" width="25.95" height="7.97" fill="#E4E0A8"/>
<rect x="412.25" y="541.11" width="25.95" height="7.97" fill="#B8DCE0"/>
<rect x="437.90" y="541.11" width="25.95" height="7.97" fill="#B8DCE0"/>
<rect x="463.55" y="541.11" width="25.95" height="7.97" fill="#A0D0E4"/>
<rect x="335.30" y="548.78" width="25.95" height="7.97" fill="#A8D8E8"/>
<rect x="360.95" y="548.78" width="25.95" height="7.97" fill="#AA1A2A"/>
<rect x="386.60" y="548.78" width="25.95" height="7.97" fill="#E4E0A8"/>
<rect x="412.25" y="548.78" width="25.95" height="7.97" fill="#E0E0A8"/>
<rect x="437.90" y="548.78" width="25.95" height="7.97" fill="#B8DCE0"/>
<rect x="463.55" y="548.78" width="25.95" height="7.97" fill="#90C4DE"/>
<rect x="335.30" y="556.45" width="25.95" height="7.97" fill="#A8D8E8"/>
<rect x="360.95" y="556.45" width="25.95" height="7.97" fill="#A01828"/>
<rect x="386.60" y="556.45" width="25.95" height="7.97" fill="#C8E0D8"/>
<rect x="412.25" y="556.45" width="25.95" height="7.97" fill="#D8E0B8"/>
<rect x="437.90" y="556.45" width="25.95" height="7.97" fill="#B8DCE0"/>
<rect x="463.55" y="556.45" width="25.95" height="7.97" fill="#A8D8E8"/>
<rect x="335.30" y="564.12" width="25.95" height="7.97" fill="#C8E0D8"/>
<rect x="360.95" y="564.12" width="25.95" height="7.97" fill="#C02028"/>
<rect x="386.60" y="564.12" width="25.95" height="7.97" fill="#C8E0D8"/>
<rect x="412.25" y="564.12" width="25.95" height="7.97" fill="#F0C880"/>
<rect x="437.90" y="564.12" width="25.95" height="7.97" fill="#6898C8"/>
<rect x="463.55" y="564.12" width="25.95" height="7.97" fill="#C0E0E0"/>
<rect x="335.30" y="571.79" width="25.95" height="7.97" fill="#70A8D4"/>
<rect x="360.95" y="571.79" width="25.95" height="7.97" fill="#C42028"/>
<rect x="386.60" y="571.79" width="25.95" height="7.97" fill="#C8E0D8"/>
<rect x="412.25" y="571.79" width="25.95" height="7.97" fill="#F0B070"/>
<rect x="437.90" y="571.79" width="25.95" height="7.97" fill="#B0DCE8"/>
<rect x="463.55" y="571.79" width="25.95" height="7.97" fill="#B8DCE0"/>
<rect x="335.30" y="579.46" width="25.95" height="7.97" fill="#C8E0D8"/>
<rect x="360.95" y="579.46" width="25.95" height="7.97" fill="#E04030"/>
<rect x="386.60" y="579.46" width="25.95" height="7.97" fill="#F0B878"/>
<rect x="412.25" y="579.46" width="25.95" height="7.97" fill="#F0B878"/>
<rect x="437.90" y="579.46" width="25.95" height="7.97" fill="#D8E0C0"/>
<rect x="463.55" y="579.46" width="25.95" height="7.97" fill="#4060B8"/>
<rect x="335.30" y="587.13" width="25.95" height="7.97" fill="#88BCDC"/>
<rect x="360.95" y="587.13" width="25.95" height="7.97" fill="#D83028"/>
<rect x="386.60" y="587.13" width="25.95" height="7.97" fill="#F0B070"/>
<rect x="412.25" y="587.13" width="25.95" height="7.97" fill="#E4E0A8"/>
<rect x="437.90" y="587.13" width="25.95" height="7.97" fill="#F0C880"/>
<rect x="463.55" y="587.13" width="25.95" height="7.97" fill="#5888C4"/>
<rect x="335.30" y="594.80" width="25.95" height="7.97" fill="#F0C880"/>
<rect x="360.95" y="594.80" width="25.95" height="7.97" fill="#D83028"/>
<rect x="386.60" y="594.80" width="25.95" height="7.97" fill="#F0C880"/>
<rect x="412.25" y="594.80" width="25.95" height="7.97" fill="#B8DCE0"/>
<rect x="437.90" y="594.80" width="25.95" height="7.97" fill="#C8E0D8"/>
<rect x="463.55" y="594.80" width="25.95" height="7.97" fill="#4C78BC"/>
<rect x="335.30" y="602.47" width="25.95" height="7.97" fill="#C8E0D8"/>
<rect x="360.95" y="602.47" width="25.95" height="7.97" fill="#C82028"/>
<rect x="386.60" y="602.47" width="25.95" height="7.97" fill="#F0C078"/>
<rect x="412.25" y="602.47" width="25.95" height="7.97" fill="#B8DCE0"/>
<rect x="437.90" y="602.47" width="25.95" height="7.97" fill="#D0E0C8"/>
<rect x="463.55" y="602.47" width="25.95" height="7.97" fill="#6898C8"/>
<rect x="335.30" y="610.14" width="25.95" height="7.97" fill="#6CA0D0"/>
<rect x="360.95" y="610.14" width="25.95" height="7.97" fill="#F08050"/>
<rect x="386.60" y="610.14" width="25.95" height="7.97" fill="#F0C078"/>
<rect x="412.25" y="610.14" width="25.95" height="7.97" fill="#E04030"/>
<rect x="437.90" y="610.14" width="25.95" height="7.97" fill="#B0DCE8"/>
<rect x="463.55" y="610.14" width="25.95" height="7.97" fill="#70A0CC"/>
<rect x="335.30" y="617.81" width="25.95" height="7.97" fill="#E86040"/>
<rect x="360.95" y="617.81" width="25.95" height="7.97" fill="#F07048"/>
<rect x="386.60" y="617.81" width="25.95" height="7.97" fill="#F0A868"/>
<rect x="412.25" y="617.81" width="25.95" height="7.97" fill="#80B8D8"/>
<rect x="437.90" y="617.81" width="25.95" height="7.97" fill="#B0DCE8"/>
<rect x="463.55" y="617.81" width="25.95" height="7.97" fill="#5C8CC4"/>
<rect x="335.30" y="625.48" width="25.95" height="7.97" fill="#F09050"/>
<rect x="360.95" y="625.48" width="25.95" height="7.97" fill="#F07048"/>
<rect x="386.60" y="625.48" width="25.95" height="7.97" fill="#F09050"/>
<rect x="412.25" y="625.48" width="25.95" height="7.97" fill="#80B8D8"/>
<rect x="437.90" y="625.48" width="25.95" height="7.97" fill="#C8E0D8"/>
<rect x="463.55" y="625.48" width="25.95" height="7.97" fill="#4C78BC"/>
<rect x="335.30" y="633.15" width="25.95" height="7.97" fill="#F0C880"/>
<rect x="360.95" y="633.15" width="25.95" height="7.97" fill="#F09050"/>
<rect x="386.60" y="633.15" width="25.95" height="7.97" fill="#E04830"/>
<rect x="412.25" y="633.15" width="25.95" height="7.97" fill="#80B8D8"/>
<rect x="437.90" y="633.15" width="25.95" height="7.97" fill="#F0D890"/>
<rect x="463.55" y="633.15" width="25.95" height="7.97" fill="#4C78BC"/>
<rect x="335.30" y="640.82" width="25.95" height="7.97" fill="#F0B070"/>
<rect x="360.95" y="640.82" width="25.95" height="7.97" fill="#F07048"/>
<rect x="386.60" y="640.82" width="25.95" height="7.97" fill="#F09050"/>
<rect x="412.25" y="640.82" width="25.95" height="7.97" fill="#3848A0"/>
<rect x="437.90" y="640.82" width="25.95" height="7.97" fill="#F0D890"/>
<rect x="463.55" y="640.82" width="25.95" height="7.97" fill="#C8E0D8"/>
<rect x="335.30" y="648.49" width="25.95" height="7.97" fill="#F0B070"/>
<rect x="360.95" y="648.49" width="25.95" height="7.97" fill="#E4E0A8"/>
<rect x="386.60" y="648.49" width="25.95" height="7.97" fill="#F09050"/>
<rect x="412.25" y="648.49" width="25.95" height="7.97" fill="#6898C8"/>
<rect x="437.90" y="648.49" width="25.95" height="7.97" fill="#E05038"/>
<rect x="463.55" y="648.49" width="25.95" height="7.97" fill="#5C8CC4"/>
<rect x="335.30" y="656.16" width="25.95" height="7.97" fill="#E85038"/>
<rect x="360.95" y="656.16" width="25.95" height="7.97" fill="#B0DCE8"/>
<rect x="386.60" y="656.16" width="25.95" height="7.97" fill="#F08050"/>
<rect x="412.25" y="656.16" width="25.95" height="7.97" fill="#5078BC"/>
<rect x="437.90" y="656.16" width="25.95" height="7.97" fill="#F0B070"/>
<rect x="463.55" y="656.16" width="25.95" height="7.97" fill="#A8D8E8"/>
<rect x="335.30" y="663.83" width="25.95" height="7.97" fill="#F0B070"/>
<rect x="360.95" y="663.83" width="25.95" height="7.97" fill="#F0D890"/>
<rect x="386.60" y="663.83" width="25.95" height="7.97" fill="#F08050"/>
<rect x="412.25" y="663.83" width="25.95" height="7.97" fill="#E0E0A8"/>
<rect x="437.90" y="663.83" width="25.95" height="7.97" fill="#F0A868"/>
<rect x="463.55" y="663.83" width="25.95" height="7.97" fill="#3040A0"/>
<rect x="335.30" y="671.50" width="25.95" height="7.97" fill="#F0C880"/>
<rect x="360.95" y="671.50" width="25.95" height="7.97" fill="#F0D890"/>
<rect x="386.60" y="671.50" width="25.95" height="7.97" fill="#E04830"/>
<rect x="412.25" y="671.50" width="25.95" height="7.97" fill="#F0D890"/>
<rect x="437.90" y="671.50" width="25.95" height="7.97" fill="#E4E0A8"/>
<rect x="463.55" y="671.50" width="25.95" height="7.97" fill="#3040A0"/>
<rect x="335.30" y="679.17" width="25.95" height="7.97" fill="#C8E0D8"/>
<rect x="360.95" y="679.17" width="25.95" height="7.97" fill="#F0B070"/>
<rect x="386.60" y="679.17" width="25.95" height="7.97" fill="#F08050"/>
<rect x="412.25" y="679.17" width="25.95" height="7.97" fill="#F09858"/>
<rect x="437.90" y="679.17" width="25.95" height="7.97" fill="#F0D890"/>
<rect x="463.55" y="679.17" width="25.95" height="7.97" fill="#3848A8"/>
<rect x="335.30" y="686.84" width="25.95" height="7.97" fill="#F09050"/>
<rect x="360.95" y="686.84" width="25.95" height="7.97" fill="#A8D8E8"/>
<rect x="386.60" y="686.84" width="25.95" height="7.97" fill="#D83028"/>
<rect x="412.25" y="686.84" width="25.95" height="7.97" fill="#A8D8E8"/>
<rect x="437.90" y="686.84" width="25.95" height="7.97" fill="#78B0D8"/>
<rect x="463.55" y="686.84" width="25.95" height="7.97" fill="#B8DCE0"/>
<rect x="335.30" y="694.51" width="25.95" height="7.97" fill="#D83028"/>
<rect x="360.95" y="694.51" width="25.95" height="7.97" fill="#90C4DE"/>
<rect x="386.60" y="694.51" width="25.95" height="7.97" fill="#F0D890"/>
<rect x="412.25" y="694.51" width="25.95" height="7.97" fill="#F09858"/>
<rect x="437.90" y="694.51" width="25.95" height="7.97" fill="#C8E0D8"/>
<rect x="463.55" y="694.51" width="25.95" height="7.97" fill="#5888C4"/>
<rect x="335.30" y="702.18" width="25.95" height="7.97" fill="#F07848"/>
<rect x="360.95" y="702.18" width="25.95" height="7.97" fill="#F0A868"/>
<rect x="386.60" y="702.18" width="25.95" height="7.97" fill="#D8E0C0"/>
<rect x="412.25" y="702.18" width="25.95" height="7.97" fill="#4C70B8"/>
<rect x="437.90" y="702.18" width="25.95" height="7.97" fill="#90C8E0"/>
<rect x="463.55" y="702.18" width="25.95" height="7.97" fill="#F07848"/>
<rect x="335.30" y="709.85" width="25.95" height="7.97" fill="#F0A060"/>
<rect x="360.95" y="709.85" width="25.95" height="7.97" fill="#F08050"/>
<rect x="386.60" y="709.85" width="25.95" height="7.97" fill="#B0DCE8"/>
<rect x="412.25" y="709.85" width="25.95" height="7.97" fill="#5080C0"/>
<rect x="437.90" y="709.85" width="25.95" height="7.97" fill="#90C8E0"/>
<rect x="463.55" y="709.85" width="25.95" height="7.97" fill="#F07048"/>
<rect x="335.30" y="717.52" width="25.95" height="7.97" fill="#F0A868"/>
<rect x="360.95" y="717.52" width="25.95" height="7.97" fill="#F0B878"/>
<rect x="386.60" y="717.52" width="25.95" height="7.97" fill="#C8E0D8"/>
<rect x="412.25" y="717.52" width="25.95" height="7.97" fill="#5080C0"/>
<rect x="437.90" y="717.52" width="25.95" height="7.97" fill="#90C8E0"/>
<rect x="463.55" y="717.52" width="25.95" height="7.97" fill="#E04030"/>
<rect x="335.30" y="725.19" width="25.95" height="7.97" fill="#E8E0A8"/>
<rect x="360.95" y="725.19" width="25.95" height="7.97" fill="#F0B070"/>
<rect x="386.60" y="725.19" width="25.95" height="7.97" fill="#B0DCE8"/>
<rect x="412.25" y="725.19" width="25.95" height="7.97" fill="#80B8D8"/>
<rect x="437.90" y="725.19" width="25.95" height="7.97" fill="#90C8E0"/>
<rect x="463.55" y="725.19" width="25.95" height="7.97" fill="#C02028"/>
<rect x="335.30" y="732.86" width="25.95" height="7.97" fill="#F0D890"/>
<rect x="360.95" y="732.86" width="25.95" height="7.97" fill="#E04830"/>
<rect x="386.60" y="732.86" width="25.95" height="7.97" fill="#E8DCA0"/>
<rect x="412.25" y="732.86" width="25.95" height="7.97" fill="#3C58A8"/>
<rect x="437.90" y="732.86" width="25.95" height="7.97" fill="#C8E0D8"/>
<rect x="463.55" y="732.86" width="25.95" height="7.97" fill="#F09858"/>
<rect x="335.30" y="740.53" width="25.95" height="7.97" fill="#C8E0D8"/>
<rect x="360.95" y="740.53" width="25.95" height="7.97" fill="#F08050"/>
<rect x="386.60" y="740.53" width="25.95" height="7.97" fill="#F08050"/>
<rect x="412.25" y="740.53" width="25.95" height="7.97" fill="#5888C4"/>
<rect x="437.90" y="740.53" width="25.95" height="7.97" fill="#78B0D8"/>
<rect x="463.55" y="740.53" width="25.95" height="7.97" fill="#F08050"/>
<rect x="335.30" y="748.20" width="25.95" height="7.97" fill="#F08050"/>
<rect x="360.95" y="748.20" width="25.95" height="7.97" fill="#F08050"/>
<rect x="386.60" y="748.20" width="25.95" height="7.97" fill="#F08050"/>
<rect x="412.25" y="748.20" width="25.95" height="7.97" fill="#78B0D8"/>
<rect x="437.90" y="748.20" width="25.95" height="7.97" fill="#5080C0"/>
<rect x="463.55" y="748.20" width="25.95" height="7.97" fill="#D8E0C0"/>
<rect x="335.30" y="755.87" width="25.95" height="7.97" fill="#F08050"/>
<rect x="360.95" y="755.87" width="25.95" height="7.97" fill="#F0A868"/>
<rect x="386.60" y="755.87" width="25.95" height="7.97" fill="#F08050"/>
<rect x="412.25" y="755.87" width="25.95" height="7.97" fill="#A8D8E8"/>
<rect x="437.90" y="755.87" width="25.95" height="7.97" fill="#3C50A8"/>
<rect x="463.55" y="755.87" width="25.95" height="7.97" fill="#F0C880"/>
<rect x="335.30" y="763.54" width="25.95" height="7.97" fill="#F0D890"/>
<rect x="360.95" y="763.54" width="25.95" height="7.97" fill="#D83028"/>
<rect x="386.60" y="763.54" width="25.95" height="7.97" fill="#F0A060"/>
<rect x="412.25" y="763.54" width="25.95" height="7.97" fill="#90C8E0"/>
<rect x="437.90" y="763.54" width="25.95" height="7.97" fill="#6090C8"/>
<rect x="463.55" y="763.54" width="25.95" height="7.97" fill="#D8E0C0"/>
<rect x="335.30" y="771.21" width="25.95" height="7.97" fill="#E4E0A8"/>
<rect x="360.95" y="771.21" width="25.95" height="7.97" fill="#78B0D8"/>
<rect x="386.60" y="771.21" width="25.95" height="7.97" fill="#F0A060"/>
<rect x="412.25" y="771.21" width="25.95" height="7.97" fill="#E8E0A0"/>
<rect x="437.90" y="771.21" width="25.95" height="7.97" fill="#6090C8"/>
<rect x="463.55" y="771.21" width="25.95" height="7.97" fill="#D83028"/>
<rect x="335.30" y="778.88" width="25.95" height="7.97" fill="#A8D8E8"/>
<rect x="360.95" y="778.88" width="25.95" height="7.97" fill="#C0E0E0"/>
<rect x="386.60" y="778.88" width="25.95" height="7.97" fill="#A8D8E8"/>
<rect x="412.25" y="778.88" width="25.95" height="7.97" fill="#A81828"/>
<rect x="437.90" y="778.88" width="25.95" height="7.97" fill="#B0DCE8"/>
<rect x="463.55" y="778.88" width="25.95" height="7.97" fill="#E0E0B0"/>
<rect x="335.30" y="786.55" width="25.95" height="7.97" fill="#A8D8E8"/>
<rect x="360.95" y="786.55" width="25.95" height="7.97" fill="#C0E0E0"/>
<rect x="386.60" y="786.55" width="25.95" height="7.97" fill="#A8DCE8"/>
<rect x="412.25" y="786.55" width="25.95" height="7.97" fill="#A81828"/>
<rect x="437.90" y="786.55" width="25.95" height="7.97" fill="#C0E0E0"/>
<rect x="463.55" y="786.55" width="25.95" height="7.97" fill="#E0E0B0"/>
<rect x="335.30" y="794.22" width="25.95" height="7.97" fill="#90C8E0"/>
<rect x="360.95" y="794.22" width="25.95" height="7.97" fill="#D8E0C0"/>
<rect x="386.60" y="794.22" width="25.95" height="7.97" fill="#A8D8E8"/>
<rect x="412.25" y="794.22" width="25.95" height="7.97" fill="#C02028"/>
<rect x="437.90" y="794.22" width="25.95" height="7.97" fill="#88C0DC"/>
<rect x="463.55" y="794.22" width="25.95" height="7.97" fill="#F0B070"/>
<rect x="335.30" y="801.89" width="25.95" height="7.97" fill="#6CA0D0"/>
<rect x="360.95" y="801.89" width="25.95" height="7.97" fill="#C8E0D8"/>
<rect x="386.60" y="801.89" width="25.95" height="7.97" fill="#C8E0D8"/>
<rect x="412.25" y="801.89" width="25.95" height="7.97" fill="#B01C28"/>
<rect x="437.90" y="801.89" width="25.95" height="7.97" fill="#E0E0B0"/>
<rect x="463.55" y="801.89" width="25.95" height="7.97" fill="#E0E0B0"/>
<rect x="335.30" y="809.56" width="25.95" height="7.97" fill="#78B0D8"/>
<rect x="360.95" y="809.56" width="25.95" height="7.97" fill="#B0DCE8"/>
<rect x="386.60" y="809.56" width="25.95" height="7.97" fill="#C8E0D8"/>
<rect x="412.25" y="809.56" width="25.95" height="7.97" fill="#B01C28"/>
<rect x="437.90" y="809.56" width="25.95" height="7.97" fill="#E0E0B0"/>
<rect x="463.55" y="809.56" width="25.95" height="7.97" fill="#E0E0B0"/>
<rect x="335.30" y="817.23" width="25.95" height="7.97" fill="#6898C8"/>
<rect x="360.95" y="817.23" width="25.95" height="7.97" fill="#C8E0D8"/>
<rect x="386.60" y="817.23" width="25.95" height="7.97" fill="#C8E0D8"/>
<rect x="412.25" y="817.23" width="25.95" height="7.97" fill="#B81E28"/>
<rect x="437.90" y="817.23" width="25.95" height="7.97" fill="#F0D080"/>
<rect x="463.55" y="817.23" width="25.95" height="7.97" fill="#C8E0D8"/>
<rect x="335.30" y="824.90" width="25.95" height="7.97" fill="#B0DCE8"/>
<rect x="360.95" y="824.90" width="25.95" height="7.97" fill="#6CA0D0"/>
<rect x="386.60" y="824.90" width="25.95" height="7.97" fill="#90C4DE"/>
<rect x="412.25" y="824.90" width="25.95" height="7.97" fill="#D83028"/>
<rect x="437.90" y="824.90" width="25.95" height="7.97" fill="#F0B070"/>
<rect x="463.55" y="824.90" width="25.95" height="7.97" fill="#F0B070"/>
<rect x="335.30" y="832.57" width="25.95" height="7.97" fill="#6CA0D0"/>
<rect x="360.95" y="832.57" width="25.95" height="7.97" fill="#A8D8E8"/>
<rect x="386.60" y="832.57" width="25.95" height="7.97" fill="#B0DCE8"/>
<rect x="412.25" y="832.57" width="25.95" height="7.97" fill="#F07048"/>
<rect x="437.90" y="832.57" width="25.95" height="7.97" fill="#D8E0C0"/>
<rect x="463.55" y="832.57" width="25.95" height="7.97" fill="#E04830"/>
<rect x="335.80" y="518.60" width="24.65" height="6.67" fill="none" stroke="#222" stroke-width="1.1"/>
<rect x="335.80" y="526.27" width="24.65" height="6.67" fill="none" stroke="#222" stroke-width="1.1"/>
<rect x="361.45" y="556.95" width="24.65" height="6.67" fill="none" stroke="#222" stroke-width="1.1"/>
<rect x="335.80" y="595.30" width="24.65" height="6.67" fill="none" stroke="#222" stroke-width="1.1"/>
<rect x="387.10" y="595.30" width="24.65" height="6.67" fill="none" stroke="#222" stroke-width="1.1"/>
<rect x="387.10" y="633.65" width="24.65" height="6.67" fill="none" stroke="#222" stroke-width="1.1"/>
<rect x="387.10" y="672.00" width="24.65" height="6.67" fill="none" stroke="#222" stroke-width="1.1"/>
<rect x="412.75" y="779.38" width="24.65" height="45.02" fill="none" stroke="#222" stroke-width="1.1"/>
<g transform="translate(490.3 0) scale(0.822 1)">
<text x="0" y="526.1" font-size="11" fill="#111">IL2_STAT5_SIGNALING</text>
<text x="0" y="533.8" font-size="11" fill="#111">COMPLEMENT</text>
<text x="0" y="541.4" font-size="11" fill="#111">P53_PATHWAY</text>
<text x="0" y="549.1" font-size="11" fill="#111">INTERFERON_GAMMA_RESPONSE</text>
<text x="0" y="556.8" font-size="11" fill="#111">IL6_JAK_STAT3_SIGNALING</text>
<text x="0" y="564.4" font-size="11" fill="#111">ALLOGRAFT_REJECTION</text>
<text x="0" y="572.1" font-size="11" fill="#111">APOPTOSIS</text>
<text x="0" y="579.7" font-size="11" fill="#111">PI3K_AKT_MTOR_SIGNALING</text>
<text x="0" y="587.4" font-size="11" fill="#111">REACTIVE_OXYGEN_SPECIES_PATHWAY</text>
<text x="0" y="595.1" font-size="11" fill="#111">INTERFERON_ALPHA_RESPONSE</text>
<text x="0" y="602.7" font-size="11" fill="#111">KRAS_SIGNALING_UP</text>
<text x="0" y="610.4" font-size="11" fill="#111">INFLAMMATORY_RESPONSE</text>
<text x="0" y="618.1" font-size="11" fill="#111">MTORC1_SIGNALING</text>
<text x="0" y="625.7" font-size="11" fill="#111">XENOBIOTIC_METABOLISM</text>
<text x="0" y="633.4" font-size="11" fill="#111">COAGULATION</text>
<text x="0" y="641.0" font-size="11" fill="#111">TGF_BETA_SIGNALING</text>
<text x="0" y="648.7" font-size="11" fill="#111">PROTEIN_SECRETION</text>
<text x="0" y="656.4" font-size="11" fill="#111">PANCREAS_BETA_CELLS</text>
<text x="0" y="664.0" font-size="11" fill="#111">BILE_ACID_METABOLISM</text>
<text x="0" y="671.7" font-size="11" fill="#111">PEROXISOME</text>
<text x="0" y="679.4" font-size="11" fill="#111">EPITHELIAL_MESENCHYMAL_TRANSITION</text>
<text x="0" y="687.0" font-size="11" fill="#111">GLYCOLYSIS</text>
<text x="0" y="694.7" font-size="11" fill="#111">NOTCH_SIGNALING</text>
<text x="0" y="702.3" font-size="11" fill="#111">FATTY_ACID_METABOLISM</text>
<text x="0" y="710.0" font-size="11" fill="#111">HEDGEHOG_SIGNALING</text>
<text x="0" y="717.7" font-size="11" fill="#111">ADIPOGENESIS</text>
<text x="0" y="725.3" font-size="11" fill="#111">KRAS_SIGNALING_DN</text>
<text x="0" y="733.0" font-size="11" fill="#111">MYOGENESIS</text>
<text x="0" y="740.7" font-size="11" fill="#111">HEME_METABOLISM</text>
<text x="0" y="748.3" font-size="11" fill="#111">ANGIOGENESIS</text>
<text x="0" y="756.0" font-size="11" fill="#111">HYPOXIA</text>
<text x="0" y="763.7" font-size="11" fill="#111">ANDROGEN_RESPONSE</text>
<text x="0" y="771.3" font-size="11" fill="#111">TNFA_SIGNALING_VIA_NFKB</text>
<text x="0" y="779.0" font-size="11" fill="#111">WNT_BETA_CATENIN_SIGNALING</text>
<text x="0" y="786.6" font-size="11" fill="#111">G2M_CHECKPOINT</text>
<text x="0" y="794.3" font-size="11" fill="#111">E2F_TARGETS</text>
<text x="0" y="802.0" font-size="11" fill="#111">MITOTIC_SPINDLE</text>
<text x="0" y="809.6" font-size="11" fill="#111">MYC_TARGETS_V1</text>
<text x="0" y="817.3" font-size="11" fill="#111">DNA_REPAIR</text>
<text x="0" y="825.0" font-size="11" fill="#111">MYC_TARGETS_V2</text>
<text x="0" y="832.6" font-size="11" fill="#111">SPERMATOGENESIS</text>
<text x="0" y="840.3" font-size="11" fill="#111">OXIDATIVE_PHOSPHORYLATION</text>
</g>
<line x1="348.1" y1="840.3" x2="348.1" y2="843" stroke="#444" stroke-width="0.8"/>
<text x="351.9" y="847.5" font-size="11.5" text-anchor="end" font-weight="normal" fill="#222" transform="rotate(-45 351.9 847.5)">iCAFs</text>
<line x1="373.8" y1="840.3" x2="373.8" y2="843" stroke="#444" stroke-width="0.8"/>
<text x="377.6" y="847.5" font-size="11.5" text-anchor="end" font-weight="normal" fill="#222" transform="rotate(-45 377.6 847.5)">apCAFs</text>
<line x1="399.4" y1="840.3" x2="399.4" y2="843" stroke="#444" stroke-width="0.8"/>
<text x="403.2" y="847.5" font-size="11.5" text-anchor="end" font-weight="normal" fill="#222" transform="rotate(-45 403.2 847.5)">mCAFs</text>
<line x1="425.1" y1="840.3" x2="425.1" y2="843" stroke="#444" stroke-width="0.8"/>
<text x="428.9" y="847.5" font-size="11.5" text-anchor="end" font-weight="normal" fill="#222" transform="rotate(-45 428.9 847.5)">pCAFs</text>
<line x1="450.7" y1="840.3" x2="450.7" y2="843" stroke="#444" stroke-width="0.8"/>
<text x="454.5" y="847.5" font-size="11.5" text-anchor="end" font-weight="normal" fill="#222" transform="rotate(-45 454.5 847.5)">eCAFs</text>
<line x1="476.4" y1="840.3" x2="476.4" y2="843" stroke="#444" stroke-width="0.8"/>
<text x="480.2" y="847.5" font-size="11.5" text-anchor="end" font-weight="normal" fill="#222" transform="rotate(-45 480.2 847.5)">SMCs</text>
<defs><linearGradient id="fg" x1="0" x2="1"><stop offset="0" stop-color="#b81e2a"/><stop offset="0.1" stop-color="#d83028"/><stop offset="0.25" stop-color="#f07048"/><stop offset="0.38" stop-color="#f0b070"/><stop offset="0.5" stop-color="#eedc98"/><stop offset="0.6" stop-color="#c0e0dc"/><stop offset="0.7" stop-color="#98c8e0"/><stop offset="0.82" stop-color="#5c8cc4"/><stop offset="1" stop-color="#303a90"/></linearGradient></defs>
<rect x="502.4" y="864" width="74.8" height="5.8" rx="1" fill="url(#fg)"/>
<line x1="521" y1="864" x2="521" y2="869.8" stroke="#fff" stroke-width="0.4"/>
<line x1="540.8" y1="864" x2="540.8" y2="869.8" stroke="#fff" stroke-width="0.4"/>
<line x1="559.8" y1="864" x2="559.8" y2="869.8" stroke="#fff" stroke-width="0.4"/>
<text x="502.8" y="862.8" font-size="10.5" text-anchor="middle" font-weight="normal" fill="#111" >2</text>
<text x="520.7" y="862.8" font-size="10.5" text-anchor="middle" font-weight="normal" fill="#111" >1</text>
<text x="540.4" y="862.8" font-size="10.5" text-anchor="middle" font-weight="normal" fill="#111" >0</text>
<text x="557.2" y="862.8" font-size="10.5" text-anchor="middle" font-weight="normal" fill="#111" >−1</text>
<path d="M335.3 521.9H332.8V529.6H335.3M332.8 525.8H329.7V537.3H335.3M335.3 544.9H332.8V552.6H335.3M332.8 548.8H329.7V560.3H335.3M329.7 531.5H326.7V554.5H329.7M326.7 543.0H323.8V568.0H335.3M323.8 555.5H321.0V575.6H335.3M335.3 583.3H332.8V591.0H335.3M335.3 598.6H332.8V606.3H335.3M332.8 587.1H329.7V602.5H332.8M321.0 565.6H318.5V594.8H329.7M318.5 580.2H315.4V614.0H335.3M335.3 621.6H332.8V629.3H335.3M332.8 625.5H329.7V637.0H335.3M329.7 631.2H326.5V644.7H335.3M335.3 652.3H332.8V660.0H335.3M326.5 637.9H323.6V656.2H332.8M335.3 667.7H332.8V675.3H335.3M332.8 671.5H329.7V683.0H335.3M335.3 690.7H332.6V698.3H335.3M329.7 677.3H326.5V694.5H332.6M323.6 647.1H321.0V685.9H326.5M315.4 597.1H312.3V666.5H321.0M335.3 706.0H332.8V713.7H335.3M332.8 709.9H329.7V721.4H335.3M329.7 715.6H326.5V729.0H335.3M335.3 736.7H332.8V744.4H335.3M326.5 722.3H323.6V740.5H332.8M335.3 752.0H332.8V759.7H335.3M332.8 755.9H329.7V767.4H335.3M323.6 731.4H321.0V761.6H329.7M321.0 746.5H318.5V775.0H335.3M312.3 631.8H309.7V760.8H318.5M335.3 782.7H332.3V790.4H335.3M332.3 786.5H329.3V798.1H335.3M335.3 805.7H332.3V813.4H335.3M332.3 809.6H329.3V821.1H335.3M329.3 792.3H326.4V815.3H329.3M335.3 828.7H332.3V836.4H335.3M326.4 803.8H323.5V832.6H332.3M309.7 696.3H306.9V818.2H323.5" fill="none" stroke="#333" stroke-width="0.9"/>
</svg>
</body></html>
